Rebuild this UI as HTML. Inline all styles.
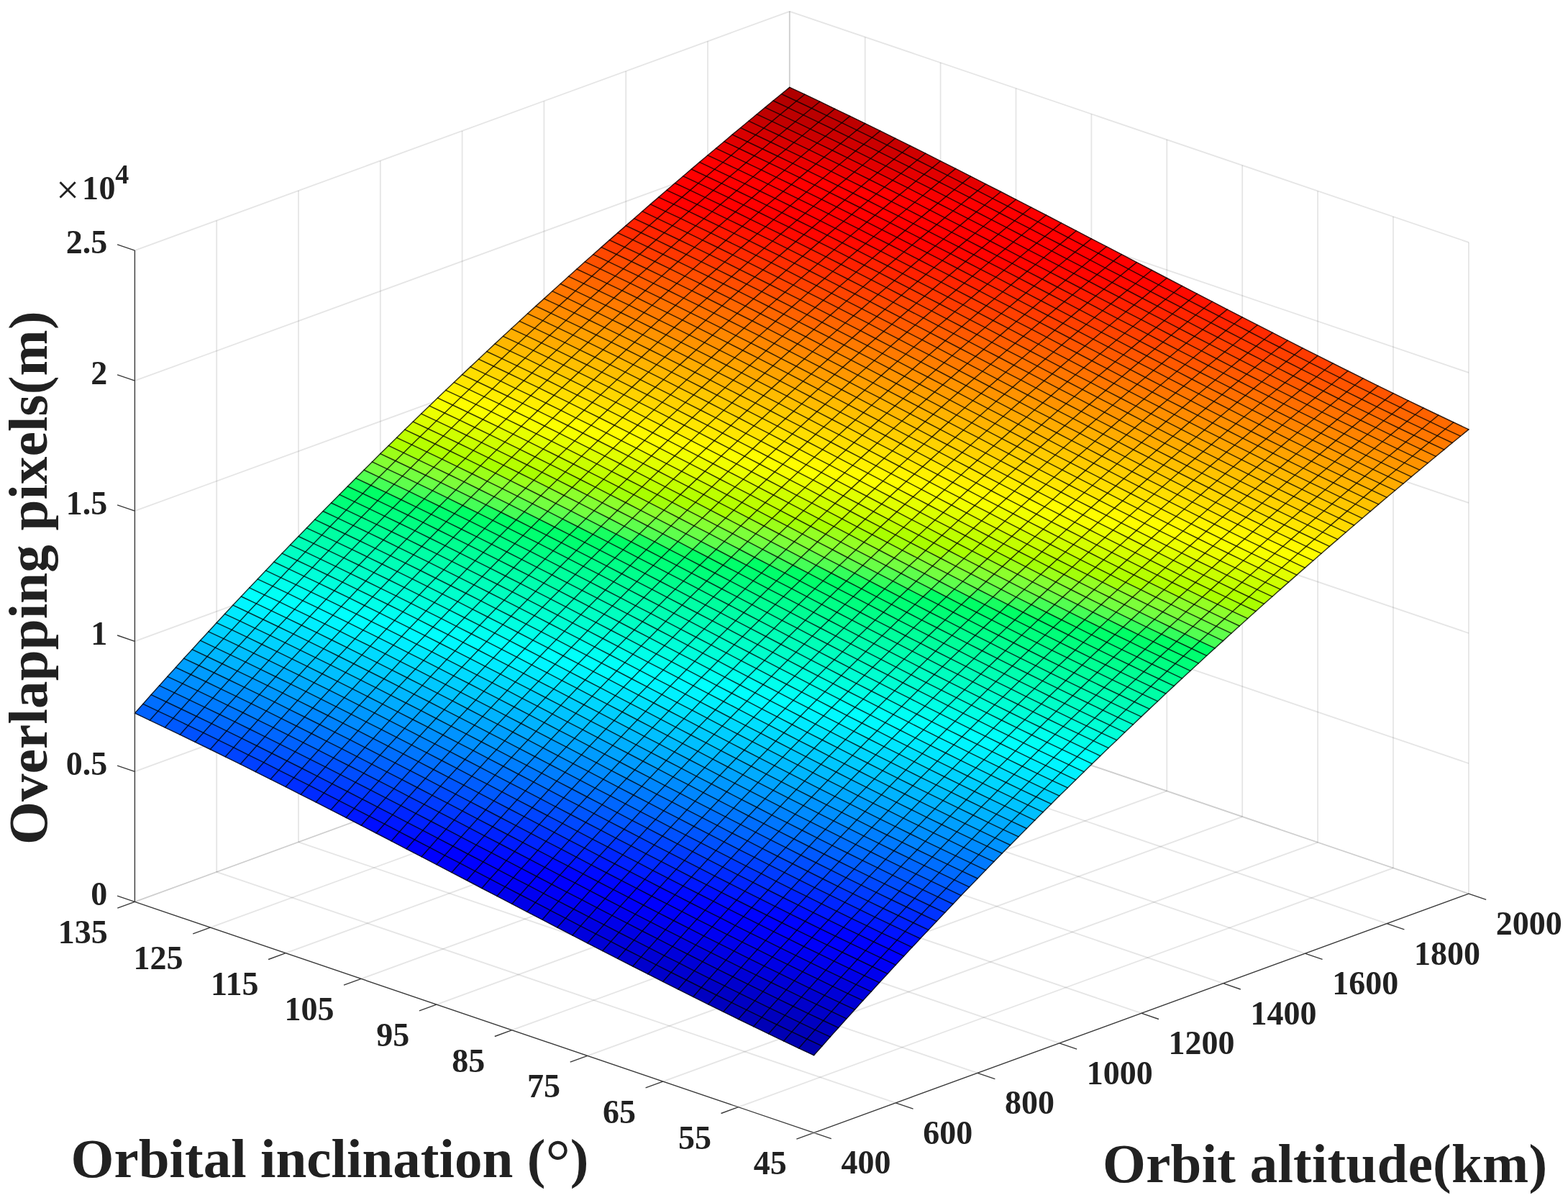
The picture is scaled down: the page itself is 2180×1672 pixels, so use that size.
<!DOCTYPE html>
<html lang="en"><head><meta charset="utf-8"><title>Overlapping pixels vs orbital inclination and orbit altitude</title>
<style>html,body{margin:0;padding:0;background:#fff}body{width:2180px;height:1672px;overflow:hidden}svg{display:block}</style></head>
<body>
<svg width="2180" height="1672" viewBox="0 0 2180 1672">
<rect width="2180" height="1672" fill="#fff"/>
<g fill="none" stroke="#262626" stroke-opacity="0.12" stroke-width="1.8">
<path d="M1026.6 1538.7L1937 1206.4"/>
<path d="M921.7 1503.1L1832.1 1170.8"/>
<path d="M816.8 1467.4L1727.2 1135.1"/>
<path d="M711.9 1431.7L1622.3 1099.4"/>
<path d="M607 1396.1L1517.4 1063.8"/>
<path d="M502.1 1360.4L1412.5 1028.1"/>
<path d="M397.2 1324.7L1307.6 992.4"/>
<path d="M292.3 1289.1L1202.7 956.8"/>
<path d="M187.4 1253.4L1097.8 921.1"/>
<path d="M1245.3 1532.9L301.2 1211.9"/>
<path d="M1359.1 1491.3L415 1170.3"/>
<path d="M1472.9 1449.8L528.8 1128.8"/>
<path d="M1586.7 1408.2L642.6 1087.2"/>
<path d="M1700.5 1366.7L756.4 1045.7"/>
<path d="M1814.3 1325.2L870.2 1004.2"/>
<path d="M1928.1 1283.6L984 962.6"/>
<path d="M2041.9 1242.1L1097.8 921.1"/>
<path d="M301.2 1211.9L301.2 306.6"/>
<path d="M415 1170.3L415 265"/>
<path d="M528.8 1128.8L528.8 223.5"/>
<path d="M642.6 1087.2L642.6 182"/>
<path d="M756.4 1045.7L756.4 140.4"/>
<path d="M870.2 1004.2L870.2 98.9"/>
<path d="M984 962.6L984 57.3"/>
<path d="M1097.8 921.1L1097.8 15.8"/>
<path d="M187.4 1253.4L1097.8 921.1"/>
<path d="M187.4 1072.3L1097.8 740"/>
<path d="M187.4 891.3L1097.8 559"/>
<path d="M187.4 710.2L1097.8 377.9"/>
<path d="M187.4 529.2L1097.8 196.9"/>
<path d="M187.4 348.1L1097.8 15.8"/>
<path d="M2041.9 1242.1L2041.9 336.8"/>
<path d="M1937 1206.4L1937 301.1"/>
<path d="M1832.1 1170.8L1832.1 265.5"/>
<path d="M1727.2 1135.1L1727.2 229.8"/>
<path d="M1622.3 1099.4L1622.3 194.1"/>
<path d="M1517.4 1063.8L1517.4 158.5"/>
<path d="M1412.5 1028.1L1412.5 122.8"/>
<path d="M1307.6 992.4L1307.6 87.1"/>
<path d="M1202.7 956.8L1202.7 51.5"/>
<path d="M1097.8 921.1L1097.8 15.8"/>
<path d="M1097.8 921.1L2041.9 1242.1"/>
<path d="M1097.8 740L2041.9 1061"/>
<path d="M1097.8 559L2041.9 880"/>
<path d="M1097.8 377.9L2041.9 698.9"/>
<path d="M1097.8 196.9L2041.9 517.9"/>
<path d="M1097.8 15.8L2041.9 336.8"/>
</g>
<g stroke-width=".7" stroke-linejoin="round">
<path fill="#af0000" stroke="#af0000" d="M1107.4 140.5l-21-9.8 11.4-9.3 21 9.8z"/>
<path fill="#b20000" stroke="#b20000" d="M1128.4 150.5l-21-10 11.4-9.3 21 10z"/>
<path fill="#b70000" stroke="#b70000" d="M1149.4 160.6l-21-10.1 11.4-9.3 20.9 10.1zM1117 159.8l-21-9.9 11.4-9.4 21 10z"/>
<path fill="#ba0000" stroke="#ba0000" d="M1170.3 170.7l-20.9-10.1 11.3-9.3 21 10.1zM1138 169.9l-21-10.1 11.4-9.3 21 10.1zM1084.6 159.2l-20.9-9.8 11.3-9.4 21 9.9z"/>
<path fill="#bd0000" stroke="#bd0000" d="M1191.3 180.9l-21-10.2 11.4-9.3 21 10.2zM1105.6 169.2l-21-10 11.4-9.3 21 9.9z"/>
<path fill="#bf0000" stroke="#bf0000" d="M1212.3 191.2l-21-10.3 11.4-9.3 21 10.3zM1159 180l-21-10.1 11.4-9.3 20.9 10.1zM1126.6 179.3l-21-10.1 11.4-9.4 21 10.1zM1073.3 168.6l-21-9.8 11.4-9.4 20.9 9.8z"/>
<path fill="#c20000" stroke="#c20000" d="M1233.3 201.6l-21-10.4 11.4-9.3 21 10.4zM1179.9 190.3l-20.9-10.3 11.3-9.3 21 10.2zM1094.2 178.6l-20.9-10 11.3-9.4 21 10z"/>
<path fill="#c70000" stroke="#c70000" d="M1254.3 212l-21-10.4 11.4-9.3 20.9 10.4zM1200.9 200.6l-21-10.3 11.4-9.4 21 10.3zM1147.6 189.4l-21-10.1 11.4-9.4 21 10.1zM1115.2 188.7l-21-10.1 11.4-9.4 21 10.1zM1061.9 178.1l-21-9.9 11.4-9.4 21 9.8z"/>
<path fill="#d00000" stroke="#d00000" d="M1275.2 222.5l-20.9-10.5 11.3-9.3 21 10.5zM1242.9 221.4l-21-10.5 11.4-9.3 21 10.4zM1189.5 209.9l-20.9-10.3 11.3-9.3 21 10.3zM1103.8 198.1l-20.9-10.1 11.3-9.4 21 10.1zM1050.5 187.5l-21-9.8 11.4-9.5 21 9.9z"/>
<path fill="#d40000" stroke="#d40000" d="M1296.2 233.1l-21-10.6 11.4-9.3 21 10.6zM1210.5 220.3l-21-10.4 11.4-9.3 21 10.3zM1157.2 209l-21-10.2 11.4-9.4 21 10.2zM1124.8 208.2l-21-10.1 11.4-9.4 21 10.1zM1071.5 197.5l-21-10 11.4-9.4 21 9.9z"/>
<path fill="#d90000" stroke="#d90000" d="M1317.2 243.7l-21-10.6 11.4-9.3 21 10.6zM1263.9 231.9l-21-10.5 11.4-9.4 20.9 10.5zM1231.5 230.7l-21-10.4 11.4-9.4 21 10.5zM1178.2 219.3l-21-10.3 11.4-9.4 20.9 10.3zM1092.5 207.6l-21-10.1 11.4-9.5 20.9 10.1zM1039.1 197l-21-9.9 11.4-9.4 21 9.8z"/>
<path fill="#d00" stroke="#d00" d="M1338.2 254.4l-21-10.7 11.4-9.3 21 10.7zM1284.8 242.4l-20.9-10.5 11.3-9.4 21 10.6zM1252.5 241.2l-21-10.5 11.4-9.3 21 10.5zM1199.1 229.7l-20.9-10.4 11.3-9.4 21 10.4zM1145.8 218.4l-21-10.2 11.4-9.4 21 10.2zM1113.4 217.7l-20.9-10.1 11.3-9.5 21 10.1zM1060.1 207l-21-10 11.4-9.5 21 10z"/>
<path fill="#e60000" stroke="#e60000" d="M1359.2 265.1l-21-10.7 11.4-9.3 20.9 10.7zM1326.8 263.7l-21-10.7 11.4-9.3 21 10.7zM1273.5 251.8l-21-10.6 11.4-9.3 20.9 10.5zM1241.1 250.6l-21-10.5 11.4-9.4 21 10.5zM1187.8 239.1l-21-10.4 11.4-9.4 20.9 10.4zM1134.4 227.9l-21-10.2 11.4-9.5 21 10.2zM1102.1 227.2l-21-10.2 11.4-9.4 20.9 10.1zM1048.7 216.5l-21-10 11.4-9.5 21 10z"/>
<path fill="#eb0000" stroke="#eb0000" d="M1380.1 275.8l-20.9-10.7 11.3-9.3 21 10.7zM1294.4 262.4l-20.9-10.6 11.3-9.4 21 10.6zM1208.7 249.5l-20.9-10.4 11.3-9.4 21 10.4zM1155.4 238.2l-21-10.3 11.4-9.5 21 10.3zM1123 237.4l-20.9-10.2 11.3-9.5 21 10.2zM1069.7 226.6l-21-10.1 11.4-9.5 21 10zM1016.4 216.1l-21-9.9 11.4-9.5 20.9 9.8z"/>
<path fill="#f40000" stroke="#f40000" d="M1401.1 286.6l-21-10.8 11.4-9.3 21 10.8zM1368.8 285.2l-21-10.8 11.4-9.3 20.9 10.7zM1283.1 271.8l-21-10.6 11.4-9.4 20.9 10.6zM1197.4 259l-21-10.4 11.4-9.5 20.9 10.4zM1144 247.7l-21-10.3 11.4-9.5 21 10.3zM1111.7 246.9l-21-10.2 11.4-9.5 20.9 10.2zM1058.3 236.1l-21-10 11.4-9.6 21 10.1zM1005 225.7l-21-9.9 11.4-9.6 21 9.9z"/>
<path fill="#f80000" stroke="#f80000" d="M1422.1 297.5l-21-10.9 11.4-9.3 21 10.9zM1389.7 296l-20.9-10.8 11.3-9.4 21 10.8zM1336.4 283.8l-21-10.7 11.4-9.4 21 10.7zM1304 282.5l-20.9-10.7 11.3-9.4 21 10.7zM1250.7 270.6l-21-10.6 11.4-9.4 21 10.6zM1218.3 269.5l-20.9-10.5 11.3-9.5 21 10.5zM1165 258.1l-21-10.4 11.4-9.5 21 10.4zM1079.3 246.3l-21-10.2 11.4-9.5 21 10.1zM1026 235.7l-21-10 11.4-9.6 20.9 10z"/>
<path fill="#fd0000" stroke="#fd0000" d="M1443.1 308.3l-21-10.8 11.4-9.3 21 10.8zM1357.4 294.5l-21-10.7 11.4-9.4 21 10.8zM1271.7 281.2l-21-10.6 11.4-9.4 21 10.6zM1186 268.5l-21-10.4 11.4-9.5 21 10.4zM1132.6 257.2l-20.9-10.3 11.3-9.5 21 10.3zM1100.3 256.5l-21-10.2 11.4-9.6 21 10.2zM1046.9 245.7l-20.9-10 11.3-9.6 21 10zM993.6 235.3l-21-9.9 11.4-9.6 21 9.9z"/>
<path fill="#f00" stroke="#f00" d="M1464.1 319.2l-21-10.9 11.4-9.3 20.9 10.9zM1485 330.1l-20.9-10.9 11.3-9.3 21 10.9zM1506 341.1l-21-11 11.4-9.3 21 11zM1527 352l-21-10.9 11.4-9.3 21 10.9zM1548 362.9l-21-10.9 11.4-9.3 21 10.9zM1569 373.9l-21-11 11.4-9.3 20.9 11zM1589.9 384.8l-20.9-10.9 11.3-9.3 21 10.9zM1410.7 306.8l-21-10.8 11.4-9.4 21 10.9zM1431.7 317.7l-21-10.9 11.4-9.3 21 10.8zM1452.7 328.6l-21-10.9 11.4-9.4 21 10.9zM1473.7 339.5l-21-10.9 11.4-9.4 20.9 10.9zM1494.6 350.4l-20.9-10.9 11.3-9.4 21 11zM1515.6 361.3l-21-10.9 11.4-9.3 21 10.9zM1536.6 372.3l-21-11 11.4-9.3 21 10.9zM1378.4 305.3l-21-10.8 11.4-9.3 20.9 10.8zM1399.3 316.2l-20.9-10.9 11.3-9.3 21 10.8zM1420.3 327l-21-10.8 11.4-9.4 21 10.9zM1441.3 337.9l-21-10.9 11.4-9.3 21 10.9zM1462.3 348.8l-21-10.9 11.4-9.3 21 10.9zM1483.3 359.8l-21-11 11.4-9.3 20.9 10.9zM1504.2 370.7l-20.9-10.9 11.3-9.4 21 10.9zM1325 293.2l-21-10.7 11.4-9.4 21 10.7zM1346 303.9l-21-10.7 11.4-9.4 21 10.7zM1367 314.7l-21-10.8 11.4-9.4 21 10.8zM1388 325.6l-21-10.9 11.4-9.4 20.9 10.9zM1408.9 336.4l-20.9-10.8 11.3-9.4 21 10.8zM1429.9 347.3l-21-10.9 11.4-9.4 21 10.9zM1450.9 358.2l-21-10.9 11.4-9.4 21 10.9zM1471.9 369.2l-21-11 11.4-9.4 21 11zM1292.7 291.9l-21-10.7 11.4-9.4 20.9 10.7zM1313.6 302.6l-20.9-10.7 11.3-9.4 21 10.7zM1334.6 313.4l-21-10.8 11.4-9.4 21 10.7zM1355.6 324.2l-21-10.8 11.4-9.5 21 10.8zM1376.6 335l-21-10.8 11.4-9.5 21 10.9zM1397.6 345.9l-21-10.9 11.4-9.4 20.9 10.8zM1418.5 356.8l-20.9-10.9 11.3-9.5 21 10.9zM1239.3 280.1l-21-10.6 11.4-9.5 21 10.6zM1260.3 290.7l-21-10.6 11.4-9.5 21 10.6zM1281.3 301.4l-21-10.7 11.4-9.5 21 10.7zM1302.3 312.1l-21-10.7 11.4-9.5 20.9 10.7zM1323.2 322.8l-20.9-10.7 11.3-9.5 21 10.8zM1344.2 333.6l-21-10.8 11.4-9.4 21 10.8zM1365.2 344.5l-21-10.9 11.4-9.4 21 10.8zM1386.2 355.3l-21-10.8 11.4-9.5 21 10.9zM1207 279l-21-10.5 11.4-9.5 20.9 10.5zM1227.9 289.6l-20.9-10.6 11.3-9.5 21 10.6zM1248.9 300.2l-21-10.6 11.4-9.5 21 10.6zM1269.9 310.8l-21-10.6 11.4-9.5 21 10.7zM1290.9 321.6l-21-10.8 11.4-9.4 21 10.7zM1311.9 332.3l-21-10.7 11.4-9.5 20.9 10.7zM1332.8 343.1l-20.9-10.8 11.3-9.5 21 10.8zM1153.6 267.6l-21-10.4 11.4-9.5 21 10.4zM1174.6 278l-21-10.4 11.4-9.5 21 10.4zM1195.6 288.5l-21-10.5 11.4-9.5 21 10.5zM1216.6 299.1l-21-10.6 11.4-9.5 20.9 10.6zM1237.5 309.7l-20.9-10.6 11.3-9.5 21 10.6zM1258.5 320.4l-21-10.7 11.4-9.5 21 10.6zM1279.5 331.1l-21-10.7 11.4-9.6 21 10.8zM1300.5 341.8l-21-10.7 11.4-9.5 21 10.7zM1121.3 266.8l-21-10.3 11.4-9.6 20.9 10.3zM1142.2 277.1l-20.9-10.3 11.3-9.6 21 10.4zM1163.2 287.6l-21-10.5 11.4-9.5 21 10.4zM1184.2 298.1l-21-10.5 11.4-9.6 21 10.5zM1205.2 308.6l-21-10.5 11.4-9.6 21 10.6zM1226.2 319.3l-21-10.7 11.4-9.5 20.9 10.6zM1247.1 329.9l-20.9-10.6 11.3-9.6 21 10.7zM1268.1 340.6l-21-10.7 11.4-9.5 21 10.7zM1067.9 255.8l-21-10.1 11.4-9.6 21 10.2zM1088.9 266.1l-21-10.3 11.4-9.5 21 10.2zM1109.9 276.4l-21-10.3 11.4-9.6 21 10.3zM1130.9 286.7l-21-10.3 11.4-9.6 20.9 10.3zM1151.8 297.2l-20.9-10.5 11.3-9.6 21 10.5zM1172.8 307.7l-21-10.5 11.4-9.6 21 10.5zM1193.8 318.2l-21-10.5 11.4-9.6 21 10.5zM1214.8 328.8l-21-10.6 11.4-9.6 21 10.7zM1014.6 245.3l-21-10 11.4-9.6 21 10zM1035.6 255.3l-21-10 11.4-9.6 20.9 10zM1056.5 265.5l-20.9-10.2 11.3-9.6 21 10.1zM1077.5 275.7l-21-10.2 11.4-9.7 21 10.3zM1098.5 286l-21-10.3 11.4-9.6 21 10.3zM1119.5 296.4l-21-10.4 11.4-9.6 21 10.3zM1140.5 306.8l-21-10.4 11.4-9.7 20.9 10.5zM1161.4 317.3l-20.9-10.5 11.3-9.6 21 10.5zM982.2 245l-21-9.9 11.4-9.7 21 9.9zM1003.2 254.9l-21-9.9 11.4-9.7 21 10zM1024.2 265l-21-10.1 11.4-9.6 21 10zM1045.2 275.1l-21-10.1 11.4-9.7 20.9 10.2zM1066.1 285.3l-20.9-10.2 11.3-9.6 21 10.2zM1087.1 295.6l-21-10.3 11.4-9.6 21 10.3zM1108.1 306l-21-10.4 11.4-9.6 21 10.4zM1129.1 316.4l-21-10.4 11.4-9.6 21 10.4zM970.8 254.7l-20.9-9.9 11.3-9.7 21 9.9zM991.8 264.6l-21-9.9 11.4-9.7 21 9.9zM1012.8 274.7l-21-10.1 11.4-9.7 21 10.1zM1033.8 284.8l-21-10.1 11.4-9.7 21 10.1zM1054.8 295l-21-10.2 11.4-9.7 20.9 10.2zM1075.7 305.3l-20.9-10.3 11.3-9.7 21 10.3zM959.5 264.4l-21-9.9 11.4-9.7 20.9 9.9zM980.4 274.3l-20.9-9.9 11.3-9.7 21 9.9zM1001.4 284.4l-21-10.1 11.4-9.7 21 10.1zM1022.4 294.5l-21-10.1 11.4-9.7 21 10.1zM948.1 274.1l-21-9.8 11.4-9.8 21 9.9zM969.1 284.1l-21-10 11.4-9.7 20.9 9.9zM990 294.2l-20.9-10.1 11.3-9.8 21 10.1zM936.7 283.9l-21-9.8 11.4-9.8 21 9.8z"/>
<path fill="#ff0300" stroke="#ff0300" d="M1610.9 395.8l-21-11 11.4-9.3 21 11zM1578.6 394.2l-21-11 11.4-9.3 20.9 10.9zM1492.9 380.1l-21-10.9 11.4-9.4 20.9 10.9zM1460.5 378.6l-21-10.9 11.4-9.5 21 11zM1374.8 364.8l-21-10.8 11.4-9.5 21 10.8zM1289.1 351.4l-21-10.8 11.4-9.5 21 10.7zM1256.7 350.2l-20.9-10.7 11.3-9.6 21 10.7zM1203.4 338.5l-21-10.7 11.4-9.6 21 10.6zM1117.7 326.1l-21-10.4 11.4-9.7 21 10.4zM1064.4 315.1l-21-10.3 11.4-9.8 20.9 10.3zM1011 304.3l-21-10.1 11.4-9.8 21 10.1z"/>
<path fill="#ff0600" stroke="#ff0600" d="M1631.9 406.7l-21-10.9 11.4-9.3 21 10.9zM1599.5 405.1l-20.9-10.9 11.3-9.4 21 11zM1546.2 392.6l-21-11 11.4-9.3 21 10.9zM1513.8 391l-20.9-10.9 11.3-9.4 21 10.9zM1428.1 377.1l-20.9-10.9 11.3-9.4 21 10.9zM1395.8 375.7l-21-10.9 11.4-9.5 21 10.9zM1342.4 363.5l-20.9-10.9 11.3-9.5 21 10.9zM1310.1 362.2l-21-10.8 11.4-9.6 21 10.8zM1224.4 349.1l-21-10.6 11.4-9.7 21 10.7zM1171 337.5l-20.9-10.6 11.3-9.6 21 10.5zM1138.7 336.6l-21-10.5 11.4-9.7 21 10.5zM1085.3 325.4l-20.9-10.3 11.3-9.8 21 10.4zM1032 314.5l-21-10.2 11.4-9.8 21 10.3zM978.7 304l-21-10.1 11.4-9.8 20.9 10.1zM925.3 293.8l-21-9.9 11.4-9.8 21 9.8z"/>
<path fill="#ff0a00" stroke="#ff0a00" d="M1652.9 417.6l-21-10.9 11.4-9.3 21 10.9zM1567.2 403.5l-21-10.9 11.4-9.4 21 11zM1534.8 402l-21-11 11.4-9.4 21 11zM1481.5 389.5l-21-10.9 11.4-9.4 21 10.9zM1449.1 388l-21-10.9 11.4-9.4 21 10.9zM1363.4 374.3l-21-10.8 11.4-9.5 21 10.8zM1277.7 361l-21-10.8 11.4-9.6 21 10.8zM1192 348.1l-21-10.6 11.4-9.7 21 10.7zM1106.3 335.9l-21-10.5 11.4-9.7 21 10.4zM1053 324.8l-21-10.3 11.4-9.7 21 10.3zM999.6 314.1l-20.9-10.1 11.3-9.8 21 10.1zM946.3 303.7l-21-9.9 11.4-9.9 21 10z"/>
<path fill="#ff1300" stroke="#ff1300" d="M1673.9 428.5l-21-10.9 11.4-9.3 20.9 10.9zM1641.5 426.9l-21-10.9 11.4-9.3 21 10.9zM1555.8 412.9l-21-10.9 11.4-9.4 21 10.9zM1523.4 411.4l-20.9-10.9 11.3-9.5 21 11zM1470.1 399l-21-11 11.4-9.4 21 10.9zM1437.7 397.5l-20.9-10.9 11.3-9.5 21 10.9zM1352 383.9l-20.9-10.9 11.3-9.5 21 10.8zM1266.3 370.6l-20.9-10.7 11.3-9.7 21 10.8zM1180.6 357.8l-20.9-10.6 11.3-9.7 21 10.6zM1094.9 345.6l-20.9-10.4 11.3-9.8 21 10.5zM1041.6 334.6l-21-10.3 11.4-9.8 21 10.3zM988.3 323.9l-21-10.1 11.4-9.8 20.9 10.1zM934.9 313.6l-21-10 11.4-9.8 21 9.9z"/>
<path fill="#ff1800" stroke="#ff1800" d="M1694.8 439.4l-20.9-10.9 11.3-9.3 21 10.9zM1609.1 425.4l-20.9-10.9 11.3-9.4 21 10.9zM1576.8 423.9l-21-11 11.4-9.4 21 11zM1491.1 409.9l-21-10.9 11.4-9.5 21 11zM1405.4 396.1l-21-10.9 11.4-9.5 21 10.9zM1373 394.8l-21-10.9 11.4-9.6 21 10.9zM1319.7 382.6l-21-10.8 11.4-9.6 21 10.8zM1287.3 381.4l-21-10.8 11.4-9.6 21 10.8zM1234 369.5l-21-10.7 11.4-9.7 21 10.8zM1201.6 368.5l-21-10.7 11.4-9.7 21 10.7zM1148.3 356.9l-21-10.5 11.4-9.8 21 10.6zM1062.6 345l-21-10.4 11.4-9.8 21 10.4zM1009.2 334.1l-20.9-10.2 11.3-9.8 21 10.2zM955.9 323.6l-21-10 11.4-9.9 21 10.1zM902.6 313.5l-21-9.8 11.4-10 20.9 9.9z"/>
<path fill="#ff1c00" stroke="#ff1c00" d="M1715.8 450.2l-21-10.8 11.4-9.3 21 10.8zM1662.5 437.8l-21-10.9 11.4-9.3 21 10.9zM1630.1 436.3l-21-10.9 11.4-9.4 21 10.9zM1544.4 422.4l-21-11 11.4-9.4 21 10.9zM1512.1 420.9l-21-11 11.4-9.4 20.9 10.9zM1458.7 408.5l-21-11 11.4-9.5 21 11zM1426.4 407.1l-21-11 11.4-9.5 20.9 10.9zM1340.7 393.5l-21-10.9 11.4-9.6 20.9 10.9zM1255 380.3l-21-10.8 11.4-9.6 20.9 10.7zM1169.3 367.5l-21-10.6 11.4-9.7 20.9 10.6zM1115.9 356.1l-21-10.5 11.4-9.7 21 10.5zM1083.6 355.4l-21-10.4 11.4-9.8 20.9 10.4zM1030.2 344.4l-21-10.3 11.4-9.8 21 10.3zM976.9 333.8l-21-10.2 11.4-9.8 21 10.1zM923.5 323.5l-20.9-10 11.3-9.9 21 10z"/>
<path fill="#ff2500" stroke="#ff2500" d="M1736.8 461l-21-10.8 11.4-9.3 21 10.8zM1704.4 459.5l-20.9-10.8 11.3-9.3 21 10.8zM1651.1 447.2l-21-10.9 11.4-9.4 21 10.9zM1618.7 445.7l-20.9-10.9 11.3-9.4 21 10.9zM1533 431.8l-20.9-10.9 11.3-9.5 21 11zM1500.7 430.4l-21-11 11.4-9.5 21 11zM1447.3 418l-20.9-10.9 11.3-9.6 21 11zM1415 416.6l-21-10.9 11.4-9.6 21 11zM1329.3 403.1l-21-10.9 11.4-9.6 21 10.9zM1243.6 390l-21-10.8 11.4-9.7 21 10.8zM1157.9 377.3l-21-10.6 11.4-9.8 21 10.6zM1104.5 365.9l-20.9-10.5 11.3-9.8 21 10.5zM1072.2 365.2l-21-10.4 11.4-9.8 21 10.4zM1018.8 354.3l-20.9-10.3 11.3-9.9 21 10.3zM965.5 343.7l-21-10.2 11.4-9.9 21 10.2zM912.2 333.4l-21-9.9 11.4-10 20.9 10z"/>
<path fill="#ff2a00" stroke="#ff2a00" d="M1757.8 471.8l-21-10.8 11.4-9.3 21 10.7zM1672.1 458.1l-21-10.9 11.4-9.4 21 10.9zM1639.7 456.6l-21-10.9 11.4-9.4 21 10.9zM1586.4 444.2l-21-10.9 11.4-9.4 21 10.9zM1554 442.8l-21-11 11.4-9.4 21 10.9zM1468.3 428.9l-21-10.9 11.4-9.5 21 10.9zM1382.6 415.3l-21-10.9 11.4-9.6 21 10.9zM1350.3 414l-21-10.9 11.4-9.6 20.9 10.9zM1296.9 401.9l-21-10.8 11.4-9.7 21 10.8zM1264.6 400.8l-21-10.8 11.4-9.7 20.9 10.8zM1211.2 388.9l-21-10.7 11.4-9.7 21 10.7zM1178.9 388l-21-10.7 11.4-9.8 20.9 10.7zM1125.5 376.5l-21-10.6 11.4-9.8 21 10.6zM1039.8 364.7l-21-10.4 11.4-9.9 21 10.4zM986.5 353.9l-21-10.2 11.4-9.9 21 10.2zM933.1 343.5l-20.9-10.1 11.3-9.9 21 10zM879.8 333.4l-21-9.8 11.4-10 21 9.9z"/>
<path fill="#ff2e00" stroke="#ff2e00" d="M1778.8 482.5l-21-10.7 11.4-9.4 20.9 10.8zM1725.4 470.3l-21-10.8 11.4-9.3 21 10.8zM1693.1 468.9l-21-10.8 11.4-9.4 20.9 10.8zM1607.4 455.1l-21-10.9 11.4-9.4 20.9 10.9zM1521.7 441.3l-21-10.9 11.4-9.5 20.9 10.9zM1489.3 439.9l-21-11 11.4-9.5 21 11zM1436 427.6l-21-11 11.4-9.5 20.9 10.9zM1403.6 426.2l-21-10.9 11.4-9.6 21 10.9zM1317.9 412.8l-21-10.9 11.4-9.7 21 10.9zM1232.2 399.7l-21-10.8 11.4-9.7 21 10.8zM1146.5 387.1l-21-10.6 11.4-9.8 21 10.6zM1093.2 375.7l-21-10.5 11.4-9.8 20.9 10.5zM1007.5 364.2l-21-10.3 11.4-9.9 20.9 10.3zM954.1 353.6l-21-10.1 11.4-10 21 10.2zM900.8 343.4l-21-10 11.4-9.9 21 9.9z"/>
<path fill="#ff3700" stroke="#ff3700" d="M1799.7 493.1l-20.9-10.6 11.3-9.3 21 10.6zM1767.4 491.8l-21-10.7 11.4-9.3 21 10.7zM1714 479.7l-20.9-10.8 11.3-9.4 21 10.8zM1681.7 478.3l-21-10.8 11.4-9.4 21 10.8zM1596 464.6l-21-10.9 11.4-9.5 21 10.9zM1510.3 450.8l-21-10.9 11.4-9.5 21 10.9zM1477.9 449.4l-21-10.9 11.4-9.6 21 11zM1424.6 437.1l-21-10.9 11.4-9.6 21 11zM1392.2 435.8l-21-10.9 11.4-9.6 21 10.9zM1306.5 422.5l-21-10.9 11.4-9.7 21 10.9zM1220.8 409.4l-21-10.7 11.4-9.8 21 10.8zM1135.1 396.9l-21-10.6 11.4-9.8 21 10.6zM1081.8 385.6l-21-10.5 11.4-9.9 21 10.5zM996.1 374.1l-21-10.3 11.4-9.9 21 10.3zM942.7 363.6l-20.9-10.1 11.3-10 21 10.1zM889.4 353.4l-21-9.9 11.4-10.1 21 10z"/>
<path fill="#ff3b00" stroke="#ff3b00" d="M1820.7 503.8l-21-10.7 11.4-9.3 21 10.6zM1735 490.5l-21-10.8 11.4-9.4 21 10.8zM1649.3 476.9l-21-10.9 11.4-9.4 21 10.9zM1617 475.5l-21-10.9 11.4-9.5 20.9 10.9zM1563.6 463.2l-21-10.9 11.4-9.5 21 10.9zM1531.3 461.8l-21-11 11.4-9.5 20.9 11zM1445.6 448.1l-21-11 11.4-9.5 20.9 10.9zM1359.9 434.6l-21-10.9 11.4-9.7 20.9 10.9zM1327.5 433.3l-21-10.8 11.4-9.7 21 10.9zM1274.2 421.3l-21-10.8 11.4-9.7 20.9 10.8zM1241.8 420.2l-21-10.8 11.4-9.7 21 10.8zM1188.5 408.5l-21-10.7 11.4-9.8 20.9 10.7zM1102.8 396.2l-21-10.6 11.4-9.9 20.9 10.6zM1049.4 385l-21-10.4 11.4-9.9 21 10.4zM963.7 373.8l-21-10.2 11.4-10 21 10.2zM910.4 363.5l-21-10.1 11.4-10 21 10.1zM857 353.5l-20.9-9.9 11.3-10 21 9.9z"/>
<path fill="#ff4000" stroke="#ff4000" d="M1841.7 514.3l-21-10.5 11.4-9.4 21 10.6zM1788.4 502.5l-21-10.7 11.4-9.3 20.9 10.6zM1756 501.2l-21-10.7 11.4-9.4 21 10.7zM1702.7 489.1l-21-10.8 11.4-9.4 20.9 10.8zM1670.3 487.7l-21-10.8 11.4-9.4 21 10.8zM1584.6 474.1l-21-10.9 11.4-9.5 21 10.9zM1498.9 460.4l-21-11 11.4-9.5 21 10.9zM1466.5 459l-20.9-10.9 11.3-9.6 21 10.9zM1413.2 446.8l-21-11 11.4-9.6 21 10.9zM1380.8 445.5l-20.9-10.9 11.3-9.7 21 10.9zM1295.1 432.2l-20.9-10.9 11.3-9.7 21 10.9zM1209.4 419.2l-20.9-10.7 11.3-9.8 21 10.7zM1156.1 407.6l-21-10.7 11.4-9.8 21 10.7zM1123.7 406.8l-20.9-10.6 11.3-9.9 21 10.6zM1070.4 395.5l-21-10.5 11.4-9.9 21 10.5zM1017.1 384.5l-21-10.4 11.4-9.9 20.9 10.4zM931.4 373.6l-21-10.1 11.4-10 20.9 10.1zM878 363.5l-21-10 11.4-10 21 9.9z"/>
<path fill="#ff4800" stroke="#ff4800" d="M1862.7 524.8l-21-10.5 11.4-9.3 21 10.5zM1830.3 523.7l-21-10.6 11.4-9.3 21 10.5zM1777 511.8l-21-10.6 11.4-9.4 21 10.7zM1744.6 510.6l-21-10.7 11.4-9.4 21 10.7zM1691.3 498.5l-21-10.8 11.4-9.4 21 10.8zM1658.9 497.2l-21-10.9 11.4-9.4 21 10.8zM1573.2 483.6l-21-10.9 11.4-9.5 21 10.9zM1487.5 470l-21-11 11.4-9.6 21 11zM1455.2 468.7l-21-11 11.4-9.6 20.9 10.9zM1401.8 456.4l-21-10.9 11.4-9.7 21 11zM1369.5 455.2l-21-10.9 11.4-9.7 20.9 10.9zM1283.8 441.9l-21-10.8 11.4-9.8 20.9 10.9zM1230.4 430l-21-10.8 11.4-9.8 21 10.8zM1198.1 429.1l-21-10.8 11.4-9.8 20.9 10.7zM1144.7 417.4l-21-10.6 11.4-9.9 21 10.7zM1059 405.4l-21-10.5 11.4-9.9 21 10.5zM1005.7 394.5l-21-10.4 11.4-10 21 10.4zM952.3 383.8l-20.9-10.2 11.3-10 21 10.2zM899 373.5l-21-10 11.4-10.1 21 10.1zM845.7 363.6l-21-9.9 11.4-10.1 20.9 9.9z"/>
<path fill="#ff4d00" stroke="#ff4d00" d="M1883.7 535.3l-21-10.5 11.4-9.3 20.9 10.4zM1851.3 534.2l-21-10.5 11.4-9.4 21 10.5zM1798 522.5l-21-10.7 11.4-9.3 20.9 10.6zM1712.3 509.3l-21-10.8 11.4-9.4 20.9 10.8zM1679.9 508l-21-10.8 11.4-9.5 21 10.8zM1626.6 495.8l-21-10.8 11.4-9.5 20.9 10.8zM1594.2 494.5l-21-10.9 11.4-9.5 21 10.9zM1540.9 482.3l-21-11 11.4-9.5 20.9 10.9zM1508.5 480.9l-21-10.9 11.4-9.6 21 10.9zM1422.8 467.4l-21-11 11.4-9.6 21 10.9zM1337.1 454l-21-10.9 11.4-9.8 21 11zM1251.4 440.9l-21-10.9 11.4-9.8 21 10.9zM1165.7 428.2l-21-10.8 11.4-9.8 21 10.7zM1112.4 416.7l-21-10.6 11.4-9.9 20.9 10.6zM1080 416l-21-10.6 11.4-9.9 21 10.6zM1026.7 404.9l-21-10.4 11.4-10 20.9 10.4zM973.3 394.1l-21-10.3 11.4-10 21 10.3zM920 383.7l-21-10.2 11.4-10 21 10.1zM866.6 373.6l-20.9-10 11.3-10.1 21 10z"/>
<path fill="#ff5100" stroke="#ff5100" d="M1904.6 545.6l-20.9-10.3 11.3-9.4 21 10.4zM1818.9 533l-20.9-10.5 11.3-9.4 21 10.6zM1765.6 521.2l-21-10.6 11.4-9.4 21 10.6zM1733.2 520l-20.9-10.7 11.3-9.4 21 10.7zM1647.5 506.7l-20.9-10.9 11.3-9.5 21 10.9zM1561.8 493.2l-20.9-10.9 11.3-9.6 21 10.9zM1476.1 479.6l-20.9-10.9 11.3-9.7 21 11zM1443.8 478.3l-21-10.9 11.4-9.7 21 11zM1390.4 466.1l-20.9-10.9 11.3-9.7 21 10.9zM1358.1 464.9l-21-10.9 11.4-9.7 21 10.9zM1304.7 452.8l-20.9-10.9 11.3-9.7 21 10.9zM1272.4 451.7l-21-10.8 11.4-9.8 21 10.8zM1219 439.9l-20.9-10.8 11.3-9.9 21 10.8zM1186.7 438.9l-21-10.7 11.4-9.9 21 10.8zM1133.3 427.4l-20.9-10.7 11.3-9.9 21 10.6zM1047.6 415.4l-20.9-10.5 11.3-10 21 10.5zM994.3 404.5l-21-10.4 11.4-10 21 10.4zM941 393.9l-21-10.2 11.4-10.1 20.9 10.2zM887.6 383.6l-21-10 11.4-10.1 21 10zM834.3 373.7l-21-9.9 11.4-10.1 21 9.9z"/>
<path fill="#f50" stroke="#f50" d="M1925.6 555.9l-21-10.3 11.4-9.3 21 10.3zM1872.3 544.6l-21-10.4 11.4-9.4 21 10.5zM1839.9 543.5l-21-10.5 11.4-9.3 21 10.5zM1786.6 531.9l-21-10.7 11.4-9.4 21 10.7zM1700.9 518.7l-21-10.7 11.4-9.5 21 10.8zM1668.5 517.5l-21-10.8 11.4-9.5 21 10.8zM1615.2 505.4l-21-10.9 11.4-9.5 21 10.8zM1582.8 504.1l-21-10.9 11.4-9.6 21 10.9zM1529.5 491.8l-21-10.9 11.4-9.6 21 11zM1497.1 490.5l-21-10.9 11.4-9.6 21 10.9zM1411.4 477.1l-21-11 11.4-9.7 21 11zM1325.7 463.7l-21-10.9 11.4-9.7 21 10.9zM1240 450.7l-21-10.8 11.4-9.9 21 10.9zM1154.3 438.1l-21-10.7 11.4-10 21 10.8zM1101 426.6l-21-10.6 11.4-9.9 21 10.6zM1015.3 414.9l-21-10.4 11.4-10 21 10.4zM961.9 404.2l-20.9-10.3 11.3-10.1 21 10.3zM908.6 393.8l-21-10.2 11.4-10.1 21 10.2zM855.3 383.7l-21-10 11.4-10.1 20.9 10z"/>
<path fill="#ff5900" stroke="#ff5900" d="M1946.6 566.1l-21-10.2 11.4-9.3 21 10.2zM1893.3 555l-21-10.4 11.4-9.3 20.9 10.3zM1807.6 542.4l-21-10.5 11.4-9.4 20.9 10.5zM1754.2 530.7l-21-10.7 11.4-9.4 21 10.6zM1721.9 529.5l-21-10.8 11.4-9.4 20.9 10.7zM1636.2 516.2l-21-10.8 11.4-9.6 20.9 10.9zM1550.5 502.8l-21-11 11.4-9.5 20.9 10.9zM1464.8 489.3l-21-11 11.4-9.6 20.9 10.9zM1432.4 488l-21-10.9 11.4-9.7 21 10.9zM1379.1 475.8l-21-10.9 11.4-9.7 20.9 10.9zM1346.7 474.7l-21-11 11.4-9.7 21 10.9zM1293.4 462.6l-21-10.9 11.4-9.8 20.9 10.9zM1261 461.6l-21-10.9 11.4-9.8 21 10.8zM1207.7 449.7l-21-10.8 11.4-9.8 20.9 10.8zM1175.3 448.8l-21-10.7 11.4-9.9 21 10.7zM1122 437.3l-21-10.7 11.4-9.9 20.9 10.7zM1068.6 426l-21-10.6 11.4-10 21 10.6zM1036.3 425.4l-21-10.5 11.4-10 20.9 10.5zM982.9 414.5l-21-10.3 11.4-10.1 21 10.4zM929.6 404l-21-10.2 11.4-10.1 21 10.2zM876.2 393.7l-20.9-10 11.3-10.1 21 10zM822.9 383.9l-21-9.9 11.4-10.2 21 9.9z"/>
<path fill="#ff5d00" stroke="#ff5d00" d="M1967.6 576.3l-21-10.2 11.4-9.3 21 10.2zM1914.2 565.3l-20.9-10.3 11.3-9.4 21 10.3zM1860.9 554l-21-10.5 11.4-9.3 21 10.4zM1828.5 552.9l-20.9-10.5 11.3-9.4 21 10.5zM1775.2 541.3l-21-10.6 11.4-9.5 21 10.7zM1742.8 540.1l-20.9-10.6 11.3-9.5 21 10.7zM1689.5 528.2l-21-10.7 11.4-9.5 21 10.7zM1657.1 527l-20.9-10.8 11.3-9.5 21 10.8zM1603.8 514.9l-21-10.8 11.4-9.6 21 10.9zM1571.4 513.6l-20.9-10.8 11.3-9.6 21 10.9zM1518.1 501.5l-21-11 11.4-9.6 21 10.9zM1485.7 500.2l-20.9-10.9 11.3-9.7 21 10.9zM1400 486.8l-20.9-11 11.3-9.7 21 11zM1314.3 473.5l-20.9-10.9 11.3-9.8 21 10.9zM1228.6 460.6l-20.9-10.9 11.3-9.8 21 10.8zM1142.9 448l-20.9-10.7 11.3-9.9 21 10.7zM1089.6 436.6l-21-10.6 11.4-10 21 10.6zM1003.9 425l-21-10.5 11.4-10 21 10.4zM950.6 414.3l-21-10.3 11.4-10.1 20.9 10.3zM897.2 403.9l-21-10.2 11.4-10.1 21 10.2zM843.9 393.9l-21-10 11.4-10.2 21 10z"/>
<path fill="#ff6200" stroke="#ff6200" d="M1988.6 586.3l-21-10 11.4-9.3 20.9 10zM1935.2 575.5l-21-10.2 11.4-9.4 21 10.2zM1881.9 564.3l-21-10.3 11.4-9.4 21 10.4zM1796.2 551.8l-21-10.5 11.4-9.4 21 10.5zM1710.5 538.9l-21-10.7 11.4-9.5 21 10.8zM1624.8 525.8l-21-10.9 11.4-9.5 21 10.8zM1539.1 512.4l-21-10.9 11.4-9.7 21 11zM1453.4 498.9l-21-10.9 11.4-9.7 21 11zM1367.7 485.6l-21-10.9 11.4-9.8 21 10.9zM1335.3 484.5l-21-11 11.4-9.8 21 11zM1282 472.4l-21-10.8 11.4-9.9 21 10.9zM1249.6 471.4l-21-10.8 11.4-9.9 21 10.9zM1196.3 459.6l-21-10.8 11.4-9.9 21 10.8zM1110.6 447.3l-21-10.7 11.4-10 21 10.7zM1057.2 436l-20.9-10.6 11.3-10 21 10.6zM971.5 424.6l-20.9-10.3 11.3-10.1 21 10.3zM918.2 414.1l-21-10.2 11.4-10.1 21 10.2zM864.9 403.9l-21-10 11.4-10.2 20.9 10zM811.5 394.1l-21-9.9 11.4-10.2 21 9.9z"/>
<path fill="#ff6a00" stroke="#ff6a00" d="M2009.5 596.3l-20.9-10 11.3-9.3 21 10zM1977.2 595.7l-21-10.1 11.4-9.3 21 10zM1923.8 584.8l-20.9-10.2 11.3-9.3 21 10.2zM1870.5 573.7l-21-10.3 11.4-9.4 21 10.3zM1784.8 561.3l-21-10.6 11.4-9.4 21 10.5zM1699.1 548.5l-21-10.7 11.4-9.6 21 10.7zM1613.4 535.3l-21-10.8 11.4-9.6 21 10.9zM1527.7 522l-21-10.9 11.4-9.6 21 10.9zM1442 508.7l-21-11 11.4-9.7 21 10.9zM1356.3 495.4l-21-10.9 11.4-9.8 21 10.9zM1270.6 482.3l-21-10.9 11.4-9.8 21 10.8zM1184.9 469.6l-21-10.8 11.4-10 21 10.8zM1099.2 457.3l-21-10.7 11.4-10 21 10.7zM1045.9 446l-21-10.5 11.4-10.1 20.9 10.6zM992.5 435.1l-21-10.5 11.4-10.1 21 10.5zM906.8 424.3l-21-10.3 11.4-10.1 21 10.2zM853.5 414.1l-21-10 11.4-10.2 21 10z"/>
<path fill="#ff6e00" stroke="#ff6e00" d="M2030.5 606.2l-21-9.9 11.4-9.3 21 9.9zM1998.2 605.6l-21-9.9 11.4-9.4 20.9 10zM1944.8 595l-21-10.2 11.4-9.3 21 10.1zM1891.5 584l-21-10.3 11.4-9.4 21 10.3zM1838.1 572.8l-20.9-10.5 11.3-9.4 21 10.5zM1805.8 571.8l-21-10.5 11.4-9.5 21 10.5zM1752.4 560.2l-20.9-10.6 11.3-9.5 21 10.6zM1720.1 559.1l-21-10.6 11.4-9.6 21 10.7zM1666.7 547.3l-20.9-10.7 11.3-9.6 21 10.8zM1634.4 546.1l-21-10.8 11.4-9.5 21 10.8zM1581 534.1l-20.9-10.8 11.3-9.7 21 10.9zM1548.7 532.9l-21-10.9 11.4-9.6 21 10.9zM1495.3 520.8l-20.9-10.9 11.3-9.7 21 10.9zM1463 519.6l-21-10.9 11.4-9.8 21 11zM1409.6 507.5l-20.9-11 11.3-9.7 21 10.9zM1377.3 506.3l-21-10.9 11.4-9.8 21 10.9zM1323.9 494.3l-20.9-10.9 11.3-9.9 21 11zM1291.6 493.2l-21-10.9 11.4-9.9 21 11zM1238.2 481.3l-20.9-10.8 11.3-9.9 21 10.8zM1205.9 480.4l-21-10.8 11.4-10 21 10.9zM1152.5 468.7l-20.9-10.7 11.3-10 21 10.8zM1066.8 456.7l-20.9-10.7 11.3-10 21 10.6zM1013.5 445.6l-21-10.5 11.4-10.1 21 10.5zM960.2 434.8l-21-10.4 11.4-10.1 20.9 10.3zM800.1 404.3l-20.9-9.8 11.3-10.3 21 9.9z"/>
<path fill="#b40000" stroke="#b40000" d="M1096 149.9l-21-9.9 11.4-9.3 21 9.8z"/>
<path fill="#cb0000" stroke="#cb0000" d="M1221.9 210.9l-21-10.3 11.4-9.4 21 10.4zM1168.6 199.6l-21-10.2 11.4-9.4 20.9 10.3zM1136.2 198.8l-21-10.1 11.4-9.4 21 10.1zM1082.9 188l-21-9.9 11.4-9.5 20.9 10z"/>
<path fill="#e20000" stroke="#e20000" d="M1305.8 253l-21-10.6 11.4-9.3 21 10.6zM1220.1 240.1l-21-10.4 11.4-9.4 21 10.4zM1166.8 228.7l-21-10.3 11.4-9.4 21 10.3zM1081.1 217l-21-10 11.4-9.5 21 10.1zM1027.7 206.5l-20.9-9.8 11.3-9.6 21 9.9z"/>
<path fill="#ef0000" stroke="#ef0000" d="M1347.8 274.4l-21-10.7 11.4-9.3 21 10.7zM1315.4 273.1l-21-10.7 11.4-9.4 21 10.7zM1262.1 261.2l-21-10.6 11.4-9.4 21 10.6zM1229.7 260l-21-10.5 11.4-9.4 21 10.5zM1176.4 248.6l-21-10.4 11.4-9.5 21 10.4zM1090.7 236.7l-21-10.1 11.4-9.6 21 10.2zM1037.3 226.1l-20.9-10 11.3-9.6 21 10z"/>
<path fill="#ff0100" stroke="#ff0100" d="M1557.6 383.2l-21-10.9 11.4-9.4 21 11zM1525.2 381.6l-21-10.9 11.4-9.4 21 11zM1439.5 367.7l-21-10.9 11.4-9.5 21 10.9zM1407.2 366.2l-21-10.9 11.4-9.4 20.9 10.9zM1353.8 354l-21-10.9 11.4-9.5 21 10.9zM1321.5 352.6l-21-10.8 11.4-9.5 20.9 10.8zM1235.8 339.5l-21-10.7 11.4-9.5 20.9 10.6zM1182.4 327.8l-21-10.5 11.4-9.6 21 10.5zM1150.1 326.9l-21-10.5 11.4-9.6 20.9 10.5zM1096.7 315.7l-21-10.4 11.4-9.7 21 10.4zM1043.4 304.8l-21-10.3 11.4-9.7 21 10.2zM957.7 293.9l-21-10 11.4-9.8 21 10z"/>
<path fill="#ff0e00" stroke="#ff0e00" d="M1620.5 416l-21-10.9 11.4-9.3 21 10.9zM1588.2 414.5l-21-11 11.4-9.3 20.9 10.9zM1502.5 400.5l-21-11 11.4-9.4 20.9 10.9zM1416.8 386.6l-21-10.9 11.4-9.5 20.9 10.9zM1384.4 385.2l-21-10.9 11.4-9.5 21 10.9zM1331.1 373l-21-10.8 11.4-9.6 20.9 10.9zM1298.7 371.8l-21-10.8 11.4-9.6 21 10.8zM1245.4 359.9l-21-10.8 11.4-9.6 20.9 10.7zM1213 358.8l-21-10.7 11.4-9.6 21 10.6zM1159.7 347.2l-21-10.6 11.4-9.7 20.9 10.6zM1127.3 346.4l-21-10.5 11.4-9.8 21 10.5zM1074 335.2l-21-10.4 11.4-9.7 20.9 10.3zM1020.6 324.3l-21-10.2 11.4-9.8 21 10.2zM967.3 313.8l-21-10.1 11.4-9.8 21 10.1zM913.9 303.6l-20.9-9.9 11.3-9.8 21 9.9z"/>
<path fill="#ff2100" stroke="#ff2100" d="M1683.5 448.7l-21-10.9 11.4-9.3 20.9 10.9zM1597.8 434.8l-21-10.9 11.4-9.4 20.9 10.9zM1565.4 433.3l-21-10.9 11.4-9.5 21 11zM1479.7 419.4l-21-10.9 11.4-9.5 21 10.9zM1394 405.7l-21-10.9 11.4-9.6 21 10.9zM1361.6 404.4l-20.9-10.9 11.3-9.6 21 10.9zM1308.3 392.2l-21-10.8 11.4-9.6 21 10.8zM1275.9 391.1l-20.9-10.8 11.3-9.7 21 10.8zM1222.6 379.2l-21-10.7 11.4-9.7 21 10.7zM1190.2 378.2l-20.9-10.7 11.3-9.7 21 10.7zM1136.9 366.7l-21-10.6 11.4-9.7 21 10.5zM1051.2 354.8l-21-10.4 11.4-9.8 21 10.4zM997.9 344l-21-10.2 11.4-9.9 20.9 10.2zM944.5 333.5l-21-10 11.4-9.9 21 10zM891.2 323.5l-21-9.9 11.4-9.9 21 9.8z"/>
<path fill="#f30" stroke="#f30" d="M1746.4 481.1l-21-10.8 11.4-9.3 21 10.8zM1660.7 467.5l-21-10.9 11.4-9.4 21 10.9zM1628.3 466l-20.9-10.9 11.3-9.4 21 10.9zM1575 453.7l-21-10.9 11.4-9.5 21 10.9zM1542.6 452.3l-20.9-11 11.3-9.5 21 11zM1456.9 438.5l-20.9-10.9 11.3-9.6 21 10.9zM1371.2 424.9l-20.9-10.9 11.3-9.6 21 10.9zM1338.9 423.7l-21-10.9 11.4-9.7 21 10.9zM1285.5 411.6l-20.9-10.8 11.3-9.7 21 10.8zM1253.2 410.5l-21-10.8 11.4-9.7 21 10.8zM1199.8 398.7l-20.9-10.7 11.3-9.8 21 10.7zM1167.5 397.8l-21-10.7 11.4-9.8 21 10.7zM1114.1 386.3l-20.9-10.6 11.3-9.8 21 10.6zM1060.8 375.1l-21-10.4 11.4-9.9 21 10.4zM1028.4 374.6l-20.9-10.4 11.3-9.9 21 10.4zM975.1 363.8l-21-10.2 11.4-9.9 21 10.2zM921.8 353.5l-21-10.1 11.4-10 20.9 10.1zM868.4 343.5l-21-9.9 11.4-10 21 9.8z"/>
<path fill="#f40" stroke="#f40" d="M1809.3 513.1l-20.9-10.6 11.3-9.4 21 10.7zM1723.6 499.9l-20.9-10.8 11.3-9.4 21 10.8zM1637.9 486.3l-20.9-10.8 11.3-9.5 21 10.9zM1605.6 485l-21-10.9 11.4-9.5 21 10.9zM1552.2 472.7l-20.9-10.9 11.3-9.5 21 10.9zM1519.9 471.3l-21-10.9 11.4-9.6 21 11zM1434.2 457.7l-21-10.9 11.4-9.7 21 11zM1348.5 444.3l-21-11 11.4-9.6 21 10.9zM1316.1 443.1l-21-10.9 11.4-9.7 21 10.8zM1262.8 431.1l-21-10.9 11.4-9.7 21 10.8zM1177.1 418.3l-21-10.7 11.4-9.8 21 10.7zM1091.4 406.1l-21-10.6 11.4-9.9 21 10.6zM1038 394.9l-20.9-10.4 11.3-9.9 21 10.4zM984.7 384.1l-21-10.3 11.4-10 21 10.3z"/>
<path fill="#f60" stroke="#f60" d="M1956.2 585.6l-21-10.1 11.4-9.4 21 10.2zM1902.9 574.6l-21-10.3 11.4-9.3 20.9 10.3zM1849.5 563.4l-21-10.5 11.4-9.4 21 10.5zM1817.2 562.3l-21-10.5 11.4-9.4 20.9 10.5zM1763.8 550.7l-21-10.6 11.4-9.4 21 10.6zM1731.5 549.6l-21-10.7 11.4-9.4 20.9 10.6zM1678.1 537.8l-21-10.8 11.4-9.5 21 10.7zM1645.8 536.6l-21-10.8 11.4-9.6 20.9 10.8zM1592.4 524.5l-21-10.9 11.4-9.5 21 10.8zM1560.1 523.3l-21-10.9 11.4-9.6 20.9 10.8zM1506.7 511.1l-21-10.9 11.4-9.7 21 11zM1474.4 509.9l-21-11 11.4-9.6 20.9 10.9zM1421 497.7l-21-10.9 11.4-9.7 21 10.9zM1388.7 496.5l-21-10.9 11.4-9.8 20.9 11zM1303 483.4l-21-11 11.4-9.8 20.9 10.9zM1217.3 470.5l-21-10.9 11.4-9.9 20.9 10.9zM1163.9 458.8l-21-10.8 11.4-9.9 21 10.7zM1131.6 458l-21-10.7 11.4-10 20.9 10.7zM1078.2 446.6l-21-10.6 11.4-10 21 10.6zM1024.9 435.5l-21-10.5 11.4-10.1 21 10.5zM939.2 424.4l-21-10.3 11.4-10.1 21 10.3zM885.8 414l-20.9-10.1 11.3-10.2 21 10.2zM832.5 404.1l-21-10 11.4-10.2 21 10z"/>
<path fill="#ff7200" stroke="#ff7200" d="M2019.1 615.5l-20.9-9.9 11.3-9.3 21 9.9zM1965.8 605l-21-10 11.4-9.4 21 10.1zM1912.5 594.2l-21-10.2 11.4-9.4 20.9 10.2zM1859.1 583.1l-21-10.3 11.4-9.4 21 10.3zM1826.8 582.2l-21-10.4 11.4-9.5 20.9 10.5zM1773.4 570.8l-21-10.6 11.4-9.5 21 10.6zM1687.7 558l-21-10.7 11.4-9.5 21 10.7zM1602 545l-21-10.9 11.4-9.6 21 10.8zM1516.3 531.7l-21-10.9 11.4-9.7 21 10.9zM1430.6 518.4l-21-10.9 11.4-9.8 21 11zM1344.9 505.2l-21-10.9 11.4-9.8 21 10.9zM1259.2 492.2l-21-10.9 11.4-9.9 21 10.9zM1173.5 479.5l-21-10.8 11.4-9.9 21 10.8zM1120.2 468l-21-10.7 11.4-10 21 10.7zM1087.8 467.3l-21-10.6 11.4-10.1 21 10.7zM1034.5 456.1l-21-10.5 11.4-10.1 21 10.5zM981.1 445.2l-20.9-10.4 11.3-10.2 21 10.5zM927.8 434.6l-21-10.3 11.4-10.2 21 10.3zM874.5 424.2l-21-10.1 11.4-10.2 20.9 10.1zM821.1 414.3l-21-10 11.4-10.2 21 10z"/>
<path fill="#ff7600" stroke="#ff7600" d="M1986.8 615l-21-10 11.4-9.3 21 9.9zM1933.4 604.4l-20.9-10.2 11.3-9.4 21 10.2zM1880.1 593.4l-21-10.3 11.4-9.4 21 10.3zM1794.4 581.3l-21-10.5 11.4-9.5 21 10.5zM1741.1 569.8l-21-10.7 11.4-9.5 20.9 10.6zM1708.7 568.7l-21-10.7 11.4-9.5 21 10.6zM1655.4 556.9l-21-10.8 11.4-9.5 20.9 10.7zM1623 555.8l-21-10.8 11.4-9.7 21 10.8zM1569.7 543.8l-21-10.9 11.4-9.6 20.9 10.8zM1537.3 542.6l-21-10.9 11.4-9.7 21 10.9zM1484 530.5l-21-10.9 11.4-9.7 20.9 10.9zM1451.6 529.4l-21-11 11.4-9.7 21 10.9zM1398.3 517.3l-21-11 11.4-9.8 20.9 11zM1365.9 516.2l-21-11 11.4-9.8 21 10.9zM1312.6 504.1l-21-10.9 11.4-9.8 20.9 10.9zM1280.2 503.1l-21-10.9 11.4-9.9 21 10.9zM1226.9 491.3l-21-10.9 11.4-9.9 20.9 10.8zM1141.2 478.8l-21-10.8 11.4-10 20.9 10.7zM1055.5 466.7l-21-10.6 11.4-10.1 20.9 10.7zM1002.1 455.7l-21-10.5 11.4-10.1 21 10.5zM948.8 444.9l-21-10.3 11.4-10.2 21 10.4zM895.4 434.5l-20.9-10.3 11.3-10.2 21 10.3zM842.1 424.4l-21-10.1 11.4-10.2 21 10zM788.8 414.6l-21-9.9 11.4-10.2 20.9 9.8z"/>
<path fill="#ff7a00" stroke="#ff7a00" d="M2007.8 624.9l-21-9.9 11.4-9.4 20.9 9.9zM1954.4 614.4l-21-10 11.4-9.4 21 10zM1901.1 603.7l-21-10.3 11.4-9.4 21 10.2zM1847.7 592.6l-20.9-10.4 11.3-9.4 21 10.3zM1815.4 591.7l-21-10.4 11.4-9.5 21 10.4zM1762 580.3l-20.9-10.5 11.3-9.6 21 10.6zM1676.3 567.6l-20.9-10.7 11.3-9.6 21 10.7zM1590.6 554.6l-20.9-10.8 11.3-9.7 21 10.9zM1504.9 541.4l-20.9-10.9 11.3-9.7 21 10.9zM1419.2 528.2l-20.9-10.9 11.3-9.8 21 10.9zM1333.5 515.1l-20.9-11 11.3-9.8 21 10.9zM1247.8 502.2l-20.9-10.9 11.3-10 21 10.9zM1194.5 490.4l-21-10.9 11.4-9.9 21 10.8zM1162.1 489.6l-20.9-10.8 11.3-10.1 21 10.8zM1108.8 478l-21-10.7 11.4-10 21 10.7zM1023.1 466.3l-21-10.6 11.4-10.1 21 10.5zM969.8 455.4l-21-10.5 11.4-10.1 20.9 10.4zM916.4 444.8l-21-10.3 11.4-10.2 21 10.3zM863.1 434.5l-21-10.1 11.4-10.3 21 10.1zM809.7 424.6l-20.9-10 11.3-10.3 21 10z"/>
<path fill="#ff7e00" stroke="#ff7e00" d="M1975.4 624.4l-21-10 11.4-9.4 21 10zM1922.1 613.8l-21-10.1 11.4-9.5 20.9 10.2zM1868.7 602.9l-21-10.3 11.4-9.5 21 10.3zM1783 590.8l-21-10.5 11.4-9.5 21 10.5zM1729.7 579.3l-21-10.6 11.4-9.6 21 10.7zM1697.3 578.3l-21-10.7 11.4-9.6 21 10.7zM1644 566.5l-21-10.7 11.4-9.7 21 10.8zM1558.3 553.5l-21-10.9 11.4-9.7 21 10.9zM1472.6 540.3l-21-10.9 11.4-9.8 21 10.9zM1440.2 539.2l-21-11 11.4-9.8 21 11zM1386.9 527.1l-21-10.9 11.4-9.9 21 11zM1354.5 526l-21-10.9 11.4-9.9 21 11zM1301.2 514l-21-10.9 11.4-9.9 21 10.9zM1215.5 501.2l-21-10.8 11.4-10 21 10.9zM1129.8 488.8l-21-10.8 11.4-10 21 10.8zM1076.4 477.4l-20.9-10.7 11.3-10 21 10.6zM990.7 465.9l-20.9-10.5 11.3-10.2 21 10.5zM937.4 455.1l-21-10.3 11.4-10.2 21 10.3zM884.1 444.7l-21-10.2 11.4-10.3 20.9 10.3zM830.7 434.6l-21-10 11.4-10.3 21 10.1zM777.4 424.9l-21-9.8 11.4-10.4 21 9.9z"/>
<path fill="#ff8300" stroke="#ff8300" d="M1996.4 634.3l-21-9.9 11.4-9.4 21 9.9zM1943 623.9l-20.9-10.1 11.3-9.4 21 10zM1889.7 613.1l-21-10.2 11.4-9.5 21 10.3zM1836.4 602.1l-21-10.4 11.4-9.5 20.9 10.4zM1804 601.3l-21-10.5 11.4-9.5 21 10.4zM1750.7 589.9l-21-10.6 11.4-9.5 20.9 10.5zM1665 577.2l-21-10.7 11.4-9.6 20.9 10.7zM1611.6 565.4l-21-10.8 11.4-9.6 21 10.8zM1579.3 564.3l-21-10.8 11.4-9.7 20.9 10.8zM1525.9 552.3l-21-10.9 11.4-9.7 21 10.9zM1493.6 551.2l-21-10.9 11.4-9.8 20.9 10.9zM1407.9 538.1l-21-11 11.4-9.8 20.9 10.9zM1322.2 525l-21-11 11.4-9.9 20.9 11zM1268.8 513.1l-21-10.9 11.4-10 21 10.9zM1236.5 512.1l-21-10.9 11.4-9.9 20.9 10.9zM1183.1 500.4l-21-10.8 11.4-10.1 21 10.9zM1150.8 499.6l-21-10.8 11.4-10 20.9 10.8zM1097.4 488.1l-21-10.7 11.4-10.1 21 10.7zM1044.1 476.9l-21-10.6 11.4-10.2 21 10.6zM958.4 465.6l-21-10.5 11.4-10.2 21 10.5zM905 455l-20.9-10.3 11.3-10.2 21 10.3zM851.7 444.8l-21-10.2 11.4-10.2 21 10.1zM798.4 434.9l-21-10 11.4-10.3 20.9 10z"/>
<path fill="#ff8700" stroke="#ff8700" d="M1964 633.8l-21-9.9 11.4-9.5 21 10zM1910.7 623.3l-21-10.2 11.4-9.4 21 10.1zM1857.3 612.4l-20.9-10.3 11.3-9.5 21 10.3zM1771.6 600.4l-20.9-10.5 11.3-9.6 21 10.5zM1718.3 588.9l-21-10.6 11.4-9.6 21 10.6zM1685.9 587.9l-20.9-10.7 11.3-9.6 21 10.7zM1632.6 576.2l-21-10.8 11.4-9.6 21 10.7zM1546.9 563.2l-21-10.9 11.4-9.7 21 10.9zM1461.2 550.1l-21-10.9 11.4-9.8 21 10.9zM1375.5 537l-21-11 11.4-9.8 21 10.9zM1289.8 524l-21-10.9 11.4-10 21 10.9zM1204.1 511.2l-21-10.8 11.4-10 21 10.8zM1118.4 498.9l-21-10.8 11.4-10.1 21 10.8zM1065.1 487.5l-21-10.6 11.4-10.2 20.9 10.7zM1011.7 476.4l-21-10.5 11.4-10.2 21 10.6zM979.4 476.1l-21-10.5 11.4-10.2 20.9 10.5zM926 465.4l-21-10.4 11.4-10.2 21 10.3zM872.7 455l-21-10.2 11.4-10.3 21 10.2zM819.3 445l-20.9-10.1 11.3-10.3 21 10zM766 435.3l-21-9.9 11.4-10.3 21 9.8z"/>
<path fill="#ff8b00" stroke="#ff8b00" d="M1985 643.7l-21-9.9 11.4-9.4 21 9.9zM1931.7 633.3l-21-10 11.4-9.5 20.9 10.1zM1878.3 622.6l-21-10.2 11.4-9.5 21 10.2zM1825 611.6l-21-10.3 11.4-9.6 21 10.4zM1792.6 610.8l-21-10.4 11.4-9.6 21 10.5zM1739.3 599.5l-21-10.6 11.4-9.6 21 10.6zM1653.6 586.9l-21-10.7 11.4-9.7 21 10.7zM1600.2 575.1l-20.9-10.8 11.3-9.7 21 10.8zM1567.9 574l-21-10.8 11.4-9.7 21 10.8zM1514.5 562.1l-20.9-10.9 11.3-9.8 21 10.9zM1482.2 561l-21-10.9 11.4-9.8 21 10.9zM1428.8 549l-20.9-10.9 11.3-9.9 21 11zM1396.5 547.9l-21-10.9 11.4-9.9 21 11zM1343.1 535.9l-20.9-10.9 11.3-9.9 21 10.9zM1310.8 534.9l-21-10.9 11.4-10 21 11zM1257.4 523l-20.9-10.9 11.3-9.9 21 10.9zM1225.1 522.1l-21-10.9 11.4-10 21 10.9zM1171.7 510.4l-20.9-10.8 11.3-10 21 10.8zM1086 498.3l-20.9-10.8 11.3-10.1 21 10.7zM1032.7 487l-21-10.6 11.4-10.1 21 10.6zM947 475.8l-21-10.4 11.4-10.3 21 10.5zM893.7 465.3l-21-10.3 11.4-10.3 20.9 10.3zM840.3 455.1l-21-10.1 11.4-10.4 21 10.2zM787 445.3l-21-10 11.4-10.4 21 10z"/>
<path fill="#ff8f00" stroke="#ff8f00" d="M1952.6 643.3l-20.9-10 11.3-9.4 21 9.9zM1899.3 632.8l-21-10.2 11.4-9.5 21 10.2zM1846 621.9l-21-10.3 11.4-9.5 20.9 10.3zM1760.3 610l-21-10.5 11.4-9.6 20.9 10.5zM1706.9 598.5l-21-10.6 11.4-9.6 21 10.6zM1674.6 597.6l-21-10.7 11.4-9.7 20.9 10.7zM1621.2 585.9l-21-10.8 11.4-9.7 21 10.8zM1535.5 573l-21-10.9 11.4-9.8 21 10.9zM1449.8 559.9l-21-10.9 11.4-9.8 21 10.9zM1364.1 546.9l-21-11 11.4-9.9 21 11zM1278.4 534l-21-11 11.4-9.9 21 10.9zM1192.7 521.3l-21-10.9 11.4-10 21 10.8zM1139.4 509.7l-21-10.8 11.4-10.1 21 10.8zM1053.7 497.7l-21-10.7 11.4-10.1 21 10.6zM1000.3 486.6l-20.9-10.5 11.3-10.2 21 10.5zM861.3 465.3l-21-10.2 11.4-10.3 21 10.2zM808 455.3l-21-10 11.4-10.4 20.9 10.1z"/>
<path fill="#ff9300" stroke="#ff9300" d="M1973.6 653.2l-21-9.9 11.4-9.5 21 9.9zM1920.3 642.8l-21-10 11.4-9.5 21 10zM1866.9 632.1l-20.9-10.2 11.3-9.5 21 10.2zM1813.6 621.2l-21-10.4 11.4-9.5 21 10.3zM1781.2 620.4l-20.9-10.4 11.3-9.6 21 10.4zM1727.9 609.1l-21-10.6 11.4-9.6 21 10.6zM1642.2 596.6l-21-10.7 11.4-9.7 21 10.7zM1588.9 584.8l-21-10.8 11.4-9.7 20.9 10.8zM1556.5 583.8l-21-10.8 11.4-9.8 21 10.8zM1503.2 571.9l-21-10.9 11.4-9.8 20.9 10.9zM1470.8 570.8l-21-10.9 11.4-9.8 21 10.9zM1417.5 558.9l-21-11 11.4-9.8 20.9 10.9zM1385.1 557.8l-21-10.9 11.4-9.9 21 10.9zM1331.8 545.9l-21-11 11.4-9.9 20.9 10.9zM1299.4 544.9l-21-10.9 11.4-10 21 10.9zM1246.1 533l-21-10.9 11.4-10 20.9 10.9zM1160.4 520.5l-21-10.8 11.4-10.1 20.9 10.8zM1107 509l-21-10.7 11.4-10.2 21 10.8zM1074.7 508.4l-21-10.7 11.4-10.2 20.9 10.8zM1021.3 497.2l-21-10.6 11.4-10.2 21 10.6zM968 486.3l-21-10.5 11.4-10.2 21 10.5zM914.6 475.7l-20.9-10.4 11.3-10.3 21 10.4zM754.6 445.7l-21-9.9 11.4-10.4 21 9.9z"/>
<path fill="#ff9700" stroke="#ff9700" d="M1941.3 652.8l-21-10 11.4-9.5 20.9 10zM1887.9 642.3l-21-10.2 11.4-9.5 21 10.2zM1834.6 631.5l-21-10.3 11.4-9.6 21 10.3zM1748.9 619.6l-21-10.5 11.4-9.6 21 10.5zM1695.5 608.2l-20.9-10.6 11.3-9.7 21 10.6zM1609.8 595.6l-20.9-10.8 11.3-9.7 21 10.8zM1524.1 582.8l-20.9-10.9 11.3-9.8 21 10.9zM1438.4 569.8l-20.9-10.9 11.3-9.9 21 10.9zM1352.7 556.8l-20.9-10.9 11.3-10 21 11zM1267 544l-20.9-11 11.3-10 21 11zM1213.7 532.2l-21-10.9 11.4-10.1 21 10.9zM1181.3 531.4l-20.9-10.9 11.3-10.1 21 10.9zM1128 519.8l-21-10.8 11.4-10.1 21 10.8zM1042.3 507.9l-21-10.7 11.4-10.2 21 10.7zM989 496.9l-21-10.6 11.4-10.2 20.9 10.5zM935.6 486.1l-21-10.4 11.4-10.3 21 10.4zM882.3 475.6l-21-10.3 11.4-10.3 21 10.3zM828.9 465.5l-20.9-10.2 11.3-10.3 21 10.1zM775.6 455.7l-21-10 11.4-10.4 21 10z"/>
<path fill="#ff9b00" stroke="#ff9b00" d="M1962.2 662.6l-20.9-9.8 11.3-9.5 21 9.9zM1908.9 652.3l-21-10 11.4-9.5 21 10zM1855.6 641.7l-21-10.2 11.4-9.6 20.9 10.2zM1802.2 630.8l-21-10.4 11.4-9.6 21 10.4zM1769.9 630l-21-10.4 11.4-9.6 20.9 10.4zM1716.5 618.7l-21-10.5 11.4-9.7 21 10.6zM1663.2 607.3l-21-10.7 11.4-9.7 21 10.7zM1630.8 606.3l-21-10.7 11.4-9.7 21 10.7zM1577.5 594.6l-21-10.8 11.4-9.8 21 10.8zM1545.1 593.6l-21-10.8 11.4-9.8 21 10.8zM1491.8 581.7l-21-10.9 11.4-9.8 21 10.9zM1406.1 568.8l-21-11 11.4-9.9 21 11zM1320.4 555.8l-21-10.9 11.4-10 21 11zM1234.7 543.1l-21-10.9 11.4-10.1 21 10.9zM1149 530.7l-21-10.9 11.4-10.1 21 10.8zM1095.6 519.2l-20.9-10.8 11.3-10.1 21 10.7zM1009.9 507.5l-20.9-10.6 11.3-10.3 21 10.6zM956.6 496.6l-21-10.5 11.4-10.3 21 10.5zM903.3 486l-21-10.4 11.4-10.3 20.9 10.4zM849.9 475.7l-21-10.2 11.4-10.4 21 10.2zM796.6 465.7l-21-10 11.4-10.4 21 10zM743.2 456.2l-20.9-9.9 11.3-10.5 21 9.9z"/>
<path fill="#ff9f00" stroke="#ff9f00" d="M1929.9 662.3l-21-10 11.4-9.5 21 10zM1876.5 651.8l-20.9-10.1 11.3-9.6 21 10.2zM1823.2 641.1l-21-10.3 11.4-9.6 21 10.3zM1737.5 629.2l-21-10.5 11.4-9.6 21 10.5zM1684.2 617.9l-21-10.6 11.4-9.7 20.9 10.6zM1598.5 605.3l-21-10.7 11.4-9.8 20.9 10.8zM1512.8 592.6l-21-10.9 11.4-9.8 20.9 10.9zM1459.4 580.7l-21-10.9 11.4-9.9 21 10.9zM1427.1 579.7l-21-10.9 11.4-9.9 20.9 10.9zM1373.7 567.8l-21-11 11.4-9.9 21 10.9zM1341.4 566.8l-21-11 11.4-9.9 20.9 10.9zM1288 554.9l-21-10.9 11.4-10 21 10.9zM1255.7 554l-21-10.9 11.4-10.1 20.9 11zM1202.3 542.3l-21-10.9 11.4-10.1 21 10.9zM1116.6 530l-21-10.8 11.4-10.2 21 10.8zM1063.3 518.6l-21-10.7 11.4-10.2 21 10.7zM977.6 507.2l-21-10.6 11.4-10.3 21 10.6zM924.2 496.4l-20.9-10.4 11.3-10.3 21 10.4zM870.9 486l-21-10.3 11.4-10.4 21 10.3zM817.6 475.9l-21-10.2 11.4-10.4 20.9 10.2zM764.2 466.1l-21-9.9 11.4-10.5 21 10z"/>
<path fill="#ffa300" stroke="#ffa300" d="M1950.9 672.2l-21-9.9 11.4-9.5 20.9 9.8zM1897.5 661.9l-21-10.1 11.4-9.5 21 10zM1844.2 651.3l-21-10.2 11.4-9.6 21 10.2zM1790.8 640.4l-20.9-10.4 11.3-9.6 21 10.4zM1705.1 628.4l-20.9-10.5 11.3-9.7 21 10.5zM1651.8 617l-21-10.7 11.4-9.7 21 10.7zM1619.4 616.1l-20.9-10.8 11.3-9.7 21 10.7zM1566.1 604.4l-21-10.8 11.4-9.8 21 10.8zM1480.4 591.6l-21-10.9 11.4-9.9 21 10.9zM1394.7 578.7l-21-10.9 11.4-10 21 11zM1309 565.9l-21-11 11.4-10 21 10.9zM1223.3 553.2l-21-10.9 11.4-10.1 21 10.9zM1170 541.5l-21-10.8 11.4-10.2 20.9 10.9zM1137.6 540.8l-21-10.8 11.4-10.2 21 10.9zM1084.3 529.4l-21-10.8 11.4-10.2 20.9 10.8zM1030.9 518.2l-21-10.7 11.4-10.3 21 10.7zM945.2 506.9l-21-10.5 11.4-10.3 21 10.5zM891.9 496.4l-21-10.4 11.4-10.4 21 10.4zM838.5 486.1l-20.9-10.2 11.3-10.4 21 10.2zM785.2 476.2l-21-10.1 11.4-10.4 21 10zM731.9 466.7l-21-9.9 11.4-10.5 20.9 9.9z"/>
<path fill="#ffa700" stroke="#ffa700" d="M1918.5 671.9l-21-10 11.4-9.6 21 10zM1865.2 661.4l-21-10.1 11.4-9.6 20.9 10.1zM1811.8 650.7l-21-10.3 11.4-9.6 21 10.3zM1758.5 639.7l-21-10.5 11.4-9.6 21 10.4zM1726.1 638.9l-21-10.5 11.4-9.7 21 10.5zM1672.8 627.6l-21-10.6 11.4-9.7 21 10.6zM1587.1 615.1l-21-10.7 11.4-9.8 21 10.7zM1533.7 603.4l-20.9-10.8 11.3-9.8 21 10.8zM1501.4 602.4l-21-10.8 11.4-9.9 21 10.9zM1448 590.6l-20.9-10.9 11.3-9.9 21 10.9zM1415.7 589.6l-21-10.9 11.4-9.9 21 10.9zM1362.3 577.7l-20.9-10.9 11.3-10 21 11zM1330 576.8l-21-10.9 11.4-10.1 21 11zM1276.6 565l-20.9-11 11.3-10 21 10.9zM1190.9 552.4l-20.9-10.9 11.3-10.1 21 10.9zM1105.2 540.2l-20.9-10.8 11.3-10.2 21 10.8zM1051.9 528.9l-21-10.7 11.4-10.3 21 10.7zM998.6 517.8l-21-10.6 11.4-10.3 20.9 10.6zM912.9 506.8l-21-10.4 11.4-10.4 20.9 10.4zM859.5 496.4l-21-10.3 11.4-10.4 21 10.3zM806.2 486.3l-21-10.1 11.4-10.5 21 10.2zM752.8 476.6l-20.9-9.9 11.3-10.5 21 9.9z"/>
<path fill="#ffab00" stroke="#ffab00" d="M1939.5 681.7l-21-9.8 11.4-9.6 21 9.9zM1886.1 671.5l-20.9-10.1 11.3-9.6 21 10.1zM1832.8 660.9l-21-10.2 11.4-9.6 21 10.2zM1779.5 650l-21-10.3 11.4-9.7 20.9 10.4zM1693.8 638.2l-21-10.6 11.4-9.7 20.9 10.5zM1640.4 626.7l-21-10.6 11.4-9.8 21 10.7zM1608.1 625.9l-21-10.8 11.4-9.8 20.9 10.8zM1554.7 614.2l-21-10.8 11.4-9.8 21 10.8zM1469 601.5l-21-10.9 11.4-9.9 21 10.9zM1383.3 588.7l-21-11 11.4-9.9 21 10.9zM1297.6 575.9l-21-10.9 11.4-10.1 21 11zM1244.3 564.1l-21-10.9 11.4-10.1 21 10.9zM1211.9 563.3l-21-10.9 11.4-10.1 21 10.9zM1158.6 551.7l-21-10.9 11.4-10.1 21 10.8zM1072.9 539.6l-21-10.7 11.4-10.3 21 10.8zM1019.5 528.4l-20.9-10.6 11.3-10.3 21 10.7zM966.2 517.5l-21-10.6 11.4-10.3 21 10.6zM880.5 506.8l-21-10.4 11.4-10.4 21 10.4zM827.2 496.5l-21-10.2 11.4-10.4 20.9 10.2zM773.8 486.7l-21-10.1 11.4-10.5 21 10.1z"/>
<path fill="#ffaf00" stroke="#ffaf00" d="M1907.1 681.4l-21-9.9 11.4-9.6 21 10zM1853.8 671l-21-10.1 11.4-9.6 21 10.1zM1800.4 660.3l-20.9-10.3 11.3-9.6 21 10.3zM1747.1 649.4l-21-10.5 11.4-9.7 21 10.5zM1714.7 648.7l-20.9-10.5 11.3-9.8 21 10.5zM1661.4 637.4l-21-10.7 11.4-9.7 21 10.6zM1575.7 625l-21-10.8 11.4-9.8 21 10.7zM1522.4 613.3l-21-10.9 11.4-9.8 20.9 10.8zM1490 612.3l-21-10.8 11.4-9.9 21 10.8zM1436.7 600.5l-21-10.9 11.4-9.9 20.9 10.9zM1351 587.7l-21-10.9 11.4-10 20.9 10.9zM1265.3 575.1l-21-11 11.4-10.1 20.9 11zM1179.6 562.6l-21-10.9 11.4-10.2 20.9 10.9zM1126.2 551l-21-10.8 11.4-10.2 21 10.8zM1040.5 539.2l-21-10.8 11.4-10.2 21 10.7zM987.2 528.1l-21-10.6 11.4-10.3 21 10.6zM933.8 517.3l-20.9-10.5 11.3-10.4 21 10.5zM720.5 477.2l-21-9.9 11.4-10.5 21 9.9z"/>
<path fill="#ffb300" stroke="#ffb300" d="M1928.1 691.3l-21-9.9 11.4-9.5 21 9.8zM1874.8 681.1l-21-10.1 11.4-9.6 20.9 10.1zM1821.4 670.6l-21-10.3 11.4-9.6 21 10.2zM1768.1 659.7l-21-10.3 11.4-9.7 21 10.3zM1682.4 647.9l-21-10.5 11.4-9.8 21 10.6zM1629 636.5l-20.9-10.6 11.3-9.8 21 10.6zM1543.3 624.1l-20.9-10.8 11.3-9.9 21 10.8zM1457.6 611.4l-20.9-10.9 11.3-9.9 21 10.9zM1404.3 599.6l-21-10.9 11.4-10 21 10.9zM1371.9 598.7l-20.9-11 11.3-10 21 11zM1318.6 586.9l-21-11 11.4-10 21 10.9zM1286.2 586l-20.9-10.9 11.3-10.1 21 10.9zM1232.9 574.2l-21-10.9 11.4-10.1 21 10.9zM1147.2 561.9l-21-10.9 11.4-10.2 21 10.9zM1093.9 550.4l-21-10.8 11.4-10.2 20.9 10.8zM1008.2 538.8l-21-10.7 11.4-10.3 20.9 10.6zM954.8 527.8l-21-10.5 11.4-10.4 21 10.6zM901.5 517.2l-21-10.4 11.4-10.4 21 10.4zM848.1 506.8l-20.9-10.3 11.3-10.4 21 10.3zM794.8 496.8l-21-10.1 11.4-10.5 21 10.1zM741.5 487.2l-21-10 11.4-10.5 20.9 9.9z"/>
<path fill="#ffb700" stroke="#ffb700" d="M1895.7 691.1l-20.9-10 11.3-9.6 21 9.9zM1842.4 680.7l-21-10.1 11.4-9.7 21 10.1zM1789.1 670l-21-10.3 11.4-9.7 20.9 10.3zM1735.7 659.1l-21-10.4 11.4-9.8 21 10.5zM1703.4 658.4l-21-10.5 11.4-9.7 20.9 10.5zM1650 647.1l-21-10.6 11.4-9.8 21 10.7zM1596.7 635.7l-21-10.7 11.4-9.9 21 10.8zM1564.3 634.8l-21-10.7 11.4-9.9 21 10.8zM1511 623.2l-21-10.9 11.4-9.9 21 10.9zM1425.3 610.5l-21-10.9 11.4-10 21 10.9zM1339.6 597.8l-21-10.9 11.4-10.1 21 10.9zM1253.9 585.2l-21-11 11.4-10.1 21 11zM1200.5 573.5l-20.9-10.9 11.3-10.2 21 10.9zM1114.8 561.3l-20.9-10.9 11.3-10.2 21 10.8zM1061.5 549.9l-21-10.7 11.4-10.3 21 10.7zM1029.1 549.5l-20.9-10.7 11.3-10.4 21 10.8zM975.8 538.5l-21-10.7 11.4-10.3 21 10.6zM922.5 527.7l-21-10.5 11.4-10.4 20.9 10.5zM869.1 517.2l-21-10.4 11.4-10.4 21 10.4zM815.8 507l-21-10.2 11.4-10.5 21 10.2zM762.4 497.2l-20.9-10 11.3-10.6 21 10.1zM709.1 487.8l-21-9.9 11.4-10.6 21 9.9z"/>
<path fill="#fb0" stroke="#fb0" d="M1916.7 700.9l-21-9.8 11.4-9.7 21 9.9zM1863.4 690.8l-21-10.1 11.4-9.7 21 10.1zM1810 680.2l-20.9-10.2 11.3-9.7 21 10.3zM1756.7 669.5l-21-10.4 11.4-9.7 21 10.3zM1671 657.7l-21-10.6 11.4-9.7 21 10.5zM1617.7 646.4l-21-10.7 11.4-9.8 20.9 10.6zM1532 634l-21-10.8 11.4-9.9 20.9 10.8zM1478.6 622.3l-21-10.9 11.4-9.9 21 10.8zM1446.3 621.4l-21-10.9 11.4-10 20.9 10.9zM1392.9 609.6l-21-10.9 11.4-10 21 10.9zM1360.6 608.7l-21-10.9 11.4-10.1 20.9 11zM1307.2 596.9l-21-10.9 11.4-10.1 21 11zM1221.5 584.4l-21-10.9 11.4-10.2 21 10.9zM1168.2 572.8l-21-10.9 11.4-10.2 21 10.9zM1135.8 572.1l-21-10.8 11.4-10.3 21 10.9zM1082.5 560.7l-21-10.8 11.4-10.3 21 10.8zM996.8 549.1l-21-10.6 11.4-10.4 21 10.7zM943.4 538.3l-20.9-10.6 11.3-10.4 21 10.5zM890.1 527.6l-21-10.4 11.4-10.4 21 10.4zM836.8 517.3l-21-10.3 11.4-10.5 20.9 10.3zM783.4 507.4l-21-10.2 11.4-10.5 21 10.1zM730.1 497.7l-21-9.9 11.4-10.6 21 10z"/>
<path fill="#ffbf00" stroke="#ffbf00" d="M1884.4 700.7l-21-9.9 11.4-9.7 20.9 10zM1831 690.4l-21-10.2 11.4-9.6 21 10.1zM1777.7 679.8l-21-10.3 11.4-9.8 21 10.3zM1724.3 668.8l-20.9-10.4 11.3-9.7 21 10.4zM1638.6 657l-20.9-10.6 11.3-9.9 21 10.6zM1585.3 645.6l-21-10.8 11.4-9.8 21 10.7zM1552.9 644.7l-20.9-10.7 11.3-9.9 21 10.7zM1499.6 633.1l-21-10.8 11.4-10 21 10.9zM1413.9 620.5l-21-10.9 11.4-10 21 10.9zM1328.2 607.9l-21-11 11.4-10 21 10.9zM1274.9 596.1l-21-10.9 11.4-10.1 20.9 10.9zM1242.5 595.3l-21-10.9 11.4-10.2 21 11zM1189.2 583.7l-21-10.9 11.4-10.2 20.9 10.9zM1103.5 571.6l-21-10.9 11.4-10.3 20.9 10.9zM1050.1 560.2l-21-10.7 11.4-10.3 21 10.7zM964.4 548.9l-21-10.6 11.4-10.5 21 10.7zM911.1 538.1l-21-10.5 11.4-10.4 21 10.5zM857.7 527.7l-20.9-10.4 11.3-10.5 21 10.4zM804.4 517.6l-21-10.2 11.4-10.6 21 10.2zM751.1 507.8l-21-10.1 11.4-10.5 20.9 10zM697.7 498.4l-21-9.9 11.4-10.6 21 9.9z"/>
<path fill="#ffc300" stroke="#ffc300" d="M1905.3 710.6l-20.9-9.9 11.3-9.6 21 9.8zM1852 700.4l-21-10 11.4-9.7 21 10.1zM1798.7 690l-21-10.2 11.4-9.8 20.9 10.2zM1745.3 679.2l-21-10.4 11.4-9.7 21 10.4zM1692 668.2l-21-10.5 11.4-9.8 21 10.5zM1659.6 667.5l-21-10.5 11.4-9.9 21 10.6zM1606.3 656.2l-21-10.6 11.4-9.9 21 10.7zM1520.6 643.9l-21-10.8 11.4-9.9 21 10.8zM1467.2 632.3l-20.9-10.9 11.3-10 21 10.9zM1434.9 631.4l-21-10.9 11.4-10 21 10.9zM1381.5 619.7l-20.9-11 11.3-10 21 10.9zM1295.8 607.1l-20.9-11 11.3-10.1 21 10.9zM1210.1 594.6l-20.9-10.9 11.3-10.2 21 10.9zM1156.8 583l-21-10.9 11.4-10.2 21 10.9zM1071.1 571l-21-10.8 11.4-10.3 21 10.8zM1017.8 559.9l-21-10.8 11.4-10.3 20.9 10.7zM932.1 548.7l-21-10.6 11.4-10.4 20.9 10.6zM878.7 538.1l-21-10.4 11.4-10.5 21 10.4zM825.4 527.9l-21-10.3 11.4-10.6 21 10.3zM772 517.9l-20.9-10.1 11.3-10.6 21 10.2z"/>
<path fill="#ffc700" stroke="#ffc700" d="M1873 710.4l-21-10 11.4-9.6 21 9.9zM1819.6 700.1l-20.9-10.1 11.3-9.8 21 10.2zM1766.3 689.5l-21-10.3 11.4-9.7 21 10.3zM1713 678.6l-21-10.4 11.4-9.8 20.9 10.4zM1627.3 666.8l-21-10.6 11.4-9.8 20.9 10.6zM1573.9 655.5l-21-10.8 11.4-9.9 21 10.8zM1488.2 643.1l-21-10.8 11.4-10 21 10.8zM1402.5 630.6l-21-10.9 11.4-10.1 21 10.9zM1349.2 618.8l-21-10.9 11.4-10.1 21 10.9zM1316.8 618l-21-10.9 11.4-10.2 21 11zM1263.5 606.3l-21-11 11.4-10.1 21 10.9zM1177.8 593.9l-21-10.9 11.4-10.2 21 10.9zM1124.4 582.4l-20.9-10.8 11.3-10.3 21 10.8zM1038.7 570.6l-20.9-10.7 11.3-10.4 21 10.7zM985.4 559.5l-21-10.6 11.4-10.4 21 10.6zM846.4 538.2l-21-10.3 11.4-10.6 20.9 10.4zM793 528.1l-21-10.2 11.4-10.5 21 10.2zM718.7 508.4l-21-10 11.4-10.6 21 9.9z"/>
<path fill="#ffcb00" stroke="#ffcb00" d="M1894 720.3l-21-9.9 11.4-9.7 20.9 9.9zM1840.6 710.2l-21-10.1 11.4-9.7 21 10zM1787.3 699.7l-21-10.2 11.4-9.7 21 10.2zM1733.9 689l-20.9-10.4 11.3-9.8 21 10.4zM1680.6 678l-21-10.5 11.4-9.8 21 10.5zM1594.9 666.1l-21-10.6 11.4-9.9 21 10.6zM1541.6 654.7l-21-10.8 11.4-9.9 20.9 10.7zM1509.2 653.9l-21-10.8 11.4-10 21 10.8zM1455.9 642.3l-21-10.9 11.4-10 20.9 10.9zM1370.2 629.7l-21-10.9 11.4-10.1 20.9 11zM1284.5 617.2l-21-10.9 11.4-10.2 20.9 11zM1231.1 605.5l-21-10.9 11.4-10.2 21 10.9zM1145.4 593.3l-21-10.9 11.4-10.3 21 10.9zM1092.1 581.9l-21-10.9 11.4-10.3 21 10.9zM1059.7 581.4l-21-10.8 11.4-10.4 21 10.8zM1006.4 570.3l-21-10.8 11.4-10.4 21 10.8zM953 559.3l-20.9-10.6 11.3-10.4 21 10.6zM899.7 548.6l-21-10.5 11.4-10.5 21 10.5zM739.7 518.4l-21-10 11.4-10.7 21 10.1zM686.3 509l-20.9-9.8 11.3-10.7 21 9.9z"/>
<path fill="#ffce00" stroke="#ffce00" d="M1861.6 720.1l-21-9.9 11.4-9.8 21 10zM1808.3 709.9l-21-10.2 11.4-9.7 20.9 10.1zM1754.9 699.3l-21-10.3 11.4-9.8 21 10.3zM1701.6 688.5l-21-10.5 11.4-9.8 21 10.4zM1648.2 677.4l-20.9-10.6 11.3-9.8 21 10.5zM1615.9 676.7l-21-10.6 11.4-9.9 21 10.6zM1562.5 665.4l-20.9-10.7 11.3-10 21 10.8zM1476.8 653.1l-20.9-10.8 11.3-10 21 10.8zM1423.5 641.5l-21-10.9 11.4-10.1 21 10.9zM1391.1 640.7l-20.9-11 11.3-10 21 10.9zM1337.8 628.9l-21-10.9 11.4-10.1 21 10.9zM1252.1 616.5l-21-11 11.4-10.2 21 11zM1198.8 604.9l-21-11 11.4-10.2 20.9 10.9zM1166.4 604.2l-21-10.9 11.4-10.3 21 10.9zM1113.1 592.7l-21-10.8 11.4-10.3 20.9 10.8zM1027.4 581l-21-10.7 11.4-10.4 20.9 10.7zM974 570l-21-10.7 11.4-10.4 21 10.6zM920.7 559.2l-21-10.6 11.4-10.5 21 10.6zM867.3 548.7l-20.9-10.5 11.3-10.5 21 10.4zM814 538.4l-21-10.3 11.4-10.5 21 10.3zM760.7 528.5l-21-10.1 11.4-10.6 20.9 10.1zM707.3 519l-21-10 11.4-10.6 21 10z"/>
<path fill="#ffd200" stroke="#ffd200" d="M1882.6 730l-21-9.9 11.4-9.7 21 9.9zM1829.2 719.9l-20.9-10 11.3-9.8 21 10.1zM1775.9 709.5l-21-10.2 11.4-9.8 21 10.2zM1722.6 698.8l-21-10.3 11.4-9.9 20.9 10.4zM1669.2 687.9l-21-10.5 11.4-9.9 21 10.5zM1583.5 676.1l-21-10.7 11.4-9.9 21 10.6zM1530.2 664.7l-21-10.8 11.4-10 21 10.8zM1444.5 652.3l-21-10.8 11.4-10.1 21 10.9zM1358.8 639.9l-21-11 11.4-10.1 21 10.9zM1305.4 628.2l-20.9-11 11.3-10.1 21 10.9zM1219.7 615.8l-20.9-10.9 11.3-10.3 21 10.9zM1134 603.6l-20.9-10.9 11.3-10.3 21 10.9zM1080.7 592.2l-21-10.8 11.4-10.4 21 10.9zM995 580.7l-21-10.7 11.4-10.5 21 10.8zM941.7 569.8l-21-10.6 11.4-10.5 20.9 10.6zM888.3 559.2l-21-10.5 11.4-10.6 21 10.5zM835 548.8l-21-10.4 11.4-10.5 21 10.3zM781.6 538.8l-20.9-10.3 11.3-10.6 21 10.2zM728.3 529.1l-21-10.1 11.4-10.6 21 10zM675 519.8l-21-9.9 11.4-10.7 20.9 9.8z"/>
<path fill="#ffd600" stroke="#ffd600" d="M1850.2 729.9l-21-10 11.4-9.7 21 9.9zM1796.9 719.7l-21-10.2 11.4-9.8 21 10.2zM1743.5 709.1l-20.9-10.3 11.3-9.8 21 10.3zM1690.2 698.3l-21-10.4 11.4-9.9 21 10.5zM1636.9 687.3l-21-10.6 11.4-9.9 20.9 10.6zM1551.2 675.4l-21-10.7 11.4-10 20.9 10.7zM1497.8 663.9l-21-10.8 11.4-10 21 10.8zM1465.5 663.2l-21-10.9 11.4-10 20.9 10.8zM1412.1 651.5l-21-10.8 11.4-10.1 21 10.9zM1326.4 639.1l-21-10.9 11.4-10.2 21 10.9zM1273.1 627.4l-21-10.9 11.4-10.2 21 10.9zM1240.7 626.7l-21-10.9 11.4-10.3 21 11zM1187.4 615.1l-21-10.9 11.4-10.3 21 11zM1101.7 603.1l-21-10.9 11.4-10.3 21 10.8zM1048.3 591.8l-20.9-10.8 11.3-10.4 21 10.8zM962.6 580.5l-20.9-10.7 11.3-10.5 21 10.7zM909.3 569.7l-21-10.5 11.4-10.6 21 10.6zM856 559.2l-21-10.4 11.4-10.6 20.9 10.5zM802.6 549.1l-21-10.3 11.4-10.7 21 10.3zM749.3 539.2l-21-10.1 11.4-10.7 21 10.1zM695.9 529.7l-20.9-9.9 11.3-10.8 21 10z"/>
<path fill="#ffda00" stroke="#ffda00" d="M1871.2 739.8l-21-9.9 11.4-9.8 21 9.9zM1817.9 729.7l-21-10 11.4-9.8 20.9 10zM1764.5 719.4l-21-10.3 11.4-9.8 21 10.2zM1711.2 708.7l-21-10.4 11.4-9.8 21 10.3zM1657.8 697.8l-20.9-10.5 11.3-9.9 21 10.5zM1604.5 686.7l-21-10.6 11.4-10 21 10.6zM1572.1 686l-20.9-10.6 11.3-10 21 10.7zM1518.8 674.7l-21-10.8 11.4-10 21 10.8zM1433.1 662.4l-21-10.9 11.4-10 21 10.8zM1379.8 650.8l-21-10.9 11.4-10.2 20.9 11zM1294.1 638.4l-21-11 11.4-10.2 20.9 11zM1208.4 626.1l-21-11 11.4-10.2 20.9 10.9zM1155 614.5l-21-10.9 11.4-10.3 21 10.9zM1069.3 602.7l-21-10.9 11.4-10.4 21 10.8zM1016 591.5l-21-10.8 11.4-10.4 21 10.7zM930.3 580.3l-21-10.6 11.4-10.5 21 10.6zM876.9 569.7l-20.9-10.5 11.3-10.5 21 10.5zM823.6 559.4l-21-10.3 11.4-10.7 21 10.4zM770.3 549.4l-21-10.2 11.4-10.7 20.9 10.3zM716.9 539.8l-21-10.1 11.4-10.7 21 10.1z"/>
<path fill="#ffe200" stroke="#ffe200" d="M1838.8 739.7l-20.9-10 11.3-9.8 21 10zM1785.5 729.5l-21-10.1 11.4-9.9 21 10.2zM1699.8 718.6l-21-10.4 11.4-9.9 21 10.4zM1646.5 707.7l-21-10.5 11.4-9.9 20.9 10.5zM1593.1 696.7l-21-10.7 11.4-9.9 21 10.6zM1507.4 684.7l-21-10.7 11.4-10.1 21 10.8zM1454.1 673.2l-21-10.8 11.4-10.1 21 10.9zM1421.7 672.5l-21-10.8 11.4-10.2 21 10.9zM1368.4 661l-21-11 11.4-10.1 21 10.9zM1282.7 648.6l-21-10.9 11.4-10.3 21 11zM1229.3 637l-20.9-10.9 11.3-10.3 21 10.9zM1143.6 624.9l-20.9-10.9 11.3-10.4 21 10.9zM1090.3 613.5l-21-10.8 11.4-10.5 21 10.9zM1057.9 613.1l-20.9-10.8 11.3-10.5 21 10.9zM1004.6 602l-21-10.8 11.4-10.5 21 10.8zM951.3 591l-21-10.7 11.4-10.5 20.9 10.7zM897.9 580.3l-21-10.6 11.4-10.5 21 10.5zM737.9 549.9l-21-10.1 11.4-10.7 21 10.1zM684.6 540.5l-21-10 11.4-10.7 20.9 9.9z"/>
<path fill="#ffe600" stroke="#ffe600" d="M1859.8 749.6l-21-9.9 11.4-9.8 21 9.9zM1806.5 739.5l-21-10 11.4-9.8 21 10zM1753.1 729.2l-20.9-10.2 11.3-9.9 21 10.3zM1720.8 728.9l-21-10.3 11.4-9.9 21 10.3zM1667.4 718.2l-20.9-10.5 11.3-9.9 21 10.4zM1614.1 707.2l-21-10.5 11.4-10 21 10.5zM1560.8 696.1l-21-10.7 11.4-10 20.9 10.6zM1528.4 695.4l-21-10.7 11.4-10 21 10.7zM1475.1 684l-21-10.8 11.4-10 20.9 10.8zM1389.4 671.8l-21-10.8 11.4-10.2 20.9 10.9zM1336 660.2l-21-10.9 11.4-10.2 21 10.9zM1250.3 648l-21-11 11.4-10.3 21 11zM1197 636.4l-21-10.9 11.4-10.4 21 11zM1164.6 635.8l-21-10.9 11.4-10.4 21 11zM1111.3 624.4l-21-10.9 11.4-10.4 21 10.9zM1025.6 612.8l-21-10.8 11.4-10.5 21 10.8zM972.2 601.7l-20.9-10.7 11.3-10.5 21 10.7zM918.9 590.9l-21-10.6 11.4-10.6 21 10.6zM865.6 580.4l-21-10.5 11.4-10.7 20.9 10.5zM812.2 570.1l-21-10.4 11.4-10.6 21 10.3zM758.9 560.1l-21-10.2 11.4-10.7 21 10.2zM705.5 550.5l-20.9-10 11.3-10.8 21 10.1zM652.2 541.3l-21-9.9 11.4-10.8 21 9.9z"/>
<path fill="#ffea00" stroke="#ffea00" d="M1827.5 749.5l-21-10 11.4-9.8 20.9 10zM1774.1 739.4l-21-10.2 11.4-9.8 21 10.1zM1688.4 728.5l-21-10.3 11.4-10 21 10.4zM1635.1 717.7l-21-10.5 11.4-10 21 10.5zM1581.7 706.7l-20.9-10.6 11.3-10.1 21 10.7zM1496 694.8l-20.9-10.8 11.3-10 21 10.7zM1442.7 683.4l-21-10.9 11.4-10.1 21 10.8zM1357 671.2l-21-11 11.4-10.2 21 11zM1303.7 659.6l-21-11 11.4-10.2 20.9 10.9zM1271.3 658.9l-21-10.9 11.4-10.3 21 10.9zM1218 647.3l-21-10.9 11.4-10.3 20.9 10.9zM1132.3 635.3l-21-10.9 11.4-10.4 20.9 10.9zM1078.9 624l-21-10.9 11.4-10.4 21 10.8zM993.2 612.5l-21-10.8 11.4-10.5 21 10.8zM939.9 601.6l-21-10.7 11.4-10.6 21 10.7zM886.5 590.9l-20.9-10.5 11.3-10.7 21 10.6zM833.2 580.5l-21-10.4 11.4-10.7 21 10.5zM779.9 570.4l-21-10.3 11.4-10.7 20.9 10.3zM726.5 560.7l-21-10.2 11.4-10.7 21 10.1zM673.2 551.3l-21-10 11.4-10.8 21 10z"/>
<path fill="#fe0" stroke="#fe0" d="M1848.4 759.4l-20.9-9.9 11.3-9.8 21 9.9zM1795.1 749.4l-21-10 11.4-9.9 21 10zM1741.8 739.1l-21-10.2 11.4-9.9 20.9 10.2zM1656.1 728.2l-21-10.5 11.4-10 20.9 10.5zM1602.7 717.2l-21-10.5 11.4-10 21 10.5zM1549.4 706.1l-21-10.7 11.4-10 21 10.7zM1463.7 694.2l-21-10.8 11.4-10.2 21 10.8zM1410.3 682.7l-20.9-10.9 11.3-10.1 21 10.8zM1324.6 670.5l-20.9-10.9 11.3-10.3 21 10.9zM1238.9 658.3l-20.9-11 11.3-10.3 21 11zM1185.6 646.8l-21-11 11.4-10.3 21 10.9zM1099.9 634.9l-21-10.9 11.4-10.5 21 10.9zM1046.6 623.6l-21-10.8 11.4-10.5 20.9 10.8zM960.9 612.3l-21-10.7 11.4-10.6 20.9 10.7zM907.5 601.5l-21-10.6 11.4-10.6 21 10.6zM854.2 591l-21-10.5 11.4-10.6 21 10.5zM800.8 580.8l-20.9-10.4 11.3-10.7 21 10.4zM747.5 570.9l-21-10.2 11.4-10.8 21 10.2zM694.2 561.3l-21-10 11.4-10.8 20.9 10z"/>
<path fill="#ffde00" stroke="#ffde00" d="M1732.2 719l-21-10.3 11.4-9.9 20.9 10.3zM1678.8 708.2l-21-10.4 11.4-9.9 21 10.4zM1625.5 697.2l-21-10.5 11.4-10 21 10.6zM1539.8 685.4l-21-10.7 11.4-10 21 10.7zM1486.4 674l-20.9-10.8 11.3-10.1 21 10.8zM1400.7 661.7l-20.9-10.9 11.3-10.1 21 10.8zM1347.4 650l-21-10.9 11.4-10.2 21 11zM1315 649.3l-20.9-10.9 11.3-10.2 21 10.9zM1261.7 637.7l-21-11 11.4-10.2 21 10.9zM1176 625.5l-21-11 11.4-10.3 21 10.9zM1122.7 614l-21-10.9 11.4-10.4 20.9 10.9zM1037 602.3l-21-10.8 11.4-10.5 20.9 10.8zM983.6 591.2l-21-10.7 11.4-10.5 21 10.7zM844.6 569.9l-21-10.5 11.4-10.6 21 10.4zM791.2 559.7l-20.9-10.3 11.3-10.6 21 10.3zM663.6 530.5l-21-9.9 11.4-10.7 21 9.9z"/>
<path fill="#fff100" stroke="#fff100" d="M1816.1 759.4l-21-10 11.4-9.9 21 10zM1762.7 749.3l-20.9-10.2 11.3-9.9 21 10.2zM1709.4 738.8l-21-10.3 11.4-9.9 21 10.3zM1623.7 727.7l-21-10.5 11.4-10 21 10.5zM1570.4 716.7l-21-10.6 11.4-10 20.9 10.6zM1517 705.5l-21-10.7 11.4-10.1 21 10.7zM1431.3 693.5l-21-10.8 11.4-10.2 21 10.9zM1378 682l-21-10.8 11.4-10.2 21 10.8zM1345.6 681.4l-21-10.9 11.4-10.3 21 11zM1292.3 669.9l-21-11 11.4-10.3 21 11zM1206.6 657.7l-21-10.9 11.4-10.4 21 10.9zM1153.2 646.2l-20.9-10.9 11.3-10.4 21 10.9zM1067.5 634.5l-20.9-10.9 11.3-10.5 21 10.9zM1014.2 623.3l-21-10.8 11.4-10.5 21 10.8zM875.2 601.6l-21-10.6 11.4-10.6 20.9 10.5zM821.8 591.2l-21-10.4 11.4-10.7 21 10.4zM768.5 581.2l-21-10.3 11.4-10.8 21 10.3zM715.1 571.5l-20.9-10.2 11.3-10.8 21 10.2zM640.8 552.1l-21-9.8 11.4-10.9 21 9.9z"/>
<path fill="#fff500" stroke="#fff500" d="M1837.1 769.3l-21-9.9 11.4-9.9 20.9 9.9zM1783.7 759.3l-21-10 11.4-9.9 21 10zM1730.4 749.1l-21-10.3 11.4-9.9 21 10.2zM1677 738.5l-20.9-10.3 11.3-10 21 10.3zM1591.3 727.3l-20.9-10.6 11.3-10 21 10.5zM1538 716.2l-21-10.7 11.4-10.1 21 10.7zM1484.7 704.9l-21-10.7 11.4-10.2 20.9 10.8zM1452.3 704.3l-21-10.8 11.4-10.1 21 10.8zM1399 692.9l-21-10.9 11.4-10.2 20.9 10.9zM1313.3 680.8l-21-10.9 11.4-10.3 20.9 10.9zM1259.9 669.2l-21-10.9 11.4-10.3 21 10.9zM1174.2 657.2l-21-11 11.4-10.4 21 11zM1120.9 645.8l-21-10.9 11.4-10.5 21 10.9zM1035.2 634.1l-21-10.8 11.4-10.5 21 10.8zM981.8 623.1l-20.9-10.8 11.3-10.6 21 10.8zM928.5 612.2l-21-10.7 11.4-10.6 21 10.7zM789.5 591.5l-21-10.3 11.4-10.8 20.9 10.4zM661.8 562.1l-21-10 11.4-10.8 21 10z"/>
<path fill="#fff900" stroke="#fff900" d="M1804.7 769.3l-21-10 11.4-9.9 21 10zM1751.4 759.2l-21-10.1 11.4-10 20.9 10.2zM1698 748.8l-21-10.3 11.4-10 21 10.3zM1644.7 738.2l-21-10.5 11.4-10 21 10.5zM1559 726.8l-21-10.6 11.4-10.1 21 10.6zM1505.6 715.6l-20.9-10.7 11.3-10.1 21 10.7zM1419.9 703.7l-20.9-10.8 11.3-10.2 21 10.8zM1366.6 692.3l-21-10.9 11.4-10.2 21 10.8zM1280.9 680.2l-21-11 11.4-10.3 21 11zM1227.6 668.7l-21-11 11.4-10.4 20.9 11zM1141.9 656.7l-21-10.9 11.4-10.5 20.9 10.9zM1088.5 645.3l-21-10.8 11.4-10.5 21 10.9zM1002.8 633.9l-21-10.8 11.4-10.6 21 10.8zM949.5 622.9l-21-10.7 11.4-10.6 21 10.7zM896.1 612.2l-20.9-10.6 11.3-10.7 21 10.6zM842.8 601.7l-21-10.5 11.4-10.7 21 10.5zM736.1 581.7l-21-10.2 11.4-10.8 21 10.2zM682.8 572.2l-21-10.1 11.4-10.8 21 10zM629.4 563l-20.9-9.9 11.3-10.8 21 9.8z"/>
<path fill="#fffd00" stroke="#fffd00" d="M1825.7 779.2l-21-9.9 11.4-9.9 21 9.9zM1772.3 769.3l-20.9-10.1 11.3-9.9 21 10zM1719 759l-21-10.2 11.4-10 21 10.3zM1665.7 748.5l-21-10.3 11.4-10 20.9 10.3zM1612.3 737.8l-21-10.5 11.4-10.1 21 10.5zM1580 737.4l-21-10.6 11.4-10.1 20.9 10.6zM1526.6 726.3l-21-10.7 11.4-10.1 21 10.7zM1473.3 715.1l-21-10.8 11.4-10.1 21 10.7zM1387.6 703.2l-21-10.9 11.4-10.3 21 10.9zM1334.2 691.7l-20.9-10.9 11.3-10.3 21 10.9zM1248.5 679.6l-20.9-10.9 11.3-10.4 21 10.9zM1195.2 668.1l-21-10.9 11.4-10.4 21 10.9zM1162.8 667.6l-20.9-10.9 11.3-10.5 21 11zM1109.5 656.3l-21-11 11.4-10.4 21 10.9zM1056.2 645l-21-10.9 11.4-10.5 20.9 10.9zM970.5 633.7l-21-10.8 11.4-10.6 20.9 10.8zM917.1 622.9l-21-10.7 11.4-10.7 21 10.7zM863.8 612.3l-21-10.6 11.4-10.7 21 10.6zM810.4 602l-20.9-10.5 11.3-10.7 21 10.4zM757.1 592l-21-10.3 11.4-10.8 21 10.3zM703.8 582.3l-21-10.1 11.4-10.9 20.9 10.2zM650.4 573l-21-10 11.4-10.9 21 10z"/>
<path fill="#fcff00" stroke="#fcff00" d="M1793.3 779.2l-21-9.9 11.4-10 21 10zM1740 769.2l-21-10.2 11.4-9.9 21 10.1zM1686.6 758.8l-20.9-10.3 11.3-10 21 10.3zM1633.3 748.2l-21-10.4 11.4-10.1 21 10.5zM1547.6 736.9l-21-10.6 11.4-10.1 21 10.6zM1494.3 725.8l-21-10.7 11.4-10.2 20.9 10.7zM1440.9 714.5l-21-10.8 11.4-10.2 21 10.8zM1355.2 702.6l-21-10.9 11.4-10.3 21 10.9zM1301.9 691.1l-21-10.9 11.4-10.3 21 10.9zM1269.5 690.5l-21-10.9 11.4-10.4 21 11zM1216.2 679.1l-21-11 11.4-10.4 21 11zM1130.5 667.2l-21-10.9 11.4-10.5 21 10.9zM1077.1 655.9l-20.9-10.9 11.3-10.5 21 10.8zM1023.8 644.7l-21-10.8 11.4-10.6 21 10.8zM938.1 633.6l-21-10.7 11.4-10.7 21 10.7zM884.8 622.9l-21-10.6 11.4-10.7 20.9 10.6zM831.4 612.5l-21-10.5 11.4-10.8 21 10.5zM778.1 602.3l-21-10.3 11.4-10.8 21 10.3zM724.7 592.5l-20.9-10.2 11.3-10.8 21 10.2zM671.4 583l-21-10 11.4-10.9 21 10.1z"/>
<path fill="#f7ff00" stroke="#f7ff00" d="M1814.3 789.1l-21-9.9 11.4-9.9 21 9.9zM1761 779.2l-21-10 11.4-10 20.9 10.1zM1707.6 769l-21-10.2 11.4-10 21 10.2zM1654.3 758.6l-21-10.4 11.4-10 21 10.3zM1600.9 747.9l-20.9-10.5 11.3-10.1 21 10.5zM1515.2 736.5l-20.9-10.7 11.3-10.2 21 10.7zM1461.9 725.3l-21-10.8 11.4-10.2 21 10.8zM1408.6 714l-21-10.8 11.4-10.3 20.9 10.8zM1376.2 713.4l-21-10.8 11.4-10.3 21 10.9zM1322.9 702l-21-10.9 11.4-10.3 20.9 10.9zM1237.2 690l-21-10.9 11.4-10.4 20.9 10.9zM1183.8 678.6l-21-11 11.4-10.4 21 10.9zM1098.1 666.8l-21-10.9 11.4-10.6 21 11zM1044.8 655.6l-21-10.9 11.4-10.6 21 10.9zM991.4 644.5l-20.9-10.8 11.3-10.6 21 10.8zM905.7 633.6l-20.9-10.7 11.3-10.7 21 10.7zM852.4 623l-21-10.5 11.4-10.8 21 10.6zM799.1 612.8l-21-10.5 11.4-10.8 20.9 10.5zM745.7 602.8l-21-10.3 11.4-10.8 21 10.3zM692.4 593.2l-21-10.2 11.4-10.8 21 10.1zM618.1 574l-21-9.9 11.4-11 20.9 9.9z"/>
<path fill="#f1ff00" stroke="#f1ff00" d="M1781.9 789.2l-20.9-10 11.3-9.9 21 9.9zM1728.6 779.2l-21-10.2 11.4-10 21 10.2zM1675.3 768.9l-21-10.3 11.4-10.1 20.9 10.3zM1621.9 758.3l-21-10.4 11.4-10.1 21 10.4zM1568.6 747.5l-21-10.6 11.4-10.1 21 10.6zM1482.9 736l-21-10.7 11.4-10.2 21 10.7zM1429.5 724.8l-20.9-10.8 11.3-10.3 21 10.8zM1343.8 712.9l-20.9-10.9 11.3-10.3 21 10.9zM1290.5 701.5l-21-11 11.4-10.3 21 10.9zM1204.8 689.5l-21-10.9 11.4-10.5 21 11zM1151.5 678.1l-21-10.9 11.4-10.5 20.9 10.9zM1065.8 666.5l-21-10.9 11.4-10.6 20.9 10.9zM1012.4 655.3l-21-10.8 11.4-10.6 21 10.8zM959.1 644.3l-21-10.7 11.4-10.7 21 10.8zM820 623.3l-20.9-10.5 11.3-10.8 21 10.5zM766.7 613.2l-21-10.4 11.4-10.8 21 10.3zM639 583.9l-20.9-9.9 11.3-11 21 10z"/>
<path fill="#ecff00" stroke="#ecff00" d="M1802.9 799.1l-21-9.9 11.4-10 21 9.9zM1749.6 789.2l-21-10 11.4-10 21 10zM1696.2 779.1l-20.9-10.2 11.3-10.1 21 10.2zM1642.9 768.7l-21-10.4 11.4-10.1 21 10.4zM1589.6 758l-21-10.5 11.4-10.1 20.9 10.5zM1536.2 747.1l-21-10.6 11.4-10.2 21 10.6zM1450.5 735.5l-21-10.7 11.4-10.3 21 10.8zM1397.2 724.3l-21-10.9 11.4-10.2 21 10.8zM1311.5 712.4l-21-10.9 11.4-10.4 21 10.9zM1258.1 700.9l-20.9-10.9 11.3-10.4 21 10.9zM1172.4 689.1l-20.9-11 11.3-10.5 21 11zM1119.1 677.7l-21-10.9 11.4-10.5 21 10.9zM1033.4 666.2l-21-10.9 11.4-10.6 21 10.9zM980.1 655.1l-21-10.8 11.4-10.6 20.9 10.8zM926.7 644.3l-21-10.7 11.4-10.7 21 10.7zM873.4 633.7l-21-10.7 11.4-10.7 21 10.6zM713.4 603.4l-21-10.2 11.4-10.9 20.9 10.2zM660 594l-21-10.1 11.4-10.9 21 10zM606.7 584.9l-21-9.8 11.4-11 21 9.9z"/>
<path fill="#e6ff00" stroke="#e6ff00" d="M1770.6 799.2l-21-10 11.4-10 20.9 10zM1717.2 789.2l-21-10.1 11.4-10.1 21 10.2zM1663.9 779l-21-10.3 11.4-10.1 21 10.3zM1610.5 768.4l-20.9-10.4 11.3-10.1 21 10.4zM1557.2 757.7l-21-10.6 11.4-10.2 21 10.6zM1503.9 746.7l-21-10.7 11.4-10.2 20.9 10.7zM1418.2 735.1l-21-10.8 11.4-10.3 20.9 10.8zM1364.8 723.8l-21-10.9 11.4-10.3 21 10.8zM1279.1 711.9l-21-11 11.4-10.4 21 11zM1225.8 700.5l-21-11 11.4-10.4 21 10.9zM1140.1 688.6l-21-10.9 11.4-10.5 21 10.9zM1086.7 677.4l-20.9-10.9 11.3-10.6 21 10.9zM1001 666l-20.9-10.9 11.3-10.6 21 10.8zM947.7 655.1l-21-10.8 11.4-10.7 21 10.7zM894.4 644.3l-21-10.6 11.4-10.8 20.9 10.7zM841 633.8l-21-10.5 11.4-10.8 21 10.5zM787.7 623.6l-21-10.4 11.4-10.9 21 10.5zM734.3 613.7l-20.9-10.3 11.3-10.9 21 10.3zM681 604.1l-21-10.1 11.4-11 21 10.2zM627.7 594.9l-21-10 11.4-10.9 20.9 9.9z"/>
<path fill="#e1ff00" stroke="#e1ff00" d="M1791.5 809.1l-20.9-9.9 11.3-10 21 9.9zM1738.2 799.3l-21-10.1 11.4-10 21 10zM1684.9 789.2l-21-10.2 11.4-10.1 20.9 10.2zM1631.5 778.8l-21-10.4 11.4-10.1 21 10.4zM1578.2 768.2l-21-10.5 11.4-10.2 21 10.5zM1524.8 757.3l-20.9-10.6 11.3-10.2 21 10.6zM1471.5 746.3l-21-10.8 11.4-10.2 21 10.7zM1439.1 745.8l-20.9-10.7 11.3-10.3 21 10.7zM1385.8 734.6l-21-10.8 11.4-10.4 21 10.9zM1332.5 723.3l-21-10.9 11.4-10.4 20.9 10.9zM1246.8 711.4l-21-10.9 11.4-10.5 20.9 10.9zM1193.4 700l-21-10.9 11.4-10.5 21 10.9zM1107.7 688.3l-21-10.9 11.4-10.6 21 10.9zM1054.4 677.1l-21-10.9 11.4-10.6 21 10.9zM968.7 665.9l-21-10.8 11.4-10.8 21 10.8zM915.3 655l-20.9-10.7 11.3-10.7 21 10.7zM862 644.5l-21-10.7 11.4-10.8 21 10.7zM808.7 634.1l-21-10.5 11.4-10.8 20.9 10.5zM755.3 624.1l-21-10.4 11.4-10.9 21 10.4zM702 614.3l-21-10.2 11.4-10.9 21 10.2zM648.6 605l-20.9-10.1 11.3-11 21 10.1z"/>
<path fill="#d5ff00" stroke="#d5ff00" d="M1759.2 809.3l-21-10 11.4-10.1 21 10zM1705.8 799.3l-20.9-10.1 11.3-10.1 21 10.1zM1652.5 789.1l-21-10.3 11.4-10.1 21 10.3zM1566.8 778.4l-21-10.5 11.4-10.2 21 10.5zM1513.5 767.5l-21-10.6 11.4-10.2 20.9 10.6zM1460.1 756.5l-21-10.7 11.4-10.3 21 10.8zM1374.4 745l-21-10.9 11.4-10.3 21 10.8zM1321.1 733.7l-21-10.9 11.4-10.4 21 10.9zM1235.4 721.9l-21-10.9 11.4-10.5 21 10.9zM1182 710.5l-20.9-10.9 11.3-10.5 21 10.9zM1128.7 699.2l-21-10.9 11.4-10.6 21 10.9zM1043 687.7l-21-10.9 11.4-10.6 21 10.9zM989.7 676.7l-21-10.8 11.4-10.8 20.9 10.9zM850.6 655.3l-21-10.6 11.4-10.9 21 10.7zM797.3 645l-21-10.5 11.4-10.9 21 10.5zM743.9 635l-20.9-10.4 11.3-10.9 21 10.4zM616.3 605.9l-21-9.9 11.4-11.1 21 10z"/>
<path fill="#cfff00" stroke="#cfff00" d="M1780.2 819.1l-21-9.8 11.4-10.1 20.9 9.9zM1726.8 809.4l-21-10.1 11.4-10.1 21 10.1zM1673.5 799.3l-21-10.2 11.4-10.1 21 10.2zM1620.1 789l-20.9-10.4 11.3-10.2 21 10.4zM1534.4 778.1l-20.9-10.6 11.3-10.2 21 10.6zM1481.1 767.2l-21-10.7 11.4-10.2 21 10.6zM1427.8 756.2l-21-10.8 11.4-10.3 20.9 10.7zM1342.1 744.5l-21-10.8 11.4-10.4 20.9 10.8zM1288.7 733.2l-21-10.9 11.4-10.4 21 10.9zM1203 721.5l-21-11 11.4-10.5 21 11zM1149.7 710.2l-21-11 11.4-10.6 21 11zM1096.3 698.9l-20.9-10.9 11.3-10.6 21 10.9zM1010.6 687.6l-20.9-10.9 11.3-10.7 21 10.8zM957.3 676.6l-21-10.8 11.4-10.7 21 10.8zM904 665.8l-21-10.7 11.4-10.8 20.9 10.7zM690.6 625.3l-21-10.2 11.4-11 21 10.2zM637.3 616l-21-10.1 11.4-11 20.9 10.1zM583.9 607l-21-9.9 11.4-11 21 9.9z"/>
<path fill="#c9ff00" stroke="#c9ff00" d="M1747.8 819.3l-21-9.9 11.4-10.1 21 10zM1694.5 809.4l-21-10.1 11.4-10.1 20.9 10.1zM1641.1 799.3l-21-10.3 11.4-10.2 21 10.3zM1587.8 788.8l-21-10.4 11.4-10.2 21 10.4zM1502.1 777.8l-21-10.6 11.4-10.3 21 10.6zM1448.7 766.9l-20.9-10.7 11.3-10.4 21 10.7zM1395.4 755.8l-21-10.8 11.4-10.4 21 10.8zM1309.7 744.1l-21-10.9 11.4-10.4 21 10.9zM1256.4 732.8l-21-10.9 11.4-10.5 20.9 10.9zM1170.7 721.1l-21-10.9 11.4-10.6 20.9 10.9zM1117.3 709.8l-21-10.9 11.4-10.6 21 10.9zM1064 698.6l-21-10.9 11.4-10.6 21 10.9zM978.3 687.4l-21-10.8 11.4-10.7 21 10.8zM924.9 676.6l-20.9-10.8 11.3-10.8 21 10.8zM871.6 666l-21-10.7 11.4-10.8 21 10.6zM818.3 655.6l-21-10.6 11.4-10.9 20.9 10.6zM764.9 645.4l-21-10.4 11.4-10.9 21 10.4zM711.6 635.6l-21-10.3 11.4-11 21 10.3zM658.2 626.1l-20.9-10.1 11.3-11 21 10.1zM604.9 617l-21-10 11.4-11 21 9.9z"/>
<path fill="#c3ff00" stroke="#c3ff00" d="M1768.8 829.2l-21-9.9 11.4-10 21 9.8zM1715.4 819.5l-20.9-10.1 11.3-10.1 21 10.1zM1662.1 809.5l-21-10.2 11.4-10.2 21 10.2zM1608.8 799.2l-21-10.4 11.4-10.2 20.9 10.4zM1555.4 788.6l-21-10.5 11.4-10.2 21 10.5zM1469.7 777.5l-21-10.6 11.4-10.4 21 10.7zM1416.4 766.5l-21-10.7 11.4-10.4 21 10.8zM1363 755.4l-20.9-10.9 11.3-10.4 21 10.9zM1277.3 743.7l-20.9-10.9 11.3-10.5 21 10.9zM1224 732.4l-21-10.9 11.4-10.5 21 10.9zM1138.3 720.8l-21-11 11.4-10.6 21 11zM1085 709.6l-21-11 11.4-10.6 20.9 10.9zM1031.6 698.4l-21-10.8 11.4-10.8 21 10.9zM945.9 687.4l-21-10.8 11.4-10.8 21 10.8zM892.6 676.7l-21-10.7 11.4-10.9 21 10.7zM839.2 666.2l-20.9-10.6 11.3-10.9 21 10.6zM785.9 655.9l-21-10.5 11.4-10.9 21 10.5zM732.6 646l-21-10.4 11.4-11 20.9 10.4zM679.2 636.3l-21-10.2 11.4-11 21 10.2zM625.9 627l-21-10 11.4-11.1 21 10.1z"/>
<path fill="#bdff00" stroke="#bdff00" d="M1736.4 829.5l-21-10 11.4-10.1 21 9.9zM1683.1 819.6l-21-10.1 11.4-10.2 21 10.1zM1629.7 809.5l-20.9-10.3 11.3-10.2 21 10.3zM1576.4 799l-21-10.4 11.4-10.2 21 10.4zM1523.1 788.4l-21-10.6 11.4-10.3 20.9 10.6zM1437.4 777.2l-21-10.7 11.4-10.3 20.9 10.7zM1384 766.2l-21-10.8 11.4-10.4 21 10.8zM1330.7 755l-21-10.9 11.4-10.4 21 10.8zM1245 743.3l-21-10.9 11.4-10.5 21 10.9zM1191.6 732.1l-20.9-11 11.3-10.6 21 11zM1105.9 720.5l-20.9-10.9 11.3-10.7 21 10.9zM1052.6 709.3l-21-10.9 11.4-10.7 21 10.9zM999.3 698.3l-21-10.9 11.4-10.7 20.9 10.9zM913.6 687.4l-21-10.7 11.4-10.9 20.9 10.8zM860.2 676.8l-21-10.6 11.4-10.9 21 10.7zM806.9 666.5l-21-10.6 11.4-10.9 21 10.6zM753.5 656.4l-20.9-10.4 11.3-11 21 10.4zM700.2 646.6l-21-10.3 11.4-11 21 10.3zM572.5 618.1l-20.9-9.8 11.3-11.2 21 9.9z"/>
<path fill="#b6ff00" stroke="#b6ff00" d="M1757.4 839.3l-21-9.8 11.4-10.2 21 9.9zM1704.1 829.7l-21-10.1 11.4-10.2 20.9 10.1zM1650.7 819.7l-21-10.2 11.4-10.2 21 10.2zM1597.4 809.4l-21-10.4 11.4-10.2 21 10.4zM1544 798.9l-20.9-10.5 11.3-10.3 21 10.5zM1490.7 788.2l-21-10.7 11.4-10.3 21 10.6zM1405 776.9l-21-10.7 11.4-10.4 21 10.7zM1351.7 765.8l-21-10.8 11.4-10.5 20.9 10.9zM1298.3 754.6l-21-10.9 11.4-10.5 21 10.9zM1212.6 743l-21-10.9 11.4-10.6 21 10.9zM1159.3 731.7l-21-10.9 11.4-10.6 21 10.9zM1073.6 720.3l-21-11 11.4-10.7 21 11zM1020.2 709.2l-20.9-10.9 11.3-10.7 21 10.8zM966.9 698.2l-21-10.8 11.4-10.8 21 10.8zM827.9 677.1l-21-10.6 11.4-10.9 20.9 10.6zM774.5 666.9l-21-10.5 11.4-11 21 10.5zM721.2 657l-21-10.4 11.4-11 21 10.4zM646.9 637.2l-21-10.2 11.4-11 20.9 10.1zM593.5 628.1l-21-10 11.4-11.1 21 10z"/>
<path fill="#dbff00" stroke="#dbff00" d="M1599.2 778.6l-21-10.4 11.4-10.2 20.9 10.4zM1545.8 767.9l-21-10.6 11.4-10.2 21 10.6zM1492.5 756.9l-21-10.6 11.4-10.3 21 10.7zM1406.8 745.4l-21-10.8 11.4-10.3 21 10.8zM1353.4 734.1l-20.9-10.8 11.3-10.4 21 10.9zM1300.1 722.8l-21-10.9 11.4-10.4 21 10.9zM1267.7 722.3l-20.9-10.9 11.3-10.5 21 11zM1214.4 711l-21-11 11.4-10.5 21 11zM1161.1 699.6l-21-11 11.4-10.5 20.9 11zM1075.4 688l-21-10.9 11.4-10.6 20.9 10.9zM1022 676.8l-21-10.8 11.4-10.7 21 10.9zM936.3 665.8l-21-10.8 11.4-10.7 21 10.8zM883 655.1l-21-10.6 11.4-10.8 21 10.6zM829.6 644.7l-20.9-10.6 11.3-10.8 21 10.5zM776.3 634.5l-21-10.4 11.4-10.9 21 10.4zM723 624.6l-21-10.3 11.4-10.9 20.9 10.3zM669.6 615.1l-21-10.1 11.4-11 21 10.1zM595.3 596l-21-9.9 11.4-11 21 9.8z"/>
<path fill="#b0ff00" stroke="#b0ff00" d="M1725 839.6l-20.9-9.9 11.3-10.2 21 10zM1671.7 829.8l-21-10.1 11.4-10.2 21 10.1zM1618.4 819.7l-21-10.3 11.4-10.2 20.9 10.3zM1565 809.3l-21-10.4 11.4-10.3 21 10.4zM1511.7 798.7l-21-10.5 11.4-10.4 21 10.6zM1458.3 787.9l-20.9-10.7 11.3-10.3 21 10.6zM1372.6 776.6l-20.9-10.8 11.3-10.4 21 10.8zM1319.3 765.5l-21-10.9 11.4-10.5 21 10.9zM1266 754.3l-21-11 11.4-10.5 20.9 10.9zM1180.3 742.7l-21-11 11.4-10.6 20.9 11zM1126.9 731.5l-21-11 11.4-10.7 21 11zM1041.2 720.1l-21-10.9 11.4-10.8 21 10.9zM987.9 709.1l-21-10.9 11.4-10.8 21 10.9zM934.5 698.2l-20.9-10.8 11.3-10.8 21 10.8zM881.2 687.6l-21-10.8 11.4-10.8 21 10.7zM667.8 647.4l-20.9-10.2 11.3-11.1 21 10.2zM614.5 638.2l-21-10.1 11.4-11.1 21 10zM561.2 629.3l-21-9.9 11.4-11.1 20.9 9.8z"/>
<path fill="#a9ff00" stroke="#a9ff00" d="M1746 849.5l-21-9.9 11.4-10.1 21 9.8zM1692.7 839.9l-21-10.1 11.4-10.2 21 10.1zM1639.3 829.9l-20.9-10.2 11.3-10.2 21 10.2zM1586 819.7l-21-10.4 11.4-10.3 21 10.4zM1532.7 809.2l-21-10.5 11.4-10.3 20.9 10.5zM1479.3 798.5l-21-10.6 11.4-10.4 21 10.7zM1426 787.6l-21-10.7 11.4-10.4 21 10.7zM1340.3 776.3l-21-10.8 11.4-10.5 21 10.8zM1286.9 765.1l-20.9-10.8 11.3-10.6 21 10.9zM1233.6 753.9l-21-10.9 11.4-10.6 21 10.9zM1147.9 742.4l-21-10.9 11.4-10.7 21 10.9zM1094.6 731.2l-21-10.9 11.4-10.7 20.9 10.9zM1008.9 720l-21-10.9 11.4-10.8 20.9 10.9zM955.5 709.1l-21-10.9 11.4-10.8 21 10.8zM902.2 698.3l-21-10.7 11.4-10.9 21 10.7zM848.8 687.8l-20.9-10.7 11.3-10.9 21 10.6zM795.5 677.5l-21-10.6 11.4-11 21 10.6zM742.2 667.4l-21-10.4 11.4-11 20.9 10.4zM688.8 657.7l-21-10.3 11.4-11.1 21 10.3zM635.5 648.3l-21-10.1 11.4-11.2 21 10.2z"/>
<path fill="#a2ff0a" stroke="#a2ff0a" d="M1713.7 849.8l-21-9.9 11.4-10.2 20.9 9.9zM1553.6 819.7l-20.9-10.5 11.3-10.3 21 10.4zM1500.3 809.1l-21-10.6 11.4-10.3 21 10.5zM1447 798.3l-21-10.7 11.4-10.4 20.9 10.7zM1393.6 787.4l-21-10.8 11.4-10.4 21 10.7zM1307.9 776l-21-10.9 11.4-10.5 21 10.9zM1254.6 764.8l-21-10.9 11.4-10.6 21 11zM1201.2 753.6l-20.9-10.9 11.3-10.6 21 10.9zM1115.5 742.2l-20.9-11 11.3-10.7 21 11zM1062.2 731l-21-10.9 11.4-10.8 21 11zM923.2 709.1l-21-10.8 11.4-10.9 20.9 10.8zM869.8 698.5l-21-10.7 11.4-11 21 10.8zM816.5 688.1l-21-10.6 11.4-11 21 10.6zM763.1 677.9l-20.9-10.5 11.3-11 21 10.5zM709.8 668.1l-21-10.4 11.4-11.1 21 10.4zM656.5 658.5l-21-10.2 11.4-11.1 20.9 10.2zM582.1 639.3l-20.9-10 11.3-11.2 21 10z"/>
<path fill="#9bff19" stroke="#9bff19" d="M1734.6 859.7l-20.9-9.9 11.3-10.2 21 9.9zM1660.3 840.1l-21-10.2 11.4-10.2 21 10.1zM1607 830l-21-10.3 11.4-10.3 21 10.3zM1467.9 808.9l-20.9-10.6 11.3-10.4 21 10.6zM1414.6 798.1l-21-10.7 11.4-10.5 21 10.7zM1361.3 787.1l-21-10.8 11.4-10.5 20.9 10.8zM1275.6 775.7l-21-10.9 11.4-10.5 20.9 10.8zM1222.2 764.5l-21-10.9 11.4-10.6 21 10.9zM1168.9 753.3l-21-10.9 11.4-10.7 21 11zM1083.2 742l-21-11 11.4-10.7 21 10.9zM1029.8 730.9l-20.9-10.9 11.3-10.8 21 10.9zM976.5 719.9l-21-10.8 11.4-10.9 21 10.9zM890.8 709.3l-21-10.8 11.4-10.9 21 10.7zM837.5 698.8l-21-10.7 11.4-11 20.9 10.7zM784.1 688.5l-21-10.6 11.4-11 21 10.6zM730.8 678.5l-21-10.4 11.4-11.1 21 10.4zM677.4 668.8l-20.9-10.3 11.3-11.1 21 10.3zM603.1 649.3l-21-10 11.4-11.2 21 10.1zM549.8 640.5l-21-9.9 11.4-11.2 21 9.9z"/>
<path fill="#94ff24" stroke="#94ff24" d="M1681.3 850.1l-21-10 11.4-10.3 21 10.1zM1628 840.2l-21-10.2 11.4-10.3 20.9 10.2zM1574.6 830l-21-10.3 11.4-10.4 21 10.4zM1521.3 819.6l-21-10.5 11.4-10.4 21 10.5zM1435.6 808.8l-21-10.7 11.4-10.5 21 10.7zM1382.2 797.9l-20.9-10.8 11.3-10.5 21 10.8zM1328.9 786.8l-21-10.8 11.4-10.5 21 10.8zM1243.2 775.5l-21-11 11.4-10.6 21 10.9zM1189.9 764.3l-21-11 11.4-10.6 20.9 10.9zM1136.5 753.1l-21-10.9 11.4-10.7 21 10.9zM1050.8 741.8l-21-10.9 11.4-10.8 21 10.9zM997.5 730.8l-21-10.9 11.4-10.8 21 10.9zM944.1 720l-20.9-10.9 11.3-10.9 21 10.9zM624.1 659.5l-21-10.2 11.4-11.1 21 10.1zM570.8 650.5l-21-10 11.4-11.2 20.9 10z"/>
<path fill="#8cff2c" stroke="#8cff2c" d="M1702.3 860.1l-21-10 11.4-10.2 21 9.9zM1648.9 850.3l-20.9-10.1 11.3-10.3 21 10.2zM1595.6 840.3l-21-10.3 11.4-10.3 21 10.3zM1542.3 830l-21-10.4 11.4-10.4 20.9 10.5zM1488.9 819.5l-21-10.6 11.4-10.4 21 10.6zM1403.2 808.6l-21-10.7 11.4-10.5 21 10.7zM1349.9 797.6l-21-10.8 11.4-10.5 21 10.8zM1296.5 786.6l-20.9-10.9 11.3-10.6 21 10.9zM1210.8 775.2l-20.9-10.9 11.3-10.7 21 10.9zM1157.5 764l-21-10.9 11.4-10.7 21 10.9zM1104.2 752.9l-21-10.9 11.4-10.8 20.9 11zM1018.5 741.7l-21-10.9 11.4-10.8 20.9 10.9zM965.1 730.8l-21-10.8 11.4-10.9 21 10.8zM911.8 720.1l-21-10.8 11.4-11 21 10.8zM858.4 709.5l-20.9-10.7 11.3-11 21 10.7zM805.1 699.1l-21-10.6 11.4-11 21 10.6zM751.8 689l-21-10.5 11.4-11.1 20.9 10.5zM698.4 679.2l-21-10.4 11.4-11.1 21 10.4zM645.1 669.7l-21-10.2 11.4-11.2 21 10.2zM591.7 660.5l-20.9-10 11.3-11.2 21 10z"/>
<path fill="#84ff33" stroke="#84ff33" d="M1723.3 870l-21-9.9 11.4-10.3 20.9 9.9zM1669.9 860.4l-21-10.1 11.4-10.2 21 10zM1616.6 850.5l-21-10.2 11.4-10.3 21 10.2zM1563.2 840.4l-20.9-10.4 11.3-10.3 21 10.3zM1509.9 830l-21-10.5 11.4-10.4 21 10.5zM1456.6 819.4l-21-10.6 11.4-10.5 20.9 10.6zM1370.9 808.4l-21-10.8 11.4-10.5 20.9 10.8zM1317.5 797.4l-21-10.8 11.4-10.6 21 10.8zM1264.2 786.3l-21-10.8 11.4-10.7 21 10.9zM1178.5 775l-21-11 11.4-10.7 21 11zM1125.1 763.9l-20.9-11 11.3-10.7 21 10.9zM1071.8 752.8l-21-11 11.4-10.8 21 11zM986.1 741.7l-21-10.9 11.4-10.9 21 10.9zM932.8 730.9l-21-10.8 11.4-11 20.9 10.9zM879.4 720.2l-21-10.7 11.4-11 21 10.8zM826.1 709.8l-21-10.7 11.4-11 21 10.7zM772.7 699.6l-20.9-10.6 11.3-11.1 21 10.6zM719.4 689.6l-21-10.4 11.4-11.1 21 10.4zM666.1 680l-21-10.3 11.4-11.2 20.9 10.3zM612.7 670.7l-21-10.2 11.4-11.2 21 10.2zM538.4 651.8l-21-9.9 11.4-11.3 21 9.9z"/>
<path fill="#7cff3a" stroke="#7cff3a" d="M1690.9 870.4l-21-10 11.4-10.3 21 10zM1637.6 860.7l-21-10.2 11.4-10.3 20.9 10.1zM1584.2 850.7l-21-10.3 11.4-10.4 21 10.3zM1530.9 840.4l-21-10.4 11.4-10.4 21 10.4zM1477.5 829.9l-20.9-10.5 11.3-10.5 21 10.6zM1424.2 819.3l-21-10.7 11.4-10.5 21 10.7zM1338.5 808.2l-21-10.8 11.4-10.6 21 10.8zM1285.2 797.2l-21-10.9 11.4-10.6 20.9 10.9zM1231.8 786.1l-21-10.9 11.4-10.7 21 11zM1146.1 774.8l-21-10.9 11.4-10.8 21 10.9zM1092.8 763.7l-21-10.9 11.4-10.8 21 10.9zM1039.4 752.7l-20.9-11 11.3-10.8 21 10.9zM900.4 731l-21-10.8 11.4-10.9 21 10.8zM847.1 720.5l-21-10.7 11.4-11 20.9 10.7zM793.7 710.2l-21-10.6 11.4-11.1 21 10.6zM740.4 700.1l-21-10.5 11.4-11.1 21 10.5zM687 690.3l-20.9-10.3 11.3-11.2 21 10.4zM633.7 680.9l-21-10.2 11.4-11.2 21 10.2zM559.4 661.7l-21-9.9 11.4-11.3 21 10z"/>
<path fill="#73ff40" stroke="#73ff40" d="M1711.9 880.2l-21-9.8 11.4-10.3 21 9.9zM1658.5 870.7l-20.9-10 11.3-10.4 21 10.1zM1605.2 860.9l-21-10.2 11.4-10.4 21 10.2zM1551.9 850.8l-21-10.4 11.4-10.4 20.9 10.4zM1498.5 840.4l-21-10.5 11.4-10.4 21 10.5zM1445.2 829.9l-21-10.6 11.4-10.5 21 10.6zM1391.8 819.1l-20.9-10.7 11.3-10.5 21 10.7zM1306.1 808l-20.9-10.8 11.3-10.6 21 10.8zM1252.8 797l-21-10.9 11.4-10.6 21 10.8zM1199.5 785.9l-21-10.9 11.4-10.7 20.9 10.9zM1113.8 774.6l-21-10.9 11.4-10.8 20.9 11zM1060.4 763.6l-21-10.9 11.4-10.9 21 11zM1007.1 752.6l-21-10.9 11.4-10.9 21 10.9zM953.7 741.8l-20.9-10.9 11.3-10.9 21 10.8zM868 731.3l-20.9-10.8 11.3-11 21 10.7zM814.7 720.8l-21-10.6 11.4-11.1 21 10.7zM761.4 710.7l-21-10.6 11.4-11.1 20.9 10.6zM708 700.8l-21-10.5 11.4-11.1 21 10.4zM580.4 671.8l-21-10.1 11.4-11.2 20.9 10zM527 663.1l-21-9.9 11.4-11.3 21 9.9z"/>
<path fill="#69ff46" stroke="#69ff46" d="M1679.5 880.7l-21-10 11.4-10.3 21 10zM1626.2 871l-21-10.1 11.4-10.4 21 10.2zM1572.8 861.1l-20.9-10.3 11.3-10.4 21 10.3zM1519.5 850.9l-21-10.5 11.4-10.4 21 10.4zM1466.2 840.4l-21-10.5 11.4-10.5 20.9 10.5zM1412.8 829.8l-21-10.7 11.4-10.5 21 10.7zM1359.5 819l-21-10.8 11.4-10.6 21 10.8zM1220.4 796.8l-20.9-10.9 11.3-10.7 21 10.9zM1167.1 785.7l-21-10.9 11.4-10.8 21 11zM1028.1 763.5l-21-10.9 11.4-10.9 20.9 11zM974.7 752.6l-21-10.8 11.4-11 21 10.9zM921.4 741.9l-21-10.9 11.4-10.9 21 10.8zM654.7 691.2l-21-10.3 11.4-11.2 21 10.3zM601.3 681.9l-20.9-10.1 11.3-11.3 21 10.2zM548 673.1l-21-10 11.4-11.3 21 9.9z"/>
<path fill="#5eff4c" stroke="#5eff4c" d="M1700.5 890.6l-21-9.9 11.4-10.3 21 9.8zM1647.2 881.1l-21-10.1 11.4-10.3 20.9 10zM1433.8 840.4l-21-10.6 11.4-10.5 21 10.6zM1380.5 829.7l-21-10.7 11.4-10.6 20.9 10.7zM1327.1 818.8l-21-10.8 11.4-10.6 21 10.8zM1273.8 807.9l-21-10.9 11.4-10.7 21 10.9zM1188.1 796.7l-21-11 11.4-10.7 21 10.9zM1134.7 785.6l-20.9-11 11.3-10.7 21 10.9zM1081.4 774.5l-21-10.9 11.4-10.8 21 10.9zM995.7 763.5l-21-10.9 11.4-10.9 21 10.9zM942.4 752.7l-21-10.8 11.4-11 20.9 10.9zM889 742.1l-21-10.8 11.4-11.1 21 10.8zM835.7 731.6l-21-10.8 11.4-11 21 10.7zM782.3 721.3l-20.9-10.6 11.3-11.1 21 10.6zM729 711.3l-21-10.5 11.4-11.2 21 10.5zM675.7 701.6l-21-10.4 11.4-11.2 20.9 10.3zM622.3 692.2l-21-10.3 11.4-11.2 21 10.2zM569 683.1l-21-10 11.4-11.4 21 10.1z"/>
<path fill="#53ff51" stroke="#53ff51" d="M1668.1 891.1l-20.9-10 11.3-10.4 21 10zM1593.8 871.3l-21-10.2 11.4-10.4 21 10.2zM1540.5 861.2l-21-10.3 11.4-10.5 21 10.4zM1487.1 850.9l-20.9-10.5 11.3-10.5 21 10.5zM1401.4 840.4l-20.9-10.7 11.3-10.6 21 10.7zM1348.1 829.6l-21-10.8 11.4-10.6 21 10.8zM1294.8 818.7l-21-10.8 11.4-10.7 20.9 10.8zM1241.4 807.7l-21-10.9 11.4-10.7 21 10.9zM1155.7 796.5l-21-10.9 11.4-10.8 21 10.9zM1102.4 785.5l-21-11 11.4-10.8 21 10.9zM1049 774.5l-20.9-11 11.3-10.8 21 10.9zM963.3 763.6l-20.9-10.9 11.3-10.9 21 10.8zM910 752.9l-21-10.8 11.4-11.1 21 10.9zM856.7 742.3l-21-10.7 11.4-11.1 20.9 10.8zM803.3 732l-21-10.7 11.4-11.1 21 10.6zM750 721.8l-21-10.5 11.4-11.2 21 10.6zM696.6 712l-20.9-10.4 11.3-11.3 21 10.5zM643.3 702.5l-21-10.3 11.4-11.3 21 10.3zM515.6 674.5l-20.9-9.9 11.3-11.4 21 9.9z"/>
<path fill="#45ff57" stroke="#45ff57" d="M1689.1 900.9l-21-9.8 11.4-10.4 21 9.9zM1614.8 881.4l-21-10.1 11.4-10.4 21 10.1zM1561.5 871.5l-21-10.3 11.4-10.4 20.9 10.3zM1508.1 861.4l-21-10.5 11.4-10.5 21 10.5zM1454.8 851l-21-10.6 11.4-10.5 21 10.5zM1315.7 829.5l-20.9-10.8 11.3-10.7 21 10.8zM1262.4 818.6l-21-10.9 11.4-10.7 21 10.9zM1209.1 807.6l-21-10.9 11.4-10.8 20.9 10.9zM1123.4 796.4l-21-10.9 11.4-10.9 20.9 11zM1070 785.4l-21-10.9 11.4-10.9 21 10.9zM1016.7 774.5l-21-11 11.4-10.9 21 10.9zM877.6 753.1l-20.9-10.8 11.3-11 21 10.8zM824.3 742.7l-21-10.7 11.4-11.2 21 10.8zM771 732.5l-21-10.7 11.4-11.1 20.9 10.6zM717.6 722.5l-21-10.5 11.4-11.2 21 10.5zM664.3 712.8l-21-10.3 11.4-11.3 21 10.4zM590 693.3l-21-10.2 11.4-11.3 20.9 10.1zM536.6 684.4l-21-9.9 11.4-11.4 21 10z"/>
<path fill="#33ff5c" stroke="#33ff5c" d="M1635.8 891.5l-21-10.1 11.4-10.4 21 10.1zM1582.4 881.8l-20.9-10.3 11.3-10.4 21 10.2zM1529.1 871.7l-21-10.3 11.4-10.5 21 10.3zM1475.8 861.5l-21-10.5 11.4-10.6 20.9 10.5zM1422.4 851l-21-10.6 11.4-10.6 21 10.6zM1369.1 840.3l-21-10.7 11.4-10.6 21 10.7zM1283.4 829.4l-21-10.8 11.4-10.7 21 10.8zM1230 818.5l-20.9-10.9 11.3-10.8 21 10.9zM1176.7 807.5l-21-11 11.4-10.8 21 11zM1091 796.4l-21-11 11.4-10.9 21 11zM1037.7 785.4l-21-10.9 11.4-11 20.9 11zM984.3 774.5l-21-10.9 11.4-11 21 10.9zM931 763.8l-21-10.9 11.4-11 21 10.8zM610.9 703.5l-20.9-10.2 11.3-11.4 21 10.3zM557.6 694.5l-21-10.1 11.4-11.3 21 10z"/>
<path fill="#17ff61" stroke="#17ff61" d="M1656.8 901.5l-21-10 11.4-10.4 20.9 10zM1603.4 891.9l-21-10.1 11.4-10.5 21 10.1zM1550.1 882l-21-10.3 11.4-10.5 21 10.3zM1496.7 871.9l-20.9-10.4 11.3-10.6 21 10.5zM1443.4 861.5l-21-10.5 11.4-10.6 21 10.6zM1390.1 851l-21-10.7 11.4-10.6 20.9 10.7zM1336.7 840.3l-21-10.8 11.4-10.7 21 10.8zM1251 829.3l-21-10.8 11.4-10.8 21 10.9zM1197.7 818.4l-21-10.9 11.4-10.8 21 10.9zM1144.3 807.4l-20.9-11 11.3-10.8 21 10.9zM1005.3 785.5l-21-11 11.4-11 21 11zM952 774.6l-21-10.8 11.4-11.1 20.9 10.9zM898.6 764l-21-10.9 11.4-11 21 10.8zM845.3 753.4l-21-10.7 11.4-11.1 21 10.7zM791.9 743.1l-20.9-10.6 11.3-11.2 21 10.7zM738.6 733.1l-21-10.6 11.4-11.2 21 10.5zM685.3 723.3l-21-10.5 11.4-11.2 20.9 10.4zM631.9 713.8l-21-10.3 11.4-11.3 21 10.3zM578.6 704.6l-21-10.1 11.4-11.4 21 10.2zM504.3 685.9l-21-9.9 11.4-11.4 20.9 9.9z"/>
<path fill="#0f6" stroke="#0f6" d="M1677.7 911.3l-20.9-9.8 11.3-10.4 21 9.8zM1624.4 902l-21-10.1 11.4-10.5 21 10.1zM1571.1 892.2l-21-10.2 11.4-10.5 20.9 10.3zM1517.7 882.3l-21-10.4 11.4-10.5 21 10.3zM1464.4 872l-21-10.5 11.4-10.5 21 10.5zM1411 861.6l-20.9-10.6 11.3-10.6 21 10.6zM1357.7 851l-21-10.7 11.4-10.7 21 10.7zM1304.4 840.2l-21-10.8 11.4-10.7 20.9 10.8zM1218.7 829.3l-21-10.9 11.4-10.8 20.9 10.9zM1165.3 818.3l-21-10.9 11.4-10.9 21 11zM1112 807.3l-21-10.9 11.4-10.9 21 10.9zM1058.6 796.4l-20.9-11 11.3-10.9 21 10.9zM972.9 785.5l-20.9-10.9 11.3-11 21 10.9zM919.6 774.8l-21-10.8 11.4-11.1 21 10.9zM866.3 764.2l-21-10.8 11.4-11.1 20.9 10.8zM812.9 753.8l-21-10.7 11.4-11.1 21 10.7zM759.6 743.7l-21-10.6 11.4-11.3 21 10.7zM706.2 733.8l-20.9-10.5 11.3-11.3 21 10.5zM652.9 724.1l-21-10.3 11.4-11.3 21 10.3zM599.6 714.8l-21-10.2 11.4-11.3 20.9 10.2zM525.2 695.8l-20.9-9.9 11.3-11.4 21 9.9z"/>
<path fill="#00ff6b" stroke="#00ff6b" d="M1645.4 911.9l-21-9.9 11.4-10.5 21 10zM1592 902.4l-20.9-10.2 11.3-10.4 21 10.1zM1538.7 892.6l-21-10.3 11.4-10.6 21 10.3zM1485.4 882.5l-21-10.5 11.4-10.5 20.9 10.4zM1432 872.2l-21-10.6 11.4-10.6 21 10.5zM1378.7 861.6l-21-10.6 11.4-10.7 21 10.7zM1325.3 851l-20.9-10.8 11.3-10.7 21 10.8zM1272 840.2l-21-10.9 11.4-10.7 21 10.8zM1133 818.3l-21-11 11.4-10.9 20.9 11zM1079.6 807.3l-21-10.9 11.4-11 21 11zM1026.3 796.4l-21-10.9 11.4-11 21 10.9zM887.2 775.1l-20.9-10.9 11.3-11.1 21 10.9zM833.9 764.6l-21-10.8 11.4-11.1 21 10.7zM780.6 754.3l-21-10.6 11.4-11.2 20.9 10.6zM727.2 744.3l-21-10.5 11.4-11.3 21 10.6zM673.9 734.6l-21-10.5 11.4-11.3 21 10.5zM546.2 705.9l-21-10.1 11.4-11.4 21 10.1zM492.9 697.3l-21-9.9 11.4-11.4 21 9.9z"/>
<path fill="#00ff70" stroke="#00ff70" d="M1666.4 921.8l-21-9.9 11.4-10.4 20.9 9.8zM1613 912.4l-21-10 11.4-10.5 21 10.1zM1346.3 861.7l-21-10.7 11.4-10.7 21 10.7zM1293 851l-21-10.8 11.4-10.8 21 10.8zM1239.6 840.1l-20.9-10.8 11.3-10.8 21 10.8zM1186.3 829.2l-21-10.9 11.4-10.8 21 10.9zM1100.6 818.2l-21-10.9 11.4-10.9 21 10.9zM1047.3 807.3l-21-10.9 11.4-11 20.9 11zM993.9 796.5l-21-11 11.4-11 21 11zM940.6 785.7l-21-10.9 11.4-11 21 10.8zM801.5 765.1l-20.9-10.8 11.3-11.2 21 10.7zM748.2 754.9l-21-10.6 11.4-11.2 21 10.6zM620.5 725.1l-20.9-10.3 11.3-11.3 21 10.3zM567.2 716l-21-10.1 11.4-11.4 21 10.1zM513.9 707.3l-21-10 11.4-11.4 20.9 9.9z"/>
<path fill="#00ff75" stroke="#00ff75" d="M1634 922.4l-21-10 11.4-10.4 21 9.9zM1559.7 902.8l-21-10.2 11.4-10.6 21 10.2zM1506.3 892.8l-20.9-10.3 11.3-10.6 21 10.4zM1453 882.7l-21-10.5 11.4-10.7 21 10.5zM1399.7 872.3l-21-10.7 11.4-10.6 20.9 10.6zM1314 861.7l-21-10.7 11.4-10.8 20.9 10.8zM1260.6 851l-21-10.9 11.4-10.8 21 10.9zM1207.3 840.1l-21-10.9 11.4-10.8 21 10.9zM1153.9 829.2l-20.9-10.9 11.3-10.9 21 10.9zM1068.2 818.3l-20.9-11 11.3-10.9 21 10.9zM1014.9 807.4l-21-10.9 11.4-11 21 10.9zM961.6 796.6l-21-10.9 11.4-11.1 20.9 10.9zM908.2 785.9l-21-10.8 11.4-11.1 21 10.8zM854.9 775.4l-21-10.8 11.4-11.2 21 10.8zM694.9 745.1l-21-10.5 11.4-11.3 20.9 10.5zM641.5 735.5l-21-10.4 11.4-11.3 21 10.3zM588.2 726.2l-21-10.2 11.4-11.4 21 10.2z"/>
<path fill="#00ff79" stroke="#00ff79" d="M1655 932.3l-21-9.9 11.4-10.5 21 9.9zM1580.7 912.9l-21-10.1 11.4-10.6 20.9 10.2zM1527.3 903.1l-21-10.3 11.4-10.5 21 10.3zM1474 893.1l-21-10.4 11.4-10.7 21 10.5zM1420.6 882.8l-20.9-10.5 11.3-10.7 21 10.6zM1367.3 872.4l-21-10.7 11.4-10.7 21 10.6zM1228.3 851l-21-10.9 11.4-10.8 20.9 10.8zM1174.9 840.1l-21-10.9 11.4-10.9 21 10.9zM1121.6 829.2l-21-11 11.4-10.9 21 11zM982.5 807.5l-20.9-10.9 11.3-11.1 21 11zM929.2 796.8l-21-10.9 11.4-11.1 21 10.9zM875.9 786.2l-21-10.8 11.4-11.2 20.9 10.9zM822.5 775.8l-21-10.7 11.4-11.3 21 10.8zM769.2 765.6l-21-10.7 11.4-11.2 21 10.6zM715.8 755.6l-20.9-10.5 11.3-11.3 21 10.5zM662.5 745.9l-21-10.4 11.4-11.4 21 10.5zM609.2 736.5l-21-10.3 11.4-11.4 20.9 10.3zM534.8 717.3l-20.9-10 11.3-11.5 21 10.1zM481.5 708.8l-21-9.8 11.4-11.6 21 9.9z"/>
<path fill="#00ff7e" stroke="#00ff7e" d="M1601.6 923l-20.9-10.1 11.3-10.5 21 10zM1548.3 913.4l-21-10.3 11.4-10.5 21 10.2zM1495 903.5l-21-10.4 11.4-10.6 20.9 10.3zM1441.6 893.3l-21-10.5 11.4-10.6 21 10.5zM1388.3 883l-21-10.6 11.4-10.8 21 10.7zM1334.9 872.4l-20.9-10.7 11.3-10.7 21 10.7zM1281.6 861.8l-21-10.8 11.4-10.8 21 10.8zM1195.9 851l-21-10.9 11.4-10.9 21 10.9zM1142.6 840.1l-21-10.9 11.4-10.9 20.9 10.9zM1089.2 829.2l-21-10.9 11.4-11 21 10.9zM1035.9 818.4l-21-11 11.4-11 21 10.9zM896.8 797.1l-20.9-10.9 11.3-11.1 21 10.8zM843.5 786.6l-21-10.8 11.4-11.2 21 10.8zM790.2 776.3l-21-10.7 11.4-11.3 20.9 10.8zM736.8 766.2l-21-10.6 11.4-11.3 21 10.6zM683.5 756.4l-21-10.5 11.4-11.3 21 10.5zM630.1 746.9l-20.9-10.4 11.3-11.4 21 10.4zM555.8 727.5l-21-10.2 11.4-11.4 21 10.1zM502.5 718.8l-21-10 11.4-11.5 21 10z"/>
<path fill="#00ff82" stroke="#00ff82" d="M1622.6 932.9l-21-9.9 11.4-10.6 21 10zM1569.3 923.5l-21-10.1 11.4-10.6 21 10.1zM1515.9 913.8l-20.9-10.3 11.3-10.7 21 10.3zM1462.6 903.8l-21-10.5 11.4-10.6 21 10.4zM1409.3 893.5l-21-10.5 11.4-10.7 20.9 10.5zM1355.9 883.1l-21-10.7 11.4-10.7 21 10.7zM1302.6 872.5l-21-10.7 11.4-10.8 21 10.7zM1249.2 861.8l-20.9-10.8 11.3-10.9 21 10.9zM1110.2 840.2l-21-11 11.4-11 21 11zM1056.9 829.3l-21-10.9 11.4-11.1 20.9 11zM1003.5 818.5l-21-11 11.4-11 21 10.9zM950.2 807.7l-21-10.9 11.4-11.1 21 10.9zM811.1 787.1l-20.9-10.8 11.3-11.2 21 10.7zM757.8 776.9l-21-10.7 11.4-11.3 21 10.7zM576.8 737.7l-21-10.2 11.4-11.5 21 10.2zM523.5 728.9l-21-10.1 11.4-11.5 20.9 10z"/>
<path fill="#00ff87" stroke="#00ff87" d="M1643.6 942.8l-21-9.9 11.4-10.5 21 9.9zM1590.3 933.6l-21-10.1 11.4-10.6 20.9 10.1zM1536.9 924l-21-10.2 11.4-10.7 21 10.3zM1483.6 914.1l-21-10.3 11.4-10.7 21 10.4zM1430.2 904l-20.9-10.5 11.3-10.7 21 10.5zM1376.9 893.7l-21-10.6 11.4-10.7 21 10.6zM1323.6 883.2l-21-10.7 11.4-10.8 20.9 10.7zM1270.2 872.6l-21-10.8 11.4-10.8 21 10.8zM1216.9 861.8l-21-10.8 11.4-10.9 21 10.9zM1163.5 851l-20.9-10.9 11.3-10.9 21 10.9zM1077.8 840.2l-20.9-10.9 11.3-11 21 10.9zM1024.5 829.4l-21-10.9 11.4-11.1 21 11zM971.2 818.7l-21-11 11.4-11.1 20.9 10.9zM917.8 808l-21-10.9 11.4-11.2 21 10.9zM864.5 797.5l-21-10.9 11.4-11.2 21 10.8zM704.5 767l-21-10.6 11.4-11.3 20.9 10.5zM651.1 757.3l-21-10.4 11.4-11.4 21 10.4zM597.8 748l-21-10.3 11.4-11.5 21 10.3zM544.4 739l-20.9-10.1 11.3-11.6 21 10.2zM470.1 720.4l-21-9.9 11.4-11.5 21 9.8z"/>
<path fill="#00ff8c" stroke="#00ff8c" d="M1611.2 943.5l-20.9-9.9 11.3-10.6 21 9.9zM1557.9 934.1l-21-10.1 11.4-10.6 21 10.1zM1291.2 883.4l-21-10.8 11.4-10.8 21 10.7zM1237.9 872.7l-21-10.9 11.4-10.8 20.9 10.8zM1184.5 861.9l-21-10.9 11.4-10.9 21 10.9zM1131.2 851.1l-21-10.9 11.4-11 21 10.9zM992.1 829.6l-20.9-10.9 11.3-11.2 21 11zM938.8 818.9l-21-10.9 11.4-11.2 21 10.9zM885.5 808.3l-21-10.8 11.4-11.3 20.9 10.9zM832.1 797.9l-21-10.8 11.4-11.3 21 10.8zM778.8 787.6l-21-10.7 11.4-11.3 21 10.7zM725.4 777.6l-20.9-10.6 11.3-11.4 21 10.6zM672.1 767.8l-21-10.5 11.4-11.4 21 10.5zM618.8 758.4l-21-10.4 11.4-11.5 20.9 10.4zM491.1 730.4l-21-10 11.4-11.6 21 10z"/>
<path fill="#00ff90" stroke="#00ff90" d="M1632.2 953.4l-21-9.9 11.4-10.6 21 9.9zM1504.6 924.4l-21-10.3 11.4-10.6 20.9 10.3zM1451.2 914.5l-21-10.5 11.4-10.7 21 10.5zM1397.9 904.3l-21-10.6 11.4-10.7 21 10.5zM1344.5 893.9l-20.9-10.7 11.3-10.8 21 10.7zM1205.5 872.8l-21-10.9 11.4-10.9 21 10.8zM1152.2 862l-21-10.9 11.4-11 20.9 10.9zM1098.8 851.2l-21-11 11.4-11 21 11zM1045.5 840.4l-21-11 11.4-11 21 10.9zM906.4 819.2l-20.9-10.9 11.3-11.2 21 10.9zM853.1 808.7l-21-10.8 11.4-11.3 21 10.9zM799.8 798.4l-21-10.8 11.4-11.3 20.9 10.8zM746.4 788.3l-21-10.7 11.4-11.4 21 10.7zM693.1 778.4l-21-10.6 11.4-11.4 21 10.6zM639.7 768.8l-20.9-10.4 11.3-11.5 21 10.4zM565.4 749.2l-21-10.2 11.4-11.5 21 10.2zM512.1 740.4l-21-10 11.4-11.6 21 10.1z"/>
<path fill="#00ff94" stroke="#00ff94" d="M1578.9 944.2l-21-10.1 11.4-10.6 21 10.1zM1525.5 934.6l-20.9-10.2 11.3-10.6 21 10.2zM1472.2 924.8l-21-10.3 11.4-10.7 21 10.3zM1418.9 914.8l-21-10.5 11.4-10.8 20.9 10.5zM1365.5 904.5l-21-10.6 11.4-10.8 21 10.6zM1312.2 894.1l-21-10.7 11.4-10.9 21 10.7zM1258.8 883.5l-20.9-10.8 11.3-10.9 21 10.8zM1173.1 872.9l-20.9-10.9 11.3-11 21 10.9zM1119.8 862.1l-21-10.9 11.4-11 21 10.9zM1066.5 851.3l-21-10.9 11.4-11.1 20.9 10.9zM1013.1 840.5l-21-10.9 11.4-11.1 21 10.9zM959.8 829.8l-21-10.9 11.4-11.2 21 11zM820.7 809.2l-20.9-10.8 11.3-11.3 21 10.8zM767.4 799l-21-10.7 11.4-11.4 21 10.7zM714.1 789l-21-10.6 11.4-11.4 20.9 10.6zM586.4 759.5l-21-10.3 11.4-11.5 21 10.3zM533.1 750.5l-21-10.1 11.4-11.5 20.9 10.1zM458.7 732l-20.9-9.9 11.3-11.6 21 9.9z"/>
<path fill="#0f9" stroke="#0f9" d="M1599.9 954.1l-21-9.9 11.4-10.6 20.9 9.9zM1546.5 944.8l-21-10.2 11.4-10.6 21 10.1zM1493.2 935.1l-21-10.3 11.4-10.7 21 10.3zM1439.8 925.2l-20.9-10.4 11.3-10.8 21 10.5zM1386.5 915.1l-21-10.6 11.4-10.8 21 10.6zM1333.2 904.7l-21-10.6 11.4-10.9 20.9 10.7zM1279.8 894.2l-21-10.7 11.4-10.9 21 10.8zM1226.5 883.6l-21-10.8 11.4-11 21 10.9zM1087.4 862.3l-20.9-11 11.3-11.1 21 11zM1034.1 851.5l-21-11 11.4-11.1 21 11zM980.8 840.8l-21-11 11.4-11.1 20.9 10.9zM927.4 830.1l-21-10.9 11.4-11.2 21 10.9zM874.1 819.6l-21-10.9 11.4-11.2 21 10.8zM660.7 779.3l-21-10.5 11.4-11.5 21 10.5zM607.4 769.9l-21-10.4 11.4-11.5 21 10.4zM554 760.8l-20.9-10.3 11.3-11.5 21 10.2zM479.7 742l-21-10 11.4-11.6 21 10z"/>
<path fill="#00ff9d" stroke="#00ff9d" d="M1620.8 964l-20.9-9.9 11.3-10.6 21 9.9zM1567.5 954.8l-21-10 11.4-10.7 21 10.1zM1514.2 945.3l-21-10.2 11.4-10.7 20.9 10.2zM1460.8 935.6l-21-10.4 11.4-10.7 21 10.3zM1407.5 925.6l-21-10.5 11.4-10.8 21 10.5zM1354.1 915.4l-20.9-10.7 11.3-10.8 21 10.6zM1300.8 905l-21-10.8 11.4-10.8 21 10.7zM1247.5 894.4l-21-10.8 11.4-10.9 20.9 10.8zM1194.1 883.8l-21-10.9 11.4-11 21 10.9zM1140.8 873l-21-10.9 11.4-11 21 10.9zM1001.7 851.7l-20.9-10.9 11.3-11.2 21 10.9zM948.4 841l-21-10.9 11.4-11.2 21 10.9zM895.1 830.5l-21-10.9 11.4-11.3 20.9 10.9zM841.7 820l-21-10.8 11.4-11.3 21 10.8zM788.4 809.8l-21-10.8 11.4-11.4 21 10.8zM735 799.7l-20.9-10.7 11.3-11.4 21 10.7zM681.7 789.9l-21-10.6 11.4-11.5 21 10.6zM628.4 780.3l-21-10.4 11.4-11.5 20.9 10.4zM575 771.1l-21-10.3 11.4-11.6 21 10.3zM500.7 752l-21-10 11.4-11.6 21 10zM447.4 743.7l-21-9.9 11.4-11.7 20.9 9.9z"/>
<path fill="#00ffa2" stroke="#00ffa2" d="M1588.5 964.8l-21-10 11.4-10.6 21 9.9zM1535.1 955.5l-20.9-10.2 11.3-10.7 21 10.2zM1481.8 945.9l-21-10.3 11.4-10.8 21 10.3zM1268.4 905.2l-20.9-10.8 11.3-10.9 21 10.7zM1215.1 894.6l-21-10.8 11.4-11 21 10.8zM1161.8 883.9l-21-10.9 11.4-11 20.9 10.9zM1108.4 873.2l-21-10.9 11.4-11.1 21 10.9zM1055.1 862.4l-21-10.9 11.4-11.1 21 10.9zM916 841.4l-20.9-10.9 11.3-11.3 21 10.9zM862.7 830.9l-21-10.9 11.4-11.3 21 10.9zM809.4 820.6l-21-10.8 11.4-11.4 20.9 10.8zM756 810.4l-21-10.7 11.4-11.4 21 10.7zM702.7 800.5l-21-10.6 11.4-11.5 21 10.6zM649.3 790.8l-20.9-10.5 11.3-11.5 21 10.5zM521.7 762.2l-21-10.2 11.4-11.6 21 10.1zM468.3 753.6l-20.9-9.9 11.3-11.7 21 10z"/>
<path fill="#00ffa6" stroke="#00ffa6" d="M1609.5 974.7l-21-9.9 11.4-10.7 20.9 9.9zM1556.1 965.5l-21-10 11.4-10.7 21 10zM1428.5 936l-21-10.4 11.4-10.8 20.9 10.4zM1375.1 925.9l-21-10.5 11.4-10.9 21 10.6zM1321.8 915.6l-21-10.6 11.4-10.9 21 10.6zM1182.7 894.8l-20.9-10.9 11.3-11 21 10.9zM1129.4 884.1l-21-10.9 11.4-11.1 21 10.9zM1076.1 873.4l-21-11 11.4-11.1 20.9 11zM1022.7 862.7l-21-11 11.4-11.2 21 11zM969.4 852l-21-11 11.4-11.2 21 11zM830.3 831.4l-20.9-10.8 11.3-11.4 21 10.8zM777 821.2l-21-10.8 11.4-11.4 21 10.8zM723.7 811.1l-21-10.6 11.4-11.5 20.9 10.7zM596 781.4l-21-10.3 11.4-11.6 21 10.4zM542.7 772.4l-21-10.2 11.4-11.7 20.9 10.3z"/>
<path fill="#0fa" stroke="#0fa" d="M1577.1 975.5l-21-10 11.4-10.7 21 10zM1502.8 956.1l-21-10.2 11.4-10.8 21 10.2zM1449.4 946.4l-20.9-10.4 11.3-10.8 21 10.4zM1396.1 936.4l-21-10.5 11.4-10.8 21 10.5zM1342.8 926.2l-21-10.6 11.4-10.9 20.9 10.7zM1289.4 915.9l-21-10.7 11.4-11 21 10.8zM1236.1 905.4l-21-10.8 11.4-11 21 10.8zM1097 884.3l-20.9-10.9 11.3-11.1 21 10.9zM1043.7 873.6l-21-10.9 11.4-11.2 21 10.9zM990.4 862.9l-21-10.9 11.4-11.2 20.9 10.9zM937 852.3l-21-10.9 11.4-11.3 21 10.9zM883.7 841.8l-21-10.9 11.4-11.3 21 10.9zM670.3 801.4l-21-10.6 11.4-11.5 21 10.6zM617 791.9l-21-10.5 11.4-11.5 21 10.4zM563.6 782.7l-20.9-10.3 11.3-11.6 21 10.3zM489.3 763.7l-21-10.1 11.4-11.6 21 10zM436 755.4l-21-9.9 11.4-11.7 21 9.9z"/>
<path fill="#00ffaf" stroke="#00ffaf" d="M1598.1 985.4l-21-9.9 11.4-10.7 21 9.9zM1523.8 966.2l-21-10.1 11.4-10.8 20.9 10.2zM1470.4 956.7l-21-10.3 11.4-10.8 21 10.3zM1417.1 946.8l-21-10.4 11.4-10.8 21 10.4zM1363.7 936.8l-20.9-10.6 11.3-10.8 21 10.5zM1310.4 926.6l-21-10.7 11.4-10.9 21 10.6zM1257.1 916.1l-21-10.7 11.4-11 20.9 10.8zM1203.7 905.6l-21-10.8 11.4-11 21 10.8zM1150.4 895l-21-10.9 11.4-11.1 21 10.9zM1011.3 873.9l-20.9-11 11.3-11.2 21 11zM958 863.2l-21-10.9 11.4-11.3 21 11zM904.7 852.7l-21-10.9 11.4-11.3 20.9 10.9zM851.3 842.2l-21-10.8 11.4-11.4 21 10.9zM798 832l-21-10.8 11.4-11.4 21 10.8zM744.6 821.9l-20.9-10.8 11.3-11.4 21 10.7zM691.3 812l-21-10.6 11.4-11.5 21 10.6zM638 802.4l-21-10.5 11.4-11.6 20.9 10.5zM584.6 793l-21-10.3 11.4-11.6 21 10.3zM510.3 773.8l-21-10.1 11.4-11.7 21 10.2zM457 765.3l-21-9.9 11.4-11.7 20.9 9.9z"/>
<path fill="#00ffb3" stroke="#00ffb3" d="M1544.7 976.3l-20.9-10.1 11.3-10.7 21 10zM1491.4 966.9l-21-10.2 11.4-10.8 21 10.2zM1438.1 957.2l-21-10.4 11.4-10.8 20.9 10.4zM1384.7 947.3l-21-10.5 11.4-10.9 21 10.5zM1331.4 937.2l-21-10.6 11.4-11 21 10.6zM1278 926.9l-20.9-10.8 11.3-10.9 21 10.7zM1224.7 916.4l-21-10.8 11.4-11 21 10.8zM1171.4 905.8l-21-10.8 11.4-11.1 20.9 10.9zM1118 895.2l-21-10.9 11.4-11.1 21 10.9zM1064.7 884.5l-21-10.9 11.4-11.2 21 11zM925.6 863.6l-20.9-10.9 11.3-11.3 21 10.9zM872.3 853.1l-21-10.9 11.4-11.3 21 10.9zM819 842.8l-21-10.8 11.4-11.4 20.9 10.8zM765.6 832.6l-21-10.7 11.4-11.5 21 10.8zM712.3 822.7l-21-10.7 11.4-11.5 21 10.6zM658.9 812.9l-20.9-10.5 11.3-11.6 21 10.6zM531.3 784l-21-10.2 11.4-11.6 21 10.2zM477.9 775.4l-20.9-10.1 11.3-11.7 21 10.1z"/>
<path fill="#00ffb7" stroke="#00ffb7" d="M1565.7 986.3l-21-10 11.4-10.8 21 10zM1512.4 977l-21-10.1 11.4-10.8 21 10.1zM1459 967.5l-20.9-10.3 11.3-10.8 21 10.3zM1245.7 927.2l-21-10.8 11.4-11 21 10.7zM1192.3 916.7l-20.9-10.9 11.3-11 21 10.8zM1139 906.1l-21-10.9 11.4-11.1 21 10.9zM1085.7 895.5l-21-11 11.4-11.1 20.9 10.9zM1032.3 884.8l-21-10.9 11.4-11.2 21 10.9zM979 874.2l-21-11 11.4-11.2 21 10.9zM605.6 803.5l-21-10.5 11.4-11.6 21 10.5zM552.3 794.3l-21-10.3 11.4-11.6 20.9 10.3zM498.9 785.5l-21-10.1 11.4-11.7 21 10.1zM424.6 767.1l-21-9.8 11.4-11.8 21 9.9z"/>
<path fill="#0fb" stroke="#0fb" d="M1586.7 996.1l-21-9.8 11.4-10.8 21 9.9zM1533.4 987.1l-21-10.1 11.4-10.8 20.9 10.1zM1405.7 957.7l-21-10.4 11.4-10.9 21 10.4zM1352.4 947.7l-21-10.5 11.4-11 20.9 10.6zM1299 937.5l-21-10.6 11.4-11 21 10.7zM1106.6 906.4l-20.9-10.9 11.3-11.2 21 10.9zM1053.3 895.8l-21-11 11.4-11.2 21 10.9zM1000 885.1l-21-10.9 11.4-11.3 20.9 11zM946.6 874.6l-21-11 11.4-11.3 21 10.9zM893.3 864l-21-10.9 11.4-11.3 21 10.9zM839.9 853.7l-20.9-10.9 11.3-11.4 21 10.8zM786.6 843.4l-21-10.8 11.4-11.4 21 10.8zM733.3 833.4l-21-10.7 11.4-11.6 20.9 10.8zM679.9 823.5l-21-10.6 11.4-11.5 21 10.6zM626.6 814l-21-10.5 11.4-11.6 21 10.5zM573.2 804.7l-20.9-10.4 11.3-11.6 21 10.3zM445.6 777.1l-21-10 11.4-11.7 21 9.9z"/>
<path fill="#00ffbf" stroke="#00ffbf" d="M1554.3 997.1l-20.9-10 11.3-10.8 21 10zM1480 977.7l-21-10.2 11.4-10.8 21 10.2zM1426.7 968.1l-21-10.4 11.4-10.9 21 10.4zM1373.3 958.2l-20.9-10.5 11.3-10.9 21 10.5zM1320 948.1l-21-10.6 11.4-10.9 21 10.6zM1266.7 937.9l-21-10.7 11.4-11.1 20.9 10.8zM1213.3 927.5l-21-10.8 11.4-11.1 21 10.8zM1160 917l-21-10.9 11.4-11.1 21 10.8zM1020.9 896.1l-20.9-11 11.3-11.2 21 10.9zM967.6 885.5l-21-10.9 11.4-11.4 21 11zM914.3 875l-21-11 11.4-11.3 20.9 10.9zM860.9 864.5l-21-10.8 11.4-11.5 21 10.9zM807.6 854.3l-21-10.9 11.4-11.4 21 10.8zM754.2 844.1l-20.9-10.7 11.3-11.5 21 10.7zM700.9 834.2l-21-10.7 11.4-11.5 21 10.7zM647.6 824.5l-21-10.5 11.4-11.6 20.9 10.5zM594.2 815.1l-21-10.4 11.4-11.7 21 10.5zM519.9 795.8l-21-10.3 11.4-11.7 21 10.2zM466.6 787.2l-21-10.1 11.4-11.8 20.9 10.1z"/>
<path fill="#00ffc4" stroke="#00ffc4" d="M1575.3 1006.9l-21-9.8 11.4-10.8 21 9.8zM1501 987.9l-21-10.2 11.4-10.8 21 10.1zM1447.7 978.4l-21-10.3 11.4-10.9 20.9 10.3zM1394.3 968.7l-21-10.5 11.4-10.9 21 10.4zM1341 958.7l-21-10.6 11.4-10.9 21 10.5zM1287.6 948.6l-20.9-10.7 11.3-11 21 10.6zM1234.3 938.2l-21-10.7 11.4-11.1 21 10.8zM1181 927.8l-21-10.8 11.4-11.2 20.9 10.9zM1127.6 917.3l-21-10.9 11.4-11.2 21 10.9zM1074.3 906.7l-21-10.9 11.4-11.3 21 11zM935.2 885.9l-20.9-10.9 11.3-11.4 21 11zM881.9 875.5l-21-11 11.4-11.4 21 10.9zM828.6 865.1l-21-10.8 11.4-11.5 20.9 10.9zM775.2 854.9l-21-10.8 11.4-11.5 21 10.8zM721.9 844.9l-21-10.7 11.4-11.5 21 10.7zM668.5 835.2l-20.9-10.7 11.3-11.6 21 10.6zM540.9 806l-21-10.2 11.4-11.8 21 10.3zM487.5 797.3l-20.9-10.1 11.3-11.8 21 10.1zM413.2 779l-21-9.9 11.4-11.8 21 9.8z"/>
<path fill="#00ffc8" stroke="#00ffc8" d="M1522 997.9l-21-10 11.4-10.9 21 10.1zM1468.6 988.6l-20.9-10.2 11.3-10.9 21 10.2zM1415.3 979l-21-10.3 11.4-11 21 10.4zM1362 969.2l-21-10.5 11.4-11 20.9 10.5zM1308.6 959.2l-21-10.6 11.4-11.1 21 10.6zM1255.3 949l-21-10.8 11.4-11 21 10.7zM1201.9 938.6l-20.9-10.8 11.3-11.1 21 10.8zM1148.6 928.1l-21-10.8 11.4-11.2 21 10.9zM1095.3 917.6l-21-10.9 11.4-11.2 20.9 10.9zM1041.9 907l-21-10.9 11.4-11.3 21 11zM988.6 896.4l-21-10.9 11.4-11.3 21 10.9zM615.2 825.6l-21-10.5 11.4-11.6 21 10.5zM561.9 816.4l-21-10.4 11.4-11.7 20.9 10.4zM508.5 807.5l-21-10.2 11.4-11.8 21 10.3zM434.2 788.9l-21-9.9 11.4-11.9 21 10z"/>
<path fill="#0fc" stroke="#0fc" d="M1543 1007.9l-21-10 11.4-10.8 20.9 10zM1489.6 998.8l-21-10.2 11.4-10.9 21 10.2zM1436.3 989.3l-21-10.3 11.4-10.9 21 10.3zM1169.6 939l-21-10.9 11.4-11.1 21 10.8zM1116.2 928.5l-20.9-10.9 11.3-11.2 21 10.9zM1062.9 917.9l-21-10.9 11.4-11.2 21 10.9zM1009.6 907.4l-21-11 11.4-11.3 20.9 11zM956.2 896.9l-21-11 11.4-11.3 21 10.9zM902.9 886.4l-21-10.9 11.4-11.5 21 11zM849.5 876l-20.9-10.9 11.3-11.4 21 10.8zM796.2 865.8l-21-10.9 11.4-11.5 21 10.9zM742.9 855.7l-21-10.8 11.4-11.5 20.9 10.7zM689.5 845.8l-21-10.6 11.4-11.7 21 10.7zM636.2 836.2l-21-10.6 11.4-11.6 21 10.5zM582.8 826.9l-20.9-10.5 11.3-11.7 21 10.4zM455.2 799l-21-10.1 11.4-11.8 21 10.1z"/>
<path fill="#00ffd0" stroke="#00ffd0" d="M1563.9 1017.8l-20.9-9.9 11.3-10.8 21 9.8zM1510.6 1008.8l-21-10 11.4-10.9 21 10zM1382.9 979.6l-20.9-10.4 11.3-11 21 10.5zM1329.6 969.7l-21-10.5 11.4-11.1 21 10.6zM1276.3 959.6l-21-10.6 11.4-11.1 20.9 10.7zM1222.9 949.4l-21-10.8 11.4-11.1 21 10.7zM1030.5 918.3l-20.9-10.9 11.3-11.3 21 10.9zM977.2 907.8l-21-10.9 11.4-11.4 21 10.9zM923.9 897.3l-21-10.9 11.4-11.4 20.9 10.9zM870.5 886.9l-21-10.9 11.4-11.5 21 11zM817.2 876.6l-21-10.8 11.4-11.5 21 10.8zM763.8 866.5l-20.9-10.8 11.3-11.6 21 10.8zM710.5 856.5l-21-10.7 11.4-11.6 21 10.7zM657.2 846.8l-21-10.6 11.4-11.7 20.9 10.7zM603.8 837.4l-21-10.5 11.4-11.8 21 10.5zM529.5 817.8l-21-10.3 11.4-11.7 21 10.2zM476.2 809.1l-21-10.1 11.4-11.8 20.9 10.1zM401.8 790.8l-20.9-9.8 11.3-11.9 21 9.9z"/>
<path fill="#00ffd4" stroke="#00ffd4" d="M1531.6 1018.8l-21-10 11.4-10.9 21 10zM1457.3 999.5l-21-10.2 11.4-10.9 20.9 10.2zM1403.9 990l-21-10.4 11.4-10.9 21 10.3zM1350.6 980.2l-21-10.5 11.4-11 21 10.5zM1297.2 970.2l-20.9-10.6 11.3-11 21 10.6zM1243.9 960.1l-21-10.7 11.4-11.2 21 10.8zM1190.6 949.8l-21-10.8 11.4-11.2 20.9 10.8zM1137.2 939.3l-21-10.8 11.4-11.2 21 10.8zM1083.9 928.8l-21-10.9 11.4-11.2 21 10.9zM891.5 897.8l-21-10.9 11.4-11.4 21 10.9zM838.2 887.5l-21-10.9 11.4-11.5 20.9 10.9zM784.8 877.3l-21-10.8 11.4-11.6 21 10.9zM731.5 867.3l-21-10.8 11.4-11.6 21 10.8zM678.1 857.5l-20.9-10.7 11.3-11.6 21 10.6zM550.5 828.2l-21-10.4 11.4-11.8 21 10.4zM497.1 819.3l-20.9-10.2 11.3-11.8 21 10.2zM422.8 800.8l-21-10 11.4-11.8 21 9.9z"/>
<path fill="#00ffd8" stroke="#00ffd8" d="M1552.6 1028.7l-21-9.9 11.4-10.9 20.9 9.9zM1478.2 1009.7l-20.9-10.2 11.3-10.9 21 10.2zM1424.9 1000.3l-21-10.3 11.4-11 21 10.3zM1371.6 990.7l-21-10.5 11.4-11 20.9 10.4zM1318.2 980.8l-21-10.6 11.4-11 21 10.5zM1264.9 970.7l-21-10.6 11.4-11.1 21 10.6zM1211.5 960.5l-20.9-10.7 11.3-11.2 21 10.8zM1158.2 950.2l-21-10.9 11.4-11.2 21 10.9zM1104.9 939.7l-21-10.9 11.4-11.2 20.9 10.9zM1051.5 929.2l-21-10.9 11.4-11.3 21 10.9zM998.2 918.7l-21-10.9 11.4-11.4 21 11zM944.8 908.3l-20.9-11 11.3-11.4 21 11zM624.8 847.9l-21-10.5 11.4-11.8 21 10.6zM571.5 838.6l-21-10.4 11.4-11.8 20.9 10.5zM518.1 829.6l-21-10.3 11.4-11.8 21 10.3zM443.8 810.9l-21-10.1 11.4-11.9 21 10.1z"/>
<path fill="#0fd" stroke="#0fd" d="M1499.2 1019.7l-21-10 11.4-10.9 21 10zM1445.9 1010.5l-21-10.2 11.4-11 21 10.2zM1392.5 1001l-20.9-10.3 11.3-11.1 21 10.4zM1339.2 991.3l-21-10.5 11.4-11.1 21 10.5zM1179.2 961l-21-10.8 11.4-11.2 21 10.8zM1125.8 950.6l-20.9-10.9 11.3-11.2 21 10.8zM1072.5 940.2l-21-11 11.4-11.3 21 10.9zM1019.2 929.7l-21-11 11.4-11.3 20.9 10.9zM965.8 919.2l-21-10.9 11.4-11.4 21 10.9zM912.5 908.8l-21-11 11.4-11.4 21 10.9zM859.1 898.4l-20.9-10.9 11.3-11.5 21 10.9zM805.8 888.2l-21-10.9 11.4-11.5 21 10.8zM752.5 878.1l-21-10.8 11.4-11.6 20.9 10.8zM699.1 868.2l-21-10.7 11.4-11.7 21 10.7zM645.8 858.5l-21-10.6 11.4-11.7 21 10.6zM592.4 849.1l-20.9-10.5 11.3-11.7 21 10.5zM464.8 821l-21-10.1 11.4-11.9 21 10.1zM390.5 802.8l-21-9.9 11.4-11.9 20.9 9.8z"/>
<path fill="#00ffe1" stroke="#00ffe1" d="M1520.2 1029.7l-21-10 11.4-10.9 21 10zM1466.9 1020.7l-21-10.2 11.4-11 20.9 10.2zM1413.5 1011.3l-21-10.3 11.4-11 21 10.3zM1285.9 981.4l-21-10.7 11.4-11.1 20.9 10.6zM1232.5 971.2l-21-10.7 11.4-11.1 21 10.7zM986.8 930.2l-21-11 11.4-11.4 21 10.9zM933.5 919.7l-21-10.9 11.4-11.5 20.9 11zM880.1 909.3l-21-10.9 11.4-11.5 21 10.9zM826.8 899.1l-21-10.9 11.4-11.6 21 10.9zM773.4 888.9l-20.9-10.8 11.3-11.6 21 10.8zM720.1 879l-21-10.8 11.4-11.7 21 10.8zM666.8 869.2l-21-10.7 11.4-11.7 20.9 10.7zM613.4 859.7l-21-10.6 11.4-11.7 21 10.5zM539.1 840l-21-10.4 11.4-11.8 21 10.4zM485.8 831.2l-21-10.2 11.4-11.9 20.9 10.2zM411.4 812.7l-20.9-9.9 11.3-12 21 10z"/>
<path fill="#00ffe5" stroke="#00ffe5" d="M1541.2 1039.6l-21-9.9 11.4-10.9 21 9.9zM1487.8 1030.7l-20.9-10 11.3-11 21 10zM1360.2 1001.7l-21-10.4 11.4-11.1 21 10.5zM1306.8 991.9l-20.9-10.5 11.3-11.2 21 10.6zM1253.5 981.9l-21-10.7 11.4-11.1 21 10.6zM1200.2 971.7l-21-10.7 11.4-11.2 20.9 10.7zM1146.8 961.4l-21-10.8 11.4-11.3 21 10.9zM1093.5 951l-21-10.8 11.4-11.4 21 10.9zM1040.1 940.6l-20.9-10.9 11.3-11.4 21 10.9zM794.4 899.8l-21-10.9 11.4-11.6 21 10.9zM560.1 850.4l-21-10.4 11.4-11.8 21 10.4zM506.7 841.5l-20.9-10.3 11.3-11.9 21 10.3zM432.4 822.8l-21-10.1 11.4-11.9 21 10.1zM379.1 814.7l-21-9.8 11.4-12 21 9.9z"/>
<path fill="#00ffe9" stroke="#00ffe9" d="M1508.8 1040.7l-21-10 11.4-11 21 10zM1434.5 1021.5l-21-10.2 11.4-11 21 10.2zM1381.2 1012.1l-21-10.4 11.4-11 20.9 10.3zM1327.8 1002.4l-21-10.5 11.4-11.1 21 10.5zM1274.5 992.5l-21-10.6 11.4-11.2 21 10.7zM1221.1 982.4l-20.9-10.7 11.3-11.2 21 10.7zM1167.8 972.2l-21-10.8 11.4-11.2 21 10.8zM1114.5 961.9l-21-10.9 11.4-11.3 20.9 10.9zM1061.1 951.5l-21-10.9 11.4-11.4 21 11zM1007.8 941.1l-21-10.9 11.4-11.5 21 11zM954.4 930.7l-20.9-11 11.3-11.4 21 10.9zM901.1 920.3l-21-11 11.4-11.5 21 11zM847.8 910l-21-10.9 11.4-11.6 20.9 10.9zM741.1 889.8l-21-10.8 11.4-11.7 21 10.8zM687.7 879.9l-20.9-10.7 11.3-11.7 21 10.7zM634.4 870.3l-21-10.6 11.4-11.8 21 10.6zM581.1 860.9l-21-10.5 11.4-11.8 20.9 10.5zM527.7 851.9l-21-10.4 11.4-11.9 21 10.4zM453.4 832.9l-21-10.1 11.4-11.9 21 10.1z"/>
<path fill="#00ffed" stroke="#00ffed" d="M1529.8 1050.6l-21-9.9 11.4-11 21 9.9zM1455.5 1031.7l-21-10.2 11.4-11 21 10.2zM1402.1 1022.4l-20.9-10.3 11.3-11.1 21 10.3zM1348.8 1012.9l-21-10.5 11.4-11.1 21 10.4zM1295.5 1003.1l-21-10.6 11.4-11.1 20.9 10.5zM1242.1 993.1l-21-10.7 11.4-11.2 21 10.7zM1188.8 983l-21-10.8 11.4-11.2 21 10.7zM1135.4 972.7l-20.9-10.8 11.3-11.3 21 10.8zM1082.1 962.4l-21-10.9 11.4-11.3 21 10.8zM1028.8 952l-21-10.9 11.4-11.4 20.9 10.9zM975.4 941.6l-21-10.9 11.4-11.5 21 11zM922.1 931.2l-21-10.9 11.4-11.5 21 10.9zM868.7 920.9l-20.9-10.9 11.3-11.6 21 10.9zM815.4 910.7l-21-10.9 11.4-11.6 21 10.9zM762.1 900.6l-21-10.8 11.4-11.7 20.9 10.8zM708.7 890.7l-21-10.8 11.4-11.7 21 10.8zM655.4 881l-21-10.7 11.4-11.8 21 10.7zM602 871.5l-20.9-10.6 11.3-11.8 21 10.6zM474.4 843.1l-21-10.2 11.4-11.9 21 10.2zM400.1 824.7l-21-10 11.4-11.9 20.9 9.9z"/>
<path fill="#00fff1" stroke="#00fff1" d="M1476.5 1041.7l-21-10 11.4-11 20.9 10zM1423.1 1032.6l-21-10.2 11.4-11.1 21 10.2zM1369.8 1023.2l-21-10.3 11.4-11.2 21 10.4zM996.4 952.6l-21-11 11.4-11.4 21 10.9zM943.1 942.2l-21-11 11.4-11.5 20.9 11zM889.7 931.8l-21-10.9 11.4-11.6 21 11zM836.4 921.6l-21-10.9 11.4-11.6 21 10.9zM783 911.5l-20.9-10.9 11.3-11.7 21 10.9zM729.7 901.5l-21-10.8 11.4-11.7 21 10.8zM676.4 891.7l-21-10.7 11.4-11.8 20.9 10.7zM548.7 862.3l-21-10.4 11.4-11.9 21 10.4zM495.4 853.4l-21-10.3 11.4-11.9 20.9 10.3zM421 834.8l-20.9-10.1 11.3-12 21 10.1zM367.7 826.8l-21-9.9 11.4-12 21 9.8z"/>
<path fill="#00fff5" stroke="#00fff5" d="M1497.4 1051.7l-20.9-10 11.3-11 21 10zM1444.1 1042.8l-21-10.2 11.4-11.1 21 10.2zM1316.4 1013.6l-20.9-10.5 11.3-11.2 21 10.5zM1263.1 1003.7l-21-10.6 11.4-11.2 21 10.6zM1209.8 993.7l-21-10.7 11.4-11.3 20.9 10.7zM1156.4 983.5l-21-10.8 11.4-11.3 21 10.8zM1103.1 973.3l-21-10.9 11.4-11.4 21 10.9zM1049.7 962.9l-20.9-10.9 11.3-11.4 21 10.9zM623 882.1l-21-10.6 11.4-11.8 21 10.6zM569.7 872.8l-21-10.5 11.4-11.9 21 10.5zM516.3 863.8l-20.9-10.4 11.3-11.9 21 10.4zM442 844.9l-21-10.1 11.4-12 21 10.1zM388.7 836.7l-21-9.9 11.4-12.1 21 10z"/>
<path fill="#00fff9" stroke="#00fff9" d="M1518.4 1061.6l-21-9.9 11.4-11 21 9.9zM1465.1 1052.8l-21-10 11.4-11.1 21 10zM1390.8 1033.5l-21-10.3 11.4-11.1 20.9 10.3zM1337.4 1024l-21-10.4 11.4-11.2 21 10.5zM1284.1 1014.3l-21-10.6 11.4-11.2 21 10.6zM1230.7 1004.4l-20.9-10.7 11.3-11.3 21 10.7zM1177.4 994.3l-21-10.8 11.4-11.3 21 10.8zM1124.1 984.1l-21-10.8 11.4-11.4 20.9 10.8zM1070.7 973.8l-21-10.9 11.4-11.4 21 10.9zM1017.4 963.5l-21-10.9 11.4-11.5 21 10.9zM964 953.1l-20.9-10.9 11.3-11.5 21 10.9zM910.7 942.8l-21-11 11.4-11.5 21 10.9zM857.4 932.5l-21-10.9 11.4-11.6 20.9 10.9zM804 922.3l-21-10.8 11.4-11.7 21 10.9zM750.7 912.3l-21-10.8 11.4-11.7 21 10.8zM697.3 902.4l-20.9-10.7 11.3-11.8 21 10.8zM644 892.8l-21-10.7 11.4-11.8 21 10.7zM590.7 883.4l-21-10.6 11.4-11.9 20.9 10.6zM463 855.1l-21-10.2 11.4-12 21 10.2z"/>
<path fill="#00fffd" stroke="#00fffd" d="M1486.1 1062.8l-21-10 11.4-11.1 20.9 10zM1411.7 1043.7l-20.9-10.2 11.3-11.1 21 10.2zM1358.4 1034.4l-21-10.4 11.4-11.1 21 10.3zM1305.1 1024.8l-21-10.5 11.4-11.2 20.9 10.5zM1251.7 1015l-21-10.6 11.4-11.3 21 10.6zM1198.4 1005l-21-10.7 11.4-11.3 21 10.7zM1145 994.9l-20.9-10.8 11.3-11.4 21 10.8zM1091.7 984.7l-21-10.9 11.4-11.4 21 10.9zM1038.4 974.4l-21-10.9 11.4-11.5 20.9 10.9zM985 964.1l-21-11 11.4-11.5 21 11zM931.7 953.7l-21-10.9 11.4-11.6 21 11zM878.3 943.5l-20.9-11 11.3-11.6 21 10.9zM825 933.3l-21-11 11.4-11.6 21 10.9zM771.7 923.2l-21-10.9 11.4-11.7 20.9 10.9zM718.3 913.2l-21-10.8 11.4-11.7 21 10.8zM665 903.5l-21-10.7 11.4-11.8 21 10.7zM611.6 894l-20.9-10.6 11.3-11.9 21 10.6zM537.3 874.2l-21-10.4 11.4-11.9 21 10.4zM484 865.4l-21-10.3 11.4-12 21 10.3zM409.7 846.8l-21-10.1 11.4-12 20.9 10.1zM356.3 838.9l-21-9.9 11.4-12.1 21 9.9z"/>
<path fill="#00fdff" stroke="#00fdff" d="M1507 1072.7l-20.9-9.9 11.3-11.1 21 9.9zM1432.7 1053.9l-21-10.2 11.4-11.1 21 10.2zM1379.4 1044.7l-21-10.3 11.4-11.2 21 10.3zM1326 1035.2l-20.9-10.4 11.3-11.2 21 10.4zM899.3 954.4l-21-10.9 11.4-11.7 21 11zM846 944.2l-21-10.9 11.4-11.7 21 10.9zM792.6 934.1l-20.9-10.9 11.3-11.7 21 10.8zM739.3 924.1l-21-10.9 11.4-11.7 21 10.8zM558.3 884.7l-21-10.5 11.4-11.9 21 10.5zM505 875.8l-21-10.4 11.4-12 20.9 10.4zM430.6 856.9l-20.9-10.1 11.3-12 21 10.1zM377.3 848.8l-21-9.9 11.4-12.1 21 9.9z"/>
<path fill="#00f9ff" stroke="#00f9ff" d="M1453.7 1063.9l-21-10 11.4-11.1 21 10zM1400.4 1054.9l-21-10.2 11.4-11.2 20.9 10.2zM1272.7 1025.6l-21-10.6 11.4-11.3 21 10.6zM1219.4 1015.7l-21-10.7 11.4-11.3 20.9 10.7zM1166 1005.7l-21-10.8 11.4-11.4 21 10.8zM1112.7 995.5l-21-10.8 11.4-11.4 21 10.8zM1059.3 985.3l-20.9-10.9 11.3-11.5 21 10.9zM1006 975l-21-10.9 11.4-11.5 21 10.9zM952.7 964.7l-21-11 11.4-11.5 20.9 10.9zM686 914.3l-21-10.8 11.4-11.8 20.9 10.7zM632.6 904.7l-21-10.7 11.4-11.9 21 10.7zM579.3 895.3l-21-10.6 11.4-11.9 21 10.6zM525.9 886.2l-20.9-10.4 11.3-12 21 10.4zM451.6 867.1l-21-10.2 11.4-12 21 10.2zM398.3 858.9l-21-10.1 11.4-12.1 21 10.1z"/>
<path fill="#00f5ff" stroke="#00f5ff" d="M1474.7 1073.9l-21-10 11.4-11.1 21 10zM1421.3 1065l-20.9-10.1 11.3-11.2 21 10.2zM1347 1045.6l-21-10.4 11.4-11.2 21 10.4zM1293.7 1036.1l-21-10.5 11.4-11.3 21 10.5zM1240.3 1026.3l-20.9-10.6 11.3-11.3 21 10.6zM1187 1016.4l-21-10.7 11.4-11.4 21 10.7zM1133.7 1006.3l-21-10.8 11.4-11.4 20.9 10.8zM1080.3 996.1l-21-10.8 11.4-11.5 21 10.9zM1027 985.9l-21-10.9 11.4-11.5 21 10.9zM973.6 975.6l-20.9-10.9 11.3-11.6 21 11zM920.3 965.3l-21-10.9 11.4-11.6 21 10.9zM867 955.1l-21-10.9 11.4-11.7 20.9 11zM813.6 945l-21-10.9 11.4-11.8 21 11zM760.3 934.9l-21-10.8 11.4-11.8 21 10.9zM706.9 925.1l-20.9-10.8 11.3-11.9 21 10.8zM653.6 915.4l-21-10.7 11.4-11.9 21 10.7zM600.3 905.9l-21-10.6 11.4-11.9 20.9 10.6zM472.6 877.4l-21-10.3 11.4-12 21 10.3zM344.9 851l-20.9-9.9 11.3-12.1 21 9.9z"/>
<path fill="#00f1ff" stroke="#00f1ff" d="M1495.7 1083.8l-21-9.9 11.4-11.1 20.9 9.9zM1368 1055.9l-21-10.3 11.4-11.2 21 10.3zM1314.7 1046.5l-21-10.4 11.4-11.3 20.9 10.4zM1261.3 1036.9l-21-10.6 11.4-11.3 21 10.6zM1208 1027l-21-10.6 11.4-11.4 21 10.7zM1154.6 1017.1l-20.9-10.8 11.3-11.4 21 10.8zM1101.3 1007l-21-10.9 11.4-11.4 21 10.8zM1048 996.8l-21-10.9 11.4-11.5 20.9 10.9zM994.6 986.5l-21-10.9 11.4-11.5 21 10.9zM941.3 976.3l-21-11 11.4-11.6 21 11zM887.9 966.1l-20.9-11 11.3-11.6 21 10.9zM834.6 955.9l-21-10.9 11.4-11.7 21 10.9zM781.3 945.8l-21-10.9 11.4-11.7 20.9 10.9zM727.9 935.9l-21-10.8 11.4-11.9 21 10.9zM674.6 926.1l-21-10.7 11.4-11.9 21 10.8zM546.9 896.7l-21-10.5 11.4-12 21 10.5zM493.6 887.8l-21-10.4 11.4-12 21 10.4zM419.3 869l-21-10.1 11.4-12.1 20.9 10.1zM365.9 861l-21-10 11.4-12.1 21 9.9z"/>
<path fill="#0ef" stroke="#0ef" d="M1442.3 1075.1l-21-10.1 11.4-11.1 21 10zM1389 1066.1l-21-10.2 11.4-11.2 21 10.2zM1335.6 1056.9l-20.9-10.4 11.3-11.3 21 10.4zM621.2 916.6l-20.9-10.7 11.3-11.9 21 10.7zM567.9 907.3l-21-10.6 11.4-12 21 10.6zM514.6 898.2l-21-10.4 11.4-12 20.9 10.4zM440.2 879.2l-20.9-10.2 11.3-12.1 21 10.2zM386.9 871l-21-10 11.4-12.2 21 10.1z"/>
<path fill="#00eaff" stroke="#00eaff" d="M1463.3 1085.1l-21-10 11.4-11.2 21 10zM1410 1076.3l-21-10.2 11.4-11.2 20.9 10.1zM1356.6 1067.2l-21-10.3 11.4-11.3 21 10.3zM1282.3 1047.4l-21-10.5 11.4-11.3 21 10.5zM1229 1037.7l-21-10.7 11.4-11.3 20.9 10.6zM1175.6 1027.8l-21-10.7 11.4-11.4 21 10.7zM1122.3 1017.8l-21-10.8 11.4-11.5 21 10.8zM1068.9 1007.6l-20.9-10.8 11.3-11.5 21 10.8zM1015.6 997.5l-21-11 11.4-11.5 21 10.9zM962.3 987.2l-21-10.9 11.4-11.6 20.9 10.9zM908.9 977l-21-10.9 11.4-11.7 21 10.9zM855.6 966.8l-21-10.9 11.4-11.7 21 10.9zM802.2 956.7l-20.9-10.9 11.3-11.7 21 10.9zM748.9 946.8l-21-10.9 11.4-11.8 21 10.8zM695.6 936.9l-21-10.8 11.4-11.8 20.9 10.8zM642.2 927.3l-21-10.7 11.4-11.9 21 10.7zM588.9 917.9l-21-10.6 11.4-12 21 10.6zM461.2 889.5l-21-10.3 11.4-12.1 21 10.3zM333.6 863.2l-21-9.9 11.4-12.2 20.9 9.9z"/>
<path fill="#00e6ff" stroke="#00e6ff" d="M1484.3 1094.9l-21-9.8 11.4-11.2 21 9.9zM1430.9 1086.3l-20.9-10 11.3-11.3 21 10.1zM1303.3 1057.8l-21-10.4 11.4-11.3 21 10.4zM1249.9 1048.2l-20.9-10.5 11.3-11.4 21 10.6zM1196.6 1038.5l-21-10.7 11.4-11.4 21 10.6zM1143.3 1028.5l-21-10.7 11.4-11.5 20.9 10.8zM1089.9 1018.5l-21-10.9 11.4-11.5 21 10.9zM1036.6 1008.3l-21-10.8 11.4-11.6 21 10.9zM983.2 998.2l-20.9-11 11.3-11.6 21 10.9zM929.9 988l-21-11 11.4-11.7 21 11zM876.6 977.8l-21-11 11.4-11.7 20.9 11zM823.2 967.7l-21-11 11.4-11.7 21 10.9zM769.9 957.6l-21-10.8 11.4-11.9 21 10.9zM716.5 947.8l-20.9-10.9 11.3-11.8 21 10.8zM663.2 938.1l-21-10.8 11.4-11.9 21 10.7zM535.5 908.7l-20.9-10.5 11.3-12 21 10.5zM482.2 899.9l-21-10.4 11.4-12.1 21 10.4zM407.9 881.2l-21-10.2 11.4-12.1 21 10.1zM354.5 873.2l-20.9-10 11.3-12.2 21 10z"/>
<path fill="#00e2ff" stroke="#00e2ff" d="M1451.9 1096.3l-21-10 11.4-11.2 21 10zM1377.6 1077.4l-21-10.2 11.4-11.3 21 10.2zM1324.3 1068.2l-21-10.4 11.4-11.3 20.9 10.4zM1270.9 1058.7l-21-10.5 11.4-11.3 21 10.5zM1217.6 1049.1l-21-10.6 11.4-11.5 21 10.7zM1164.2 1039.2l-20.9-10.7 11.3-11.4 21 10.7zM950.9 998.9l-21-10.9 11.4-11.7 21 10.9zM897.5 988.7l-20.9-10.9 11.3-11.7 21 10.9zM844.2 978.6l-21-10.9 11.4-11.8 21 10.9zM790.9 968.6l-21-11 11.4-11.8 20.9 10.9zM609.9 928.6l-21-10.7 11.4-12 20.9 10.7zM556.5 919.3l-21-10.6 11.4-12 21 10.6zM503.2 910.3l-21-10.4 11.4-12.1 21 10.4zM428.9 891.4l-21-10.2 11.4-12.2 20.9 10.2zM375.5 883.2l-21-10 11.4-12.2 21 10z"/>
<path fill="#00deff" stroke="#00deff" d="M1472.9 1106.1l-21-9.8 11.4-11.2 21 9.8zM1398.6 1087.5l-21-10.1 11.4-11.3 21 10.2zM1345.2 1078.5l-20.9-10.3 11.3-11.3 21 10.3zM1291.9 1069.2l-21-10.5 11.4-11.3 21 10.4zM1110.9 1029.3l-21-10.8 11.4-11.5 21 10.8zM1057.6 1019.2l-21-10.9 11.4-11.5 20.9 10.8zM1004.2 1009.1l-21-10.9 11.4-11.7 21 11zM737.5 958.6l-21-10.8 11.4-11.9 21 10.9zM684.2 948.9l-21-10.8 11.4-12 21 10.8zM630.8 939.3l-20.9-10.7 11.3-12 21 10.7zM577.5 929.9l-21-10.6 11.4-12 21 10.6zM449.8 901.7l-20.9-10.3 11.3-12.2 21 10.3zM396.5 893.3l-21-10.1 11.4-12.2 21 10.2zM322.2 875.4l-21-9.8 11.4-12.3 21 9.9z"/>
<path fill="#00daff" stroke="#00daff" d="M1419.6 1097.6l-21-10.1 11.4-11.2 20.9 10zM1366.2 1088.7l-21-10.2 11.4-11.3 21 10.2zM1238.6 1059.6l-21-10.5 11.4-11.4 20.9 10.5zM1185.2 1049.9l-21-10.7 11.4-11.4 21 10.7zM1131.9 1040l-21-10.7 11.4-11.5 21 10.7zM1078.5 1030l-20.9-10.8 11.3-11.6 21 10.9zM1025.2 1020l-21-10.9 11.4-11.6 21 10.8zM971.9 1009.8l-21-10.9 11.4-11.7 20.9 11zM918.5 999.7l-21-11 11.4-11.7 21 11zM865.2 989.5l-21-10.9 11.4-11.8 21 11zM811.8 979.5l-20.9-10.9 11.3-11.9 21 11zM758.5 969.5l-21-10.9 11.4-11.8 21 10.8zM705.2 959.7l-21-10.8 11.4-12 20.9 10.9zM651.8 950l-21-10.7 11.4-12 21 10.8zM598.5 940.6l-21-10.7 11.4-12 21 10.7zM524.2 920.8l-21-10.5 11.4-12.1 20.9 10.5zM470.8 912l-21-10.3 11.4-12.2 21 10.4zM343.2 885.4l-21-10 11.4-12.2 20.9 10z"/>
<path fill="#00d6ff" stroke="#00d6ff" d="M1440.5 1107.5l-20.9-9.9 11.3-11.3 21 10zM1387.2 1098.8l-21-10.1 11.4-11.3 21 10.1zM1312.9 1079.5l-21-10.3 11.4-11.4 21 10.4zM1259.5 1070.1l-20.9-10.5 11.3-11.4 21 10.5zM1206.2 1060.5l-21-10.6 11.4-11.4 21 10.6zM1152.9 1050.8l-21-10.8 11.4-11.5 20.9 10.7zM1099.5 1040.8l-21-10.8 11.4-11.5 21 10.8zM1046.2 1030.8l-21-10.8 11.4-11.7 21 10.9zM992.8 1020.7l-20.9-10.9 11.3-11.6 21 10.9zM939.5 1010.6l-21-10.9 11.4-11.7 21 10.9zM886.2 1000.5l-21-11 11.4-11.7 20.9 10.9zM832.8 990.4l-21-10.9 11.4-11.8 21 10.9zM779.5 980.4l-21-10.9 11.4-11.9 21 11zM726.1 970.6l-20.9-10.9 11.3-11.9 21 10.8zM545.1 931.4l-20.9-10.6 11.3-12.1 21 10.6zM491.8 922.5l-21-10.5 11.4-12.1 21 10.4zM417.5 903.6l-21-10.3 11.4-12.1 21 10.2zM364.1 895.5l-20.9-10.1 11.3-12.2 21 10z"/>
<path fill="#00d2ff" stroke="#00d2ff" d="M1461.5 1117.4l-21-9.9 11.4-11.2 21 9.8zM1408.2 1108.9l-21-10.1 11.4-11.3 21 10.1zM1333.9 1089.8l-21-10.3 11.4-11.3 20.9 10.3zM1280.5 1080.6l-21-10.5 11.4-11.4 21 10.5zM1227.2 1071.1l-21-10.6 11.4-11.4 21 10.5zM1173.8 1061.4l-20.9-10.6 11.3-11.6 21 10.7zM672.8 960.8l-21-10.8 11.4-11.9 21 10.8zM619.5 951.3l-21-10.7 11.4-12 20.9 10.7zM566.1 942l-21-10.6 11.4-12.1 21 10.6zM512.8 933l-21-10.5 11.4-12.2 21 10.5zM438.5 913.9l-21-10.3 11.4-12.2 20.9 10.3zM385.1 905.6l-21-10.1 11.4-12.3 21 10.1zM310.8 887.7l-21-9.8 11.4-12.3 21 9.8z"/>
<path fill="#00ceff" stroke="#00ceff" d="M1429.2 1118.8l-21-9.9 11.4-11.3 20.9 9.9zM1354.8 1100l-20.9-10.2 11.3-11.3 21 10.2zM1301.5 1090.9l-21-10.3 11.4-11.4 21 10.3zM1120.5 1051.6l-21-10.8 11.4-11.5 21 10.7zM1067.2 1041.7l-21-10.9 11.4-11.6 20.9 10.8zM1013.8 1031.6l-21-10.9 11.4-11.6 21 10.9zM960.5 1021.5l-21-10.9 11.4-11.7 21 10.9zM907.1 1011.4l-20.9-10.9 11.3-11.8 21 11zM853.8 1001.4l-21-11 11.4-11.8 21 10.9zM800.5 991.4l-21-11 11.4-11.8 20.9 10.9zM747.1 981.4l-21-10.8 11.4-12 21 10.9zM693.8 971.7l-21-10.9 11.4-11.9 21 10.8zM640.4 962.1l-20.9-10.8 11.3-12 21 10.7zM587.1 952.7l-21-10.7 11.4-12.1 21 10.7zM459.4 924.2l-20.9-10.3 11.3-12.2 21 10.3zM331.8 897.7l-21-10 11.4-12.3 21 10z"/>
<path fill="#00cbff" stroke="#00cbff" d="M1450.1 1128.7l-20.9-9.9 11.3-11.3 21 9.9zM1375.8 1110.2l-21-10.2 11.4-11.3 21 10.1zM1322.5 1101.2l-21-10.3 11.4-11.4 21 10.3zM1248.2 1081.6l-21-10.5 11.4-11.5 20.9 10.5zM1194.8 1072l-21-10.6 11.4-11.5 21 10.6zM1141.5 1062.3l-21-10.7 11.4-11.6 21 10.8zM1088.1 1052.4l-20.9-10.7 11.3-11.7 21 10.8zM1034.8 1042.5l-21-10.9 11.4-11.6 21 10.8zM981.5 1032.4l-21-10.9 11.4-11.7 20.9 10.9zM928.1 1022.4l-21-11 11.4-11.7 21 10.9zM874.8 1012.3l-21-10.9 11.4-11.9 21 11zM821.4 1002.3l-20.9-10.9 11.3-11.9 21 10.9zM768.1 992.3l-21-10.9 11.4-11.9 21 10.9zM714.8 982.5l-21-10.8 11.4-12 20.9 10.9zM661.4 972.9l-21-10.8 11.4-12.1 21 10.8zM533.8 943.5l-21-10.5 11.4-12.2 20.9 10.6zM480.4 934.7l-21-10.5 11.4-12.2 21 10.5zM406.1 915.8l-21-10.2 11.4-12.3 21 10.3zM352.8 907.8l-21-10.1 11.4-12.3 20.9 10.1z"/>
<path fill="#00c7ff" stroke="#00c7ff" d="M1396.8 1120.2l-21-10 11.4-11.4 21 10.1zM1269.1 1092l-20.9-10.4 11.3-11.5 21 10.5zM1215.8 1082.6l-21-10.6 11.4-11.5 21 10.6zM1162.5 1073l-21-10.7 11.4-11.5 20.9 10.6zM1109.1 1063.2l-21-10.8 11.4-11.6 21 10.8zM1055.8 1053.3l-21-10.8 11.4-11.7 21 10.9zM1002.4 1043.3l-20.9-10.9 11.3-11.7 21 10.9zM949.1 1033.3l-21-10.9 11.4-11.8 21 10.9zM608.1 963.4l-21-10.7 11.4-12.1 21 10.7zM554.7 954.1l-20.9-10.6 11.3-12.1 21 10.6zM501.4 945.2l-21-10.5 11.4-12.2 21 10.5zM427.1 926.1l-21-10.3 11.4-12.2 21 10.3zM299.4 900.1l-21-9.9 11.4-12.3 21 9.8z"/>
<path fill="#00c3ff" stroke="#00c3ff" d="M1417.8 1130.2l-21-10 11.4-11.3 21 9.9zM1343.5 1111.5l-21-10.3 11.4-11.4 20.9 10.2zM1290.1 1102.4l-21-10.4 11.4-11.4 21 10.3zM1236.8 1093.1l-21-10.5 11.4-11.5 21 10.5zM895.8 1023.3l-21-11 11.4-11.8 20.9 10.9zM842.4 1013.2l-21-10.9 11.4-11.9 21 11zM789.1 1003.3l-21-11 11.4-11.9 21 11zM735.7 993.4l-20.9-10.9 11.3-11.9 21 10.8zM682.4 983.7l-21-10.8 11.4-12.1 21 10.9zM629.1 974.2l-21-10.8 11.4-12.1 20.9 10.8zM575.7 964.8l-21-10.7 11.4-12.1 21 10.7zM448.1 936.5l-21-10.4 11.4-12.2 20.9 10.3zM373.7 917.9l-20.9-10.1 11.3-12.3 21 10.1zM320.4 910.1l-21-10 11.4-12.4 21 10z"/>
<path fill="#00bfff" stroke="#00bfff" d="M1438.8 1140.1l-21-9.9 11.4-11.4 20.9 9.9zM1364.4 1121.6l-20.9-10.1 11.3-11.5 21 10.2zM1311.1 1112.7l-21-10.3 11.4-11.5 21 10.3zM1183.4 1083.6l-20.9-10.6 11.3-11.6 21 10.6zM1130.1 1073.9l-21-10.7 11.4-11.6 21 10.7zM1076.8 1064.1l-21-10.8 11.4-11.6 20.9 10.7zM1023.4 1054.2l-21-10.9 11.4-11.7 21 10.9zM970.1 1044.2l-21-10.9 11.4-11.8 21 10.9zM916.7 1034.2l-20.9-10.9 11.3-11.9 21 11zM863.4 1024.2l-21-11 11.4-11.8 21 10.9zM810.1 1014.2l-21-10.9 11.4-11.9 20.9 10.9zM756.7 1004.3l-21-10.9 11.4-12 21 10.9zM703.4 994.6l-21-10.9 11.4-12 21 10.8zM650 985l-20.9-10.8 11.3-12.1 21 10.8zM522.4 955.7l-21-10.5 11.4-12.2 21 10.5zM469 946.9l-20.9-10.4 11.3-12.3 21 10.5zM394.7 928.1l-21-10.2 11.4-12.3 21 10.2zM341.4 920.1l-21-10 11.4-12.4 21 10.1z"/>
<path fill="#0bf" stroke="#0bf" d="M1385.4 1131.6l-21-10 11.4-11.4 21 10zM1332.1 1122.9l-21-10.2 11.4-11.5 21 10.3zM1257.8 1103.5l-21-10.4 11.4-11.5 20.9 10.4zM1204.4 1094.2l-21-10.6 11.4-11.6 21 10.6zM1151.1 1084.6l-21-10.7 11.4-11.6 21 10.7zM1097.7 1074.9l-20.9-10.8 11.3-11.7 21 10.8zM1044.4 1065l-21-10.8 11.4-11.7 21 10.8zM991.1 1055.1l-21-10.9 11.4-11.8 20.9 10.9zM937.7 1045.1l-21-10.9 11.4-11.8 21 10.9zM884.4 1035.1l-21-10.9 11.4-11.9 21 11zM831 1025.2l-20.9-11 11.3-11.9 21 10.9zM596.7 975.5l-21-10.7 11.4-12.1 21 10.7zM543.4 966.3l-21-10.6 11.4-12.2 20.9 10.6zM490 957.4l-21-10.5 11.4-12.2 21 10.5zM415.7 938.4l-21-10.3 11.4-12.3 21 10.3zM288 912.5l-20.9-9.8 11.3-12.5 21 9.9z"/>
<path fill="#00b7ff" stroke="#00b7ff" d="M1406.4 1141.6l-21-10 11.4-11.4 21 10zM1353.1 1133l-21-10.1 11.4-11.4 20.9 10.1zM1278.7 1113.9l-20.9-10.4 11.3-11.5 21 10.4zM1225.4 1104.7l-21-10.5 11.4-11.6 21 10.5zM1172.1 1095.2l-21-10.6 11.4-11.6 20.9 10.6zM1118.7 1085.6l-21-10.7 11.4-11.7 21 10.7zM777.7 1015.3l-21-11 11.4-12 21 11zM724.4 1005.5l-21-10.9 11.4-12.1 20.9 10.9zM671 995.8l-21-10.8 11.4-12.1 21 10.8zM617.7 986.3l-21-10.8 11.4-12.1 21 10.8zM564.3 977l-20.9-10.7 11.3-12.2 21 10.7zM436.7 948.8l-21-10.4 11.4-12.3 21 10.4zM362.4 930.3l-21-10.2 11.4-12.3 20.9 10.1zM309 922.5l-21-10 11.4-12.4 21 10z"/>
<path fill="#00b3ff" stroke="#00b3ff" d="M1427.4 1151.5l-21-9.9 11.4-11.4 21 9.9zM1374 1143.1l-20.9-10.1 11.3-11.4 21 10zM1299.7 1124.2l-21-10.3 11.4-11.5 21 10.3zM1246.4 1115.1l-21-10.4 11.4-11.6 21 10.4zM1065.4 1075.8l-21-10.8 11.4-11.7 21 10.8zM1012 1066l-20.9-10.9 11.3-11.8 21 10.9zM958.7 1056l-21-10.9 11.4-11.8 21 10.9zM905.4 1046.1l-21-11 11.4-11.8 20.9 10.9zM852 1036.1l-21-10.9 11.4-12 21 11zM798.7 1026.2l-21-10.9 11.4-12 21 10.9zM745.3 1016.4l-20.9-10.9 11.3-12.1 21 10.9zM692 1006.6l-21-10.8 11.4-12.1 21 10.9zM638.7 997.1l-21-10.8 11.4-12.1 20.9 10.8zM511 968l-21-10.6 11.4-12.2 21 10.5zM457.7 959.2l-21-10.4 11.4-12.3 20.9 10.4zM383.3 940.5l-20.9-10.2 11.3-12.4 21 10.2zM330 932.6l-21-10.1 11.4-12.4 21 10z"/>
<path fill="#00abff" stroke="#00abff" d="M1395 1153.1l-21-10 11.4-11.5 21 10zM1341.7 1144.6l-21-10.2 11.4-11.5 21 10.1zM1214 1116.3l-21-10.5 11.4-11.6 21 10.5zM1160.7 1106.9l-21-10.6 11.4-11.7 21 10.6zM1107.3 1097.3l-20.9-10.7 11.3-11.7 21 10.7zM1054 1087.6l-21-10.8 11.4-11.8 21 10.8zM713 1017.5l-21-10.9 11.4-12 21 10.9zM659.6 1007.9l-20.9-10.8 11.3-12.1 21 10.8zM606.3 998.5l-21-10.8 11.4-12.2 21 10.8zM553 989.3l-21-10.7 11.4-12.3 20.9 10.7zM425.3 961.2l-21-10.4 11.4-12.4 21 10.4zM351 942.7l-21-10.1 11.4-12.5 21 10.2zM297.6 935l-20.9-10 11.3-12.5 21 10z"/>
<path fill="#00a7ff" stroke="#00a7ff" d="M1416 1162.9l-21-9.8 11.4-11.5 21 9.9zM1362.7 1154.6l-21-10 11.4-11.6 20.9 10.1zM1288.3 1135.8l-20.9-10.3 11.3-11.6 21 10.3zM1235 1126.7l-21-10.4 11.4-11.6 21 10.4zM1181.7 1117.4l-21-10.5 11.4-11.7 20.9 10.6zM1000.7 1077.8l-21-10.9 11.4-11.8 20.9 10.9zM947.3 1067.9l-21-10.9 11.4-11.9 21 10.9zM894 1058l-21-11 11.4-11.9 21 11zM840.6 1048.1l-20.9-11 11.3-11.9 21 10.9zM787.3 1038.2l-21-10.9 11.4-12 21 10.9zM734 1028.4l-21-10.9 11.4-12 20.9 10.9zM680.6 1018.8l-21-10.9 11.4-12.1 21 10.8zM627.3 1009.3l-21-10.8 11.4-12.2 21 10.8zM499.6 980.3l-21-10.6 11.4-12.3 21 10.6zM446.3 971.6l-21-10.4 11.4-12.4 21 10.4zM372 952.9l-21-10.2 11.4-12.4 20.9 10.2z"/>
<path fill="#00afff" stroke="#00afff" d="M1320.7 1134.4l-21-10.2 11.4-11.5 21 10.2zM1267.4 1125.5l-21-10.4 11.4-11.6 20.9 10.4zM1193 1105.8l-20.9-10.6 11.3-11.6 21 10.6zM1139.7 1096.3l-21-10.7 11.4-11.7 21 10.7zM1086.4 1086.6l-21-10.8 11.4-11.7 20.9 10.8zM1033 1076.8l-21-10.8 11.4-11.8 21 10.8zM979.7 1066.9l-21-10.9 11.4-11.8 21 10.9zM926.3 1057l-20.9-10.9 11.3-11.9 21 10.9zM873 1047l-21-10.9 11.4-11.9 21 10.9zM819.7 1037.1l-21-10.9 11.4-12 20.9 11zM766.3 1027.3l-21-10.9 11.4-12.1 21 11zM585.3 987.7l-21-10.7 11.4-12.2 21 10.7zM532 978.6l-21-10.6 11.4-12.3 21 10.6zM478.6 969.7l-20.9-10.5 11.3-12.3 21 10.5zM404.3 950.8l-21-10.3 11.4-12.4 21 10.3zM276.7 925l-21-9.9 11.4-12.4 20.9 9.8z"/>
<path fill="#00a3ff" stroke="#00a3ff" d="M1383.6 1164.6l-20.9-10 11.3-11.5 21 10zM1309.3 1146l-21-10.2 11.4-11.6 21 10.2zM1256 1137.1l-21-10.4 11.4-11.6 21 10.4zM1128.3 1108l-21-10.7 11.4-11.7 21 10.7zM1075 1098.4l-21-10.8 11.4-11.8 21 10.8zM1021.6 1088.6l-20.9-10.8 11.3-11.8 21 10.8zM968.3 1078.8l-21-10.9 11.4-11.9 21 10.9zM915 1068.9l-21-10.9 11.4-11.9 20.9 10.9zM861.6 1059l-21-10.9 11.4-12 21 10.9zM808.3 1049.2l-21-11 11.4-12 21 10.9zM754.9 1039.4l-20.9-11 11.3-12 21 10.9zM573.9 1000l-20.9-10.7 11.3-12.3 21 10.7zM520.6 990.9l-21-10.6 11.4-12.3 21 10.6zM392.9 963.2l-20.9-10.3 11.3-12.4 21 10.3zM318.6 945l-21-10 11.4-12.5 21 10.1z"/>
<path fill="#009fff" stroke="#009fff" d="M1404.6 1174.5l-21-9.9 11.4-11.5 21 9.8zM1330.3 1156.1l-21-10.1 11.4-11.6 21 10.2zM1277 1147.4l-21-10.3 11.4-11.6 20.9 10.3zM1202.6 1127.9l-20.9-10.5 11.3-11.6 21 10.5zM1149.3 1118.6l-21-10.6 11.4-11.7 21 10.6zM1096 1109.1l-21-10.7 11.4-11.8 20.9 10.7zM1042.6 1099.4l-21-10.8 11.4-11.8 21 10.8zM989.3 1089.6l-21-10.8 11.4-11.9 21 10.9zM935.9 1079.8l-20.9-10.9 11.3-11.9 21 10.9zM701.6 1029.7l-21-10.9 11.4-12.2 21 10.9zM648.3 1020.1l-21-10.8 11.4-12.2 20.9 10.8zM594.9 1010.7l-21-10.7 11.4-12.3 21 10.8zM541.6 1001.6l-21-10.7 11.4-12.3 21 10.7zM467.3 982.1l-21-10.5 11.4-12.4 20.9 10.5zM413.9 973.6l-21-10.4 11.4-12.4 21 10.4zM339.6 955.2l-21-10.2 11.4-12.4 21 10.1zM265.3 937.5l-21-9.8 11.4-12.6 21 9.9z"/>
<path fill="#009bff" stroke="#009bff" d="M1351.3 1166.2l-21-10.1 11.4-11.5 21 10zM1223.6 1138.4l-21-10.5 11.4-11.6 21 10.4zM1170.3 1129.1l-21-10.5 11.4-11.7 21 10.5zM1116.9 1119.7l-20.9-10.6 11.3-11.8 21 10.7zM882.6 1070l-21-11 11.4-12 21 11zM829.3 1060.1l-21-10.9 11.4-12.1 20.9 11zM775.9 1050.3l-21-10.9 11.4-12.1 21 10.9zM722.6 1040.6l-21-10.9 11.4-12.2 21 10.9zM669.2 1031l-20.9-10.9 11.3-12.2 21 10.9zM615.9 1021.5l-21-10.8 11.4-12.2 21 10.8zM488.2 992.7l-20.9-10.6 11.3-12.4 21 10.6zM434.9 984l-21-10.4 11.4-12.4 21 10.4zM360.6 965.4l-21-10.2 11.4-12.5 21 10.2zM286.3 947.5l-21-10 11.4-12.5 20.9 10z"/>
<path fill="#0097ff" stroke="#0097ff" d="M1372.3 1176.1l-21-9.9 11.4-11.6 20.9 10zM1297.9 1157.6l-20.9-10.2 11.3-11.6 21 10.2zM1244.6 1148.7l-21-10.3 11.4-11.7 21 10.4zM1191.3 1139.6l-21-10.5 11.4-11.7 20.9 10.5zM1063.6 1110.2l-21-10.8 11.4-11.8 21 10.8zM1010.3 1100.5l-21-10.9 11.4-11.8 20.9 10.8zM956.9 1090.7l-21-10.9 11.4-11.9 21 10.9zM903.6 1080.9l-21-10.9 11.4-12 21 10.9zM850.2 1071.1l-20.9-11 11.3-12 21 10.9zM796.9 1061.3l-21-11 11.4-12.1 21 11zM743.6 1051.5l-21-10.9 11.4-12.2 20.9 11zM690.2 1041.9l-21-10.9 11.4-12.2 21 10.9zM562.6 1012.3l-21-10.7 11.4-12.3 20.9 10.7zM509.2 1003.3l-21-10.6 11.4-12.4 21 10.6zM381.6 975.7l-21-10.3 11.4-12.5 20.9 10.3zM307.2 957.6l-20.9-10.1 11.3-12.5 21 10z"/>
<path fill="#0093ff" stroke="#0093ff" d="M1393.2 1186l-20.9-9.9 11.3-11.5 21 9.9zM1318.9 1167.7l-21-10.1 11.4-11.6 21 10.1zM1265.6 1159l-21-10.3 11.4-11.6 21 10.3zM1137.9 1130.4l-21-10.7 11.4-11.7 21 10.6zM1084.6 1120.9l-21-10.7 11.4-11.8 21 10.7zM1031.2 1111.3l-20.9-10.8 11.3-11.9 21 10.8zM977.9 1101.6l-21-10.9 11.4-11.9 21 10.8zM924.6 1091.8l-21-10.9 11.4-12 20.9 10.9zM871.2 1082l-21-10.9 11.4-12.1 21 11zM636.9 1032.4l-21-10.9 11.4-12.2 21 10.8zM583.5 1023.1l-20.9-10.8 11.3-12.3 21 10.7zM530.2 1013.9l-21-10.6 11.4-12.4 21 10.7zM455.9 994.5l-21-10.5 11.4-12.4 21 10.5zM402.5 986.1l-20.9-10.4 11.3-12.5 21 10.4zM328.2 967.7l-21-10.1 11.4-12.6 21 10.2zM253.9 950.1l-21-9.8 11.4-12.6 21 9.8z"/>
<path fill="#008fff" stroke="#008fff" d="M1339.9 1177.8l-21-10.1 11.4-11.6 21 10.1zM1286.6 1169.3l-21-10.3 11.4-11.6 20.9 10.2zM1212.2 1150.1l-20.9-10.5 11.3-11.7 21 10.5zM1158.9 1140.9l-21-10.5 11.4-11.8 21 10.5zM1105.6 1131.6l-21-10.7 11.4-11.8 20.9 10.6zM1052.2 1122l-21-10.7 11.4-11.9 21 10.8zM817.9 1072.2l-21-10.9 11.4-12.1 21 10.9zM764.5 1062.5l-20.9-11 11.3-12.1 21 10.9zM711.2 1052.8l-21-10.9 11.4-12.2 21 10.9zM657.9 1043.2l-21-10.8 11.4-12.3 20.9 10.9zM604.5 1033.8l-21-10.7 11.4-12.4 21 10.8zM476.9 1005.1l-21-10.6 11.4-12.4 20.9 10.6zM423.5 996.5l-21-10.4 11.4-12.5 21 10.4zM349.2 977.9l-21-10.2 11.4-12.5 21 10.2zM274.9 960.1l-21-10 11.4-12.6 21 10z"/>
<path fill="#008bff" stroke="#008bff" d="M1360.9 1187.8l-21-10 11.4-11.6 21 9.9zM1307.5 1179.4l-20.9-10.1 11.3-11.7 21 10.1zM1233.2 1160.5l-21-10.4 11.4-11.7 21 10.3zM1179.9 1151.4l-21-10.5 11.4-11.8 21 10.5zM1126.5 1142.2l-20.9-10.6 11.3-11.9 21 10.7zM998.9 1112.4l-21-10.8 11.4-12 21 10.9zM945.5 1102.7l-20.9-10.9 11.3-12 21 10.9zM892.2 1092.9l-21-10.9 11.4-12 21 10.9zM838.9 1083.1l-21-10.9 11.4-12.1 20.9 11zM785.5 1073.4l-21-10.9 11.4-12.2 21 11zM732.2 1063.7l-21-10.9 11.4-12.2 21 10.9zM678.8 1054.1l-20.9-10.9 11.3-12.2 21 10.9zM551.2 1024.7l-21-10.8 11.4-12.3 21 10.7zM497.8 1015.7l-20.9-10.6 11.3-12.4 21 10.6zM370.2 988.2l-21-10.3 11.4-12.5 21 10.3zM295.9 970.2l-21-10.1 11.4-12.6 20.9 10.1z"/>
<path fill="#0087ff" stroke="#0087ff" d="M1381.9 1197.6l-21-9.8 11.4-11.7 20.9 9.9zM1328.5 1189.4l-21-10 11.4-11.7 21 10.1zM1254.2 1170.7l-21-10.2 11.4-11.8 21 10.3zM1200.9 1161.9l-21-10.5 11.4-11.8 20.9 10.5zM1073.2 1132.8l-21-10.8 11.4-11.8 21 10.7zM1019.9 1123.2l-21-10.8 11.4-11.9 20.9 10.8zM966.5 1113.6l-21-10.9 11.4-12 21 10.9zM913.2 1103.8l-21-10.9 11.4-12 21 10.9zM859.8 1094.1l-20.9-11 11.3-12 21 10.9zM625.5 1044.7l-21-10.9 11.4-12.3 21 10.9zM572.2 1035.4l-21-10.7 11.4-12.4 20.9 10.8zM518.8 1026.4l-21-10.7 11.4-12.4 21 10.6zM444.5 1007l-21-10.5 11.4-12.5 21 10.5zM391.2 998.6l-21-10.4 11.4-12.5 20.9 10.4zM316.8 980.3l-20.9-10.1 11.3-12.6 21 10.1zM242.5 962.8l-21-9.9 11.4-12.6 21 9.8z"/>
<path fill="#007eff" stroke="#007eff" d="M1349.5 1199.4l-21-10 11.4-11.6 21 10zM1296.2 1191.1l-21-10.1 11.4-11.7 20.9 10.1zM1221.8 1172.2l-20.9-10.3 11.3-11.8 21 10.4zM1168.5 1163.2l-21-10.5 11.4-11.8 21 10.5zM1115.2 1154l-21-10.6 11.4-11.8 20.9 10.6zM934.2 1114.7l-21-10.9 11.4-12 20.9 10.9zM880.8 1105l-21-10.9 11.4-12.1 21 10.9zM827.5 1095.3l-21-11 11.4-12.1 21 10.9zM774.1 1085.6l-20.9-11 11.3-12.1 21 10.9zM720.8 1076l-21-11 11.4-12.2 21 10.9zM539.8 1037.1l-21-10.7 11.4-12.5 21 10.8zM486.5 1028.2l-21-10.6 11.4-12.5 20.9 10.6zM412.1 1009l-20.9-10.4 11.3-12.5 21 10.4zM358.8 1000.8l-21-10.3 11.4-12.6 21 10.3zM284.5 982.8l-21-10 11.4-12.7 21 10.1z"/>
<path fill="#007aff" stroke="#007aff" d="M1370.5 1209.3l-21-9.9 11.4-11.6 21 9.8zM1317.1 1201.2l-20.9-10.1 11.3-11.7 21 10zM1242.8 1182.5l-21-10.3 11.4-11.7 21 10.2zM1189.5 1173.7l-21-10.5 11.4-11.8 21 10.5zM1061.8 1144.7l-21-10.7 11.4-12 21 10.8zM1008.5 1135.2l-21-10.8 11.4-12 21 10.8zM955.1 1125.6l-20.9-10.9 11.3-12 21 10.9zM901.8 1115.9l-21-10.9 11.4-12.1 21 10.9zM848.5 1106.2l-21-10.9 11.4-12.2 20.9 11zM667.5 1066.4l-21-10.9 11.4-12.3 20.9 10.9zM614.1 1057l-21-10.8 11.4-12.4 21 10.9zM560.8 1047.8l-21-10.7 11.4-12.4 21 10.7zM433.1 1019.5l-21-10.5 11.4-12.5 21 10.5zM379.8 1011.2l-21-10.4 11.4-12.6 21 10.4zM305.5 993l-21-10.2 11.4-12.6 20.9 10.1zM231.1 975.5l-20.9-9.9 11.3-12.7 21 9.9z"/>
<path fill="#0083ff" stroke="#0083ff" d="M1275.2 1181l-21-10.3 11.4-11.7 21 10.3zM1147.5 1152.7l-21-10.5 11.4-11.8 21 10.5zM1094.2 1143.4l-21-10.6 11.4-11.9 21 10.7zM1040.8 1134l-20.9-10.8 11.3-11.9 21 10.7zM987.5 1124.4l-21-10.8 11.4-12 21 10.8zM806.5 1084.3l-21-10.9 11.4-12.1 21 10.9zM753.2 1074.6l-21-10.9 11.4-12.2 20.9 11zM699.8 1065l-21-10.9 11.4-12.2 21 10.9zM646.5 1055.5l-21-10.8 11.4-12.3 21 10.8zM593.1 1046.2l-20.9-10.8 11.3-12.3 21 10.7zM465.5 1017.6l-21-10.6 11.4-12.5 21 10.6zM337.8 990.5l-21-10.2 11.4-12.6 21 10.2zM263.5 972.8l-21-10 11.4-12.7 21 10z"/>
<path fill="#0076ff" stroke="#0076ff" d="M1338.1 1211.1l-21-9.9 11.4-11.8 21 10zM1263.8 1192.7l-21-10.2 11.4-11.8 21 10.3zM1210.5 1184l-21-10.3 11.4-11.8 20.9 10.3zM1136.1 1164.6l-20.9-10.6 11.3-11.8 21 10.5zM1082.8 1155.4l-21-10.7 11.4-11.9 21 10.6zM1029.5 1145.9l-21-10.7 11.4-12 20.9 10.8zM976.1 1136.4l-21-10.8 11.4-12 21 10.8zM795.1 1096.5l-21-10.9 11.4-12.2 21 10.9zM741.8 1086.9l-21-10.9 11.4-12.3 21 10.9zM688.4 1077.3l-20.9-10.9 11.3-12.3 21 10.9zM635.1 1067.9l-21-10.9 11.4-12.3 21 10.8zM581.8 1058.6l-21-10.8 11.4-12.4 20.9 10.8zM507.4 1038.8l-20.9-10.6 11.3-12.5 21 10.7zM454.1 1030.1l-21-10.6 11.4-12.5 21 10.6zM326.4 1003.2l-20.9-10.2 11.3-12.7 21 10.2zM252.1 985.5l-21-10 11.4-12.7 21 10z"/>
<path fill="#0072ff" stroke="#0072ff" d="M1359.1 1221l-21-9.9 11.4-11.7 21 9.9zM1284.8 1202.9l-21-10.2 11.4-11.7 21 10.1zM1157.1 1175.1l-21-10.5 11.4-11.9 21 10.5zM1103.8 1166l-21-10.6 11.4-12 21 10.6zM922.8 1126.8l-21-10.9 11.4-12.1 21 10.9zM869.4 1117.2l-20.9-11 11.3-12.1 21 10.9zM816.1 1107.5l-21-11 11.4-12.2 21 11zM762.8 1097.8l-21-10.9 11.4-12.3 20.9 11zM709.4 1088.3l-21-11 11.4-12.3 21 11zM528.4 1049.6l-21-10.8 11.4-12.4 21 10.7zM475.1 1040.7l-21-10.6 11.4-12.5 21 10.6zM400.8 1021.6l-21-10.4 11.4-12.6 20.9 10.4zM347.4 1013.5l-21-10.3 11.4-12.7 21 10.3zM273.1 995.5l-21-10 11.4-12.7 21 10z"/>
<path fill="#006eff" stroke="#006eff" d="M1305.8 1212.9l-21-10 11.4-11.8 20.9 10.1zM1231.4 1194.3l-20.9-10.3 11.3-11.8 21 10.3zM1178.1 1185.5l-21-10.4 11.4-11.9 21 10.5zM1124.8 1176.5l-21-10.5 11.4-12 20.9 10.6zM1050.4 1156.7l-20.9-10.8 11.3-11.9 21 10.7zM997.1 1147.2l-21-10.8 11.4-12 21 10.8zM943.8 1137.7l-21-10.9 11.4-12.1 20.9 10.9zM890.4 1128.1l-21-10.9 11.4-12.2 21 10.9zM837.1 1118.4l-21-10.9 11.4-12.2 21 10.9zM656.1 1078.8l-21-10.9 11.4-12.4 21 10.9zM602.7 1069.5l-20.9-10.9 11.3-12.4 21 10.8zM549.4 1060.3l-21-10.7 11.4-12.5 21 10.7zM421.7 1032.1l-20.9-10.5 11.3-12.6 21 10.5zM294.1 1005.7l-21-10.2 11.4-12.7 21 10.2zM219.8 988.3l-21-9.9 11.4-12.8 20.9 9.9z"/>
<path fill="#006aff" stroke="#006aff" d="M1326.7 1222.9l-20.9-10 11.3-11.7 21 9.9zM1252.4 1204.6l-21-10.3 11.4-11.8 21 10.2zM1199.1 1195.9l-21-10.4 11.4-11.8 21 10.3zM1071.4 1167.3l-21-10.6 11.4-12 21 10.7zM1018.1 1158l-21-10.8 11.4-12 21 10.7zM964.7 1148.5l-20.9-10.8 11.3-12.1 21 10.8zM783.7 1108.8l-20.9-11 11.3-12.2 21 10.9zM730.4 1099.2l-21-10.9 11.4-12.3 21 10.9zM677.1 1089.7l-21-10.9 11.4-12.4 20.9 10.9zM623.7 1080.3l-21-10.8 11.4-12.5 21 10.9zM496.1 1051.4l-21-10.7 11.4-12.5 20.9 10.6zM442.7 1042.7l-21-10.6 11.4-12.6 21 10.6zM368.4 1023.8l-21-10.3 11.4-12.7 21 10.4zM315.1 1015.9l-21-10.2 11.4-12.7 20.9 10.2zM240.7 998.2l-20.9-9.9 11.3-12.8 21 10z"/>
<path fill="#06f" stroke="#06f" d="M1347.7 1232.8l-21-9.9 11.4-11.8 21 9.9zM1273.4 1214.7l-21-10.1 11.4-11.9 21 10.2zM1220.1 1206.2l-21-10.3 11.4-11.9 20.9 10.3zM1145.7 1187l-20.9-10.5 11.3-11.9 21 10.5zM1092.4 1177.9l-21-10.6 11.4-11.9 21 10.6zM1039.1 1168.7l-21-10.7 11.4-12.1 20.9 10.8zM911.4 1138.9l-21-10.8 11.4-12.2 21 10.9zM858.1 1129.3l-21-10.9 11.4-12.2 20.9 11zM804.7 1119.7l-21-10.9 11.4-12.3 21 11zM751.4 1110.2l-21-11 11.4-12.3 21 10.9zM698 1100.6l-20.9-10.9 11.3-12.4 21 11zM570.4 1071.1l-21-10.8 11.4-12.5 21 10.8zM517 1062.1l-20.9-10.7 11.3-12.6 21 10.8zM463.7 1053.3l-21-10.6 11.4-12.6 21 10.6zM389.4 1034.3l-21-10.5 11.4-12.6 21 10.4zM261.7 1008.3l-21-10.1 11.4-12.7 21 10z"/>
<path fill="#0062ff" stroke="#0062ff" d="M1294.4 1224.7l-21-10 11.4-11.8 21 10zM1166.7 1197.5l-21-10.5 11.4-11.9 21 10.4zM1113.4 1188.5l-21-10.6 11.4-11.9 21 10.5zM985.7 1159.3l-21-10.8 11.4-12.1 21 10.8zM932.4 1149.8l-21-10.9 11.4-12.1 21 10.9zM879 1140.3l-20.9-11 11.3-12.1 21 10.9zM825.7 1130.7l-21-11 11.4-12.2 21 10.9zM644.7 1091.2l-21-10.9 11.4-12.4 21 10.9zM591.4 1081.9l-21-10.8 11.4-12.5 20.9 10.9zM538 1072.8l-21-10.7 11.4-12.5 21 10.7zM410.4 1044.8l-21-10.5 11.4-12.7 20.9 10.5zM336 1026.2l-20.9-10.3 11.3-12.7 21 10.3zM282.7 1018.4l-21-10.1 11.4-12.8 21 10.2zM208.4 1001.1l-21-9.9 11.4-12.8 21 9.9z"/>
<path fill="#005dff" stroke="#005dff" d="M1315.4 1234.7l-21-10 11.4-11.8 20.9 10zM1241 1216.4l-20.9-10.2 11.3-11.9 21 10.3zM1187.7 1207.8l-21-10.3 11.4-12 21 10.4zM1060 1179.4l-20.9-10.7 11.3-12 21 10.6zM1006.7 1170.1l-21-10.8 11.4-12.1 21 10.8zM953.4 1160.6l-21-10.8 11.4-12.1 20.9 10.8zM772.4 1121.1l-21-10.9 11.4-12.4 20.9 11zM719 1111.6l-21-11 11.4-12.3 21 10.9zM665.7 1102.1l-21-10.9 11.4-12.4 21 10.9zM612.3 1092.8l-20.9-10.9 11.3-12.4 21 10.8zM484.7 1064l-21-10.7 11.4-12.6 21 10.7zM431.3 1055.3l-20.9-10.5 11.3-12.7 21 10.6zM357 1036.5l-21-10.3 11.4-12.7 21 10.3zM229.4 1011.1l-21-10 11.4-12.8 20.9 9.9z"/>
<path fill="#0059ff" stroke="#0059ff" d="M1336.3 1244.6l-20.9-9.9 11.3-11.8 21 9.9zM1262 1226.6l-21-10.2 11.4-11.8 21 10.1zM1208.7 1218.1l-21-10.3 11.4-11.9 21 10.3zM1134.4 1199l-21-10.5 11.4-12 20.9 10.5zM1081 1190l-21-10.6 11.4-12.1 21 10.6zM1027.7 1180.8l-21-10.7 11.4-12.1 21 10.7zM900 1151.1l-21-10.8 11.4-12.2 21 10.8zM846.7 1141.6l-21-10.9 11.4-12.3 21 10.9zM793.3 1132l-20.9-10.9 11.3-12.3 21 10.9zM740 1122.5l-21-10.9 11.4-12.4 21 11zM686.7 1113.1l-21-11 11.4-12.4 20.9 10.9zM559 1083.6l-21-10.8 11.4-12.5 21 10.8zM505.7 1074.7l-21-10.7 11.4-12.6 20.9 10.7zM378 1047l-21-10.5 11.4-12.7 21 10.5zM303.7 1028.7l-21-10.3 11.4-12.7 21 10.2zM250.3 1021.1l-20.9-10 11.3-12.9 21 10.1z"/>
<path fill="#05f" stroke="#05f" d="M1283 1236.6l-21-10 11.4-11.9 21 10zM1229.7 1228.3l-21-10.2 11.4-11.9 20.9 10.2zM1155.3 1209.4l-20.9-10.4 11.3-12 21 10.5zM1102 1200.5l-21-10.5 11.4-12.1 21 10.6zM974.3 1171.4l-20.9-10.8 11.3-12.1 21 10.8zM921 1162l-21-10.9 11.4-12.2 21 10.9zM867.7 1152.5l-21-10.9 11.4-12.3 20.9 11zM814.3 1143l-21-11 11.4-12.3 21 11zM633.3 1103.7l-21-10.9 11.4-12.5 21 10.9zM580 1094.5l-21-10.9 11.4-12.5 21 10.8zM526.6 1085.4l-20.9-10.7 11.3-12.6 21 10.7zM452.3 1065.9l-21-10.6 11.4-12.6 21 10.6zM399 1057.5l-21-10.5 11.4-12.7 21 10.5zM324.7 1038.9l-21-10.2 11.4-12.8 20.9 10.3z"/>
<path fill="#0051ff" stroke="#0051ff" d="M1304 1246.6l-21-10 11.4-11.9 21 10zM1176.3 1219.8l-21-10.4 11.4-11.9 21 10.3zM1048.7 1191.4l-21-10.6 11.4-12.1 20.9 10.7zM995.3 1182.2l-21-10.8 11.4-12.1 21 10.8zM942 1172.8l-21-10.8 11.4-12.2 21 10.8zM761 1133.5l-21-11 11.4-12.3 21 10.9zM707.6 1124l-20.9-10.9 11.3-12.5 21 11zM654.3 1114.6l-21-10.9 11.4-12.5 21 10.9zM601 1105.3l-21-10.8 11.4-12.6 20.9 10.9zM473.3 1076.6l-21-10.7 11.4-12.6 21 10.7zM420 1068l-21-10.5 11.4-12.7 20.9 10.5zM345.6 1049.3l-20.9-10.4 11.3-12.7 21 10.3zM271.3 1031.3l-21-10.2 11.4-12.8 21 10.1z"/>
<path fill="#004dff" stroke="#004dff" d="M1325 1256.5l-21-9.9 11.4-11.9 20.9 9.9zM1250.6 1238.5l-20.9-10.2 11.3-11.9 21 10.2zM1197.3 1230.1l-21-10.3 11.4-12 21 10.3zM1123 1211l-21-10.5 11.4-12 21 10.5zM1069.6 1202.1l-20.9-10.7 11.3-12 21 10.6zM1016.3 1192.9l-21-10.7 11.4-12.1 21 10.7zM888.6 1163.4l-20.9-10.9 11.3-12.2 21 10.8zM835.3 1153.9l-21-10.9 11.4-12.3 21 10.9zM782 1144.4l-21-10.9 11.4-12.4 20.9 10.9zM728.6 1134.9l-21-10.9 11.4-12.4 21 10.9zM675.3 1125.5l-21-10.9 11.4-12.5 21 11zM547.6 1096.2l-21-10.8 11.4-12.6 21 10.8zM494.3 1087.3l-21-10.7 11.4-12.6 21 10.7zM366.6 1059.7l-21-10.4 11.4-12.8 21 10.5zM292.3 1041.5l-21-10.2 11.4-12.9 21 10.3z"/>
<path fill="#0048ff" stroke="#0048ff" d="M1271.6 1248.5l-21-10 11.4-11.9 21 10zM1218.3 1240.3l-21-10.2 11.4-12 21 10.2zM1144 1221.5l-21-10.5 11.4-12 20.9 10.4zM1090.6 1212.6l-21-10.5 11.4-12.1 21 10.5zM963 1183.6l-21-10.8 11.4-12.2 20.9 10.8zM909.6 1174.3l-21-10.9 11.4-12.3 21 10.9zM856.3 1164.8l-21-10.9 11.4-12.3 21 10.9zM802.9 1155.3l-20.9-10.9 11.3-12.4 21 11zM621.9 1116.2l-20.9-10.9 11.3-12.5 21 10.9zM568.6 1107.1l-21-10.9 11.4-12.6 21 10.9zM440.9 1078.7l-20.9-10.7 11.3-12.7 21 10.6zM387.6 1070.3l-21-10.6 11.4-12.7 21 10.5zM313.3 1051.8l-21-10.3 11.4-12.8 21 10.2z"/>
<path fill="#04f" stroke="#04f" d="M1292.6 1258.5l-21-10 11.4-11.9 21 10zM1239.3 1250.5l-21-10.2 11.4-12 20.9 10.2zM1164.9 1231.8l-20.9-10.3 11.3-12.1 21 10.4zM1111.6 1223.1l-21-10.5 11.4-12.1 21 10.5zM1037.3 1203.6l-21-10.7 11.4-12.1 21 10.6zM983.9 1194.4l-20.9-10.8 11.3-12.2 21 10.8zM930.6 1185.1l-21-10.8 11.4-12.3 21 10.8zM749.6 1145.9l-21-11 11.4-12.4 21 11zM696.3 1136.5l-21-11 11.4-12.4 20.9 10.9zM642.9 1127.1l-21-10.9 11.4-12.5 21 10.9zM515.3 1098.1l-21-10.8 11.4-12.6 20.9 10.7zM461.9 1089.3l-21-10.6 11.4-12.8 21 10.7zM334.3 1062.1l-21-10.3 11.4-12.9 20.9 10.4z"/>
<path fill="#0040ff" stroke="#0040ff" d="M1313.6 1268.4l-21-9.9 11.4-11.9 21 9.9zM1185.9 1242.1l-21-10.3 11.4-12 21 10.3zM1058.3 1214.2l-21-10.6 11.4-12.2 20.9 10.7zM1004.9 1205.1l-21-10.7 11.4-12.2 21 10.7zM877.3 1175.7l-21-10.9 11.4-12.3 20.9 10.9zM823.9 1166.3l-21-11 11.4-12.3 21 10.9zM770.6 1156.8l-21-10.9 11.4-12.4 21 10.9zM717.2 1147.4l-20.9-10.9 11.3-12.5 21 10.9zM589.6 1117.9l-21-10.8 11.4-12.6 21 10.8zM536.2 1108.9l-20.9-10.8 11.3-12.7 21 10.8zM482.9 1100l-21-10.7 11.4-12.7 21 10.7zM408.6 1080.8l-21-10.5 11.4-12.8 21 10.5zM355.2 1072.6l-20.9-10.5 11.3-12.8 21 10.4z"/>
<path fill="#003bff" stroke="#003bff" d="M1260.2 1260.5l-20.9-10 11.3-12 21 10zM1206.9 1252.4l-21-10.3 11.4-12 21 10.2zM1132.6 1233.6l-21-10.5 11.4-12.1 21 10.5zM1079.2 1224.8l-20.9-10.6 11.3-12.1 21 10.5zM951.6 1195.9l-21-10.8 11.4-12.3 21 10.8zM898.2 1186.6l-20.9-10.9 11.3-12.3 21 10.9zM844.9 1177.2l-21-10.9 11.4-12.4 21 10.9zM791.6 1167.8l-21-11 11.4-12.4 20.9 10.9zM663.9 1138.1l-21-11 11.4-12.5 21 10.9zM610.6 1128.8l-21-10.9 11.4-12.6 20.9 10.9zM557.2 1119.7l-21-10.8 11.4-12.7 21 10.9zM429.6 1091.4l-21-10.6 11.4-12.8 20.9 10.7z"/>
<path fill="#0037ff" stroke="#0037ff" d="M1281.2 1270.5l-21-10 11.4-12 21 10zM1227.9 1262.5l-21-10.1 11.4-12.1 21 10.2zM1153.6 1243.9l-21-10.3 11.4-12.1 20.9 10.3zM1100.2 1235.3l-21-10.5 11.4-12.2 21 10.5zM1025.9 1215.8l-21-10.7 11.4-12.2 21 10.7zM972.6 1206.7l-21-10.8 11.4-12.3 20.9 10.8zM919.2 1197.4l-21-10.8 11.4-12.3 21 10.8zM738.2 1158.4l-21-11 11.4-12.5 21 11zM684.9 1149l-21-10.9 11.4-12.6 21 11zM631.5 1139.7l-20.9-10.9 11.3-12.6 21 10.9zM503.9 1110.8l-21-10.8 11.4-12.7 21 10.8zM450.5 1102.1l-20.9-10.7 11.3-12.7 21 10.6zM376.2 1083.1l-21-10.5 11.4-12.9 21 10.6z"/>
<path fill="#03f" stroke="#03f" d="M1302.2 1280.4l-21-9.9 11.4-12 21 9.9zM1248.9 1272.5l-21-10 11.4-12 20.9 10zM1174.5 1254.2l-20.9-10.3 11.3-12.1 21 10.3zM1046.9 1226.4l-21-10.6 11.4-12.2 21 10.6zM993.5 1217.4l-20.9-10.7 11.3-12.3 21 10.7zM865.9 1188.1l-21-10.9 11.4-12.4 21 10.9zM812.5 1178.7l-20.9-10.9 11.3-12.5 21 11zM759.2 1169.3l-21-10.9 11.4-12.5 21 10.9zM705.9 1160l-21-11 11.4-12.5 20.9 10.9zM578.2 1130.6l-21-10.9 11.4-12.6 21 10.8zM524.9 1121.6l-21-10.8 11.4-12.7 20.9 10.8zM397.2 1093.6l-21-10.5 11.4-12.8 21 10.5z"/>
<path fill="#002aff" stroke="#002aff" d="M1269.8 1282.5l-20.9-10 11.3-12 21 10zM1216.5 1274.6l-21-10.2 11.4-12 21 10.1zM1142.2 1256.1l-21-10.4 11.4-12.1 21 10.3zM1088.8 1247.5l-20.9-10.5 11.3-12.2 21 10.5zM1014.5 1228l-21-10.6 11.4-12.3 21 10.7zM961.2 1219l-21-10.8 11.4-12.3 21 10.8zM907.8 1209.8l-20.9-10.9 11.3-12.3 21 10.8zM780.2 1180.2l-21-10.9 11.4-12.5 21 11zM726.8 1170.9l-20.9-10.9 11.3-12.6 21 11zM673.5 1161.6l-21-10.9 11.4-12.6 21 10.9zM620.2 1152.4l-21-10.9 11.4-12.7 20.9 10.9zM492.5 1123.6l-21-10.8 11.4-12.8 21 10.8zM439.2 1114.9l-21-10.6 11.4-12.9 20.9 10.7z"/>
<path fill="#0025ff" stroke="#0025ff" d="M1290.8 1292.4l-21-9.9 11.4-12 21 9.9zM1237.5 1284.6l-21-10 11.4-12.1 21 10zM1163.2 1266.4l-21-10.3 11.4-12.2 20.9 10.3zM1035.5 1238.7l-21-10.7 11.4-12.2 21 10.6zM982.2 1229.7l-21-10.7 11.4-12.3 20.9 10.7zM854.5 1200.5l-21-10.9 11.4-12.4 21 10.9zM801.2 1191.2l-21-11 11.4-12.4 20.9 10.9zM747.8 1181.8l-21-10.9 11.4-12.5 21 10.9zM566.8 1143.3l-21-10.9 11.4-12.7 21 10.9zM513.5 1134.4l-21-10.8 11.4-12.8 21 10.8z"/>
<path fill="#002eff" stroke="#002eff" d="M1195.5 1264.4l-21-10.2 11.4-12.1 21 10.3zM1121.2 1245.7l-21-10.4 11.4-12.2 21 10.5zM1067.9 1237l-21-10.6 11.4-12.2 20.9 10.6zM940.2 1208.2l-21-10.8 11.4-12.3 21 10.8zM886.9 1198.9l-21-10.8 11.4-12.4 20.9 10.9zM833.5 1189.6l-21-10.9 11.4-12.4 21 10.9zM652.5 1150.7l-21-11 11.4-12.6 21 11zM599.2 1141.5l-21-10.9 11.4-12.7 21 10.9zM545.8 1132.4l-20.9-10.8 11.3-12.7 21 10.8zM471.5 1112.8l-21-10.7 11.4-12.8 21 10.7zM418.2 1104.3l-21-10.7 11.4-12.8 21 10.6z"/>
<path fill="#0021ff" stroke="#0021ff" d="M1258.5 1294.6l-21-10 11.4-12.1 20.9 10zM1184.1 1276.6l-20.9-10.2 11.3-12.2 21 10.2zM1109.8 1257.9l-21-10.4 11.4-12.2 21 10.4zM1056.5 1249.2l-21-10.5 11.4-12.3 21 10.6zM928.8 1220.6l-21-10.8 11.4-12.4 21 10.8zM875.5 1211.4l-21-10.9 11.4-12.4 21 10.8zM822.1 1202.1l-20.9-10.9 11.3-12.5 21 10.9zM694.5 1172.5l-21-10.9 11.4-12.6 21 11zM641.1 1163.3l-20.9-10.9 11.3-12.7 21 11zM587.8 1154.2l-21-10.9 11.4-12.7 21 10.9zM460.1 1125.6l-20.9-10.7 11.3-12.8 21 10.7z"/>
<path fill="#001cff" stroke="#001cff" d="M1279.4 1304.5l-20.9-9.9 11.3-12.1 21 9.9zM1205.1 1286.7l-21-10.1 11.4-12.2 21 10.2zM1130.8 1268.3l-21-10.4 11.4-12.2 21 10.4zM1077.5 1259.7l-21-10.5 11.4-12.2 20.9 10.5zM1003.1 1240.3l-20.9-10.6 11.3-12.3 21 10.6zM949.8 1231.3l-21-10.7 11.4-12.4 21 10.8zM896.5 1222.2l-21-10.8 11.4-12.5 20.9 10.9zM768.8 1192.8l-21-11 11.4-12.5 21 10.9zM715.5 1183.5l-21-11 11.4-12.5 20.9 10.9zM662.1 1174.3l-21-11 11.4-12.6 21 10.9zM534.5 1145.2l-21-10.8 11.4-12.8 20.9 10.8zM481.1 1136.4l-21-10.8 11.4-12.8 21 10.8z"/>
<path fill="#0018ff" stroke="#0018ff" d="M1226.1 1296.8l-21-10.1 11.4-12.1 21 10zM1151.8 1278.6l-21-10.3 11.4-12.2 21 10.3zM1024.1 1251l-21-10.7 11.4-12.3 21 10.7zM970.8 1242l-21-10.7 11.4-12.3 21 10.7zM843.1 1213l-21-10.9 11.4-12.5 21 10.9zM789.8 1203.7l-21-10.9 11.4-12.6 21 11zM736.4 1194.4l-20.9-10.9 11.3-12.6 21 10.9zM608.8 1165.1l-21-10.9 11.4-12.7 21 10.9zM555.4 1156.1l-20.9-10.9 11.3-12.8 21 10.9zM502.1 1147.2l-21-10.8 11.4-12.8 21 10.8z"/>
<path fill="#0013ff" stroke="#0013ff" d="M1247.1 1306.7l-21-9.9 11.4-12.2 21 10zM1172.8 1288.8l-21-10.2 11.4-12.2 20.9 10.2zM1098.4 1270.2l-20.9-10.5 11.3-12.2 21 10.4zM1045.1 1261.5l-21-10.5 11.4-12.3 21 10.5zM917.4 1233l-20.9-10.8 11.3-12.4 21 10.8zM864.1 1223.8l-21-10.8 11.4-12.5 21 10.9zM810.8 1214.6l-21-10.9 11.4-12.5 20.9 10.9zM683.1 1185.2l-21-10.9 11.4-12.7 21 10.9zM629.8 1176l-21-10.9 11.4-12.7 20.9 10.9zM576.4 1167l-21-10.9 11.4-12.8 21 10.9z"/>
<path fill="#000eff" stroke="#000eff" d="M1268.1 1316.6l-21-9.9 11.4-12.1 20.9 9.9zM1193.7 1298.9l-20.9-10.1 11.3-12.2 21 10.1zM1119.4 1280.5l-21-10.3 11.4-12.3 21 10.4zM1066.1 1272l-21-10.5 11.4-12.3 21 10.5zM991.8 1252.7l-21-10.7 11.4-12.3 20.9 10.6zM938.4 1243.7l-21-10.7 11.4-12.4 21 10.7zM885.1 1234.7l-21-10.9 11.4-12.4 21 10.8zM757.4 1205.4l-21-11 11.4-12.6 21 11zM704.1 1196.1l-21-10.9 11.4-12.7 21 11zM650.7 1187l-20.9-11 11.3-12.7 21 11zM523.1 1158l-21-10.8 11.4-12.8 21 10.8z"/>
<path fill="#000aff" stroke="#000aff" d="M1214.7 1309l-21-10.1 11.4-12.2 21 10.1zM1140.4 1290.8l-21-10.3 11.4-12.2 21 10.3zM1012.7 1263.3l-20.9-10.6 11.3-12.4 21 10.7zM959.4 1254.5l-21-10.8 11.4-12.4 21 10.7zM831.7 1225.5l-20.9-10.9 11.3-12.5 21 10.9zM778.4 1216.3l-21-10.9 11.4-12.6 21 10.9zM725.1 1207.1l-21-11 11.4-12.6 20.9 10.9zM597.4 1177.9l-21-10.9 11.4-12.8 21 10.9zM544.1 1168.9l-21-10.9 11.4-12.8 20.9 10.9z"/>
<path fill="#0006ff" stroke="#0006ff" d="M1235.7 1318.9l-21-9.9 11.4-12.2 21 9.9zM1161.4 1301l-21-10.2 11.4-12.2 21 10.2zM1087.1 1282.5l-21-10.5 11.4-12.3 20.9 10.5zM1033.7 1273.9l-21-10.6 11.4-12.3 21 10.5zM906.1 1245.5l-21-10.8 11.4-12.5 20.9 10.8zM852.7 1236.4l-21-10.9 11.4-12.5 21 10.8zM671.7 1197.9l-21-10.9 11.4-12.7 21 10.9zM618.4 1188.8l-21-10.9 11.4-12.8 21 10.9z"/>
<path fill="#0003ff" stroke="#0003ff" d="M1256.7 1328.8l-21-9.9 11.4-12.2 21 9.9zM1182.4 1311.2l-21-10.2 11.4-12.2 20.9 10.1zM1108 1292.8l-20.9-10.3 11.3-12.3 21 10.3zM1054.7 1284.4l-21-10.5 11.4-12.4 21 10.5zM980.4 1265.1l-21-10.6 11.4-12.5 21 10.7zM927 1256.2l-20.9-10.7 11.3-12.5 21 10.7zM799.4 1227.2l-21-10.9 11.4-12.6 21 10.9zM746 1218l-20.9-10.9 11.3-12.7 21 11zM692.7 1208.9l-21-11 11.4-12.7 21 10.9zM565 1179.8l-20.9-10.9 11.3-12.8 21 10.9z"/>
<path fill="#0001ff" stroke="#0001ff" d="M1203.3 1321.2l-20.9-10 11.3-12.3 21 10.1zM1129 1303.1l-21-10.3 11.4-12.3 21 10.3zM1001.4 1275.7l-21-10.6 11.4-12.4 20.9 10.6zM948 1266.9l-21-10.7 11.4-12.5 21 10.8zM873.7 1247.2l-21-10.8 11.4-12.6 21 10.9zM820.4 1238.1l-21-10.9 11.4-12.6 20.9 10.9zM767 1229l-21-11 11.4-12.6 21 10.9zM639.4 1199.7l-21-10.9 11.4-12.8 20.9 11zM586 1190.7l-21-10.9 11.4-12.8 21 10.9z"/>
<path fill="#00f" stroke="#00f" d="M1224.3 1331.2l-21-10 11.4-12.2 21 9.9zM1150 1313.3l-21-10.2 11.4-12.3 21 10.2zM1075.7 1294.8l-21-10.4 11.4-12.4 21 10.5zM1022.3 1286.3l-20.9-10.6 11.3-12.4 21 10.6zM894.7 1258l-21-10.8 11.4-12.5 21 10.8zM841.3 1249l-20.9-10.9 11.3-12.6 21 10.9zM713.7 1219.8l-21-10.9 11.4-12.8 21 11zM660.3 1210.7l-20.9-11 11.3-12.7 21 10.9zM607 1201.6l-21-10.9 11.4-12.8 21 10.9z"/>
<path fill="#0000fe" stroke="#0000fe" d="M1245.3 1341.1l-21-9.9 11.4-12.3 21 9.9zM1171 1323.5l-21-10.2 11.4-12.3 21 10.2zM1096.7 1305.2l-21-10.4 11.4-12.3 20.9 10.3zM969 1277.6l-21-10.7 11.4-12.4 21 10.6zM915.7 1268.8l-21-10.8 11.4-12.5 20.9 10.7zM788 1239.9l-21-10.9 11.4-12.7 21 10.9zM734.7 1230.7l-21-10.9 11.4-12.7 20.9 10.9zM681.3 1221.6l-21-10.9 11.4-12.8 21 11z"/>
<path fill="#0000fb" stroke="#0000fb" d="M1192 1333.5l-21-10 11.4-12.3 20.9 10zM1117.6 1315.5l-20.9-10.3 11.3-12.4 21 10.3zM1043.3 1296.8l-21-10.5 11.4-12.4 21 10.5zM990 1288.2l-21-10.6 11.4-12.5 21 10.6zM862.3 1259.8l-21-10.8 11.4-12.6 21 10.8zM809 1250.7l-21-10.8 11.4-12.7 21 10.9zM755.6 1241.7l-20.9-11 11.3-12.7 21 11zM628 1212.6l-21-11 11.4-12.8 21 10.9z"/>
<path fill="#0000f9" stroke="#0000f9" d="M1212.9 1343.5l-20.9-10 11.3-12.3 21 10zM1138.6 1325.7l-21-10.2 11.4-12.4 21 10.2zM1064.3 1307.2l-21-10.4 11.4-12.4 21 10.4zM1011 1298.8l-21-10.6 11.4-12.5 20.9 10.6zM936.6 1279.5l-20.9-10.7 11.3-12.6 21 10.7zM883.3 1270.6l-21-10.8 11.4-12.6 21 10.8zM830 1261.6l-21-10.9 11.4-12.6 20.9 10.9zM702.3 1232.6l-21-11 11.4-12.7 21 10.9zM649 1223.5l-21-10.9 11.4-12.9 20.9 11z"/>
<path fill="#0000f6" stroke="#0000f6" d="M1233.9 1353.4l-21-9.9 11.4-12.3 21 9.9zM1159.6 1335.8l-21-10.1 11.4-12.4 21 10.2zM1085.3 1317.6l-21-10.4 11.4-12.4 21 10.4zM957.6 1290.1l-21-10.6 11.4-12.6 21 10.7zM904.3 1281.4l-21-10.8 11.4-12.6 21 10.8zM776.6 1252.6l-21-10.9 11.4-12.7 21 10.9zM723.3 1243.5l-21-10.9 11.4-12.8 21 10.9z"/>
<path fill="#0000f4" stroke="#0000f4" d="M1180.6 1345.9l-21-10.1 11.4-12.3 21 10zM1106.3 1327.9l-21-10.3 11.4-12.4 20.9 10.3zM1031.9 1309.3l-20.9-10.5 11.3-12.5 21 10.5zM978.6 1300.8l-21-10.7 11.4-12.5 21 10.6zM850.9 1272.4l-20.9-10.8 11.3-12.6 21 10.8zM797.6 1263.5l-21-10.9 11.4-12.7 21 10.8zM669.9 1234.5l-20.9-11 11.3-12.8 21 10.9z"/>
<path fill="#0000f1" stroke="#0000f1" d="M1201.6 1355.9l-21-10 11.4-12.4 20.9 10zM1127.2 1338.1l-20.9-10.2 11.3-12.4 21 10.2zM1052.9 1319.7l-21-10.4 11.4-12.5 21 10.4zM999.6 1311.3l-21-10.5 11.4-12.6 21 10.6zM925.3 1292.1l-21-10.7 11.4-12.6 20.9 10.7zM871.9 1283.2l-21-10.8 11.4-12.6 21 10.8zM744.3 1254.4l-21-10.9 11.4-12.8 20.9 11zM690.9 1245.4l-21-10.9 11.4-12.9 21 11z"/>
<path fill="#00e" stroke="#00e" d="M1222.5 1365.7l-20.9-9.8 11.3-12.4 21 9.9zM1148.2 1348.3l-21-10.2 11.4-12.4 21 10.1zM1073.9 1330.1l-21-10.4 11.4-12.5 21 10.4zM946.2 1302.7l-20.9-10.6 11.3-12.6 21 10.6zM818.6 1274.3l-21-10.8 11.4-12.8 21 10.9zM765.2 1265.3l-20.9-10.9 11.3-12.7 21 10.9zM711.9 1256.3l-21-10.9 11.4-12.8 21 10.9z"/>
<path fill="#0000ec" stroke="#0000ec" d="M1169.2 1358.3l-21-10 11.4-12.5 21 10.1zM1094.9 1340.4l-21-10.3 11.4-12.5 21 10.3zM1020.6 1321.8l-21-10.5 11.4-12.5 20.9 10.5zM967.2 1313.4l-21-10.7 11.4-12.6 21 10.7zM892.9 1294l-21-10.8 11.4-12.6 21 10.8zM839.6 1285.2l-21-10.9 11.4-12.7 20.9 10.8zM786.2 1276.2l-21-10.9 11.4-12.7 21 10.9z"/>
<path fill="#0000e9" stroke="#0000e9" d="M1190.2 1368.3l-21-10 11.4-12.4 21 10zM1115.9 1350.6l-21-10.2 11.4-12.5 20.9 10.2zM1041.5 1332.3l-20.9-10.5 11.3-12.5 21 10.4zM913.9 1304.7l-21-10.7 11.4-12.6 21 10.7zM860.5 1296l-20.9-10.8 11.3-12.8 21 10.8zM732.9 1267.3l-21-11 11.4-12.8 21 10.9z"/>
<path fill="#0000e7" stroke="#0000e7" d="M1211.2 1378.2l-21-9.9 11.4-12.4 20.9 9.8zM1136.8 1360.7l-20.9-10.1 11.3-12.5 21 10.2zM1062.5 1342.6l-21-10.3 11.4-12.6 21 10.4zM988.2 1323.9l-21-10.5 11.4-12.6 21 10.5zM934.9 1315.4l-21-10.7 11.4-12.6 20.9 10.6zM807.2 1287.1l-21-10.9 11.4-12.7 21 10.8zM753.9 1278.2l-21-10.9 11.4-12.9 20.9 10.9z"/>
<path fill="#0000e2" stroke="#0000e2" d="M1157.8 1370.8l-21-10.1 11.4-12.4 21 10zM1104.5 1363.1l-21-10.2 11.4-12.5 21 10.2zM1030.2 1344.9l-21-10.5 11.4-12.6 20.9 10.5zM902.5 1317.4l-21-10.7 11.4-12.7 21 10.7zM774.8 1289.1l-20.9-10.9 11.3-12.9 21 10.9z"/>
<path fill="#0000df" stroke="#0000df" d="M1178.8 1380.8l-21-10 11.4-12.5 21 10zM1051.1 1355.2l-20.9-10.3 11.3-12.6 21 10.3zM976.8 1336.6l-21-10.6 11.4-12.6 21 10.5zM923.5 1328.1l-21-10.7 11.4-12.7 21 10.7zM849.2 1308.7l-21-10.8 11.4-12.7 20.9 10.8zM795.8 1299.9l-21-10.8 11.4-12.9 21 10.9z"/>
<path fill="#00d" stroke="#00d" d="M1199.8 1390.6l-21-9.8 11.4-12.5 21 9.9zM1125.5 1373.3l-21-10.2 11.4-12.5 20.9 10.1zM1072.1 1365.5l-21-10.3 11.4-12.6 21 10.3zM997.8 1347.1l-21-10.5 11.4-12.7 21 10.5zM870.1 1319.5l-20.9-10.8 11.3-12.7 21 10.7zM816.8 1310.8l-21-10.9 11.4-12.8 21 10.8z"/>
<path fill="#0000e4" stroke="#0000e4" d="M1083.5 1352.9l-21-10.3 11.4-12.5 21 10.3zM1009.2 1334.4l-21-10.5 11.4-12.6 21 10.5zM955.8 1326l-20.9-10.6 11.3-12.7 21 10.7zM881.5 1306.7l-21-10.7 11.4-12.8 21 10.8zM828.2 1297.9l-21-10.8 11.4-12.8 21 10.9z"/>
<path fill="#0000da" stroke="#0000da" d="M1146.4 1383.3l-20.9-10 11.3-12.6 21 10.1zM1018.8 1357.5l-21-10.4 11.4-12.7 21 10.5zM944.5 1338.7l-21-10.6 11.4-12.7 20.9 10.6zM891.1 1330.2l-21-10.7 11.4-12.8 21 10.7z"/>
<path fill="#0000d7" stroke="#0000d7" d="M1167.4 1393.3l-21-10 11.4-12.5 21 10zM1093.1 1375.7l-21-10.2 11.4-12.6 21 10.2zM1039.8 1367.9l-21-10.4 11.4-12.6 20.9 10.3zM965.4 1349.3l-20.9-10.6 11.3-12.7 21 10.6zM837.8 1321.6l-21-10.8 11.4-12.9 21 10.8z"/>
<path fill="#0000d5" stroke="#0000d5" d="M1188.4 1403.2l-21-9.9 11.4-12.5 21 9.8zM1114.1 1385.9l-21-10.2 11.4-12.6 21 10.2zM986.4 1359.8l-21-10.5 11.4-12.7 21 10.5zM912.1 1340.9l-21-10.7 11.4-12.8 21 10.7zM858.8 1332.3l-21-10.7 11.4-12.9 20.9 10.8z"/>
<path fill="#0000d2" stroke="#0000d2" d="M1135.1 1395.9l-21-10 11.4-12.6 20.9 10zM1060.7 1378.2l-20.9-10.3 11.3-12.7 21 10.3zM1007.4 1370.2l-21-10.4 11.4-12.7 21 10.4zM933.1 1351.5l-21-10.6 11.4-12.8 21 10.6zM879.7 1343l-20.9-10.7 11.3-12.8 21 10.7z"/>
<path fill="#0000d0" stroke="#0000d0" d="M1156 1405.9l-20.9-10 11.3-12.6 21 10zM1081.7 1388.4l-21-10.2 11.4-12.7 21 10.2zM954.1 1362l-21-10.5 11.4-12.8 20.9 10.6z"/>
<path fill="#0000cd" stroke="#0000cd" d="M1177 1415.8l-21-9.9 11.4-12.6 21 9.9zM1102.7 1398.5l-21-10.1 11.4-12.7 21 10.2zM1028.4 1380.6l-21-10.4 11.4-12.7 21 10.4zM975 1372.5l-20.9-10.5 11.3-12.7 21 10.5zM900.7 1353.7l-21-10.7 11.4-12.8 21 10.7z"/>
<path fill="#0000cb" stroke="#0000cb" d="M1123.7 1408.6l-21-10.1 11.4-12.6 21 10zM1049.4 1390.9l-21-10.3 11.4-12.7 20.9 10.3zM921.7 1364.3l-21-10.6 11.4-12.8 21 10.6z"/>
<path fill="#0000c8" stroke="#0000c8" d="M1144.7 1418.5l-21-9.9 11.4-12.7 20.9 10zM1070.3 1401.1l-20.9-10.2 11.3-12.7 21 10.2zM996 1383l-21-10.5 11.4-12.7 21 10.4zM942.7 1374.9l-21-10.6 11.4-12.8 21 10.5z"/>
<path fill="#0000c6" stroke="#0000c6" d="M1165.6 1428.4l-20.9-9.9 11.3-12.6 21 9.9zM1091.3 1411.2l-21-10.1 11.4-12.7 21 10.1zM1017 1393.4l-21-10.4 11.4-12.8 21 10.4z"/>
<path fill="#0000c3" stroke="#0000c3" d="M1112.3 1421.3l-21-10.1 11.4-12.7 21 10.1zM1038 1403.6l-21-10.2 11.4-12.8 21 10.3zM963.7 1385.4l-21-10.5 11.4-12.9 20.9 10.5z"/>
<path fill="#0000c1" stroke="#0000c1" d="M1133.3 1431.3l-21-10 11.4-12.7 21 9.9zM1059 1413.9l-21-10.3 11.4-12.7 20.9 10.2zM984.6 1395.8l-20.9-10.4 11.3-12.9 21 10.5z"/>
<path fill="#0000be" stroke="#0000be" d="M1154.3 1441.1l-21-9.8 11.4-12.8 20.9 9.9zM1079.9 1424l-20.9-10.1 11.3-12.8 21 10.1zM1005.6 1406.2l-21-10.4 11.4-12.8 21 10.4z"/>
<path fill="#00b" stroke="#00b" d="M1100.9 1434.1l-21-10.1 11.4-12.8 21 10.1zM1026.6 1416.5l-21-10.3 11.4-12.8 21 10.2z"/>
<path fill="#0000b9" stroke="#0000b9" d="M1121.9 1444l-21-9.9 11.4-12.8 21 10zM1047.6 1426.7l-21-10.2 11.4-12.9 21 10.3z"/>
<path fill="#0000b6" stroke="#0000b6" d="M1142.9 1453.9l-21-9.9 11.4-12.7 21 9.8zM1068.6 1436.8l-21-10.1 11.4-12.8 20.9 10.1z"/>
<path fill="#0000b4" stroke="#0000b4" d="M1089.5 1446.9l-20.9-10.1 11.3-12.8 21 10.1z"/>
<path fill="#0000b1" stroke="#0000b1" d="M1110.5 1456.9l-21-10 11.4-12.8 21 9.9z"/>
<path fill="#0000af" stroke="#0000af" d="M1131.5 1466.7l-21-9.8 11.4-12.9 21 9.9z"/>
</g>
<g fill="none" stroke="#000" stroke-opacity="0.78" stroke-width="1.45" stroke-linejoin="round" stroke-linecap="round">
<path d="M1131.5 1466.7l11.4-12.8 11.4-12.8 11.3-12.7 11.4-12.6 11.4-12.6 11.4-12.6 11.4-12.4 11.3-12.5 11.4-12.3 11.4-12.3 11.4-12.3 11.4-12.2 11.3-12.1 11.4-12.1 11.4-12 11.4-12 11.4-11.9 11.3-11.9 11.4-11.8 11.4-11.8 11.4-11.7 11.4-11.7 11.3-11.6 11.4-11.5 11.4-11.6 11.4-11.4 11.4-11.4 11.3-11.4 11.4-11.3 11.4-11.3 11.4-11.2 11.4-11.1 11.3-11.1 11.4-11.1 11.4-11 11.4-11 11.4-10.9 11.3-10.9 11.4-10.9 11.4-10.8 11.4-10.7 11.4-10.7 11.3-10.7 11.4-10.6 11.4-10.6 11.4-10.5 11.4-10.5 11.3-10.5 11.4-10.4 11.4-10.3 11.4-10.4 11.4-10.2 11.3-10.3 11.4-10.2 11.4-10.2 11.4-10.1 11.4-10.1 11.3-10 11.4-10 11.4-10 11.4-9.9 11.4-9.9 11.3-9.9 11.4-9.8 11.4-9.8 11.4-9.8 11.4-9.7 11.3-9.7 11.4-9.7 11.4-9.6 11.4-9.6 11.4-9.5 11.3-9.6 11.4-9.4 11.4-9.5 11.4-9.4 11.4-9.4 11.3-9.4 11.4-9.3 11.4-9.3"/>
<path d="M1110.5 1456.9l11.4-12.9 11.4-12.7 11.4-12.8 11.3-12.6 11.4-12.6 11.4-12.5 11.4-12.5 11.4-12.4 11.3-12.4 11.4-12.3 11.4-12.3 11.4-12.2 11.4-12.1 11.3-12.1 11.4-12 11.4-12 11.4-11.9 11.4-11.9 11.3-11.8 11.4-11.8 11.4-11.7 11.4-11.6 11.4-11.7 11.3-11.5 11.4-11.5 11.4-11.5 11.4-11.4 11.4-11.4 11.3-11.3 11.4-11.2 11.4-11.2 11.4-11.2 11.4-11.1 11.3-11.1 11.4-11 11.4-11 11.4-10.9 11.4-10.9 11.3-10.8 11.4-10.8 11.4-10.8 11.4-10.7 11.4-10.7 11.3-10.6 11.4-10.6 11.4-10.5 11.4-10.5 11.4-10.4 11.3-10.4 11.4-10.4 11.4-10.3 11.4-10.3 11.4-10.3 11.3-10.2 11.4-10.1 11.4-10.2 11.4-10 11.4-10.1 11.3-10 11.4-10 11.4-9.9 11.4-9.9 11.4-9.9 11.3-9.8 11.4-9.8 11.4-9.8 11.4-9.7 11.4-9.7 11.3-9.6 11.4-9.7 11.4-9.5 11.4-9.6 11.4-9.5 11.3-9.5 11.4-9.5 11.4-9.4 11.4-9.4 11.4-9.4 11.3-9.3 11.4-9.3"/>
<path d="M1089.5 1446.9l11.4-12.8 11.4-12.8 11.4-12.7 11.4-12.7 11.3-12.6 11.4-12.5 11.4-12.5 11.4-12.4 11.4-12.4 11.3-12.3 11.4-12.2 11.4-12.2 11.4-12.2 11.4-12.1 11.3-12 11.4-12 11.4-11.9 11.4-11.9 11.4-11.8 11.3-11.7 11.4-11.8 11.4-11.6 11.4-11.6 11.4-11.6 11.3-11.5 11.4-11.5 11.4-11.4 11.4-11.3 11.4-11.3 11.3-11.3 11.4-11.2 11.4-11.2 11.4-11.1 11.4-11.1 11.3-11 11.4-11 11.4-10.9 11.4-10.9 11.4-10.8 11.3-10.8 11.4-10.8 11.4-10.7 11.4-10.6 11.4-10.6 11.3-10.6 11.4-10.6 11.4-10.4 11.4-10.5 11.4-10.4 11.3-10.4 11.4-10.3 11.4-10.3 11.4-10.2 11.4-10.2 11.3-10.2 11.4-10.1 11.4-10.1 11.4-10.1 11.4-10 11.3-9.9 11.4-10 11.4-9.9 11.4-9.9 11.4-9.8 11.3-9.8 11.4-9.7 11.4-9.8 11.4-9.6 11.4-9.7 11.3-9.6 11.4-9.6 11.4-9.6 11.4-9.5 11.4-9.5 11.3-9.4 11.4-9.5 11.4-9.4 11.4-9.3 11.4-9.4 11.3-9.3"/>
<path d="M1068.6 1436.8l11.3-12.8 11.4-12.8 11.4-12.7 11.4-12.6 11.4-12.6 11.3-12.6 11.4-12.4 11.4-12.5 11.4-12.3 11.4-12.3 11.3-12.3 11.4-12.2 11.4-12.1 11.4-12.1 11.4-12 11.3-12 11.4-11.9 11.4-11.9 11.4-11.8 11.4-11.8 11.3-11.7 11.4-11.7 11.4-11.6 11.4-11.5 11.4-11.6 11.3-11.4 11.4-11.4 11.4-11.4 11.4-11.3 11.4-11.2 11.3-11.3 11.4-11.1 11.4-11.1 11.4-11.1 11.4-11 11.3-11 11.4-10.9 11.4-10.9 11.4-10.9 11.4-10.8 11.3-10.7 11.4-10.7 11.4-10.7 11.4-10.6 11.4-10.6 11.3-10.5 11.4-10.5 11.4-10.5 11.4-10.4 11.4-10.3 11.3-10.4 11.4-10.2 11.4-10.3 11.4-10.2 11.4-10.2 11.3-10.1 11.4-10.1 11.4-10 11.4-10 11.4-10 11.3-9.9 11.4-9.9 11.4-9.9 11.4-9.8 11.4-9.8 11.3-9.8 11.4-9.7 11.4-9.7 11.4-9.7 11.4-9.6 11.3-9.6 11.4-9.5 11.4-9.5 11.4-9.5 11.4-9.5 11.3-9.4 11.4-9.4 11.4-9.4 11.4-9.3 11.4-9.3"/>
<path d="M1047.6 1426.7l11.4-12.8 11.3-12.8 11.4-12.7 11.4-12.7 11.4-12.6 11.4-12.5 11.3-12.5 11.4-12.4 11.4-12.4 11.4-12.3 11.4-12.2 11.3-12.2 11.4-12.2 11.4-12 11.4-12.1 11.4-12 11.3-11.9 11.4-11.8 11.4-11.9 11.4-11.7 11.4-11.7 11.3-11.7 11.4-11.6 11.4-11.6 11.4-11.5 11.4-11.4 11.3-11.5 11.4-11.3 11.4-11.3 11.4-11.3 11.4-11.2 11.3-11.2 11.4-11.1 11.4-11.1 11.4-11 11.4-11 11.3-10.9 11.4-10.9 11.4-10.8 11.4-10.8 11.4-10.8 11.3-10.7 11.4-10.6 11.4-10.6 11.4-10.6 11.4-10.6 11.3-10.4 11.4-10.5 11.4-10.4 11.4-10.4 11.4-10.3 11.3-10.3 11.4-10.2 11.4-10.2 11.4-10.2 11.4-10.1 11.3-10.1 11.4-10.1 11.4-10 11.4-9.9 11.4-10 11.3-9.9 11.4-9.8 11.4-9.9 11.4-9.8 11.4-9.7 11.3-9.8 11.4-9.6 11.4-9.7 11.4-9.6 11.4-9.6 11.3-9.6 11.4-9.5 11.4-9.5 11.4-9.4 11.4-9.5 11.3-9.4 11.4-9.3 11.4-9.4 11.4-9.3"/>
<path d="M1026.6 1416.5l11.4-12.9 11.4-12.7 11.3-12.7 11.4-12.7 11.4-12.6 11.4-12.5 11.4-12.5 11.3-12.4 11.4-12.4 11.4-12.3 11.4-12.2 11.4-12.2 11.3-12.2 11.4-12.1 11.4-12 11.4-12 11.4-11.9 11.3-11.9 11.4-11.8 11.4-11.8 11.4-11.7 11.4-11.6 11.3-11.6 11.4-11.6 11.4-11.5 11.4-11.5 11.4-11.4 11.3-11.3 11.4-11.3 11.4-11.3 11.4-11.2 11.4-11.2 11.3-11.1 11.4-11.1 11.4-11 11.4-11 11.4-10.9 11.3-10.9 11.4-10.8 11.4-10.8 11.4-10.8 11.4-10.7 11.3-10.6 11.4-10.7 11.4-10.5 11.4-10.6 11.4-10.5 11.3-10.4 11.4-10.4 11.4-10.4 11.4-10.3 11.4-10.3 11.3-10.2 11.4-10.2 11.4-10.2 11.4-10.1 11.4-10.1 11.3-10.1 11.4-10 11.4-10 11.4-9.9 11.4-9.9 11.3-9.9 11.4-9.8 11.4-9.8 11.4-9.7 11.4-9.8 11.3-9.7 11.4-9.6 11.4-9.6 11.4-9.6 11.4-9.6 11.3-9.5 11.4-9.5 11.4-9.5 11.4-9.4 11.4-9.4 11.3-9.3 11.4-9.4 11.4-9.3"/>
<path d="M1005.6 1406.2l11.4-12.8 11.4-12.8 11.4-12.7 11.3-12.7 11.4-12.6 11.4-12.5 11.4-12.5 11.4-12.4 11.3-12.4 11.4-12.3 11.4-12.2 11.4-12.2 11.4-12.2 11.3-12.1 11.4-12 11.4-12 11.4-11.9 11.4-11.9 11.3-11.8 11.4-11.7 11.4-11.8 11.4-11.6 11.4-11.6 11.3-11.6 11.4-11.5 11.4-11.5 11.4-11.4 11.4-11.3 11.3-11.3 11.4-11.3 11.4-11.2 11.4-11.2 11.4-11.1 11.3-11.1 11.4-11 11.4-11 11.4-10.9 11.4-10.9 11.3-10.8 11.4-10.8 11.4-10.8 11.4-10.7 11.4-10.6 11.3-10.7 11.4-10.5 11.4-10.6 11.4-10.5 11.4-10.4 11.3-10.4 11.4-10.4 11.4-10.3 11.4-10.3 11.4-10.2 11.3-10.2 11.4-10.2 11.4-10.1 11.4-10.1 11.4-10.1 11.3-10 11.4-10 11.4-9.9 11.4-9.9 11.4-9.9 11.3-9.8 11.4-9.8 11.4-9.7 11.4-9.8 11.4-9.7 11.3-9.6 11.4-9.6 11.4-9.6 11.4-9.6 11.4-9.5 11.3-9.5 11.4-9.5 11.4-9.4 11.4-9.4 11.4-9.3 11.3-9.4 11.4-9.3"/>
<path d="M984.6 1395.8l11.4-12.8 11.4-12.8 11.4-12.7 11.4-12.6 11.3-12.6 11.4-12.6 11.4-12.5 11.4-12.4 11.4-12.3 11.3-12.3 11.4-12.3 11.4-12.2 11.4-12.1 11.4-12.1 11.3-12.1 11.4-11.9 11.4-12 11.4-11.8 11.4-11.8 11.3-11.8 11.4-11.7 11.4-11.7 11.4-11.6 11.4-11.6 11.3-11.5 11.4-11.4 11.4-11.4 11.4-11.4 11.4-11.3 11.3-11.3 11.4-11.2 11.4-11.1 11.4-11.2 11.4-11 11.3-11.1 11.4-10.9 11.4-11 11.4-10.9 11.4-10.8 11.3-10.8 11.4-10.7 11.4-10.7 11.4-10.7 11.4-10.6 11.3-10.6 11.4-10.5 11.4-10.5 11.4-10.5 11.4-10.4 11.3-10.3 11.4-10.4 11.4-10.3 11.4-10.2 11.4-10.2 11.3-10.2 11.4-10.1 11.4-10.1 11.4-10 11.4-10 11.3-10 11.4-10 11.4-9.9 11.4-9.8 11.4-9.9 11.3-9.8 11.4-9.7 11.4-9.7 11.4-9.7 11.4-9.7 11.3-9.6 11.4-9.6 11.4-9.5 11.4-9.6 11.4-9.5 11.3-9.4 11.4-9.4 11.4-9.4 11.4-9.4 11.4-9.3 11.3-9.4"/>
<path d="M963.7 1385.4l11.3-12.9 11.4-12.7 11.4-12.7 11.4-12.7 11.4-12.6 11.3-12.5 11.4-12.5 11.4-12.4 11.4-12.4 11.4-12.3 11.3-12.2 11.4-12.2 11.4-12.2 11.4-12.1 11.4-12 11.3-12 11.4-11.9 11.4-11.9 11.4-11.8 11.4-11.8 11.3-11.7 11.4-11.6 11.4-11.6 11.4-11.6 11.4-11.5 11.3-11.5 11.4-11.4 11.4-11.3 11.4-11.3 11.4-11.3 11.3-11.2 11.4-11.2 11.4-11.1 11.4-11.1 11.4-11 11.3-11 11.4-10.9 11.4-10.9 11.4-10.8 11.4-10.8 11.3-10.8 11.4-10.7 11.4-10.6 11.4-10.7 11.4-10.5 11.3-10.6 11.4-10.5 11.4-10.4 11.4-10.4 11.4-10.4 11.3-10.3 11.4-10.3 11.4-10.2 11.4-10.2 11.4-10.2 11.3-10.1 11.4-10.1 11.4-10.1 11.4-10 11.4-10 11.3-9.9 11.4-9.9 11.4-9.9 11.4-9.8 11.4-9.8 11.3-9.7 11.4-9.8 11.4-9.7 11.4-9.6 11.4-9.6 11.3-9.6 11.4-9.6 11.4-9.5 11.4-9.5 11.4-9.5 11.3-9.4 11.4-9.4 11.4-9.3 11.4-9.4 11.4-9.3"/>
<path d="M942.7 1374.9l11.4-12.9 11.3-12.7 11.4-12.7 11.4-12.7 11.4-12.6 11.4-12.5 11.3-12.5 11.4-12.4 11.4-12.4 11.4-12.3 11.4-12.2 11.3-12.2 11.4-12.2 11.4-12.1 11.4-12 11.4-12 11.3-11.9 11.4-11.9 11.4-11.8 11.4-11.8 11.4-11.7 11.3-11.6 11.4-11.6 11.4-11.6 11.4-11.5 11.4-11.5 11.3-11.4 11.4-11.3 11.4-11.3 11.4-11.3 11.4-11.2 11.3-11.2 11.4-11.1 11.4-11.1 11.4-11 11.4-11 11.3-10.9 11.4-10.9 11.4-10.8 11.4-10.8 11.4-10.8 11.3-10.7 11.4-10.6 11.4-10.7 11.4-10.5 11.4-10.6 11.3-10.5 11.4-10.4 11.4-10.4 11.4-10.4 11.4-10.3 11.3-10.3 11.4-10.2 11.4-10.2 11.4-10.2 11.4-10.1 11.3-10.1 11.4-10.1 11.4-10 11.4-10 11.4-9.9 11.3-9.9 11.4-9.9 11.4-9.8 11.4-9.8 11.4-9.7 11.3-9.8 11.4-9.7 11.4-9.6 11.4-9.6 11.4-9.6 11.3-9.6 11.4-9.5 11.4-9.5 11.4-9.5 11.4-9.4 11.3-9.4 11.4-9.3 11.4-9.4 11.4-9.3"/>
<path d="M921.7 1364.3l11.4-12.8 11.4-12.8 11.3-12.7 11.4-12.6 11.4-12.6 11.4-12.6 11.4-12.5 11.3-12.4 11.4-12.3 11.4-12.3 11.4-12.3 11.4-12.2 11.3-12.1 11.4-12.1 11.4-12.1 11.4-11.9 11.4-12 11.3-11.8 11.4-11.8 11.4-11.8 11.4-11.7 11.4-11.7 11.3-11.6 11.4-11.6 11.4-11.5 11.4-11.4 11.4-11.4 11.3-11.4 11.4-11.3 11.4-11.3 11.4-11.2 11.4-11.1 11.3-11.2 11.4-11 11.4-11.1 11.4-10.9 11.4-11 11.3-10.8 11.4-10.9 11.4-10.8 11.4-10.7 11.4-10.7 11.3-10.7 11.4-10.6 11.4-10.6 11.4-10.5 11.4-10.5 11.3-10.5 11.4-10.4 11.4-10.3 11.4-10.4 11.4-10.3 11.3-10.2 11.4-10.2 11.4-10.2 11.4-10.1 11.4-10.1 11.3-10 11.4-10 11.4-10 11.4-10 11.4-9.9 11.3-9.8 11.4-9.9 11.4-9.7 11.4-9.8 11.4-9.7 11.3-9.7 11.4-9.7 11.4-9.6 11.4-9.6 11.4-9.5 11.3-9.6 11.4-9.5 11.4-9.4 11.4-9.4 11.4-9.4 11.3-9.4 11.4-9.3 11.4-9.4"/>
<path d="M900.7 1353.7l11.4-12.8 11.4-12.8 11.4-12.7 11.3-12.7 11.4-12.6 11.4-12.5 11.4-12.5 11.4-12.4 11.3-12.4 11.4-12.3 11.4-12.2 11.4-12.2 11.4-12.2 11.3-12 11.4-12.1 11.4-11.9 11.4-12 11.4-11.8 11.3-11.9 11.4-11.7 11.4-11.7 11.4-11.7 11.4-11.6 11.3-11.6 11.4-11.5 11.4-11.4 11.4-11.5 11.4-11.3 11.3-11.3 11.4-11.3 11.4-11.2 11.4-11.2 11.4-11.1 11.3-11 11.4-11.1 11.4-10.9 11.4-11 11.4-10.9 11.3-10.8 11.4-10.8 11.4-10.7 11.4-10.8 11.4-10.6 11.3-10.6 11.4-10.6 11.4-10.5 11.4-10.5 11.4-10.5 11.3-10.4 11.4-10.4 11.4-10.3 11.4-10.3 11.4-10.2 11.3-10.2 11.4-10.2 11.4-10.1 11.4-10.1 11.4-10 11.3-10.1 11.4-9.9 11.4-10 11.4-9.9 11.4-9.8 11.3-9.9 11.4-9.8 11.4-9.7 11.4-9.7 11.4-9.7 11.3-9.7 11.4-9.6 11.4-9.6 11.4-9.6 11.4-9.5 11.3-9.5 11.4-9.4 11.4-9.5 11.4-9.4 11.4-9.3 11.3-9.4 11.4-9.3"/>
<path d="M879.7 1343l11.4-12.8 11.4-12.8 11.4-12.7 11.4-12.6 11.3-12.6 11.4-12.6 11.4-12.4 11.4-12.5 11.4-12.3 11.3-12.3 11.4-12.3 11.4-12.2 11.4-12.1 11.4-12.1 11.3-12 11.4-12 11.4-11.9 11.4-11.9 11.4-11.8 11.3-11.8 11.4-11.7 11.4-11.7 11.4-11.6 11.4-11.5 11.3-11.6 11.4-11.4 11.4-11.4 11.4-11.4 11.4-11.3 11.3-11.3 11.4-11.2 11.4-11.1 11.4-11.1 11.4-11.1 11.3-11 11.4-11 11.4-10.9 11.4-10.9 11.4-10.9 11.3-10.8 11.4-10.7 11.4-10.7 11.4-10.7 11.4-10.6 11.3-10.6 11.4-10.5 11.4-10.5 11.4-10.5 11.4-10.4 11.3-10.3 11.4-10.4 11.4-10.2 11.4-10.3 11.4-10.2 11.3-10.2 11.4-10.1 11.4-10.1 11.4-10 11.4-10 11.3-10 11.4-9.9 11.4-9.9 11.4-9.9 11.4-9.8 11.3-9.8 11.4-9.8 11.4-9.7 11.4-9.7 11.4-9.7 11.3-9.6 11.4-9.6 11.4-9.5 11.4-9.6 11.4-9.4 11.3-9.5 11.4-9.4 11.4-9.4 11.4-9.4 11.4-9.3 11.3-9.3"/>
<path d="M858.8 1332.3l11.3-12.8 11.4-12.8 11.4-12.7 11.4-12.6 11.4-12.6 11.3-12.6 11.4-12.5 11.4-12.4 11.4-12.3 11.4-12.3 11.3-12.3 11.4-12.2 11.4-12.1 11.4-12.1 11.4-12.1 11.3-11.9 11.4-12 11.4-11.8 11.4-11.8 11.4-11.8 11.3-11.7 11.4-11.7 11.4-11.6 11.4-11.6 11.4-11.5 11.3-11.4 11.4-11.4 11.4-11.4 11.4-11.3 11.4-11.3 11.3-11.2 11.4-11.1 11.4-11.2 11.4-11 11.4-11.1 11.3-10.9 11.4-11 11.4-10.8 11.4-10.9 11.4-10.8 11.3-10.7 11.4-10.7 11.4-10.7 11.4-10.6 11.4-10.6 11.3-10.5 11.4-10.5 11.4-10.5 11.4-10.4 11.4-10.3 11.3-10.4 11.4-10.3 11.4-10.2 11.4-10.2 11.4-10.2 11.3-10.1 11.4-10.1 11.4-10 11.4-10 11.4-10 11.3-10 11.4-9.9 11.4-9.8 11.4-9.9 11.4-9.8 11.3-9.7 11.4-9.7 11.4-9.7 11.4-9.7 11.4-9.6 11.3-9.6 11.4-9.5 11.4-9.6 11.4-9.5 11.4-9.4 11.3-9.4 11.4-9.4 11.4-9.4 11.4-9.3 11.4-9.4"/>
<path d="M837.8 1321.6l11.4-12.9 11.3-12.7 11.4-12.8 11.4-12.6 11.4-12.6 11.4-12.5 11.3-12.5 11.4-12.4 11.4-12.4 11.4-12.3 11.4-12.3 11.3-12.2 11.4-12.1 11.4-12.1 11.4-12 11.4-12 11.3-11.9 11.4-11.9 11.4-11.8 11.4-11.8 11.4-11.7 11.3-11.7 11.4-11.6 11.4-11.5 11.4-11.5 11.4-11.5 11.3-11.4 11.4-11.4 11.4-11.3 11.4-11.2 11.4-11.2 11.3-11.2 11.4-11.1 11.4-11.1 11.4-11 11.4-11 11.3-10.9 11.4-10.9 11.4-10.8 11.4-10.8 11.4-10.8 11.3-10.7 11.4-10.7 11.4-10.6 11.4-10.6 11.4-10.5 11.3-10.5 11.4-10.4 11.4-10.4 11.4-10.4 11.4-10.3 11.3-10.3 11.4-10.3 11.4-10.2 11.4-10.1 11.4-10.2 11.3-10 11.4-10.1 11.4-10 11.4-10 11.4-9.9 11.3-9.9 11.4-9.9 11.4-9.8 11.4-9.8 11.4-9.8 11.3-9.7 11.4-9.7 11.4-9.6 11.4-9.7 11.4-9.5 11.3-9.6 11.4-9.5 11.4-9.5 11.4-9.5 11.4-9.4 11.3-9.4 11.4-9.4 11.4-9.3 11.4-9.3"/>
<path d="M816.8 1310.8l11.4-12.9 11.4-12.7 11.3-12.8 11.4-12.6 11.4-12.6 11.4-12.5 11.4-12.5 11.3-12.4 11.4-12.4 11.4-12.3 11.4-12.3 11.4-12.2 11.3-12.1 11.4-12.1 11.4-12 11.4-12 11.4-11.9 11.3-11.9 11.4-11.8 11.4-11.8 11.4-11.7 11.4-11.6 11.3-11.7 11.4-11.5 11.4-11.5 11.4-11.5 11.4-11.4 11.3-11.4 11.4-11.3 11.4-11.2 11.4-11.2 11.4-11.2 11.3-11.1 11.4-11.1 11.4-11 11.4-11 11.4-10.9 11.3-10.9 11.4-10.8 11.4-10.8 11.4-10.8 11.4-10.7 11.3-10.7 11.4-10.6 11.4-10.6 11.4-10.5 11.4-10.5 11.3-10.4 11.4-10.4 11.4-10.4 11.4-10.3 11.4-10.3 11.3-10.3 11.4-10.2 11.4-10.1 11.4-10.2 11.4-10 11.3-10.1 11.4-10 11.4-10 11.4-9.9 11.4-9.9 11.3-9.9 11.4-9.8 11.4-9.8 11.4-9.8 11.4-9.7 11.3-9.7 11.4-9.6 11.4-9.7 11.4-9.5 11.4-9.6 11.3-9.5 11.4-9.5 11.4-9.5 11.4-9.4 11.4-9.4 11.3-9.4 11.4-9.3 11.4-9.3"/>
<path d="M795.8 1299.9l11.4-12.8 11.4-12.8 11.4-12.7 11.3-12.6 11.4-12.6 11.4-12.6 11.4-12.4 11.4-12.5 11.3-12.3 11.4-12.3 11.4-12.3 11.4-12.2 11.4-12.1 11.3-12.1 11.4-12 11.4-12 11.4-12 11.4-11.8 11.3-11.8 11.4-11.8 11.4-11.7 11.4-11.7 11.4-11.6 11.3-11.6 11.4-11.5 11.4-11.4 11.4-11.4 11.4-11.4 11.3-11.3 11.4-11.3 11.4-11.2 11.4-11.1 11.4-11.2 11.3-11 11.4-11 11.4-11 11.4-11 11.4-10.8 11.3-10.9 11.4-10.8 11.4-10.7 11.4-10.7 11.4-10.7 11.3-10.6 11.4-10.6 11.4-10.5 11.4-10.5 11.4-10.5 11.3-10.4 11.4-10.3 11.4-10.4 11.4-10.2 11.4-10.3 11.3-10.2 11.4-10.2 11.4-10.1 11.4-10.1 11.4-10 11.3-10 11.4-10 11.4-10 11.4-9.9 11.4-9.8 11.3-9.8 11.4-9.8 11.4-9.8 11.4-9.7 11.4-9.7 11.3-9.7 11.4-9.6 11.4-9.6 11.4-9.5 11.4-9.6 11.3-9.5 11.4-9.4 11.4-9.4 11.4-9.4 11.4-9.4 11.3-9.3 11.4-9.3"/>
<path d="M774.8 1289.1l11.4-12.9 11.4-12.7 11.4-12.8 11.4-12.6 11.3-12.6 11.4-12.5 11.4-12.5 11.4-12.4 11.4-12.4 11.3-12.3 11.4-12.3 11.4-12.2 11.4-12.1 11.4-12.1 11.3-12 11.4-12 11.4-11.9 11.4-11.9 11.4-11.8 11.3-11.8 11.4-11.7 11.4-11.6 11.4-11.7 11.4-11.5 11.3-11.5 11.4-11.5 11.4-11.4 11.4-11.4 11.4-11.3 11.3-11.2 11.4-11.2 11.4-11.2 11.4-11.1 11.4-11.1 11.3-11 11.4-11 11.4-10.9 11.4-10.9 11.4-10.8 11.3-10.8 11.4-10.8 11.4-10.7 11.4-10.7 11.4-10.6 11.3-10.6 11.4-10.5 11.4-10.5 11.4-10.4 11.4-10.4 11.3-10.4 11.4-10.3 11.4-10.3 11.4-10.3 11.4-10.2 11.3-10.1 11.4-10.2 11.4-10 11.4-10.1 11.4-10 11.3-10 11.4-9.9 11.4-9.9 11.4-9.9 11.4-9.8 11.3-9.8 11.4-9.8 11.4-9.7 11.4-9.7 11.4-9.6 11.3-9.7 11.4-9.5 11.4-9.6 11.4-9.5 11.4-9.5 11.3-9.5 11.4-9.4 11.4-9.4 11.4-9.4 11.4-9.3 11.3-9.3"/>
<path d="M753.9 1278.2l11.3-12.9 11.4-12.7 11.4-12.7 11.4-12.7 11.4-12.6 11.3-12.5 11.4-12.5 11.4-12.4 11.4-12.4 11.4-12.3 11.3-12.2 11.4-12.2 11.4-12.2 11.4-12.1 11.4-12 11.3-12 11.4-11.9 11.4-11.9 11.4-11.8 11.4-11.8 11.3-11.7 11.4-11.6 11.4-11.6 11.4-11.6 11.4-11.5 11.3-11.5 11.4-11.4 11.4-11.3 11.4-11.4 11.4-11.2 11.3-11.2 11.4-11.2 11.4-11.1 11.4-11.1 11.4-11 11.3-11 11.4-10.9 11.4-10.9 11.4-10.8 11.4-10.8 11.3-10.8 11.4-10.7 11.4-10.6 11.4-10.7 11.4-10.5 11.3-10.6 11.4-10.5 11.4-10.4 11.4-10.4 11.4-10.4 11.3-10.3 11.4-10.3 11.4-10.2 11.4-10.2 11.4-10.2 11.3-10.1 11.4-10.1 11.4-10.1 11.4-10 11.4-10 11.3-9.9 11.4-9.9 11.4-9.9 11.4-9.8 11.4-9.8 11.3-9.8 11.4-9.7 11.4-9.7 11.4-9.6 11.4-9.6 11.3-9.6 11.4-9.6 11.4-9.5 11.4-9.5 11.4-9.5 11.3-9.4 11.4-9.4 11.4-9.4 11.4-9.3 11.4-9.3"/>
<path d="M732.9 1267.3l11.4-12.9 11.3-12.7 11.4-12.7 11.4-12.7 11.4-12.6 11.4-12.5 11.3-12.5 11.4-12.4 11.4-12.4 11.4-12.3 11.4-12.3 11.3-12.1 11.4-12.2 11.4-12.1 11.4-12 11.4-12 11.3-11.9 11.4-11.9 11.4-11.8 11.4-11.8 11.4-11.7 11.3-11.6 11.4-11.7 11.4-11.5 11.4-11.5 11.4-11.5 11.3-11.4 11.4-11.4 11.4-11.3 11.4-11.2 11.4-11.2 11.3-11.2 11.4-11.1 11.4-11.1 11.4-11 11.4-11 11.3-10.9 11.4-10.9 11.4-10.8 11.4-10.8 11.4-10.8 11.3-10.7 11.4-10.7 11.4-10.6 11.4-10.6 11.4-10.5 11.3-10.5 11.4-10.4 11.4-10.4 11.4-10.4 11.4-10.3 11.3-10.3 11.4-10.3 11.4-10.2 11.4-10.1 11.4-10.2 11.3-10 11.4-10.1 11.4-10 11.4-10 11.4-9.9 11.3-9.9 11.4-9.9 11.4-9.8 11.4-9.8 11.4-9.8 11.3-9.7 11.4-9.7 11.4-9.6 11.4-9.7 11.4-9.5 11.3-9.6 11.4-9.5 11.4-9.5 11.4-9.5 11.4-9.4 11.3-9.4 11.4-9.4 11.4-9.3 11.4-9.3"/>
<path d="M711.9 1256.3l11.4-12.8 11.4-12.8 11.3-12.7 11.4-12.6 11.4-12.6 11.4-12.6 11.4-12.4 11.3-12.5 11.4-12.3 11.4-12.3 11.4-12.3 11.4-12.2 11.3-12.1 11.4-12.1 11.4-12 11.4-12 11.4-11.9 11.3-11.9 11.4-11.8 11.4-11.8 11.4-11.7 11.4-11.7 11.3-11.6 11.4-11.5 11.4-11.5 11.4-11.5 11.4-11.4 11.3-11.4 11.4-11.3 11.4-11.2 11.4-11.3 11.4-11.1 11.3-11.1 11.4-11.1 11.4-11 11.4-11 11.4-10.9 11.3-10.9 11.4-10.9 11.4-10.8 11.4-10.7 11.4-10.7 11.3-10.7 11.4-10.6 11.4-10.6 11.4-10.5 11.4-10.5 11.3-10.5 11.4-10.4 11.4-10.3 11.4-10.3 11.4-10.3 11.3-10.3 11.4-10.2 11.4-10.2 11.4-10.1 11.4-10.1 11.3-10 11.4-10 11.4-10 11.4-9.9 11.4-9.9 11.3-9.9 11.4-9.8 11.4-9.8 11.4-9.8 11.4-9.7 11.3-9.7 11.4-9.7 11.4-9.6 11.4-9.6 11.4-9.5 11.3-9.5 11.4-9.5 11.4-9.5 11.4-9.4 11.4-9.4 11.3-9.4 11.4-9.3 11.4-9.3"/>
<path d="M690.9 1245.4l11.4-12.8 11.4-12.8 11.4-12.7 11.3-12.7 11.4-12.6 11.4-12.5 11.4-12.5 11.4-12.4 11.3-12.4 11.4-12.3 11.4-12.2 11.4-12.2 11.4-12.2 11.3-12 11.4-12.1 11.4-12 11.4-11.9 11.4-11.8 11.3-11.9 11.4-11.7 11.4-11.7 11.4-11.7 11.4-11.6 11.3-11.6 11.4-11.5 11.4-11.4 11.4-11.5 11.4-11.3 11.3-11.3 11.4-11.3 11.4-11.2 11.4-11.2 11.4-11.1 11.3-11.1 11.4-11 11.4-11 11.4-10.9 11.4-10.9 11.3-10.8 11.4-10.8 11.4-10.8 11.4-10.7 11.4-10.6 11.3-10.6 11.4-10.6 11.4-10.5 11.4-10.5 11.4-10.5 11.3-10.4 11.4-10.4 11.4-10.3 11.4-10.3 11.4-10.2 11.3-10.2 11.4-10.2 11.4-10.1 11.4-10.1 11.4-10.1 11.3-10 11.4-9.9 11.4-10 11.4-9.9 11.4-9.8 11.3-9.9 11.4-9.8 11.4-9.7 11.4-9.8 11.4-9.6 11.3-9.7 11.4-9.6 11.4-9.6 11.4-9.6 11.4-9.5 11.3-9.5 11.4-9.4 11.4-9.5 11.4-9.4 11.4-9.3 11.3-9.4 11.4-9.3"/>
<path d="M669.9 1234.5l11.4-12.9 11.4-12.7 11.4-12.8 11.4-12.6 11.3-12.6 11.4-12.5 11.4-12.5 11.4-12.4 11.4-12.4 11.3-12.3 11.4-12.3 11.4-12.2 11.4-12.1 11.4-12.1 11.3-12 11.4-12 11.4-11.9 11.4-11.9 11.4-11.8 11.3-11.8 11.4-11.7 11.4-11.7 11.4-11.6 11.4-11.5 11.3-11.5 11.4-11.5 11.4-11.4 11.4-11.4 11.4-11.3 11.3-11.2 11.4-11.2 11.4-11.2 11.4-11.1 11.4-11.1 11.3-11 11.4-11 11.4-10.9 11.4-10.9 11.4-10.9 11.3-10.7 11.4-10.8 11.4-10.7 11.4-10.7 11.4-10.6 11.3-10.6 11.4-10.5 11.4-10.5 11.4-10.4 11.4-10.4 11.3-10.4 11.4-10.3 11.4-10.3 11.4-10.3 11.4-10.2 11.3-10.1 11.4-10.2 11.4-10 11.4-10.1 11.4-10 11.3-10 11.4-9.9 11.4-9.9 11.4-9.9 11.4-9.8 11.3-9.8 11.4-9.8 11.4-9.7 11.4-9.7 11.4-9.6 11.3-9.7 11.4-9.6 11.4-9.5 11.4-9.5 11.4-9.5 11.3-9.5 11.4-9.4 11.4-9.4 11.4-9.4 11.4-9.3 11.3-9.3"/>
<path d="M649 1223.5l11.3-12.8 11.4-12.8 11.4-12.7 11.4-12.7 11.4-12.5 11.3-12.6 11.4-12.5 11.4-12.4 11.4-12.3 11.4-12.4 11.3-12.2 11.4-12.2 11.4-12.1 11.4-12.1 11.4-12.1 11.3-11.9 11.4-12 11.4-11.8 11.4-11.9 11.4-11.7 11.3-11.7 11.4-11.7 11.4-11.6 11.4-11.6 11.4-11.5 11.3-11.4 11.4-11.4 11.4-11.4 11.4-11.3 11.4-11.3 11.3-11.2 11.4-11.2 11.4-11.1 11.4-11 11.4-11.1 11.3-10.9 11.4-11 11.4-10.9 11.4-10.8 11.4-10.8 11.3-10.7 11.4-10.7 11.4-10.7 11.4-10.6 11.4-10.6 11.3-10.5 11.4-10.5 11.4-10.5 11.4-10.4 11.4-10.4 11.3-10.3 11.4-10.3 11.4-10.2 11.4-10.2 11.4-10.2 11.3-10.1 11.4-10.1 11.4-10 11.4-10.1 11.4-9.9 11.3-10 11.4-9.9 11.4-9.8 11.4-9.9 11.4-9.8 11.3-9.7 11.4-9.7 11.4-9.7 11.4-9.7 11.4-9.6 11.3-9.6 11.4-9.6 11.4-9.5 11.4-9.5 11.4-9.4 11.3-9.5 11.4-9.4 11.4-9.3 11.4-9.4 11.4-9.3"/>
<path d="M628 1212.6l11.4-12.9 11.3-12.7 11.4-12.7 11.4-12.7 11.4-12.6 11.4-12.5 11.3-12.5 11.4-12.4 11.4-12.4 11.4-12.3 11.4-12.3 11.3-12.1 11.4-12.2 11.4-12.1 11.4-12 11.4-12 11.3-11.9 11.4-11.9 11.4-11.8 11.4-11.8 11.4-11.7 11.3-11.6 11.4-11.7 11.4-11.5 11.4-11.5 11.4-11.5 11.3-11.4 11.4-11.3 11.4-11.4 11.4-11.2 11.4-11.2 11.3-11.2 11.4-11.1 11.4-11.1 11.4-11 11.4-11 11.3-10.9 11.4-10.9 11.4-10.8 11.4-10.8 11.4-10.8 11.3-10.7 11.4-10.7 11.4-10.6 11.4-10.6 11.4-10.5 11.3-10.5 11.4-10.4 11.4-10.4 11.4-10.4 11.4-10.3 11.3-10.3 11.4-10.3 11.4-10.2 11.4-10.1 11.4-10.1 11.3-10.1 11.4-10.1 11.4-10 11.4-10 11.4-9.9 11.3-9.9 11.4-9.9 11.4-9.8 11.4-9.8 11.4-9.8 11.3-9.7 11.4-9.7 11.4-9.6 11.4-9.7 11.4-9.5 11.3-9.6 11.4-9.5 11.4-9.5 11.4-9.5 11.4-9.4 11.3-9.4 11.4-9.4 11.4-9.3 11.4-9.3"/>
<path d="M607 1201.6l11.4-12.8 11.4-12.8 11.3-12.7 11.4-12.6 11.4-12.6 11.4-12.6 11.4-12.4 11.3-12.5 11.4-12.3 11.4-12.3 11.4-12.3 11.4-12.2 11.3-12.1 11.4-12.1 11.4-12 11.4-12 11.4-11.9 11.3-11.9 11.4-11.8 11.4-11.8 11.4-11.7 11.4-11.7 11.3-11.6 11.4-11.6 11.4-11.5 11.4-11.4 11.4-11.4 11.3-11.4 11.4-11.3 11.4-11.3 11.4-11.2 11.4-11.1 11.3-11.2 11.4-11 11.4-11 11.4-11 11.4-11 11.3-10.8 11.4-10.9 11.4-10.8 11.4-10.7 11.4-10.7 11.3-10.7 11.4-10.6 11.4-10.6 11.4-10.5 11.4-10.5 11.3-10.5 11.4-10.4 11.4-10.3 11.4-10.4 11.4-10.2 11.3-10.3 11.4-10.2 11.4-10.2 11.4-10.1 11.4-10.1 11.3-10 11.4-10 11.4-10 11.4-10 11.4-9.9 11.3-9.8 11.4-9.8 11.4-9.8 11.4-9.8 11.4-9.7 11.3-9.7 11.4-9.7 11.4-9.6 11.4-9.6 11.4-9.5 11.3-9.6 11.4-9.5 11.4-9.4 11.4-9.4 11.4-9.4 11.3-9.4 11.4-9.3 11.4-9.3"/>
<path d="M586 1190.7l11.4-12.8 11.4-12.8 11.4-12.7 11.3-12.7 11.4-12.6 11.4-12.5 11.4-12.5 11.4-12.4 11.3-12.4 11.4-12.3 11.4-12.2 11.4-12.2 11.4-12.2 11.3-12 11.4-12.1 11.4-12 11.4-11.9 11.4-11.8 11.3-11.9 11.4-11.7 11.4-11.7 11.4-11.7 11.4-11.6 11.3-11.6 11.4-11.5 11.4-11.4 11.4-11.5 11.4-11.3 11.3-11.3 11.4-11.3 11.4-11.2 11.4-11.2 11.4-11.1 11.3-11.1 11.4-11 11.4-11 11.4-10.9 11.4-10.9 11.3-10.8 11.4-10.8 11.4-10.8 11.4-10.7 11.4-10.6 11.3-10.6 11.4-10.6 11.4-10.5 11.4-10.5 11.4-10.5 11.3-10.4 11.4-10.4 11.4-10.3 11.4-10.3 11.4-10.2 11.3-10.2 11.4-10.2 11.4-10.1 11.4-10.1 11.4-10.1 11.3-10 11.4-9.9 11.4-10 11.4-9.9 11.4-9.8 11.3-9.9 11.4-9.8 11.4-9.7 11.4-9.7 11.4-9.7 11.3-9.7 11.4-9.6 11.4-9.6 11.4-9.6 11.4-9.5 11.3-9.5 11.4-9.4 11.4-9.5 11.4-9.4 11.4-9.3 11.3-9.4 11.4-9.3"/>
<path d="M565 1179.8l11.4-12.8 11.4-12.8 11.4-12.7 11.4-12.7 11.3-12.6 11.4-12.5 11.4-12.5 11.4-12.4 11.4-12.4 11.3-12.3 11.4-12.2 11.4-12.2 11.4-12.2 11.4-12 11.3-12.1 11.4-12 11.4-11.9 11.4-11.9 11.4-11.8 11.3-11.7 11.4-11.8 11.4-11.6 11.4-11.6 11.4-11.6 11.3-11.5 11.4-11.5 11.4-11.4 11.4-11.3 11.4-11.3 11.3-11.3 11.4-11.2 11.4-11.2 11.4-11.1 11.4-11.1 11.3-11 11.4-11 11.4-10.9 11.4-10.9 11.4-10.8 11.3-10.8 11.4-10.8 11.4-10.7 11.4-10.6 11.4-10.6 11.3-10.6 11.4-10.6 11.4-10.4 11.4-10.5 11.4-10.4 11.3-10.4 11.4-10.3 11.4-10.3 11.4-10.2 11.4-10.2 11.3-10.2 11.4-10.1 11.4-10.1 11.4-10.1 11.4-10 11.3-9.9 11.4-10 11.4-9.9 11.4-9.9 11.4-9.8 11.3-9.8 11.4-9.7 11.4-9.8 11.4-9.6 11.4-9.7 11.3-9.6 11.4-9.6 11.4-9.6 11.4-9.5 11.4-9.5 11.3-9.4 11.4-9.5 11.4-9.4 11.4-9.3 11.4-9.4 11.3-9.3"/>
<path d="M544.1 1168.9l11.3-12.8 11.4-12.8 11.4-12.7 11.4-12.7 11.4-12.6 11.3-12.5 11.4-12.5 11.4-12.4 11.4-12.4 11.4-12.3 11.3-12.2 11.4-12.2 11.4-12.2 11.4-12 11.4-12.1 11.3-11.9 11.4-12 11.4-11.8 11.4-11.9 11.4-11.7 11.3-11.7 11.4-11.7 11.4-11.6 11.4-11.6 11.4-11.5 11.3-11.4 11.4-11.5 11.4-11.3 11.4-11.3 11.4-11.3 11.3-11.2 11.4-11.2 11.4-11.1 11.4-11 11.4-11.1 11.3-10.9 11.4-11 11.4-10.9 11.4-10.8 11.4-10.8 11.3-10.7 11.4-10.8 11.4-10.6 11.4-10.6 11.4-10.6 11.3-10.5 11.4-10.5 11.4-10.5 11.4-10.4 11.4-10.4 11.3-10.3 11.4-10.3 11.4-10.2 11.4-10.2 11.4-10.2 11.3-10.1 11.4-10.1 11.4-10.1 11.4-10 11.4-9.9 11.3-10 11.4-9.9 11.4-9.8 11.4-9.9 11.4-9.8 11.3-9.7 11.4-9.7 11.4-9.7 11.4-9.7 11.4-9.6 11.3-9.6 11.4-9.6 11.4-9.5 11.4-9.5 11.4-9.4 11.3-9.5 11.4-9.4 11.4-9.3 11.4-9.4 11.4-9.3"/>
<path d="M523.1 1158l11.4-12.8 11.3-12.8 11.4-12.7 11.4-12.6 11.4-12.6 11.4-12.6 11.3-12.4 11.4-12.5 11.4-12.3 11.4-12.3 11.4-12.3 11.3-12.2 11.4-12.1 11.4-12.1 11.4-12 11.4-12 11.3-11.9 11.4-11.9 11.4-11.8 11.4-11.8 11.4-11.7 11.3-11.7 11.4-11.6 11.4-11.5 11.4-11.5 11.4-11.5 11.3-11.4 11.4-11.4 11.4-11.3 11.4-11.2 11.4-11.3 11.3-11.1 11.4-11.1 11.4-11.1 11.4-11 11.4-11 11.3-10.9 11.4-10.9 11.4-10.9 11.4-10.8 11.4-10.7 11.3-10.7 11.4-10.7 11.4-10.6 11.4-10.6 11.4-10.5 11.3-10.5 11.4-10.4 11.4-10.5 11.4-10.3 11.4-10.3 11.3-10.3 11.4-10.3 11.4-10.2 11.4-10.1 11.4-10.2 11.3-10.1 11.4-10 11.4-10 11.4-10 11.4-9.9 11.3-9.9 11.4-9.9 11.4-9.8 11.4-9.8 11.4-9.8 11.3-9.7 11.4-9.7 11.4-9.7 11.4-9.6 11.4-9.6 11.3-9.5 11.4-9.5 11.4-9.5 11.4-9.5 11.4-9.4 11.3-9.4 11.4-9.4 11.4-9.3 11.4-9.3"/>
<path d="M502.1 1147.2l11.4-12.8 11.4-12.8 11.3-12.7 11.4-12.7 11.4-12.6 11.4-12.5 11.4-12.5 11.3-12.4 11.4-12.4 11.4-12.3 11.4-12.2 11.4-12.2 11.3-12.1 11.4-12.1 11.4-12.1 11.4-11.9 11.4-12 11.3-11.8 11.4-11.9 11.4-11.7 11.4-11.7 11.4-11.7 11.3-11.6 11.4-11.6 11.4-11.5 11.4-11.4 11.4-11.4 11.3-11.4 11.4-11.3 11.4-11.3 11.4-11.2 11.4-11.2 11.3-11.1 11.4-11 11.4-11.1 11.4-10.9 11.4-11 11.3-10.9 11.4-10.8 11.4-10.8 11.4-10.7 11.4-10.8 11.3-10.6 11.4-10.6 11.4-10.6 11.4-10.5 11.4-10.5 11.3-10.5 11.4-10.4 11.4-10.4 11.4-10.3 11.4-10.3 11.3-10.2 11.4-10.2 11.4-10.2 11.4-10.1 11.4-10.1 11.3-10 11.4-10.1 11.4-9.9 11.4-10 11.4-9.9 11.3-9.8 11.4-9.9 11.4-9.8 11.4-9.7 11.4-9.7 11.3-9.7 11.4-9.7 11.4-9.6 11.4-9.6 11.4-9.6 11.3-9.5 11.4-9.5 11.4-9.4 11.4-9.5 11.4-9.4 11.3-9.3 11.4-9.4 11.4-9.3"/>
<path d="M481.1 1136.4l11.4-12.8 11.4-12.8 11.4-12.7 11.3-12.7 11.4-12.6 11.4-12.5 11.4-12.5 11.4-12.4 11.3-12.3 11.4-12.4 11.4-12.2 11.4-12.2 11.4-12.1 11.3-12.1 11.4-12.1 11.4-11.9 11.4-12 11.4-11.8 11.3-11.9 11.4-11.7 11.4-11.7 11.4-11.7 11.4-11.6 11.3-11.6 11.4-11.5 11.4-11.4 11.4-11.4 11.4-11.4 11.3-11.3 11.4-11.3 11.4-11.2 11.4-11.2 11.4-11.1 11.3-11 11.4-11.1 11.4-10.9 11.4-11 11.4-10.9 11.3-10.8 11.4-10.8 11.4-10.7 11.4-10.8 11.4-10.6 11.3-10.6 11.4-10.6 11.4-10.5 11.4-10.5 11.4-10.5 11.3-10.4 11.4-10.4 11.4-10.3 11.4-10.3 11.4-10.2 11.3-10.2 11.4-10.2 11.4-10.1 11.4-10.1 11.4-10 11.3-10.1 11.4-9.9 11.4-10 11.4-9.9 11.4-9.8 11.3-9.9 11.4-9.8 11.4-9.7 11.4-9.7 11.4-9.7 11.3-9.7 11.4-9.6 11.4-9.6 11.4-9.6 11.4-9.5 11.3-9.5 11.4-9.4 11.4-9.5 11.4-9.4 11.4-9.3 11.3-9.4 11.4-9.3"/>
<path d="M460.1 1125.6l11.4-12.8 11.4-12.8 11.4-12.7 11.4-12.6 11.3-12.6 11.4-12.5 11.4-12.5 11.4-12.4 11.4-12.4 11.3-12.3 11.4-12.3 11.4-12.2 11.4-12.1 11.4-12.1 11.3-12 11.4-12 11.4-11.9 11.4-11.9 11.4-11.8 11.3-11.8 11.4-11.7 11.4-11.7 11.4-11.6 11.4-11.5 11.3-11.5 11.4-11.5 11.4-11.4 11.4-11.4 11.4-11.3 11.3-11.2 11.4-11.3 11.4-11.1 11.4-11.1 11.4-11.1 11.3-11 11.4-11 11.4-10.9 11.4-10.9 11.4-10.9 11.3-10.8 11.4-10.7 11.4-10.7 11.4-10.7 11.4-10.6 11.3-10.6 11.4-10.5 11.4-10.5 11.4-10.4 11.4-10.4 11.3-10.4 11.4-10.3 11.4-10.3 11.4-10.3 11.4-10.2 11.3-10.1 11.4-10.2 11.4-10.1 11.4-10 11.4-10 11.3-10 11.4-9.9 11.4-9.9 11.4-9.9 11.4-9.8 11.3-9.8 11.4-9.8 11.4-9.7 11.4-9.7 11.4-9.6 11.3-9.7 11.4-9.6 11.4-9.5 11.4-9.5 11.4-9.5 11.3-9.5 11.4-9.4 11.4-9.4 11.4-9.4 11.4-9.3 11.3-9.3"/>
<path d="M439.2 1114.9l11.3-12.8 11.4-12.8 11.4-12.7 11.4-12.6 11.4-12.6 11.3-12.6 11.4-12.4 11.4-12.5 11.4-12.3 11.4-12.3 11.3-12.3 11.4-12.2 11.4-12.1 11.4-12.1 11.4-12 11.3-12 11.4-11.9 11.4-11.9 11.4-11.8 11.4-11.8 11.3-11.7 11.4-11.7 11.4-11.6 11.4-11.5 11.4-11.6 11.3-11.4 11.4-11.4 11.4-11.4 11.4-11.3 11.4-11.3 11.3-11.2 11.4-11.1 11.4-11.2 11.4-11 11.4-11 11.3-11 11.4-11 11.4-10.8 11.4-10.9 11.4-10.8 11.3-10.7 11.4-10.7 11.4-10.7 11.4-10.6 11.4-10.6 11.3-10.5 11.4-10.5 11.4-10.5 11.4-10.4 11.4-10.3 11.3-10.4 11.4-10.2 11.4-10.3 11.4-10.2 11.4-10.2 11.3-10.1 11.4-10.1 11.4-10 11.4-10 11.4-10 11.3-9.9 11.4-10 11.4-9.8 11.4-9.8 11.4-9.8 11.3-9.8 11.4-9.7 11.4-9.7 11.4-9.7 11.4-9.6 11.3-9.6 11.4-9.5 11.4-9.6 11.4-9.4 11.4-9.5 11.3-9.4 11.4-9.4 11.4-9.4 11.4-9.3 11.4-9.3"/>
<path d="M418.2 1104.3l11.4-12.9 11.3-12.7 11.4-12.8 11.4-12.6 11.4-12.6 11.4-12.5 11.3-12.5 11.4-12.4 11.4-12.4 11.4-12.3 11.4-12.3 11.3-12.2 11.4-12.1 11.4-12.1 11.4-12 11.4-12 11.3-11.9 11.4-11.9 11.4-11.8 11.4-11.8 11.4-11.7 11.3-11.6 11.4-11.7 11.4-11.5 11.4-11.5 11.4-11.5 11.3-11.4 11.4-11.4 11.4-11.3 11.4-11.2 11.4-11.2 11.3-11.2 11.4-11.1 11.4-11.1 11.4-11 11.4-11 11.3-10.9 11.4-10.9 11.4-10.8 11.4-10.8 11.4-10.8 11.3-10.7 11.4-10.7 11.4-10.6 11.4-10.6 11.4-10.5 11.3-10.5 11.4-10.4 11.4-10.4 11.4-10.4 11.4-10.3 11.3-10.3 11.4-10.3 11.4-10.2 11.4-10.1 11.4-10.2 11.3-10 11.4-10.1 11.4-10 11.4-10 11.4-9.9 11.3-9.9 11.4-9.9 11.4-9.8 11.4-9.8 11.4-9.8 11.3-9.7 11.4-9.7 11.4-9.6 11.4-9.7 11.4-9.5 11.3-9.6 11.4-9.5 11.4-9.5 11.4-9.5 11.4-9.4 11.3-9.4 11.4-9.4 11.4-9.3 11.4-9.3"/>
<path d="M397.2 1093.6l11.4-12.8 11.4-12.8 11.3-12.7 11.4-12.6 11.4-12.6 11.4-12.5 11.4-12.5 11.3-12.4 11.4-12.4 11.4-12.3 11.4-12.3 11.4-12.2 11.3-12.1 11.4-12.1 11.4-12 11.4-12 11.4-11.9 11.3-11.9 11.4-11.8 11.4-11.8 11.4-11.7 11.4-11.7 11.3-11.6 11.4-11.5 11.4-11.5 11.4-11.5 11.4-11.4 11.3-11.4 11.4-11.3 11.4-11.2 11.4-11.3 11.4-11.1 11.3-11.1 11.4-11.1 11.4-11 11.4-11 11.4-10.9 11.3-10.9 11.4-10.9 11.4-10.8 11.4-10.7 11.4-10.7 11.3-10.7 11.4-10.6 11.4-10.6 11.4-10.5 11.4-10.5 11.3-10.4 11.4-10.5 11.4-10.3 11.4-10.3 11.4-10.3 11.3-10.3 11.4-10.2 11.4-10.1 11.4-10.2 11.4-10.1 11.3-10 11.4-10 11.4-10 11.4-9.9 11.4-9.9 11.3-9.9 11.4-9.8 11.4-9.8 11.4-9.8 11.4-9.7 11.3-9.7 11.4-9.7 11.4-9.6 11.4-9.6 11.4-9.5 11.3-9.5 11.4-9.5 11.4-9.5 11.4-9.4 11.4-9.4 11.3-9.4 11.4-9.3 11.4-9.3"/>
<path d="M376.2 1083.1l11.4-12.8 11.4-12.8 11.4-12.7 11.3-12.7 11.4-12.6 11.4-12.5 11.4-12.5 11.4-12.4 11.3-12.4 11.4-12.3 11.4-12.2 11.4-12.2 11.4-12.2 11.3-12.1 11.4-12 11.4-12 11.4-11.9 11.4-11.9 11.3-11.8 11.4-11.7 11.4-11.8 11.4-11.6 11.4-11.6 11.3-11.6 11.4-11.5 11.4-11.5 11.4-11.4 11.4-11.3 11.3-11.3 11.4-11.3 11.4-11.2 11.4-11.2 11.4-11.1 11.3-11.1 11.4-11 11.4-11 11.4-10.9 11.4-10.9 11.3-10.8 11.4-10.8 11.4-10.8 11.4-10.7 11.4-10.6 11.3-10.7 11.4-10.5 11.4-10.6 11.4-10.5 11.4-10.4 11.3-10.4 11.4-10.4 11.4-10.3 11.4-10.3 11.4-10.2 11.3-10.2 11.4-10.2 11.4-10.1 11.4-10.1 11.4-10.1 11.3-10 11.4-10 11.4-9.9 11.4-9.9 11.4-9.9 11.3-9.8 11.4-9.8 11.4-9.7 11.4-9.8 11.4-9.7 11.3-9.6 11.4-9.6 11.4-9.6 11.4-9.6 11.4-9.5 11.3-9.5 11.4-9.5 11.4-9.4 11.4-9.4 11.4-9.3 11.3-9.4 11.4-9.3"/>
<path d="M355.2 1072.6l11.4-12.9 11.4-12.7 11.4-12.7 11.4-12.7 11.3-12.6 11.4-12.5 11.4-12.5 11.4-12.4 11.4-12.4 11.3-12.3 11.4-12.2 11.4-12.2 11.4-12.2 11.4-12.1 11.3-12 11.4-12 11.4-11.9 11.4-11.9 11.4-11.8 11.3-11.7 11.4-11.8 11.4-11.6 11.4-11.6 11.4-11.6 11.3-11.5 11.4-11.5 11.4-11.4 11.4-11.3 11.4-11.3 11.3-11.3 11.4-11.2 11.4-11.2 11.4-11.1 11.4-11.1 11.3-11 11.4-11 11.4-10.9 11.4-10.9 11.4-10.8 11.3-10.8 11.4-10.8 11.4-10.7 11.4-10.6 11.4-10.7 11.3-10.5 11.4-10.6 11.4-10.5 11.4-10.4 11.4-10.4 11.3-10.4 11.4-10.3 11.4-10.3 11.4-10.2 11.4-10.2 11.3-10.2 11.4-10.1 11.4-10.1 11.4-10.1 11.4-10 11.3-10 11.4-9.9 11.4-9.9 11.4-9.9 11.4-9.8 11.3-9.8 11.4-9.7 11.4-9.8 11.4-9.7 11.4-9.6 11.3-9.6 11.4-9.6 11.4-9.6 11.4-9.5 11.4-9.5 11.3-9.5 11.4-9.4 11.4-9.4 11.4-9.3 11.4-9.4 11.3-9.3"/>
<path d="M334.3 1062.1l11.3-12.8 11.4-12.8 11.4-12.7 11.4-12.6 11.4-12.6 11.3-12.5 11.4-12.5 11.4-12.4 11.4-12.4 11.4-12.3 11.3-12.3 11.4-12.2 11.4-12.1 11.4-12.1 11.4-12 11.3-12 11.4-11.9 11.4-11.9 11.4-11.8 11.4-11.8 11.3-11.7 11.4-11.7 11.4-11.6 11.4-11.5 11.4-11.5 11.3-11.5 11.4-11.4 11.4-11.4 11.4-11.3 11.4-11.2 11.3-11.3 11.4-11.1 11.4-11.1 11.4-11.1 11.4-11 11.3-11 11.4-10.9 11.4-10.9 11.4-10.9 11.4-10.8 11.3-10.7 11.4-10.7 11.4-10.7 11.4-10.6 11.4-10.6 11.3-10.5 11.4-10.5 11.4-10.4 11.4-10.4 11.4-10.4 11.3-10.3 11.4-10.3 11.4-10.3 11.4-10.2 11.4-10.1 11.3-10.2 11.4-10.1 11.4-10 11.4-10 11.4-10 11.3-9.9 11.4-9.9 11.4-9.9 11.4-9.8 11.4-9.8 11.3-9.8 11.4-9.7 11.4-9.7 11.4-9.6 11.4-9.7 11.3-9.6 11.4-9.5 11.4-9.5 11.4-9.5 11.4-9.5 11.3-9.4 11.4-9.4 11.4-9.4 11.4-9.3 11.4-9.3"/>
<path d="M313.3 1051.8l11.4-12.9 11.3-12.7 11.4-12.7 11.4-12.7 11.4-12.6 11.4-12.5 11.3-12.5 11.4-12.4 11.4-12.4 11.4-12.3 11.4-12.2 11.3-12.2 11.4-12.2 11.4-12.1 11.4-12 11.4-12 11.3-11.9 11.4-11.9 11.4-11.8 11.4-11.8 11.4-11.7 11.3-11.6 11.4-11.6 11.4-11.6 11.4-11.5 11.4-11.5 11.3-11.4 11.4-11.3 11.4-11.3 11.4-11.3 11.4-11.2 11.3-11.2 11.4-11.1 11.4-11.1 11.4-11 11.4-11 11.3-10.9 11.4-10.9 11.4-10.8 11.4-10.8 11.4-10.8 11.3-10.7 11.4-10.6 11.4-10.7 11.4-10.5 11.4-10.6 11.3-10.5 11.4-10.4 11.4-10.4 11.4-10.4 11.4-10.3 11.3-10.3 11.4-10.2 11.4-10.2 11.4-10.2 11.4-10.1 11.3-10.1 11.4-10.1 11.4-10 11.4-10 11.4-9.9 11.3-9.9 11.4-9.9 11.4-9.8 11.4-9.8 11.4-9.7 11.3-9.8 11.4-9.7 11.4-9.6 11.4-9.6 11.4-9.6 11.3-9.6 11.4-9.5 11.4-9.5 11.4-9.5 11.4-9.4 11.3-9.4 11.4-9.3 11.4-9.4 11.4-9.3"/>
<path d="M292.3 1041.5l11.4-12.8 11.4-12.8 11.3-12.7 11.4-12.7 11.4-12.6 11.4-12.5 11.4-12.5 11.3-12.4 11.4-12.4 11.4-12.3 11.4-12.2 11.4-12.2 11.3-12.2 11.4-12.1 11.4-12 11.4-12 11.4-11.9 11.3-11.9 11.4-11.8 11.4-11.7 11.4-11.8 11.4-11.6 11.3-11.6 11.4-11.6 11.4-11.5 11.4-11.5 11.4-11.4 11.3-11.3 11.4-11.3 11.4-11.3 11.4-11.2 11.4-11.2 11.3-11.1 11.4-11.1 11.4-11 11.4-11 11.4-10.9 11.3-10.9 11.4-10.8 11.4-10.8 11.4-10.8 11.4-10.7 11.3-10.6 11.4-10.7 11.4-10.5 11.4-10.6 11.4-10.5 11.3-10.4 11.4-10.4 11.4-10.4 11.4-10.3 11.4-10.3 11.3-10.2 11.4-10.2 11.4-10.2 11.4-10.1 11.4-10.1 11.3-10.1 11.4-10 11.4-10 11.4-9.9 11.4-9.9 11.3-9.9 11.4-9.8 11.4-9.8 11.4-9.7 11.4-9.8 11.3-9.7 11.4-9.6 11.4-9.6 11.4-9.6 11.4-9.6 11.3-9.5 11.4-9.5 11.4-9.5 11.4-9.4 11.4-9.4 11.3-9.3 11.4-9.4 11.4-9.3"/>
<path d="M271.3 1031.3l11.4-12.9 11.4-12.7 11.4-12.7 11.3-12.7 11.4-12.6 11.4-12.5 11.4-12.5 11.4-12.4 11.3-12.4 11.4-12.3 11.4-12.3 11.4-12.1 11.4-12.2 11.3-12.1 11.4-12 11.4-12 11.4-11.9 11.4-11.9 11.3-11.8 11.4-11.8 11.4-11.7 11.4-11.6 11.4-11.7 11.3-11.5 11.4-11.5 11.4-11.5 11.4-11.4 11.4-11.3 11.3-11.4 11.4-11.2 11.4-11.2 11.4-11.2 11.4-11.1 11.3-11.1 11.4-11 11.4-11 11.4-10.9 11.4-10.9 11.3-10.8 11.4-10.8 11.4-10.8 11.4-10.7 11.4-10.7 11.3-10.6 11.4-10.5 11.4-10.6 11.4-10.5 11.4-10.4 11.3-10.4 11.4-10.4 11.4-10.3 11.4-10.3 11.4-10.3 11.3-10.2 11.4-10.1 11.4-10.1 11.4-10.1 11.4-10.1 11.3-10 11.4-10 11.4-9.9 11.4-9.9 11.4-9.9 11.3-9.8 11.4-9.8 11.4-9.8 11.4-9.7 11.4-9.7 11.3-9.6 11.4-9.7 11.4-9.5 11.4-9.6 11.4-9.5 11.3-9.5 11.4-9.5 11.4-9.4 11.4-9.4 11.4-9.4 11.3-9.3 11.4-9.3"/>
<path d="M250.3 1021.1l11.4-12.8 11.4-12.8 11.4-12.7 11.4-12.6 11.3-12.6 11.4-12.6 11.4-12.4 11.4-12.5 11.4-12.3 11.3-12.3 11.4-12.3 11.4-12.2 11.4-12.1 11.4-12.1 11.3-12 11.4-12 11.4-11.9 11.4-11.9 11.4-11.8 11.3-11.8 11.4-11.7 11.4-11.7 11.4-11.6 11.4-11.5 11.3-11.6 11.4-11.4 11.4-11.4 11.4-11.4 11.4-11.3 11.3-11.3 11.4-11.2 11.4-11.1 11.4-11.2 11.4-11 11.3-11 11.4-11 11.4-11 11.4-10.8 11.4-10.9 11.3-10.8 11.4-10.7 11.4-10.7 11.4-10.7 11.4-10.6 11.3-10.6 11.4-10.5 11.4-10.5 11.4-10.5 11.4-10.4 11.3-10.3 11.4-10.4 11.4-10.2 11.4-10.3 11.4-10.2 11.3-10.2 11.4-10.1 11.4-10.1 11.4-10 11.4-10 11.3-10 11.4-10 11.4-9.9 11.4-9.8 11.4-9.8 11.3-9.8 11.4-9.8 11.4-9.7 11.4-9.7 11.4-9.7 11.3-9.6 11.4-9.6 11.4-9.5 11.4-9.6 11.4-9.4 11.3-9.5 11.4-9.4 11.4-9.4 11.4-9.4 11.4-9.3 11.3-9.3"/>
<path d="M229.4 1011.1l11.3-12.9 11.4-12.7 11.4-12.7 11.4-12.7 11.4-12.6 11.3-12.5 11.4-12.5 11.4-12.4 11.4-12.4 11.4-12.3 11.3-12.2 11.4-12.2 11.4-12.2 11.4-12.1 11.4-12 11.3-12 11.4-11.9 11.4-11.9 11.4-11.8 11.4-11.8 11.3-11.7 11.4-11.6 11.4-11.6 11.4-11.6 11.4-11.5 11.3-11.5 11.4-11.4 11.4-11.3 11.4-11.4 11.4-11.2 11.3-11.2 11.4-11.2 11.4-11.1 11.4-11.1 11.4-11 11.3-11 11.4-10.9 11.4-10.9 11.4-10.8 11.4-10.8 11.3-10.8 11.4-10.7 11.4-10.6 11.4-10.7 11.4-10.5 11.3-10.6 11.4-10.5 11.4-10.4 11.4-10.4 11.4-10.4 11.3-10.3 11.4-10.3 11.4-10.2 11.4-10.2 11.4-10.2 11.3-10.1 11.4-10.1 11.4-10.1 11.4-10 11.4-10 11.3-9.9 11.4-9.9 11.4-9.9 11.4-9.8 11.4-9.8 11.3-9.8 11.4-9.7 11.4-9.7 11.4-9.6 11.4-9.6 11.3-9.6 11.4-9.6 11.4-9.5 11.4-9.5 11.4-9.5 11.3-9.4 11.4-9.4 11.4-9.4 11.4-9.3 11.4-9.3"/>
<path d="M208.4 1001.1l11.4-12.8 11.3-12.8 11.4-12.7 11.4-12.7 11.4-12.6 11.4-12.5 11.3-12.5 11.4-12.4 11.4-12.4 11.4-12.3 11.4-12.2 11.3-12.2 11.4-12.1 11.4-12.1 11.4-12.1 11.4-11.9 11.3-12 11.4-11.8 11.4-11.9 11.4-11.7 11.4-11.7 11.3-11.7 11.4-11.6 11.4-11.6 11.4-11.5 11.4-11.4 11.3-11.4 11.4-11.4 11.4-11.3 11.4-11.3 11.4-11.2 11.3-11.2 11.4-11.1 11.4-11 11.4-11.1 11.4-10.9 11.3-11 11.4-10.9 11.4-10.8 11.4-10.8 11.4-10.7 11.3-10.8 11.4-10.6 11.4-10.6 11.4-10.6 11.4-10.5 11.3-10.5 11.4-10.5 11.4-10.4 11.4-10.4 11.4-10.3 11.3-10.3 11.4-10.2 11.4-10.2 11.4-10.2 11.4-10.1 11.3-10.1 11.4-10 11.4-10.1 11.4-9.9 11.4-10 11.3-9.9 11.4-9.8 11.4-9.9 11.4-9.8 11.4-9.7 11.3-9.7 11.4-9.7 11.4-9.7 11.4-9.6 11.4-9.6 11.3-9.6 11.4-9.5 11.4-9.5 11.4-9.4 11.4-9.5 11.3-9.4 11.4-9.3 11.4-9.4 11.4-9.3"/>
<path d="M187.4 991.2l11.4-12.8 11.4-12.8 11.3-12.7 11.4-12.6 11.4-12.6 11.4-12.6 11.4-12.4 11.3-12.5 11.4-12.3 11.4-12.3 11.4-12.3 11.4-12.2 11.3-12.1 11.4-12.1 11.4-12 11.4-12 11.4-11.9 11.3-11.9 11.4-11.8 11.4-11.8 11.4-11.7 11.4-11.7 11.3-11.6 11.4-11.5 11.4-11.6 11.4-11.4 11.4-11.4 11.3-11.4 11.4-11.3 11.4-11.3 11.4-11.2 11.4-11.1 11.3-11.2 11.4-11 11.4-11 11.4-11 11.4-11 11.3-10.8 11.4-10.9 11.4-10.8 11.4-10.7 11.4-10.7 11.3-10.7 11.4-10.6 11.4-10.6 11.4-10.5 11.4-10.5 11.3-10.5 11.4-10.4 11.4-10.3 11.4-10.4 11.4-10.2 11.3-10.3 11.4-10.2 11.4-10.2 11.4-10.1 11.4-10.1 11.3-10 11.4-10 11.4-10 11.4-9.9 11.4-10 11.3-9.8 11.4-9.8 11.4-9.8 11.4-9.8 11.4-9.7 11.3-9.7 11.4-9.7 11.4-9.6 11.4-9.6 11.4-9.5 11.3-9.6 11.4-9.4 11.4-9.5 11.4-9.4 11.4-9.4 11.3-9.4 11.4-9.3 11.4-9.3"/>
<path d="M1131.5 1466.7l-21-9.8-21-10-20.9-10.1-21-10.1-21-10.2-21-10.3-21-10.4-20.9-10.4-21-10.5-21-10.6-21-10.6-21-10.7-20.9-10.7-21-10.7-21-10.8-21-10.9-21-10.8-20.9-10.9-21-10.9-21-11-21-10.9-21-10.9-20.9-11-21-10.9-21-11-21-10.9-21-10.9-20.9-10.9-21-10.9-21-10.8-21-10.8-21-10.8-20.9-10.7-21-10.6-21-10.7-21-10.5-21-10.5-20.9-10.5-21-10.3-21-10.3-21-10.2-21-10.2-20.9-10-21-10-21-9.9"/>
<path d="M1142.9 1453.9l-21-9.9-21-9.9-21-10.1-20.9-10.1-21-10.3-21-10.2-21-10.4-21-10.5-20.9-10.5-21-10.5-21-10.6-21-10.7-21-10.7-20.9-10.8-21-10.8-21-10.8-21-10.9-21-10.9-20.9-10.9-21-10.9-21-10.9-21-11-21-10.9-20.9-11-21-10.9-21-10.9-21-10.9-21-10.9-20.9-10.9-21-10.8-21-10.8-21-10.8-21-10.7-20.9-10.7-21-10.6-21-10.5-21-10.6-21-10.4-20.9-10.4-21-10.2-21-10.3-21-10.1-21-10.1-20.9-9.9-21-9.9"/>
<path d="M1154.3 1441.1l-21-9.8-21-10-21-10.1-21-10.1-20.9-10.2-21-10.3-21-10.4-21-10.4-21-10.5-20.9-10.6-21-10.6-21-10.7-21-10.7-21-10.7-20.9-10.8-21-10.9-21-10.8-21-10.9-21-10.9-20.9-11-21-10.9-21-10.9-21-11-21-10.9-20.9-11-21-10.9-21-10.9-21-10.9-21-10.9-20.9-10.8-21-10.8-21-10.8-21-10.7-21-10.6-20.9-10.7-21-10.5-21-10.5-21-10.5-21-10.3-20.9-10.3-21-10.2-21-10.2-21-10-21-10-20.9-9.9"/>
<path d="M1165.6 1428.4l-20.9-9.9-21-9.9-21-10.1-21-10.1-21-10.2-20.9-10.3-21-10.4-21-10.4-21-10.5-21-10.6-20.9-10.6-21-10.7-21-10.7-21-10.8-21-10.8-20.9-10.8-21-10.9-21-10.8-21-10.9-21-11-20.9-10.9-21-11-21-10.9-21-10.9-21-11-20.9-10.9-21-10.9-21-10.9-21-10.9-21-10.8-20.9-10.8-21-10.8-21-10.7-21-10.7-21-10.6-20.9-10.5-21-10.5-21-10.5-21-10.3-21-10.3-20.9-10.2-21-10.2-21-10-21-10-21-9.9"/>
<path d="M1177 1415.8l-21-9.9-20.9-10-21-10-21-10.2-21-10.2-21-10.3-20.9-10.3-21-10.5-21-10.5-21-10.5-21-10.7-20.9-10.6-21-10.7-21-10.8-21-10.8-21-10.8-20.9-10.9-21-10.9-21-10.9-21-10.9-21-11-20.9-10.9-21-11-21-10.9-21-10.9-21-11-20.9-10.9-21-10.9-21-10.8-21-10.9-21-10.8-20.9-10.7-21-10.7-21-10.7-21-10.6-21-10.6-20.9-10.5-21-10.4-21-10.4-21-10.3-21-10.2-20.9-10.1-21-10.1-21-10-21-9.8"/>
<path d="M1188.4 1403.2l-21-9.9-21-10-20.9-10-21-10.2-21-10.2-21-10.3-21-10.3-20.9-10.5-21-10.5-21-10.5-21-10.7-21-10.6-20.9-10.7-21-10.8-21-10.8-21-10.8-21-10.9-20.9-10.9-21-10.9-21-10.9-21-11-21-10.9-20.9-10.9-21-11-21-10.9-21-11-21-10.9-20.9-10.9-21-10.8-21-10.9-21-10.8-21-10.7-20.9-10.7-21-10.7-21-10.6-21-10.6-21-10.5-20.9-10.4-21-10.4-21-10.3-21-10.2-21-10.1-20.9-10.1-21-10-21-9.8"/>
<path d="M1199.8 1390.6l-21-9.8-21-10-21-10.1-20.9-10.1-21-10.2-21-10.3-21-10.4-21-10.4-20.9-10.5-21-10.6-21-10.6-21-10.7-21-10.7-20.9-10.7-21-10.8-21-10.9-21-10.8-21-10.9-20.9-10.9-21-11-21-10.9-21-10.9-21-11-20.9-10.9-21-11-21-10.9-21-10.9-21-10.9-20.9-10.9-21-10.8-21-10.8-21-10.7-21-10.8-20.9-10.6-21-10.6-21-10.6-21-10.5-21-10.4-20.9-10.4-21-10.3-21-10.2-21-10.2-21-10-20.9-10-21-9.9"/>
<path d="M1211.2 1378.2l-21-9.9-21-10-21-10-21-10.2-20.9-10.2-21-10.3-21-10.4-21-10.4-21-10.5-20.9-10.6-21-10.6-21-10.6-21-10.8-21-10.7-20.9-10.8-21-10.8-21-10.9-21-10.9-21-10.9-20.9-10.9-21-11-21-10.9-21-11-21-10.9-20.9-10.9-21-11-21-10.9-21-10.9-21-10.8-20.9-10.9-21-10.8-21-10.7-21-10.7-21-10.7-20.9-10.6-21-10.6-21-10.5-21-10.4-21-10.4-20.9-10.3-21-10.2-21-10.1-21-10.1-21-10-20.9-9.8"/>
<path d="M1222.5 1365.7l-20.9-9.8-21-10-21-10.1-21-10.1-21-10.2-20.9-10.3-21-10.4-21-10.4-21-10.5-21-10.6-20.9-10.6-21-10.7-21-10.7-21-10.7-21-10.8-20.9-10.9-21-10.8-21-10.9-21-10.9-21-11-20.9-10.9-21-10.9-21-11-21-10.9-21-11-20.9-10.9-21-10.9-21-10.9-21-10.9-21-10.8-20.9-10.8-21-10.7-21-10.8-21-10.6-21-10.6-20.9-10.6-21-10.5-21-10.4-21-10.4-21-10.3-20.9-10.2-21-10.2-21-10-21-10-21-9.9"/>
<path d="M1233.9 1353.4l-21-9.9-20.9-10-21-10-21-10.2-21-10.2-21-10.3-20.9-10.3-21-10.5-21-10.5-21-10.5-21-10.7-20.9-10.6-21-10.7-21-10.8-21-10.8-21-10.8-20.9-10.9-21-10.9-21-10.9-21-10.9-21-11-20.9-10.9-21-10.9-21-11-21-10.9-21-11-20.9-10.9-21-10.9-21-10.8-21-10.9-21-10.7-20.9-10.8-21-10.7-21-10.7-21-10.6-21-10.6-20.9-10.5-21-10.4-21-10.4-21-10.3-21-10.2-20.9-10.1-21-10.1-21-10-21-9.8"/>
<path d="M1245.3 1341.1l-21-9.9-21-10-20.9-10-21-10.2-21-10.2-21-10.3-21-10.3-20.9-10.5-21-10.5-21-10.5-21-10.7-21-10.6-20.9-10.7-21-10.8-21-10.8-21-10.8-21-10.9-20.9-10.9-21-10.9-21-10.9-21-11-21-10.9-20.9-11-21-10.9-21-10.9-21-11-21-10.9-20.9-10.9-21-10.8-21-10.9-21-10.8-21-10.7-20.9-10.7-21-10.7-21-10.6-21-10.6-21-10.5-20.9-10.4-21-10.4-21-10.3-21-10.2-21-10.1-20.9-10.1-21-10-21-9.8"/>
<path d="M1256.7 1328.8l-21-9.9-21-9.9-21-10.1-20.9-10.1-21-10.2-21-10.3-21-10.4-21-10.4-20.9-10.5-21-10.6-21-10.6-21-10.7-21-10.7-20.9-10.8-21-10.8-21-10.8-21-10.9-21-10.8-20.9-11-21-10.9-21-10.9-21-11-21-10.9-20.9-11-21-10.9-21-10.9-21-10.9-21-10.9-20.9-10.9-21-10.8-21-10.8-21-10.8-21-10.7-20.9-10.7-21-10.6-21-10.5-21-10.5-21-10.5-20.9-10.3-21-10.3-21-10.3-21-10.1-21-10-20.9-10-21-9.9"/>
<path d="M1268.1 1316.6l-21-9.9-21-9.9-21-10.1-21-10.1-20.9-10.2-21-10.3-21-10.4-21-10.4-21-10.5-20.9-10.6-21-10.6-21-10.7-21-10.7-21-10.8-20.9-10.8-21-10.8-21-10.9-21-10.8-21-10.9-20.9-11-21-10.9-21-11-21-10.9-21-10.9-20.9-11-21-10.9-21-10.9-21-10.9-21-10.9-20.9-10.8-21-10.8-21-10.8-21-10.7-21-10.7-20.9-10.6-21-10.5-21-10.5-21-10.5-21-10.3-20.9-10.3-21-10.2-21-10.2-21-10-21-10-20.9-9.9"/>
<path d="M1279.4 1304.5l-20.9-9.9-21-10-21-10-21-10.2-21-10.2-20.9-10.3-21-10.3-21-10.5-21-10.5-21-10.5-20.9-10.7-21-10.6-21-10.7-21-10.8-21-10.8-20.9-10.8-21-10.9-21-10.9-21-10.9-21-10.9-20.9-11-21-10.9-21-10.9-21-11-21-10.9-20.9-11-21-10.9-21-10.9-21-10.8-21-10.8-20.9-10.8-21-10.8-21-10.7-21-10.7-21-10.6-20.9-10.6-21-10.5-21-10.4-21-10.4-21-10.3-20.9-10.2-21-10.1-21-10.1-21-9.9-21-9.9"/>
<path d="M1290.8 1292.4l-21-9.9-20.9-10-21-10-21-10.1-21-10.3-21-10.3-20.9-10.3-21-10.5-21-10.5-21-10.5-21-10.6-20.9-10.7-21-10.7-21-10.8-21-10.8-21-10.8-20.9-10.9-21-10.9-21-10.9-21-10.9-21-10.9-20.9-11-21-10.9-21-11-21-10.9-21-10.9-20.9-10.9-21-10.9-21-10.9-21-10.8-21-10.8-20.9-10.8-21-10.7-21-10.7-21-10.6-21-10.6-20.9-10.5-21-10.4-21-10.4-21-10.3-21-10.2-20.9-10.1-21-10.1-21-9.9-21-9.9"/>
<path d="M1302.2 1280.4l-21-9.9-21-10-20.9-10-21-10.2-21-10.2-21-10.3-21-10.4-20.9-10.4-21-10.5-21-10.6-21-10.6-21-10.6-20.9-10.8-21-10.7-21-10.8-21-10.8-21-10.9-20.9-10.9-21-10.9-21-10.9-21-11-21-10.9-20.9-11-21-10.9-21-10.9-21-11-21-10.9-20.9-10.9-21-10.8-21-10.9-21-10.8-21-10.7-20.9-10.7-21-10.7-21-10.6-21-10.6-21-10.5-20.9-10.4-21-10.4-21-10.3-21-10.2-21-10.1-20.9-10.1-21-10-21-9.8"/>
<path d="M1313.6 1268.4l-21-9.9-21-10-21-10-20.9-10.2-21-10.2-21-10.3-21-10.3-21-10.5-20.9-10.5-21-10.5-21-10.6-21-10.7-21-10.7-20.9-10.8-21-10.8-21-10.8-21-10.9-21-10.9-20.9-10.9-21-10.9-21-11-21-10.9-21-10.9-20.9-11-21-10.9-21-11-21-10.9-21-10.8-20.9-10.9-21-10.8-21-10.8-21-10.8-21-10.7-20.9-10.7-21-10.6-21-10.6-21-10.5-21-10.4-20.9-10.4-21-10.3-21-10.2-21-10.1-21-10.1-20.9-9.9-21-9.9"/>
<path d="M1325 1256.5l-21-9.9-21-10-21-10-21-10.2-20.9-10.2-21-10.3-21-10.4-21-10.4-21-10.5-20.9-10.6-21-10.6-21-10.6-21-10.8-21-10.7-20.9-10.8-21-10.9-21-10.8-21-10.9-21-10.9-20.9-10.9-21-11-21-10.9-21-11-21-10.9-20.9-10.9-21-11-21-10.9-21-10.9-21-10.8-20.9-10.9-21-10.8-21-10.7-21-10.7-21-10.7-20.9-10.6-21-10.6-21-10.5-21-10.4-21-10.4-20.9-10.3-21-10.2-21-10.1-21-10.1-21-10-20.9-9.8"/>
<path d="M1336.3 1244.6l-20.9-9.9-21-10-21-10-21-10.1-21-10.3-20.9-10.3-21-10.3-21-10.5-21-10.5-21-10.5-20.9-10.6-21-10.7-21-10.7-21-10.8-21-10.8-20.9-10.8-21-10.9-21-10.9-21-10.9-21-10.9-20.9-10.9-21-11-21-10.9-21-11-21-10.9-20.9-10.9-21-11-21-10.8-21-10.9-21-10.8-20.9-10.8-21-10.8-21-10.7-21-10.7-21-10.6-20.9-10.6-21-10.5-21-10.4-21-10.4-21-10.3-20.9-10.2-21-10.1-21-10.1-21-9.9-21-9.9"/>
<path d="M1347.7 1232.8l-21-9.9-20.9-10-21-10-21-10.2-21-10.2-21-10.3-20.9-10.3-21-10.5-21-10.5-21-10.5-21-10.7-20.9-10.6-21-10.7-21-10.8-21-10.8-21-10.8-20.9-10.9-21-10.9-21-10.9-21-10.9-21-11-20.9-10.9-21-11-21-10.9-21-10.9-21-11-20.9-10.9-21-10.9-21-10.8-21-10.9-21-10.8-20.9-10.7-21-10.7-21-10.7-21-10.6-21-10.6-20.9-10.5-21-10.4-21-10.4-21-10.3-21-10.2-20.9-10.1-21-10.1-21-10-21-9.8"/>
<path d="M1359.1 1221l-21-9.9-21-9.9-20.9-10.1-21-10.1-21-10.3-21-10.2-21-10.4-20.9-10.5-21-10.5-21-10.5-21-10.6-21-10.7-20.9-10.7-21-10.8-21-10.8-21-10.8-21-10.9-20.9-10.9-21-10.9-21-10.9-21-10.9-21-11-20.9-10.9-21-11-21-10.9-21-10.9-21-10.9-20.9-10.9-21-10.9-21-10.8-21-10.8-21-10.8-20.9-10.7-21-10.7-21-10.6-21-10.5-21-10.5-20.9-10.5-21-10.4-21-10.2-21-10.3-21-10.1-20.9-10.1-21-9.9-21-9.9"/>
<path d="M1370.5 1209.3l-21-9.9-21-10-21-10-20.9-10.1-21-10.3-21-10.3-21-10.3-21-10.5-20.9-10.5-21-10.5-21-10.6-21-10.7-21-10.7-20.9-10.8-21-10.8-21-10.8-21-10.9-21-10.9-20.9-10.9-21-10.9-21-10.9-21-11-21-10.9-20.9-11-21-10.9-21-10.9-21-11-21-10.8-20.9-10.9-21-10.8-21-10.8-21-10.8-21-10.7-20.9-10.7-21-10.6-21-10.6-21-10.5-21-10.4-20.9-10.4-21-10.3-21-10.2-21-10.1-21-10.1-20.9-9.9-21-9.9"/>
<path d="M1381.9 1197.6l-21-9.8-21-10-21-10.1-21-10.1-20.9-10.2-21-10.3-21-10.4-21-10.4-21-10.5-20.9-10.6-21-10.6-21-10.7-21-10.7-21-10.8-20.9-10.7-21-10.9-21-10.8-21-10.9-21-10.9-20.9-11-21-10.9-21-11-21-10.9-21-10.9-20.9-11-21-10.9-21-10.9-21-10.9-21-10.9-20.9-10.8-21-10.8-21-10.8-21-10.7-21-10.6-20.9-10.7-21-10.5-21-10.5-21-10.5-21-10.3-20.9-10.3-21-10.2-21-10.2-21-10-21-10-20.9-9.9"/>
<path d="M1393.2 1186l-20.9-9.9-21-9.9-21-10.1-21-10.1-21-10.2-20.9-10.3-21-10.4-21-10.4-21-10.5-21-10.6-20.9-10.6-21-10.7-21-10.7-21-10.8-21-10.8-20.9-10.8-21-10.9-21-10.8-21-11-21-10.9-20.9-10.9-21-11-21-10.9-21-11-21-10.9-20.9-10.9-21-10.9-21-10.9-21-10.9-21-10.8-20.9-10.8-21-10.8-21-10.7-21-10.7-21-10.6-20.9-10.5-21-10.5-21-10.5-21-10.3-21-10.3-20.9-10.3-21-10.1-21-10-21-10-21-9.9"/>
<path d="M1404.6 1174.5l-21-9.9-20.9-10-21-10-21-10.2-21-10.2-21-10.3-20.9-10.4-21-10.4-21-10.5-21-10.6-21-10.6-20.9-10.6-21-10.8-21-10.7-21-10.8-21-10.9-20.9-10.8-21-10.9-21-10.9-21-10.9-21-11-20.9-10.9-21-11-21-10.9-21-11-21-10.9-20.9-10.9-21-10.9-21-10.8-21-10.9-21-10.8-20.9-10.7-21-10.7-21-10.7-21-10.6-21-10.6-20.9-10.5-21-10.4-21-10.4-21-10.3-21-10.2-20.9-10.1-21-10.1-21-10-21-9.8"/>
<path d="M1416 1162.9l-21-9.8-21-10-20.9-10.1-21-10.1-21-10.2-21-10.3-21-10.4-20.9-10.4-21-10.5-21-10.6-21-10.6-21-10.7-20.9-10.7-21-10.7-21-10.8-21-10.9-21-10.8-20.9-10.9-21-10.9-21-10.9-21-11-21-10.9-20.9-11-21-10.9-21-11-21-10.9-21-10.9-20.9-10.9-21-10.8-21-10.9-21-10.8-21-10.7-20.9-10.8-21-10.6-21-10.6-21-10.6-21-10.5-20.9-10.4-21-10.4-21-10.3-21-10.2-21-10.2-20.9-10-21-10-21-9.9"/>
<path d="M1427.4 1151.5l-21-9.9-21-10-21-10-20.9-10.1-21-10.3-21-10.3-21-10.3-21-10.5-20.9-10.5-21-10.5-21-10.6-21-10.7-21-10.7-20.9-10.8-21-10.8-21-10.8-21-10.9-21-10.9-20.9-10.9-21-10.9-21-10.9-21-11-21-10.9-20.9-11-21-10.9-21-10.9-21-11-21-10.8-20.9-10.9-21-10.8-21-10.8-21-10.8-21-10.7-20.9-10.7-21-10.6-21-10.6-21-10.5-21-10.4-20.9-10.4-21-10.3-21-10.2-21-10.1-21-10.1-20.9-9.9-21-9.9"/>
<path d="M1438.8 1140.1l-21-9.9-21-10-21-10-21-10.2-20.9-10.2-21-10.3-21-10.3-21-10.5-21-10.5-20.9-10.5-21-10.7-21-10.6-21-10.7-21-10.8-20.9-10.8-21-10.8-21-10.9-21-10.9-21-10.9-20.9-10.9-21-11-21-10.9-21-10.9-21-11-20.9-10.9-21-11-21-10.9-21-10.9-21-10.8-20.9-10.8-21-10.8-21-10.8-21-10.7-21-10.7-20.9-10.6-21-10.6-21-10.5-21-10.4-21-10.4-20.9-10.3-21-10.2-21-10.1-21-10.1-21-9.9-20.9-9.9"/>
<path d="M1450.1 1128.7l-20.9-9.9-21-9.9-21-10.1-21-10.1-21-10.2-20.9-10.3-21-10.4-21-10.4-21-10.5-21-10.6-20.9-10.6-21-10.7-21-10.7-21-10.8-21-10.8-20.9-10.8-21-10.9-21-10.8-21-11-21-10.9-20.9-10.9-21-11-21-10.9-21-10.9-21-11-20.9-10.9-21-10.9-21-10.9-21-10.9-21-10.8-20.9-10.8-21-10.8-21-10.7-21-10.7-21-10.6-20.9-10.5-21-10.5-21-10.5-21-10.3-21-10.3-20.9-10.2-21-10.2-21-10-21-10-21-9.9"/>
<path d="M1461.5 1117.4l-21-9.9-20.9-9.9-21-10.1-21-10.1-21-10.2-21-10.3-20.9-10.4-21-10.4-21-10.5-21-10.6-21-10.6-20.9-10.7-21-10.7-21-10.8-21-10.8-21-10.8-20.9-10.9-21-10.9-21-10.9-21-10.9-21-10.9-20.9-11-21-10.9-21-11-21-10.9-21-10.9-20.9-10.9-21-10.9-21-10.9-21-10.8-21-10.8-20.9-10.8-21-10.7-21-10.7-21-10.6-21-10.5-20.9-10.5-21-10.5-21-10.3-21-10.3-21-10.3-20.9-10.1-21-10.1-21-9.9-21-9.9"/>
<path d="M1472.9 1106.1l-21-9.8-21-10-20.9-10-21-10.2-21-10.2-21-10.3-21-10.4-20.9-10.4-21-10.5-21-10.6-21-10.6-21-10.7-20.9-10.7-21-10.7-21-10.8-21-10.9-21-10.8-20.9-10.9-21-10.9-21-10.9-21-11-21-10.9-20.9-11-21-10.9-21-11-21-10.9-21-10.9-20.9-10.9-21-10.8-21-10.9-21-10.8-21-10.7-20.9-10.8-21-10.6-21-10.6-21-10.6-21-10.5-20.9-10.4-21-10.4-21-10.3-21-10.2-21-10.2-20.9-10-21-10-21-9.9"/>
<path d="M1484.3 1094.9l-21-9.8-21-10-21-10.1-20.9-10.1-21-10.2-21-10.3-21-10.4-21-10.4-20.9-10.5-21-10.6-21-10.6-21-10.7-21-10.7-20.9-10.7-21-10.8-21-10.9-21-10.8-21-10.9-20.9-10.9-21-11-21-10.9-21-10.9-21-11-20.9-10.9-21-11-21-10.9-21-10.9-21-10.9-20.9-10.9-21-10.8-21-10.8-21-10.8-21-10.7-20.9-10.6-21-10.7-21-10.5-21-10.5-21-10.5-20.9-10.3-21-10.3-21-10.2-21-10.2-21-10-20.9-10-21-9.9"/>
<path d="M1495.7 1083.8l-21-9.9-21-10-21-10-21-10.2-20.9-10.2-21-10.3-21-10.3-21-10.5-21-10.5-20.9-10.5-21-10.7-21-10.6-21-10.7-21-10.8-20.9-10.8-21-10.8-21-10.9-21-10.9-21-10.9-20.9-10.9-21-11-21-10.9-21-11-21-10.9-20.9-10.9-21-11-21-10.9-21-10.9-21-10.8-20.9-10.9-21-10.8-21-10.7-21-10.7-21-10.7-20.9-10.6-21-10.6-21-10.5-21-10.4-21-10.4-20.9-10.3-21-10.2-21-10.1-21-10.1-21-10-20.9-9.8"/>
<path d="M1507 1072.7l-20.9-9.9-21-10-21-10-21-10.2-21-10.2-20.9-10.3-21-10.4-21-10.4-21-10.5-21-10.6-20.9-10.6-21-10.6-21-10.8-21-10.7-21-10.8-20.9-10.9-21-10.8-21-10.9-21-10.9-21-10.9-20.9-11-21-10.9-21-11-21-10.9-21-11-20.9-10.9-21-10.9-21-10.9-21-10.8-21-10.9-20.9-10.8-21-10.7-21-10.8-21-10.6-21-10.6-20.9-10.6-21-10.5-21-10.4-21-10.4-21-10.3-20.9-10.2-21-10.2-21-10-21-10-21-9.9"/>
<path d="M1518.4 1061.6l-21-9.9-20.9-10-21-10-21-10.2-21-10.2-21-10.3-20.9-10.3-21-10.5-21-10.5-21-10.5-21-10.6-20.9-10.7-21-10.7-21-10.8-21-10.8-21-10.8-20.9-10.9-21-10.9-21-10.9-21-10.9-21-11-20.9-10.9-21-10.9-21-11-21-10.9-21-11-20.9-10.9-21-10.8-21-10.9-21-10.8-21-10.8-20.9-10.8-21-10.7-21-10.7-21-10.6-21-10.6-20.9-10.5-21-10.4-21-10.4-21-10.3-21-10.2-20.9-10.1-21-10.1-21-9.9-21-9.9"/>
<path d="M1529.8 1050.6l-21-9.9-21-10-20.9-10-21-10.2-21-10.2-21-10.3-21-10.4-20.9-10.4-21-10.5-21-10.6-21-10.6-21-10.6-20.9-10.8-21-10.7-21-10.8-21-10.8-21-10.9-20.9-10.9-21-10.9-21-10.9-21-11-21-10.9-20.9-11-21-10.9-21-10.9-21-11-21-10.9-20.9-10.9-21-10.8-21-10.9-21-10.8-21-10.7-20.9-10.7-21-10.7-21-10.6-21-10.6-21-10.5-20.9-10.4-21-10.4-21-10.3-21-10.2-21-10.1-20.9-10.1-21-10-21-9.8"/>
<path d="M1541.2 1039.6l-21-9.9-21-10-21-10-20.9-10.2-21-10.2-21-10.3-21-10.3-21-10.5-20.9-10.5-21-10.5-21-10.6-21-10.7-21-10.7-20.9-10.8-21-10.8-21-10.8-21-10.9-21-10.9-20.9-10.9-21-10.9-21-11-21-10.9-21-10.9-20.9-11-21-10.9-21-11-21-10.9-21-10.8-20.9-10.9-21-10.8-21-10.8-21-10.8-21-10.7-20.9-10.7-21-10.6-21-10.6-21-10.5-21-10.4-20.9-10.4-21-10.3-21-10.2-21-10.1-21-10.1-20.9-9.9-21-9.9"/>
<path d="M1552.6 1028.7l-21-9.9-21-10-21-10-21-10.2-20.9-10.2-21-10.3-21-10.4-21-10.4-21-10.5-20.9-10.6-21-10.6-21-10.6-21-10.8-21-10.7-20.9-10.8-21-10.9-21-10.8-21-10.9-21-10.9-20.9-10.9-21-11-21-10.9-21-11-21-10.9-20.9-11-21-10.9-21-10.9-21-10.9-21-10.8-20.9-10.9-21-10.8-21-10.7-21-10.8-21-10.6-20.9-10.6-21-10.6-21-10.5-21-10.4-21-10.4-20.9-10.3-21-10.2-21-10.2-21-10-21-10-20.9-9.9"/>
<path d="M1563.9 1017.8l-20.9-9.9-21-10-21-10-21-10.2-21-10.2-20.9-10.3-21-10.4-21-10.4-21-10.5-21-10.5-20.9-10.7-21-10.6-21-10.7-21-10.8-21-10.8-20.9-10.8-21-10.9-21-10.9-21-10.9-21-10.9-20.9-11-21-10.9-21-11-21-10.9-21-10.9-20.9-11-21-10.9-21-10.9-21-10.8-21-10.9-20.9-10.8-21-10.7-21-10.7-21-10.7-21-10.6-20.9-10.6-21-10.5-21-10.4-21-10.4-21-10.3-20.9-10.2-21-10.1-21-10.1-21-10-21-9.8"/>
<path d="M1575.3 1006.9l-21-9.8-20.9-10-21-10.1-21-10.1-21-10.2-21-10.3-20.9-10.4-21-10.4-21-10.5-21-10.6-21-10.6-20.9-10.7-21-10.7-21-10.7-21-10.8-21-10.9-20.9-10.8-21-10.9-21-10.9-21-11-21-10.9-20.9-11-21-10.9-21-10.9-21-11-21-10.9-20.9-10.9-21-10.9-21-10.9-21-10.8-21-10.8-20.9-10.8-21-10.7-21-10.6-21-10.7-21-10.5-20.9-10.5-21-10.5-21-10.3-21-10.3-21-10.2-20.9-10.2-21-10-21-10-21-9.9"/>
<path d="M1586.7 996.1l-21-9.8-21-10-20.9-10.1-21-10.1-21-10.2-21-10.3-21-10.4-20.9-10.4-21-10.5-21-10.6-21-10.6-21-10.7-20.9-10.7-21-10.7-21-10.8-21-10.9-21-10.8-20.9-10.9-21-10.9-21-11-21-10.9-21-10.9-20.9-11-21-10.9-21-11-21-10.9-21-10.9-20.9-10.9-21-10.9-21-10.8-21-10.8-21-10.8-20.9-10.7-21-10.6-21-10.7-21-10.5-21-10.5-20.9-10.5-21-10.3-21-10.3-21-10.2-21-10.2-20.9-10-21-10-21-9.9"/>
<path d="M1598.1 985.4l-21-9.9-21-10-21-10-20.9-10.2-21-10.2-21-10.3-21-10.3-21-10.5-20.9-10.5-21-10.5-21-10.6-21-10.7-21-10.7-20.9-10.8-21-10.8-21-10.8-21-10.9-21-10.9-20.9-10.9-21-10.9-21-11-21-10.9-21-10.9-20.9-11-21-10.9-21-11-21-10.9-21-10.8-20.9-10.9-21-10.8-21-10.8-21-10.8-21-10.7-20.9-10.7-21-10.6-21-10.6-21-10.5-21-10.4-20.9-10.4-21-10.3-21-10.2-21-10.1-21-10.1-20.9-9.9-21-9.9"/>
<path d="M1609.5 974.7l-21-9.9-21-10-21-10-21-10.2-20.9-10.2-21-10.3-21-10.3-21-10.5-21-10.5-20.9-10.5-21-10.7-21-10.6-21-10.7-21-10.8-20.9-10.8-21-10.8-21-10.9-21-10.9-21-10.9-20.9-10.9-21-11-21-10.9-21-10.9-21-11-20.9-10.9-21-11-21-10.9-21-10.9-21-10.8-20.9-10.9-21-10.8-21-10.7-21-10.7-21-10.7-20.9-10.6-21-10.6-21-10.5-21-10.4-21-10.4-20.9-10.3-21-10.2-21-10.1-21-10.1-21-10-20.9-9.8"/>
<path d="M1620.8 964l-20.9-9.9-21-9.9-21-10.1-21-10.1-21-10.2-20.9-10.3-21-10.4-21-10.4-21-10.5-21-10.6-20.9-10.6-21-10.7-21-10.7-21-10.8-21-10.8-20.9-10.8-21-10.9-21-10.8-21-11-21-10.9-20.9-10.9-21-11-21-10.9-21-11-21-10.9-20.9-10.9-21-10.9-21-10.9-21-10.9-21-10.8-20.9-10.8-21-10.8-21-10.7-21-10.7-21-10.6-20.9-10.5-21-10.5-21-10.5-21-10.3-21-10.3-20.9-10.3-21-10.1-21-10-21-10-21-9.9"/>
<path d="M1632.2 953.4l-21-9.9-20.9-9.9-21-10.1-21-10.1-21-10.3-21-10.3-20.9-10.3-21-10.5-21-10.5-21-10.5-21-10.6-20.9-10.7-21-10.7-21-10.8-21-10.8-21-10.8-20.9-10.9-21-10.9-21-10.9-21-10.9-21-10.9-20.9-11-21-10.9-21-11-21-10.9-21-10.9-20.9-10.9-21-10.9-21-10.9-21-10.8-21-10.8-20.9-10.8-21-10.7-21-10.7-21-10.6-21-10.6-20.9-10.5-21-10.4-21-10.4-21-10.3-21-10.2-20.9-10.1-21-10.1-21-9.9-21-9.9"/>
<path d="M1643.6 942.8l-21-9.9-21-9.9-20.9-10.1-21-10.1-21-10.2-21-10.3-21-10.4-20.9-10.4-21-10.5-21-10.6-21-10.6-21-10.7-20.9-10.7-21-10.8-21-10.8-21-10.8-21-10.9-20.9-10.8-21-11-21-10.9-21-10.9-21-11-20.9-10.9-21-11-21-10.9-21-10.9-21-10.9-20.9-10.9-21-10.9-21-10.8-21-10.8-21-10.8-20.9-10.7-21-10.7-21-10.6-21-10.5-21-10.5-20.9-10.5-21-10.3-21-10.3-21-10.2-21-10.2-20.9-10-21-10-21-9.9"/>
<path d="M1655 932.3l-21-9.9-21-10-21-10-20.9-10.2-21-10.2-21-10.3-21-10.3-21-10.5-20.9-10.5-21-10.5-21-10.6-21-10.7-21-10.7-20.9-10.8-21-10.8-21-10.8-21-10.9-21-10.9-20.9-10.9-21-10.9-21-10.9-21-11-21-10.9-20.9-11-21-10.9-21-10.9-21-11-21-10.8-20.9-10.9-21-10.8-21-10.8-21-10.8-21-10.7-20.9-10.7-21-10.6-21-10.6-21-10.5-21-10.4-20.9-10.4-21-10.3-21-10.2-21-10.1-21-10.1-20.9-9.9-21-9.9"/>
<path d="M1666.4 921.8l-21-9.9-21-9.9-21-10.1-21-10.1-20.9-10.3-21-10.3-21-10.3-21-10.5-21-10.5-20.9-10.5-21-10.6-21-10.7-21-10.7-21-10.8-20.9-10.8-21-10.8-21-10.9-21-10.9-21-10.9-20.9-10.9-21-10.9-21-11-21-10.9-21-11-20.9-10.9-21-10.9-21-10.9-21-10.9-21-10.9-20.9-10.8-21-10.8-21-10.8-21-10.7-21-10.7-20.9-10.6-21-10.6-21-10.5-21-10.4-21-10.4-20.9-10.3-21-10.2-21-10.1-21-10.1-21-9.9-20.9-9.9"/>
<path d="M1677.7 911.3l-20.9-9.8-21-10-21-10.1-21-10.1-21-10.2-20.9-10.3-21-10.4-21-10.4-21-10.5-21-10.6-20.9-10.6-21-10.7-21-10.7-21-10.7-21-10.8-20.9-10.9-21-10.8-21-10.9-21-10.9-21-11-20.9-10.9-21-10.9-21-11-21-10.9-21-11-20.9-10.9-21-10.9-21-10.9-21-10.8-21-10.9-20.9-10.8-21-10.7-21-10.8-21-10.6-21-10.6-20.9-10.6-21-10.5-21-10.4-21-10.4-21-10.3-20.9-10.2-21-10.2-21-10-21-10-21-9.9"/>
<path d="M1689.1 900.9l-21-9.8-20.9-10-21-10.1-21-10.1-21-10.2-21-10.3-20.9-10.4-21-10.4-21-10.5-21-10.6-21-10.6-20.9-10.7-21-10.7-21-10.7-21-10.8-21-10.9-20.9-10.8-21-10.9-21-10.9-21-11-21-10.9-20.9-10.9-21-11-21-10.9-21-11-21-10.9-20.9-10.9-21-10.9-21-10.9-21-10.8-21-10.8-20.9-10.7-21-10.8-21-10.6-21-10.7-21-10.5-20.9-10.5-21-10.4-21-10.4-21-10.3-21-10.2-20.9-10.2-21-10-21-10-21-9.9"/>
<path d="M1700.5 890.6l-21-9.9-21-10-20.9-10-21-10.2-21-10.2-21-10.3-21-10.3-20.9-10.5-21-10.5-21-10.5-21-10.7-21-10.6-20.9-10.7-21-10.8-21-10.8-21-10.8-21-10.9-20.9-10.9-21-10.9-21-10.9-21-11-21-10.9-20.9-11-21-10.9-21-10.9-21-11-21-10.9-20.9-10.9-21-10.8-21-10.9-21-10.8-21-10.7-20.9-10.7-21-10.7-21-10.6-21-10.6-21-10.5-20.9-10.4-21-10.4-21-10.3-21-10.2-21-10.1-20.9-10.1-21-10-21-9.8"/>
<path d="M1711.9 880.2l-21-9.8-21-10-21-10.1-20.9-10.1-21-10.2-21-10.3-21-10.4-21-10.4-20.9-10.5-21-10.6-21-10.6-21-10.7-21-10.7-20.9-10.7-21-10.8-21-10.9-21-10.8-21-10.9-20.9-10.9-21-10.9-21-11-21-10.9-21-11-20.9-10.9-21-11-21-10.9-21-10.9-21-10.9-20.9-10.8-21-10.9-21-10.8-21-10.7-21-10.8-20.9-10.6-21-10.6-21-10.6-21-10.5-21-10.4-20.9-10.4-21-10.3-21-10.2-21-10.2-21-10-20.9-10-21-9.9"/>
<path d="M1723.3 870l-21-9.9-21-10-21-10-21-10.2-20.9-10.2-21-10.3-21-10.4-21-10.4-21-10.5-20.9-10.6-21-10.6-21-10.6-21-10.8-21-10.7-20.9-10.8-21-10.8-21-10.9-21-10.9-21-10.9-20.9-10.9-21-11-21-10.9-21-11-21-10.9-20.9-10.9-21-11-21-10.9-21-10.9-21-10.8-20.9-10.9-21-10.8-21-10.7-21-10.7-21-10.7-20.9-10.6-21-10.6-21-10.5-21-10.4-21-10.4-20.9-10.3-21-10.2-21-10.1-21-10.1-21-10-20.9-9.8"/>
<path d="M1734.6 859.7l-20.9-9.9-21-9.9-21-10.1-21-10.1-21-10.2-20.9-10.3-21-10.4-21-10.4-21-10.5-21-10.6-20.9-10.6-21-10.7-21-10.7-21-10.8-21-10.8-20.9-10.8-21-10.9-21-10.8-21-11-21-10.9-20.9-10.9-21-11-21-10.9-21-11-21-10.9-20.9-10.9-21-10.9-21-10.9-21-10.9-21-10.8-20.9-10.8-21-10.8-21-10.7-21-10.7-21-10.6-20.9-10.5-21-10.5-21-10.5-21-10.3-21-10.3-20.9-10.3-21-10.1-21-10-21-10-21-9.9"/>
<path d="M1746 849.5l-21-9.9-20.9-9.9-21-10.1-21-10.1-21-10.2-21-10.3-20.9-10.4-21-10.4-21-10.5-21-10.6-21-10.6-20.9-10.7-21-10.7-21-10.8-21-10.8-21-10.8-20.9-10.9-21-10.8-21-11-21-10.9-21-10.9-20.9-11-21-10.9-21-11-21-10.9-21-10.9-20.9-10.9-21-10.9-21-10.9-21-10.8-21-10.8-20.9-10.8-21-10.7-21-10.7-21-10.6-21-10.5-20.9-10.5-21-10.5-21-10.3-21-10.3-21-10.3-20.9-10.1-21-10-21-10-21-9.9"/>
<path d="M1757.4 839.3l-21-9.8-21-10-20.9-10.1-21-10.1-21-10.2-21-10.3-21-10.4-20.9-10.4-21-10.5-21-10.6-21-10.6-21-10.7-20.9-10.7-21-10.7-21-10.8-21-10.9-21-10.8-20.9-10.9-21-10.9-21-11-21-10.9-21-10.9-20.9-11-21-10.9-21-11-21-10.9-21-10.9-20.9-10.9-21-10.8-21-10.9-21-10.8-21-10.7-20.9-10.8-21-10.6-21-10.6-21-10.6-21-10.5-20.9-10.4-21-10.4-21-10.3-21-10.2-21-10.2-20.9-10-21-10-21-9.9"/>
<path d="M1768.8 829.2l-21-9.9-21-9.9-21-10.1-20.9-10.1-21-10.2-21-10.3-21-10.4-21-10.4-20.9-10.5-21-10.6-21-10.6-21-10.7-21-10.7-20.9-10.8-21-10.8-21-10.8-21-10.9-21-10.8-20.9-11-21-10.9-21-10.9-21-11-21-10.9-20.9-10.9-21-11-21-10.9-21-10.9-21-10.9-20.9-10.9-21-10.8-21-10.8-21-10.8-21-10.7-20.9-10.7-21-10.6-21-10.5-21-10.5-21-10.5-20.9-10.3-21-10.3-21-10.2-21-10.2-21-10-20.9-10-21-9.9"/>
<path d="M1780.2 819.1l-21-9.8-21-10-21-10.1-21-10.1-20.9-10.2-21-10.3-21-10.4-21-10.4-21-10.5-20.9-10.6-21-10.6-21-10.7-21-10.7-21-10.7-20.9-10.8-21-10.9-21-10.8-21-10.9-21-10.9-20.9-11-21-10.9-21-10.9-21-11-21-10.9-20.9-11-21-10.9-21-10.9-21-10.9-21-10.9-20.9-10.8-21-10.8-21-10.8-21-10.7-21-10.6-20.9-10.7-21-10.5-21-10.5-21-10.5-21-10.3-20.9-10.3-21-10.2-21-10.2-21-10-21-10-20.9-9.9"/>
<path d="M1791.5 809.1l-20.9-9.9-21-10-21-10-21-10.2-21-10.2-20.9-10.3-21-10.3-21-10.5-21-10.5-21-10.5-20.9-10.6-21-10.7-21-10.7-21-10.8-21-10.8-20.9-10.8-21-10.9-21-10.9-21-10.9-21-10.9-20.9-11-21-10.9-21-10.9-21-11-21-10.9-20.9-11-21-10.9-21-10.9-21-10.8-21-10.8-20.9-10.8-21-10.8-21-10.7-21-10.7-21-10.6-20.9-10.6-21-10.5-21-10.4-21-10.4-21-10.3-20.9-10.2-21-10.1-21-10.1-21-9.9-21-9.9"/>
<path d="M1802.9 799.1l-21-9.9-20.9-10-21-10-21-10.2-21-10.2-21-10.3-20.9-10.3-21-10.5-21-10.5-21-10.5-21-10.7-20.9-10.6-21-10.7-21-10.8-21-10.8-21-10.8-20.9-10.9-21-10.9-21-10.9-21-10.9-21-11-20.9-10.9-21-11-21-10.9-21-10.9-21-11-20.9-10.9-21-10.9-21-10.8-21-10.9-21-10.8-20.9-10.7-21-10.7-21-10.7-21-10.6-21-10.6-20.9-10.5-21-10.4-21-10.4-21-10.3-21-10.2-20.9-10.1-21-10.1-21-10-21-9.8"/>
<path d="M1814.3 789.1l-21-9.9-21-9.9-20.9-10.1-21-10.1-21-10.3-21-10.3-21-10.3-20.9-10.5-21-10.5-21-10.5-21-10.6-21-10.7-20.9-10.7-21-10.8-21-10.8-21-10.8-21-10.9-20.9-10.9-21-10.9-21-10.9-21-10.9-21-11-20.9-10.9-21-11-21-10.9-21-10.9-21-10.9-20.9-10.9-21-10.9-21-10.8-21-10.8-21-10.8-20.9-10.7-21-10.7-21-10.6-21-10.6-21-10.5-20.9-10.4-21-10.4-21-10.3-21-10.2-21-10.1-20.9-10.1-21-9.9-21-9.9"/>
<path d="M1825.7 779.2l-21-9.9-21-10-21-10-20.9-10.2-21-10.2-21-10.3-21-10.4-21-10.4-20.9-10.5-21-10.6-21-10.6-21-10.6-21-10.8-20.9-10.7-21-10.8-21-10.9-21-10.8-21-10.9-20.9-10.9-21-10.9-21-11-21-10.9-21-11-20.9-10.9-21-11-21-10.9-21-10.9-21-10.9-20.9-10.8-21-10.9-21-10.8-21-10.7-21-10.7-20.9-10.7-21-10.6-21-10.6-21-10.5-21-10.4-20.9-10.4-21-10.3-21-10.2-21-10.2-21-10-20.9-10-21-9.8"/>
<path d="M1837.1 769.3l-21-9.9-21-10-21-10-21-10.2-20.9-10.2-21-10.3-21-10.4-21-10.4-21-10.5-20.9-10.6-21-10.6-21-10.6-21-10.8-21-10.7-20.9-10.8-21-10.9-21-10.8-21-10.9-21-10.9-20.9-10.9-21-11-21-10.9-21-11-21-10.9-20.9-11-21-10.9-21-10.9-21-10.9-21-10.8-20.9-10.9-21-10.8-21-10.7-21-10.8-21-10.6-20.9-10.6-21-10.6-21-10.5-21-10.4-21-10.4-20.9-10.3-21-10.2-21-10.2-21-10-21-10-20.9-9.9"/>
<path d="M1848.4 759.4l-20.9-9.9-21-10-21-10-21-10.1-21-10.3-20.9-10.3-21-10.3-21-10.5-21-10.5-21-10.5-20.9-10.6-21-10.7-21-10.7-21-10.8-21-10.8-20.9-10.8-21-10.9-21-10.9-21-10.9-21-10.9-20.9-10.9-21-11-21-10.9-21-11-21-10.9-20.9-10.9-21-11-21-10.8-21-10.9-21-10.8-20.9-10.8-21-10.8-21-10.7-21-10.7-21-10.6-20.9-10.6-21-10.5-21-10.4-21-10.4-21-10.3-20.9-10.2-21-10.1-21-10.1-21-9.9-21-9.9"/>
<path d="M1859.8 749.6l-21-9.9-20.9-10-21-10-21-10.2-21-10.2-21-10.3-20.9-10.4-21-10.4-21-10.5-21-10.6-21-10.6-20.9-10.6-21-10.8-21-10.7-21-10.8-21-10.8-20.9-10.9-21-10.9-21-10.9-21-10.9-21-11-20.9-10.9-21-11-21-10.9-21-10.9-21-11-20.9-10.9-21-10.9-21-10.8-21-10.9-21-10.8-20.9-10.7-21-10.7-21-10.7-21-10.6-21-10.6-20.9-10.5-21-10.4-21-10.4-21-10.3-21-10.2-20.9-10.1-21-10.1-21-10-21-9.8"/>
<path d="M1871.2 739.8l-21-9.9-21-10-20.9-10-21-10.2-21-10.2-21-10.3-21-10.4-20.9-10.4-21-10.5-21-10.5-21-10.7-21-10.6-20.9-10.8-21-10.7-21-10.8-21-10.8-21-10.9-20.9-10.9-21-10.9-21-10.9-21-11-21-10.9-20.9-11-21-10.9-21-10.9-21-11-21-10.9-20.9-10.9-21-10.8-21-10.9-21-10.8-21-10.7-20.9-10.7-21-10.7-21-10.6-21-10.6-21-10.5-20.9-10.4-21-10.4-21-10.3-21-10.2-21-10.1-20.9-10.1-21-10-21-9.8"/>
<path d="M1882.6 730l-21-9.9-21-9.9-21-10.1-20.9-10.1-21-10.2-21-10.3-21-10.4-21-10.4-20.9-10.5-21-10.6-21-10.6-21-10.7-21-10.7-20.9-10.8-21-10.8-21-10.8-21-10.9-21-10.9-20.9-10.9-21-10.9-21-10.9-21-11-21-10.9-20.9-11-21-10.9-21-10.9-21-10.9-21-10.9-20.9-10.9-21-10.8-21-10.8-21-10.8-21-10.7-20.9-10.7-21-10.6-21-10.5-21-10.5-21-10.5-20.9-10.3-21-10.3-21-10.3-21-10.1-21-10.1-20.9-9.9-21-9.9"/>
<path d="M1894 720.3l-21-9.9-21-10-21-10-21-10.2-20.9-10.2-21-10.3-21-10.3-21-10.5-21-10.5-20.9-10.5-21-10.6-21-10.7-21-10.7-21-10.8-20.9-10.8-21-10.8-21-10.9-21-10.9-21-10.9-20.9-10.9-21-11-21-10.9-21-10.9-21-11-20.9-10.9-21-10.9-21-11-21-10.8-21-10.9-20.9-10.8-21-10.8-21-10.8-21-10.7-21-10.7-20.9-10.6-21-10.6-21-10.5-21-10.4-21-10.4-20.9-10.3-21-10.2-21-10.1-21-10.1-21-9.9-20.9-9.9"/>
<path d="M1905.3 710.6l-20.9-9.9-21-9.9-21-10.1-21-10.1-21-10.3-20.9-10.3-21-10.3-21-10.5-21-10.5-21-10.5-20.9-10.6-21-10.7-21-10.7-21-10.8-21-10.8-20.9-10.8-21-10.9-21-10.9-21-10.9-21-10.9-20.9-10.9-21-11-21-10.9-21-11-21-10.9-20.9-10.9-21-10.9-21-10.9-21-10.9-21-10.8-20.9-10.8-21-10.8-21-10.7-21-10.7-21-10.6-20.9-10.6-21-10.5-21-10.4-21-10.4-21-10.3-20.9-10.2-21-10.1-21-10.1-21-9.9-21-9.9"/>
<path d="M1916.7 700.9l-21-9.8-20.9-10-21-10.1-21-10.1-21-10.2-21-10.3-20.9-10.4-21-10.4-21-10.5-21-10.6-21-10.6-20.9-10.7-21-10.7-21-10.7-21-10.8-21-10.9-20.9-10.8-21-10.9-21-10.9-21-11-21-10.9-20.9-10.9-21-11-21-10.9-21-11-21-10.9-20.9-10.9-21-10.9-21-10.9-21-10.8-21-10.8-20.9-10.7-21-10.8-21-10.6-21-10.7-21-10.5-20.9-10.5-21-10.4-21-10.4-21-10.3-21-10.2-20.9-10.2-21-10-21-10-21-9.9"/>
<path d="M1928.1 691.3l-21-9.9-21-9.9-20.9-10.1-21-10.1-21-10.2-21-10.3-21-10.4-20.9-10.4-21-10.5-21-10.6-21-10.6-21-10.7-20.9-10.7-21-10.8-21-10.8-21-10.8-21-10.9-20.9-10.8-21-11-21-10.9-21-10.9-21-11-20.9-10.9-21-11-21-10.9-21-10.9-21-10.9-20.9-10.9-21-10.9-21-10.8-21-10.8-21-10.8-20.9-10.7-21-10.7-21-10.6-21-10.5-21-10.5-20.9-10.5-21-10.3-21-10.3-21-10.3-21-10.1-20.9-10-21-10-21-9.9"/>
<path d="M1939.5 681.7l-21-9.8-21-10-21-10.1-20.9-10.1-21-10.2-21-10.3-21-10.4-21-10.4-20.9-10.5-21-10.6-21-10.6-21-10.7-21-10.7-20.9-10.7-21-10.8-21-10.9-21-10.8-21-10.9-20.9-10.9-21-11-21-10.9-21-11-21-10.9-20.9-10.9-21-11-21-10.9-21-10.9-21-10.9-20.9-10.9-21-10.8-21-10.8-21-10.8-21-10.7-20.9-10.6-21-10.7-21-10.5-21-10.5-21-10.5-20.9-10.3-21-10.3-21-10.2-21-10.2-21-10-20.9-10-21-9.9"/>
<path d="M1950.9 672.2l-21-9.9-21-10-21-10-21-10.2-20.9-10.2-21-10.3-21-10.3-21-10.5-21-10.5-20.9-10.5-21-10.7-21-10.6-21-10.7-21-10.8-20.9-10.8-21-10.8-21-10.9-21-10.9-21-10.9-20.9-10.9-21-11-21-10.9-21-11-21-10.9-20.9-10.9-21-11-21-10.9-21-10.9-21-10.8-20.9-10.9-21-10.8-21-10.7-21-10.7-21-10.7-20.9-10.6-21-10.6-21-10.5-21-10.4-21-10.4-20.9-10.3-21-10.2-21-10.1-21-10.1-21-10-20.9-9.8"/>
<path d="M1962.2 662.6l-20.9-9.8-21-10-21-10-21-10.2-21-10.2-20.9-10.3-21-10.4-21-10.4-21-10.5-21-10.6-20.9-10.6-21-10.7-21-10.7-21-10.7-21-10.8-20.9-10.9-21-10.8-21-10.9-21-10.9-21-10.9-20.9-11-21-10.9-21-11-21-10.9-21-11-20.9-10.9-21-10.9-21-10.9-21-10.8-21-10.9-20.9-10.8-21-10.7-21-10.8-21-10.6-21-10.6-20.9-10.6-21-10.5-21-10.4-21-10.4-21-10.3-20.9-10.2-21-10.2-21-10-21-10-21-9.9"/>
<path d="M1973.6 653.2l-21-9.9-20.9-10-21-10-21-10.2-21-10.2-21-10.3-20.9-10.4-21-10.4-21-10.5-21-10.6-21-10.6-20.9-10.6-21-10.8-21-10.7-21-10.8-21-10.9-20.9-10.8-21-10.9-21-10.9-21-10.9-21-11-20.9-10.9-21-11-21-10.9-21-11-21-10.9-20.9-10.9-21-10.9-21-10.8-21-10.9-21-10.8-20.9-10.7-21-10.7-21-10.7-21-10.6-21-10.6-20.9-10.5-21-10.4-21-10.4-21-10.3-21-10.2-20.9-10.1-21-10.1-21-10-21-9.8"/>
<path d="M1985 643.7l-21-9.9-21-9.9-20.9-10.1-21-10.1-21-10.3-21-10.3-21-10.3-20.9-10.5-21-10.5-21-10.5-21-10.6-21-10.7-20.9-10.7-21-10.8-21-10.8-21-10.8-21-10.9-20.9-10.9-21-10.9-21-10.9-21-10.9-21-11-20.9-10.9-21-11-21-10.9-21-10.9-21-10.9-20.9-10.9-21-10.9-21-10.8-21-10.8-21-10.8-20.9-10.7-21-10.7-21-10.6-21-10.6-21-10.5-20.9-10.4-21-10.4-21-10.3-21-10.2-21-10.1-20.9-10.1-21-9.9-21-9.9"/>
<path d="M1996.4 634.3l-21-9.9-21-10-21-10-20.9-10.2-21-10.2-21-10.3-21-10.3-21-10.5-20.9-10.5-21-10.5-21-10.7-21-10.6-21-10.7-20.9-10.8-21-10.8-21-10.8-21-10.9-21-10.9-20.9-10.9-21-10.9-21-11-21-10.9-21-11-20.9-10.9-21-10.9-21-11-21-10.9-21-10.9-20.9-10.8-21-10.9-21-10.8-21-10.7-21-10.7-20.9-10.7-21-10.6-21-10.6-21-10.5-21-10.4-20.9-10.4-21-10.3-21-10.2-21-10.1-21-10.1-20.9-10-21-9.8"/>
<path d="M2007.8 624.9l-21-9.9-21-10-21-10-21-10.2-20.9-10.2-21-10.3-21-10.3-21-10.5-21-10.5-20.9-10.5-21-10.7-21-10.6-21-10.7-21-10.8-20.9-10.8-21-10.8-21-10.9-21-10.9-21-10.9-20.9-10.9-21-11-21-10.9-21-11-21-10.9-20.9-10.9-21-11-21-10.9-21-10.9-21-10.8-20.9-10.9-21-10.8-21-10.7-21-10.7-21-10.7-20.9-10.6-21-10.6-21-10.5-21-10.4-21-10.4-20.9-10.3-21-10.2-21-10.1-21-10.1-21-10-20.9-9.8"/>
<path d="M2019.1 615.5l-20.9-9.9-21-9.9-21-10.1-21-10.1-21-10.2-20.9-10.3-21-10.4-21-10.4-21-10.5-21-10.6-20.9-10.6-21-10.7-21-10.7-21-10.8-21-10.8-20.9-10.8-21-10.9-21-10.9-21-10.9-21-10.9-20.9-10.9-21-11-21-10.9-21-11-21-10.9-20.9-10.9-21-10.9-21-10.9-21-10.9-21-10.8-20.9-10.8-21-10.8-21-10.7-21-10.7-21-10.6-20.9-10.5-21-10.5-21-10.5-21-10.3-21-10.3-20.9-10.3-21-10.1-21-10.1-21-9.9-21-9.9"/>
<path d="M2030.5 606.2l-21-9.9-20.9-10-21-10-21-10.2-21-10.2-21-10.3-20.9-10.3-21-10.5-21-10.5-21-10.5-21-10.7-20.9-10.6-21-10.7-21-10.8-21-10.8-21-10.8-20.9-10.9-21-10.9-21-10.9-21-10.9-21-11-20.9-10.9-21-11-21-10.9-21-10.9-21-11-20.9-10.9-21-10.9-21-10.8-21-10.9-21-10.8-20.9-10.7-21-10.7-21-10.7-21-10.6-21-10.6-20.9-10.5-21-10.4-21-10.4-21-10.3-21-10.2-20.9-10.1-21-10.1-21-10-21-9.8"/>
<path d="M2041.9 596.9l-21-9.9-21-10-20.9-10-21-10.2-21-10.2-21-10.3-21-10.4-20.9-10.4-21-10.5-21-10.6-21-10.6-21-10.6-20.9-10.8-21-10.7-21-10.8-21-10.8-21-10.9-20.9-10.9-21-10.9-21-10.9-21-11-21-10.9-20.9-11-21-10.9-21-10.9-21-11-21-10.9-20.9-10.9-21-10.8-21-10.9-21-10.8-21-10.7-20.9-10.7-21-10.7-21-10.6-21-10.6-21-10.5-20.9-10.4-21-10.4-21-10.3-21-10.2-21-10.1-20.9-10.1-21-10-21-9.8"/>
</g>
<path fill="none" stroke="#3a3a3a" stroke-width="1.4" d="M187.4 1253.4L1131.5 1574.4M1131.5 1574.4L2041.9 1242.1M187.4 1253.4L187.4 348.1M1131.5 1574.4L1107.4 1583.2M1026.6 1538.7L1002.5 1547.5M921.7 1503.1L897.6 1511.9M816.8 1467.4L792.7 1476.2M711.9 1431.7L687.8 1440.5M607 1396.1L582.9 1404.9M502.1 1360.4L478 1369.2M397.2 1324.7L373.1 1333.5M292.3 1289.1L268.2 1297.9M187.4 1253.4L163.3 1262.2M1131.5 1574.4L1155.8 1582.7M1245.3 1532.9L1269.6 1541.1M1359.1 1491.3L1383.4 1499.6M1472.9 1449.8L1497.2 1458.1M1586.7 1408.2L1611 1416.5M1700.5 1366.7L1724.8 1375M1814.3 1325.2L1838.6 1333.4M1928.1 1283.6L1952.4 1291.9M2041.9 1242.1L2066.2 1250.4M187.4 1253.4L163.1 1245.1M187.4 1072.3L163.1 1064.1M187.4 891.3L163.1 883M187.4 710.2L163.1 701.9M187.4 529.2L163.1 520.9M187.4 348.1L163.1 339.8"/>
<g font-family="'Liberation Serif', 'Times New Roman', serif" font-weight="bold" fill="#212121">
<g font-size="46" text-anchor="end">
<text x="1093.8" y="1632.2">45</text>
<text x="988.9" y="1596.5">55</text>
<text x="884" y="1560.9">65</text>
<text x="779.1" y="1525.2">75</text>
<text x="674.2" y="1489.5">85</text>
<text x="569.3" y="1453.9">95</text>
<text x="464.4" y="1418.2">105</text>
<text x="359.5" y="1382.5">115</text>
<text x="254.6" y="1346.9">125</text>
<text x="149.7" y="1311.2">135</text>
<text x="149.3" y="1257.7">0</text>
<text x="149.3" y="1076.7">0.5</text>
<text x="149.3" y="895.6">1</text>
<text x="149.3" y="714.5">1.5</text>
<text x="149.3" y="533.5">2</text>
<text x="149.3" y="352.4">2.5</text>
</g>
<g font-size="46">
<text x="1169.4" y="1631.3">400</text>
<text x="1283.2" y="1589.7">600</text>
<text x="1397" y="1548.2">800</text>
<text x="1510.8" y="1506.7">1000</text>
<text x="1624.6" y="1465.1">1200</text>
<text x="1738.4" y="1423.6">1400</text>
<text x="1852.2" y="1382">1600</text>
<text x="1966" y="1340.5">1800</text>
<text x="2079.8" y="1299">2000</text>
<text x="114" y="276.9" letter-spacing=".6">10</text>
<text x="77.9" y="282.6" font-size="57" font-weight="normal">×</text>
<text x="160.2" y="254.6" font-size="38">4</text>
</g>
<g font-size="77">
<text x="98.5" y="1636.1" letter-spacing="0.05">Orbital inclination (<tspan font-weight="normal" font-size="86" dy="6.5">°</tspan><tspan dy="-6.5">)</tspan></text>
<text x="1533" y="1642.6" letter-spacing="0.25">Orbit altitude(km)</text>
<text transform="translate(65.2,1174) rotate(-90)" letter-spacing="0.18">Overlapping pixels(m)</text>
</g>
</g>
</svg>
</body></html>
